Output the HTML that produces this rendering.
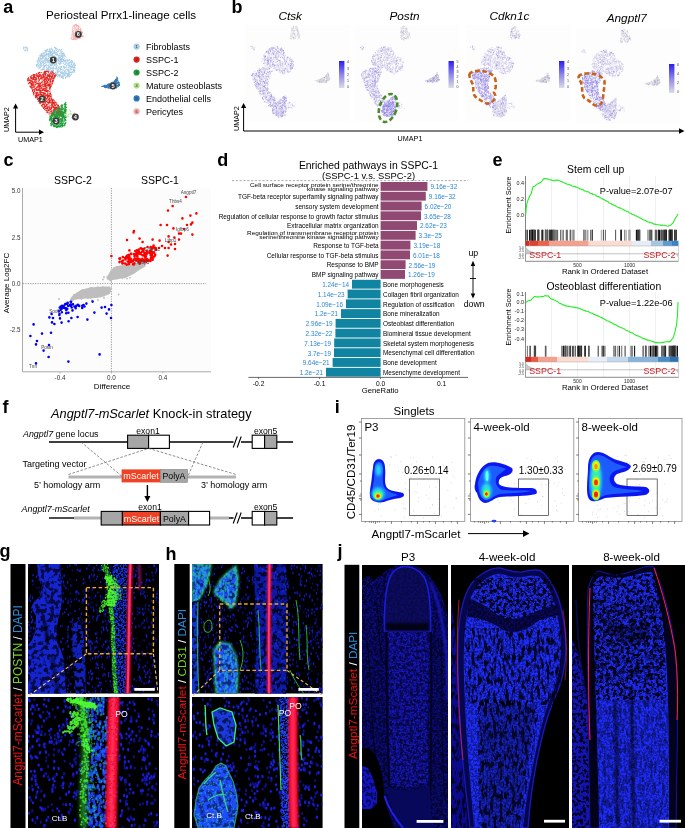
<!DOCTYPE html><html><head><meta charset="utf-8"><style>html,body{margin:0;padding:0;background:#fff;overflow:hidden;width:685px;height:828px;}svg{display:block;position:absolute;left:0;top:0;will-change:transform;} text{font-family:"Liberation Sans",sans-serif;}</style></head><body>
<svg width="685" height="828" viewBox="0 0 685 828">
<rect width="685" height="828" fill="#fff"/>
<text x="3.2" y="13.1" font-size="18" font-weight="bold">a</text>
<text x="46" y="18.5" font-size="11.6">Periosteal Prrx1-lineage cells</text>
<path d="M49.0 51.8h0M57.4 58.7h0M38.3 63.2h0M37.5 60.9h0M53.0 73.5h0M41.0 54.1h0M61.1 77.3h0M59.1 59.7h0M43.2 65.6h0M61.6 58.9h0M57.9 49.0h0M63.2 60.7h0M48.6 65.7h0M54.1 56.6h0M67.8 69.4h0M45.8 65.4h0M57.0 75.0h0M65.2 56.2h0M52.7 71.2h0M42.1 62.6h0M66.6 65.3h0M63.8 66.0h0M59.2 61.6h0M55.0 68.3h0M51.4 68.4h0M36.9 61.8h0M41.2 54.9h0M39.2 61.4h0M58.0 75.3h0M68.8 74.6h0M47.1 60.3h0M43.0 54.4h0M45.3 62.5h0M59.6 55.4h0M50.8 65.1h0M74.1 69.1h0M56.6 66.8h0M72.0 72.0h0M71.0 72.5h0M51.7 59.8h0M40.1 67.3h0M44.4 52.2h0M49.6 48.7h0M40.1 58.6h0M60.6 51.8h0M46.1 58.1h0M50.6 50.9h0M54.6 62.5h0M49.7 55.5h0M57.1 51.7h0M70.5 69.3h0M46.4 58.7h0M57.3 71.9h0M49.2 54.1h0M70.1 72.8h0M68.7 70.7h0M45.1 63.6h0M46.4 69.2h0M44.8 54.3h0M43.9 53.5h0M61.0 75.8h0M69.6 62.3h0M62.1 72.6h0M39.4 68.1h0M72.4 72.0h0M66.0 62.3h0M72.2 72.8h0M75.2 68.0h0M50.0 64.6h0M74.8 67.8h0M46.1 56.4h0M45.6 65.8h0M46.4 60.4h0M50.2 61.7h0M59.3 75.9h0M56.1 64.0h0M53.6 52.9h0M42.9 62.2h0M65.0 64.8h0M49.0 63.6h0M58.2 72.1h0M40.2 64.9h0M45.9 55.9h0M66.9 63.2h0M58.5 71.3h0M72.5 61.2h0M60.5 63.2h0M56.5 69.2h0M54.1 64.1h0M64.0 75.0h0M40.9 61.1h0M38.9 68.4h0M67.4 75.7h0M42.2 69.9h0M62.4 51.6h0M51.9 62.6h0M42.5 60.8h0M56.6 57.9h0M43.8 57.2h0M58.2 61.1h0M61.0 63.4h0M40.2 55.5h0M46.8 51.1h0M58.8 69.4h0M63.5 60.6h0M61.4 72.7h0M54.2 57.9h0M58.1 76.7h0M46.7 51.1h0M57.1 54.6h0M48.5 56.8h0M56.0 52.7h0M65.3 64.6h0M43.6 62.2h0M68.8 60.8h0M55.8 73.7h0M51.7 63.2h0M63.5 78.4h0M64.3 67.4h0M52.2 58.1h0M46.2 52.2h0M70.8 68.5h0M47.3 54.8h0M47.7 61.7h0M42.3 61.3h0M74.9 64.5h0M48.4 58.4h0M55.0 63.1h0M44.0 63.2h0M39.6 59.8h0M48.2 54.4h0M59.4 63.9h0M66.0 68.0h0M64.6 75.1h0M51.6 57.4h0M65.0 67.6h0M71.7 67.1h0M65.4 73.0h0M41.6 63.8h0M56.2 73.7h0M68.2 73.4h0M59.4 75.6h0M63.3 69.2h0M41.3 58.5h0M58.3 67.1h0M61.0 68.8h0M67.9 70.9h0M56.1 64.1h0M65.6 78.2h0M55.8 59.2h0M55.2 68.9h0M66.7 66.7h0M41.9 55.1h0M62.9 69.1h0M63.0 56.3h0M56.7 61.9h0M54.7 50.8h0M54.0 55.6h0M44.4 65.6h0M41.7 63.8h0M68.8 63.3h0M71.5 69.5h0M55.4 47.8h0M54.0 56.7h0M41.6 58.0h0M73.1 69.8h0M50.9 59.6h0M50.4 60.7h0M46.0 55.5h0M56.4 53.1h0M71.4 73.0h0M61.2 76.2h0M73.6 64.6h0M65.3 61.4h0M66.1 67.6h0M54.9 58.0h0M47.9 70.6h0M62.2 56.6h0M58.3 59.6h0M55.9 54.0h0M54.0 51.5h0M49.7 49.9h0M45.6 55.3h0M58.8 75.4h0M66.0 60.2h0M52.6 63.8h0M51.1 57.8h0M56.1 67.1h0M46.8 55.0h0M52.0 61.3h0M71.8 62.1h0M69.0 74.4h0M56.9 68.8h0M73.7 70.1h0M61.9 71.5h0M54.3 64.6h0M61.8 56.7h0M41.1 55.1h0M61.5 69.4h0M57.0 65.7h0M51.5 54.2h0M48.1 61.7h0M74.4 67.6h0M71.4 62.2h0M45.4 54.9h0M74.4 69.5h0M55.9 68.6h0M52.8 55.2h0M62.7 76.6h0M49.5 60.5h0M63.3 53.3h0M67.9 70.7h0M56.2 53.6h0M55.8 53.0h0M44.9 60.3h0M62.6 77.4h0M41.9 59.6h0M38.4 59.6h0M62.6 59.1h0M51.0 57.6h0M47.2 58.2h0M68.9 60.8h0M38.0 62.2h0M43.7 58.7h0M52.4 73.0h0M65.9 75.8h0M49.6 55.7h0M74.3 66.7h0M46.5 69.9h0M48.7 55.8h0M72.7 67.3h0M45.4 62.2h0M51.5 55.0h0M53.2 62.8h0M68.1 70.6h0M68.9 71.7h0M60.3 57.5h0M48.8 58.6h0M37.4 64.7h0M46.6 49.7h0M39.9 63.0h0M64.4 61.3h0M45.4 60.3h0M60.8 68.6h0M65.9 74.1h0M58.7 58.9h0M45.9 54.9h0M59.1 57.4h0M56.3 54.4h0M68.3 67.9h0M55.0 73.2h0M69.6 76.3h0M74.9 65.7h0M70.6 61.4h0M59.8 66.8h0M44.7 58.8h0M41.7 53.5h0M46.2 66.2h0M62.1 53.5h0M63.1 52.9h0M48.5 53.5h0M67.8 64.5h0M51.8 64.6h0M61.6 49.9h0M42.5 69.3h0M52.4 56.1h0M48.5 65.1h0M50.3 60.3h0M50.6 53.3h0M53.0 73.3h0M54.4 52.2h0M36.6 64.6h0M61.6 76.1h0M39.6 66.9h0M50.8 63.1h0M41.8 56.1h0M40.4 62.7h0M55.3 48.7h0M72.2 66.9h0M44.7 59.8h0M56.7 59.3h0M40.9 54.9h0M65.0 75.7h0M37.6 65.0h0M60.0 64.6h0M61.1 56.8h0M52.8 65.6h0M53.0 68.1h0M53.9 61.0h0M36.9 66.8h0M55.6 54.5h0M66.5 72.0h0M54.3 52.7h0M54.9 50.4h0M41.1 60.8h0M39.7 61.1h0M56.4 48.3h0M61.5 49.6h0M65.3 71.9h0M56.5 48.7h0M56.2 59.1h0M65.3 73.1h0M67.5 76.8h0M38.6 58.2h0M44.3 55.4h0M56.2 57.2h0M63.2 75.7h0M40.6 64.0h0M61.5 58.5h0M70.9 64.8h0M59.2 75.2h0M61.2 59.6h0M75.6 65.5h0M50.4 71.5h0M53.7 52.7h0M59.4 68.2h0M60.6 60.8h0M56.5 75.7h0M41.3 54.3h0M40.3 58.4h0M45.0 65.7h0M59.6 53.5h0M61.0 62.2h0M45.7 51.8h0M39.8 67.4h0M70.9 72.0h0M52.1 55.5h0M58.5 58.2h0M61.8 61.2h0M73.5 70.5h0M37.8 64.0h0M52.2 54.6h0M36.5 64.6h0M44.0 66.5h0M56.3 67.5h0M48.4 56.6h0M67.3 69.9h0M65.8 61.9h0M65.7 61.5h0M45.0 50.4h0M49.4 71.0h0M63.8 74.1h0M64.5 55.5h0M58.2 61.0h0M67.5 63.7h0M46.6 67.5h0M46.4 54.6h0M65.8 77.2h0M61.2 69.2h0M62.6 78.3h0M54.8 73.9h0M63.9 74.4h0M53.5 70.2h0M58.8 56.8h0M44.5 66.9h0M49.8 51.5h0M63.7 67.3h0M63.9 70.6h0M38.6 65.9h0M68.8 75.5h0M69.9 73.0h0M61.4 73.4h0M61.3 56.2h0M48.8 60.6h0M47.3 69.9h0M50.7 57.3h0M70.1 66.8h0M37.2 60.2h0M53.5 71.7h0M49.9 69.5h0M57.5 53.9h0M55.7 72.5h0M43.4 62.8h0M47.3 53.9h0M64.0 62.9h0M40.4 67.4h0M63.9 72.2h0M61.1 58.4h0M52.1 59.6h0M44.2 55.4h0M72.0 63.0h0M45.3 61.7h0M57.3 71.1h0M66.1 67.7h0M49.9 57.5h0M62.5 70.7h0M42.8 61.0h0M66.9 65.5h0M41.0 61.8h0M43.7 56.6h0M64.1 74.0h0M45.9 57.5h0M56.9 52.1h0M49.1 53.1h0M75.0 70.3h0M40.1 59.3h0M65.3 60.9h0M43.8 67.4h0M51.5 48.1h0M52.0 72.3h0M63.7 63.0h0M61.3 61.8h0M41.7 66.3h0M52.2 70.7h0M72.3 60.8h0M59.0 71.0h0M52.8 54.3h0M64.9 75.2h0M67.0 69.4h0M70.1 68.7h0M61.7 61.5h0M48.5 67.1h0M39.9 60.4h0M67.3 69.8h0M61.2 55.0h0M52.9 61.6h0M60.9 60.1h0M63.0 76.8h0M43.3 67.9h0M67.1 59.4h0M37.5 64.4h0M73.6 63.6h0M40.0 65.4h0M57.6 70.0h0M56.5 67.5h0M69.2 63.7h0M44.4 68.9h0M51.7 71.4h0M50.2 48.8h0M47.0 59.8h0M52.8 69.3h0M50.1 55.5h0M45.0 70.7h0M73.6 63.9h0M51.7 53.8h0M68.4 67.3h0M54.8 65.0h0M50.1 67.4h0M68.7 73.1h0M54.7 56.4h0M57.9 51.0h0M51.0 55.1h0M53.0 52.9h0M47.2 54.8h0M48.1 62.3h0M53.1 67.4h0M62.4 58.6h0M72.2 72.1h0M62.2 55.0h0M49.9 51.9h0M72.2 72.3h0M60.3 72.0h0M62.7 75.6h0M67.5 73.8h0M43.9 69.2h0M57.2 70.7h0M58.2 55.5h0M45.4 51.5h0M55.7 48.9h0M54.7 51.6h0M55.7 62.9h0M57.6 74.6h0M54.7 65.0h0M62.6 73.9h0M51.0 60.4h0M61.5 67.4h0M37.1 66.5h0M63.3 76.8h0M56.4 62.5h0M64.7 67.0h0M50.6 62.2h0M57.0 71.7h0M44.4 60.9h0M52.9 64.7h0M69.1 59.9h0M56.1 55.7h0M62.2 72.3h0M49.2 57.1h0M48.0 65.8h0M61.4 72.1h0M71.4 64.5h0M72.9 66.5h0M62.3 72.2h0M72.4 66.6h0M60.7 67.1h0M63.9 66.1h0M63.2 53.8h0M62.7 61.7h0M67.0 76.3h0M62.2 58.8h0M68.9 72.2h0M58.5 55.3h0M48.1 60.5h0M48.7 60.8h0M61.7 76.9h0M38.2 65.2h0M68.4 65.4h0M72.7 61.3h0M59.7 77.0h0M52.5 50.3h0M61.8 53.8h0M64.5 74.4h0M61.1 69.7h0M48.4 70.3h0M55.5 48.9h0M50.7 65.4h0M53.5 68.7h0M50.5 67.6h0M61.2 60.4h0M51.4 72.2h0M73.8 72.1h0M58.7 56.4h0M64.1 73.5h0M49.3 66.4h0M60.0 56.9h0M51.1 68.9h0M60.1 75.7h0M52.9 65.8h0M68.6 75.4h0M68.5 74.8h0M58.9 55.8h0M70.0 72.8h0M63.4 76.2h0M49.9 49.7h0M58.1 72.5h0M60.3 68.7h0M54.6 53.6h0M46.2 71.0h0M67.7 61.7h0M59.2 75.7h0M71.4 63.7h0M55.1 65.9h0M43.6 53.2h0M43.2 69.4h0M50.5 65.1h0M52.1 63.6h0M40.2 67.2h0M59.9 58.0h0M70.6 62.6h0M58.7 55.4h0M67.2 60.6h0M73.9 71.6h0M44.0 52.8h0M58.3 74.9h0M59.9 59.7h0M46.3 65.1h0M61.6 77.6h0M62.8 59.6h0M53.9 52.1h0M46.2 58.3h0M67.5 69.7h0M66.2 77.1h0M63.1 56.6h0M59.7 71.3h0M40.2 57.4h0M46.3 51.0h0M55.3 52.4h0M45.5 51.6h0M70.7 75.4h0M41.6 61.3h0M69.7 67.1h0M54.1 57.9h0M68.9 62.3h0M61.1 51.6h0M64.5 64.7h0M46.7 60.2h0M42.2 55.7h0M42.7 62.7h0M62.7 53.8h0M55.1 56.2h0M46.3 53.5h0M39.9 56.3h0M65.1 56.4h0M69.3 63.9h0M43.4 60.9h0M58.9 51.4h0M60.3 62.9h0M47.0 53.6h0M60.5 69.6h0M68.5 65.7h0M65.3 60.1h0M69.7 74.7h0M55.7 47.5h0M72.4 62.3h0M50.7 52.2h0M50.8 66.0h0M53.8 63.5h0M40.8 69.9h0M68.7 74.7h0M48.8 69.8h0M51.3 71.0h0M74.2 62.8h0M56.5 64.0h0M64.0 53.2h0M36.7 66.2h0M59.1 63.7h0M70.8 69.9h0M55.7 63.0h0M47.2 50.9h0M52.2 51.4h0M59.7 74.6h0M41.9 65.3h0M69.0 77.0h0M51.5 60.5h0M69.6 63.8h0M45.6 57.7h0M68.2 76.2h0M68.6 74.1h0M38.1 63.6h0M46.0 60.5h0M61.3 58.7h0M57.2 49.2h0M53.3 63.2h0M74.8 71.9h0M73.5 67.3h0M68.4 75.3h0M61.7 55.5h0M63.1 55.7h0M57.7 76.6h0M60.9 55.0h0M56.8 60.9h0M48.2 67.7h0M40.8 66.0h0M74.2 63.4h0M46.7 61.9h0M57.4 51.7h0M47.7 60.0h0M47.5 54.8h0M39.5 64.5h0M69.6 66.5h0M58.8 67.8h0M44.0 69.7h0M54.4 64.5h0M60.5 62.0h0M48.4 54.8h0M44.9 63.4h0M51.3 65.7h0M58.3 62.7h0M70.9 61.1h0M38.5 59.4h0M53.6 70.5h0M74.4 70.6h0M42.2 57.8h0M50.1 68.6h0M60.7 74.2h0M68.8 63.6h0M65.6 70.8h0M66.4 62.2h0M67.4 69.7h0M66.6 65.7h0M58.9 60.4h0M67.3 74.9h0M60.3 59.1h0M54.1 61.7h0M64.9 56.4h0M51.6 64.8h0M51.4 57.3h0M67.5 74.2h0M56.0 61.2h0M43.4 56.7h0M41.8 65.4h0M59.3 49.8h0M69.7 73.8h0M58.6 62.9h0M72.8 71.8h0M56.7 63.6h0M63.4 59.5h0M50.3 66.0h0M63.1 63.8h0M40.0 59.0h0M52.0 65.0h0M59.0 75.2h0M53.6 67.0h0M57.2 73.1h0M42.8 57.2h0M56.5 50.5h0M71.8 69.1h0M71.5 60.5h0M42.3 56.3h0M56.5 63.2h0M43.5 52.8h0M61.2 66.3h0M52.5 72.2h0M48.3 69.1h0M69.7 65.8h0M62.7 53.3h0M55.9 64.7h0M46.6 67.7h0M59.0 60.2h0M56.9 73.3h0M60.5 72.8h0M64.6 58.3h0M42.8 55.5h0M59.3 58.2h0M54.0 59.3h0M53.6 66.8h0M45.7 59.5h0M55.4 72.4h0M45.7 52.6h0M50.3 53.0h0M58.5 50.7h0M57.4 59.3h0M52.1 49.1h0M50.0 54.8h0M43.6 56.1h0M62.6 57.9h0M42.2 69.6h0M39.7 55.6h0M53.7 73.8h0M50.1 70.1h0M56.2 54.3h0M54.1 51.2h0M64.3 55.3h0M72.0 65.8h0M50.7 54.9h0M60.3 53.8h0M56.5 64.4h0M51.4 68.0h0M58.7 56.9h0M51.6 49.8h0M48.8 68.2h0M40.4 65.0h0M50.5 63.0h0M47.9 49.1h0M48.5 54.2h0M41.0 69.9h0M47.3 59.9h0M72.4 71.8h0M71.3 74.6h0M41.3 55.8h0M62.5 58.2h0M52.5 68.1h0M64.0 54.9h0M61.2 52.8h0M65.4 69.8h0M42.5 53.3h0M48.1 59.2h0M61.5 52.7h0M69.6 65.2h0M64.7 55.2h0M53.4 68.9h0M69.4 71.8h0M70.2 66.4h0M63.8 59.6h0M65.9 73.5h0M47.2 49.9h0M73.2 69.1h0M65.5 73.6h0M61.1 61.5h0M53.1 63.4h0M64.1 72.8h0M46.4 64.5h0M74.8 67.4h0M57.8 55.0h0M38.4 58.5h0M52.5 53.4h0M48.4 51.4h0M64.3 68.5h0M45.5 54.7h0M56.6 61.2h0M41.7 65.0h0M57.9 71.3h0M42.8 68.3h0M59.9 61.8h0M66.6 73.6h0M40.6 56.3h0M50.4 53.6h0M43.9 69.5h0M53.9 50.6h0M49.0 62.0h0M50.5 52.4h0M75.2 65.0h0M40.4 62.6h0M53.4 53.1h0M72.8 67.6h0M61.1 76.9h0M62.1 55.0h0M45.8 51.4h0M43.4 67.4h0M69.8 76.7h0M69.2 70.8h0M49.1 52.9h0M50.7 64.6h0M58.7 67.1h0M68.8 69.6h0M55.8 63.0h0M42.3 56.6h0M59.2 49.6h0M53.6 53.1h0M69.6 74.4h0M67.5 60.6h0M47.3 68.2h0M56.6 60.5h0M49.5 61.0h0M62.6 73.4h0M47.8 61.2h0M58.5 58.1h0M48.9 61.7h0M74.5 66.8h0M63.1 66.5h0M47.9 65.3h0M61.9 56.6h0M63.1 61.3h0M39.4 68.1h0M50.9 65.6h0M52.7 64.0h0M58.6 59.7h0M71.6 64.5h0M46.1 50.0h0M57.2 55.0h0M55.6 64.7h0M45.1 65.3h0M40.5 63.4h0M59.5 49.6h0M52.3 49.4h0M58.0 69.9h0M51.7 52.5h0M74.4 65.0h0M45.5 58.9h0M36.6 66.0h0M44.5 56.6h0M64.3 60.6h0M71.5 66.9h0M70.9 65.0h0M49.7 71.4h0M63.2 73.4h0M40.9 58.9h0M65.5 77.3h0M60.2 50.2h0M58.0 72.7h0M63.0 55.1h0M43.7 61.3h0M69.5 65.6h0M43.4 64.7h0M47.6 69.0h0M51.2 51.6h0M71.0 64.2h0M63.6 72.9h0M49.7 51.8h0M56.1 74.9h0M63.2 59.6h0M55.0 52.1h0M69.8 59.6h0M70.9 66.5h0M39.0 57.5h0M42.8 58.6h0M54.7 65.5h0M51.5 58.3h0M36.2 65.5h0M62.8 55.7h0M46.9 63.0h0M46.5 65.2h0M58.4 71.7h0M70.9 71.8h0M61.3 67.3h0M50.5 56.0h0M67.8 74.9h0M73.5 68.8h0M48.2 71.4h0M65.6 63.3h0M61.4 58.2h0M58.0 60.0h0M38.4 57.8h0M55.3 58.8h0M45.7 54.5h0M50.0 51.3h0M54.1 61.3h0M58.7 56.7h0M48.1 56.9h0M65.1 64.6h0M72.8 65.7h0M50.3 71.8h0M38.7 62.5h0M42.6 55.6h0M64.2 54.0h0M52.0 53.4h0M60.1 74.7h0M61.9 53.3h0M65.4 77.8h0M60.0 49.5h0M68.4 75.0h0M49.6 51.4h0M43.5 64.2h0M71.0 67.5h0M49.1 71.0h0M62.0 60.0h0M63.2 57.8h0M38.3 60.3h0M37.8 67.0h0M49.4 62.8h0M59.9 55.2h0M54.5 47.4h0M73.0 65.1h0M60.6 70.2h0M49.2 50.0h0M68.6 60.5h0M57.5 65.8h0M58.2 68.0h0M60.1 57.6h0M64.5 71.4h0" stroke="#a6cbe3" stroke-width="1.1" stroke-linecap="round" fill="none"/>
<path d="M27.4 50.9h0M25.2 47.4h0M25.7 50.7h0M25.3 49.3h0M27.4 47.8h0M25.9 46.9h0M27.2 50.6h0M26.5 47.7h0M27.6 48.3h0M24.8 50.3h0M24.9 50.6h0M23.6 47.3h0M23.8 48.2h0M23.6 47.0h0M27.3 49.2h0M23.5 48.8h0M27.3 50.1h0M24.0 47.7h0M25.4 50.5h0M26.2 48.3h0" stroke="#a6cbe3" stroke-width="1.1" stroke-linecap="round" fill="none"/>
<path d="M78.8 38.1h0M73.8 38.2h0M75.9 36.5h0M75.0 24.6h0M72.5 39.6h0M71.1 38.6h0M73.0 35.8h0M75.6 38.7h0M80.7 38.1h0M74.2 36.7h0M77.8 27.9h0M76.8 25.9h0M75.3 38.1h0M72.6 31.9h0M72.8 31.0h0M73.4 35.0h0M73.0 35.9h0M77.8 26.0h0M75.8 32.0h0M73.9 39.5h0M82.9 35.8h0M74.7 27.0h0M74.6 25.3h0M76.5 33.0h0M75.9 24.4h0M80.3 34.5h0M78.3 32.9h0M82.8 35.5h0M76.4 29.2h0M76.7 39.6h0M76.2 30.3h0M76.5 26.5h0M79.2 38.8h0M74.4 33.9h0M76.1 28.0h0M73.7 26.0h0M82.4 36.6h0M80.4 29.3h0M79.7 32.9h0M75.3 39.6h0M82.5 32.3h0M74.2 34.1h0M81.0 30.2h0M80.6 30.4h0M78.1 33.9h0M80.1 29.3h0M79.5 32.8h0M74.0 33.9h0M74.6 38.6h0M77.4 35.6h0M78.0 31.7h0M74.0 26.4h0M78.1 32.5h0M73.3 37.2h0M77.2 34.3h0M76.1 37.3h0M73.1 28.2h0M72.4 29.8h0M81.8 32.4h0M77.1 25.6h0M80.4 31.3h0M77.5 36.8h0M80.2 30.0h0M78.0 28.0h0M76.0 29.6h0M76.1 24.5h0M73.7 33.2h0M80.7 28.5h0M75.4 28.0h0M79.6 37.8h0M73.7 30.9h0M81.7 34.0h0M76.0 24.9h0M77.0 30.0h0M80.6 28.9h0M76.5 34.4h0M76.2 33.3h0M76.0 34.7h0M75.4 25.3h0M81.2 30.2h0M78.1 32.0h0M83.2 36.2h0M77.2 31.5h0M77.4 38.3h0M76.9 32.0h0M77.9 37.2h0M80.1 35.9h0M76.4 24.8h0M80.2 33.0h0M81.4 36.4h0M72.6 27.7h0M72.0 37.1h0M81.2 33.1h0M71.7 35.0h0M80.6 31.8h0M71.7 35.1h0M76.6 33.4h0M75.5 32.4h0M74.7 28.3h0M75.2 28.2h0M82.6 33.0h0M77.9 30.8h0M82.7 36.9h0M78.2 30.1h0M77.3 31.9h0M78.9 30.0h0M78.2 30.7h0M78.6 29.3h0M74.7 36.8h0M74.9 35.4h0M81.8 33.6h0M77.1 39.0h0M77.0 38.1h0M79.0 27.0h0M81.8 32.1h0M80.1 34.9h0M75.0 27.5h0M76.6 34.6h0M74.5 38.5h0M71.8 35.2h0M71.6 37.4h0M75.0 27.9h0M78.9 29.2h0M78.6 26.6h0M76.3 24.7h0M76.1 34.3h0M74.0 32.8h0M72.3 31.5h0M80.8 31.0h0M74.9 29.7h0M81.1 32.0h0M77.5 37.9h0M79.1 32.7h0M74.7 38.3h0M75.6 39.1h0M75.5 31.3h0M74.3 35.9h0M73.4 36.6h0M75.0 25.3h0M78.5 25.7h0M78.4 36.7h0M79.0 31.5h0M72.3 34.4h0M72.8 33.3h0M75.8 30.1h0M80.0 26.8h0M73.3 39.1h0M75.5 37.5h0M73.0 25.7h0M77.7 32.7h0M72.6 31.6h0M73.2 32.7h0M77.8 30.0h0M73.7 30.6h0M73.7 26.2h0M74.2 38.0h0M77.8 38.3h0M71.2 39.1h0M77.6 36.7h0M78.7 35.1h0M74.1 36.1h0M73.1 28.4h0M78.0 28.8h0M78.8 27.9h0M79.0 36.6h0M74.3 33.7h0M79.3 35.1h0M81.9 31.5h0M76.5 25.6h0M74.3 35.8h0" stroke="#f6a9a9" stroke-width="1.1" stroke-linecap="round" fill="none"/>
<path d="M115.8 87.4h0M115.3 84.1h0M117.1 85.9h0M119.3 84.6h0M116.7 87.7h0M118.2 85.4h0M116.8 86.1h0M116.7 85.9h0M117.5 80.1h0M119.3 82.9h0M105.8 86.6h0M110.4 87.4h0M114.0 85.0h0M108.4 85.9h0M116.1 84.7h0M113.4 86.5h0M116.9 86.0h0M116.4 81.5h0M112.5 82.0h0M107.7 86.6h0M114.3 81.8h0M113.6 86.2h0M101.8 86.4h0M105.3 87.2h0M112.6 87.2h0M119.2 82.6h0M116.8 78.4h0M109.6 86.2h0M117.4 82.7h0M108.2 87.6h0M118.0 84.5h0M109.4 88.0h0M107.9 84.4h0M110.9 84.6h0M118.2 82.5h0M102.1 86.5h0M114.0 83.2h0M109.5 85.5h0M117.9 85.2h0M108.5 85.5h0M115.5 80.0h0M119.6 84.3h0M116.3 84.6h0M108.2 88.1h0M114.5 84.8h0M111.9 86.4h0M116.1 80.7h0M117.7 78.4h0M104.9 87.4h0M109.6 86.5h0M113.1 85.8h0M115.4 82.1h0M111.6 84.5h0M115.3 79.8h0M107.9 87.5h0M116.7 83.3h0M107.7 87.8h0M115.3 84.6h0M108.8 86.2h0M113.3 88.1h0M113.0 84.8h0M115.7 81.2h0M118.9 85.4h0M116.3 80.7h0M104.5 87.0h0M111.1 82.8h0M113.7 87.3h0M110.5 86.7h0M113.7 83.4h0M106.2 86.6h0M116.0 86.6h0M115.3 82.5h0M115.1 86.4h0M113.3 87.0h0M114.4 83.8h0M112.5 86.4h0M113.8 88.2h0M116.2 80.8h0M116.9 80.4h0M111.5 86.2h0M105.1 86.0h0M105.0 86.6h0M116.4 82.9h0M113.0 85.2h0M110.7 83.6h0M105.3 86.9h0M109.6 84.7h0M114.5 82.0h0M104.7 85.3h0M111.6 84.9h0M119.5 85.5h0M114.7 85.1h0M114.7 84.1h0M107.7 87.3h0M116.3 82.0h0M103.9 85.8h0M110.0 88.4h0M118.3 86.0h0M110.0 86.4h0M111.7 82.6h0M114.5 87.8h0M114.9 81.1h0M116.4 86.6h0M116.8 85.9h0M117.9 82.9h0M112.9 87.1h0M110.2 84.2h0M118.2 81.1h0M109.7 83.5h0M113.1 85.0h0M113.8 85.1h0M114.1 82.2h0M116.0 86.4h0M113.0 85.4h0M105.6 87.7h0M118.7 84.2h0M119.5 85.0h0M104.6 86.2h0M103.0 85.9h0M111.6 86.4h0M110.5 83.9h0M112.3 86.1h0M116.8 86.2h0M114.9 86.7h0M117.1 77.7h0M112.5 88.2h0M114.2 83.7h0M108.7 83.8h0M113.3 87.5h0M114.9 86.1h0M118.3 86.5h0M113.9 86.7h0M109.2 87.0h0M109.4 85.0h0M119.6 84.3h0M118.7 85.6h0M115.3 79.8h0M107.2 85.7h0M115.7 87.2h0M116.1 82.9h0M103.0 86.4h0M111.1 84.3h0M111.2 87.8h0M108.7 87.5h0M114.1 88.1h0M106.5 87.4h0M114.1 84.8h0M115.2 85.5h0M119.3 84.2h0M112.2 84.4h0M112.4 84.8h0M119.4 84.8h0M106.2 85.7h0M114.1 81.8h0M116.8 76.9h0M116.7 79.2h0M117.2 86.1h0M113.5 83.5h0M113.4 83.3h0M107.9 85.2h0M103.6 86.0h0M105.7 86.1h0M115.5 79.2h0M113.2 82.2h0M113.6 86.5h0M109.7 85.0h0M118.8 83.2h0M115.1 83.3h0M117.3 77.8h0M118.9 82.8h0M117.4 79.0h0M118.6 82.0h0M113.4 82.7h0M115.1 82.9h0M112.5 84.3h0M103.8 86.1h0M119.0 85.4h0M117.3 80.9h0M104.6 85.5h0M112.1 87.8h0M108.6 84.6h0M110.7 87.9h0M110.3 88.4h0M116.8 78.9h0M107.5 84.5h0M104.1 86.4h0M111.7 85.0h0M110.9 83.5h0M108.8 87.2h0M113.6 86.8h0M117.1 86.2h0M113.4 82.7h0M113.5 83.5h0M116.2 87.3h0M111.0 84.6h0M112.9 82.2h0M113.8 86.1h0M113.9 85.0h0M108.8 88.0h0M115.0 80.8h0M113.6 85.7h0M118.9 83.4h0M107.8 85.0h0M108.0 88.0h0M115.6 86.5h0M113.2 84.1h0M114.4 88.1h0M104.7 85.7h0M116.6 83.7h0M117.1 87.0h0M106.0 85.0h0M112.9 84.9h0M106.0 86.0h0M114.8 80.6h0M118.7 83.2h0M114.2 81.1h0M116.1 86.1h0M116.3 86.0h0M113.6 83.3h0M111.1 85.2h0M113.2 84.8h0M112.7 87.3h0M115.7 86.4h0M114.6 88.0h0M116.1 80.2h0M107.0 85.2h0M114.6 82.9h0M114.5 85.7h0M109.7 84.1h0M115.6 81.7h0M116.8 78.5h0M104.3 85.7h0M105.9 85.4h0M110.0 88.0h0M109.8 85.1h0M103.0 86.3h0M117.2 80.4h0M104.3 85.4h0M108.9 86.4h0M117.4 83.4h0M112.5 87.3h0M117.1 86.3h0M105.3 87.4h0M108.8 84.1h0M117.9 85.6h0M105.6 87.5h0M114.8 85.6h0M116.4 79.5h0M117.0 78.1h0M116.6 80.6h0M117.0 86.7h0M118.8 85.4h0M113.9 84.3h0M107.4 85.9h0M115.9 86.9h0M116.1 79.2h0M116.2 87.9h0M118.0 82.1h0M118.1 85.3h0M106.9 87.0h0" stroke="#2f78b8" stroke-width="1.1" stroke-linecap="round" fill="none"/>
<path d="M47.1 75.9h0M47.6 109.1h0M45.1 93.3h0M50.3 80.6h0M39.7 87.7h0M42.1 104.0h0M42.0 75.2h0M45.3 108.7h0M42.2 88.5h0M51.8 113.8h0M34.1 84.9h0M44.5 101.7h0M53.6 110.9h0M58.5 114.9h0M46.6 77.6h0M49.1 108.0h0M41.8 98.7h0M36.1 83.7h0M41.7 94.6h0M43.4 75.2h0M52.1 105.4h0M35.3 82.8h0M45.1 79.1h0M48.1 112.6h0M52.2 105.5h0M51.9 103.7h0M54.9 102.2h0M35.6 80.1h0M32.6 89.9h0M48.6 84.9h0M32.7 81.1h0M30.0 79.9h0M38.1 94.2h0M33.4 93.1h0M43.5 80.1h0M47.7 77.7h0M51.5 115.5h0M41.1 87.3h0M41.9 87.2h0M47.0 71.3h0M56.7 104.5h0M39.4 100.0h0M42.1 84.7h0M46.4 101.5h0M52.7 114.7h0M32.1 87.8h0M56.8 107.4h0M47.7 102.2h0M46.2 89.5h0M33.4 76.3h0M58.4 107.8h0M43.8 93.8h0M39.2 95.5h0M43.7 86.3h0M40.5 99.0h0M40.0 88.8h0M45.9 83.7h0M27.8 79.9h0M32.1 81.5h0M29.0 83.1h0M52.7 104.1h0M58.9 114.6h0M42.2 79.9h0M53.2 110.5h0M40.5 75.3h0M57.6 105.7h0M51.8 100.0h0M30.9 78.5h0M42.2 89.0h0M35.9 81.7h0M51.7 79.1h0M33.3 78.0h0M50.8 72.5h0M47.1 91.8h0M38.8 89.2h0M60.0 110.5h0M32.0 79.1h0M40.4 102.8h0M41.5 101.8h0M46.9 104.5h0M60.4 113.7h0M48.5 85.6h0M40.2 83.4h0M58.6 107.4h0M54.6 108.8h0M44.1 83.7h0M47.1 112.7h0M47.5 90.7h0M54.2 75.7h0M36.7 76.2h0M52.4 82.8h0M52.6 100.8h0M52.3 80.9h0M49.9 83.8h0M41.9 97.3h0M55.3 105.9h0M43.5 76.5h0M53.2 77.7h0M50.8 73.5h0M52.9 77.0h0M49.3 88.3h0M43.3 92.6h0M52.2 104.5h0M33.5 77.3h0M33.5 94.0h0M38.8 78.5h0M49.1 95.5h0M55.2 102.4h0M53.1 81.7h0M60.7 113.5h0M46.4 89.6h0M32.9 77.3h0M43.5 93.7h0M36.4 87.9h0M46.4 106.0h0M47.6 78.5h0M46.2 85.4h0M28.0 80.4h0M31.3 84.1h0M49.0 96.9h0M49.2 96.0h0M39.6 98.8h0M46.4 80.5h0M44.8 76.4h0M50.9 113.6h0M52.0 71.1h0M46.9 71.4h0M47.6 108.9h0M27.5 80.3h0M45.0 85.9h0M51.4 74.1h0M56.1 116.1h0M36.5 77.8h0M39.7 101.4h0M49.9 78.4h0M35.9 77.5h0M32.5 77.9h0M47.6 107.8h0M47.1 96.8h0M41.4 96.0h0M41.8 81.9h0M40.6 86.4h0M50.5 109.4h0M42.8 94.1h0M29.9 86.3h0M41.8 85.2h0M35.6 78.1h0M37.7 85.9h0M42.0 78.6h0M38.7 75.7h0M53.0 104.0h0M44.9 78.7h0M50.1 75.2h0M34.8 89.3h0M33.9 75.0h0M38.7 83.2h0M50.5 81.2h0M41.0 102.7h0M42.1 78.2h0M44.1 79.9h0M50.4 93.8h0M59.7 108.5h0M43.6 77.5h0M43.9 76.8h0M51.0 103.1h0M55.0 76.2h0M38.3 73.5h0M47.4 104.3h0M52.1 76.3h0M40.3 101.9h0M58.8 107.2h0M33.9 94.9h0M43.9 86.5h0M40.1 94.5h0M47.6 81.2h0M36.7 94.1h0M44.6 90.3h0M50.2 79.5h0M45.6 83.7h0M54.0 103.4h0M44.9 88.3h0M37.2 89.5h0M51.8 108.7h0M43.9 104.6h0M34.5 91.8h0M39.5 85.1h0M52.7 80.5h0M49.9 102.1h0M49.2 102.9h0M36.5 73.8h0M39.6 72.5h0M38.8 76.0h0M54.8 104.9h0M44.1 88.0h0M36.4 93.4h0M51.9 112.2h0M56.7 110.9h0M42.4 90.4h0M33.4 78.3h0M56.8 112.0h0M42.0 79.8h0M42.4 89.3h0M47.8 82.7h0M48.9 79.7h0M48.4 84.5h0M47.5 97.4h0M38.3 72.7h0M38.4 100.6h0M48.1 94.5h0M31.3 80.8h0M37.9 90.2h0M40.2 72.7h0M54.9 108.3h0M54.2 109.7h0M46.2 88.8h0M55.0 75.8h0M39.9 90.9h0M44.8 84.3h0M44.9 93.7h0M39.5 86.4h0M48.5 96.9h0M36.9 74.9h0M45.6 86.1h0M38.9 90.2h0M41.1 78.5h0M50.2 101.6h0M42.6 89.7h0M28.0 81.1h0M50.6 93.9h0M43.5 80.1h0M51.3 82.9h0M49.6 77.3h0M48.5 78.9h0M44.8 85.4h0M46.3 77.2h0M43.9 99.4h0M31.7 85.2h0M50.8 96.1h0M48.6 106.9h0M47.0 81.2h0M46.8 105.6h0M39.7 91.6h0M60.9 108.8h0M49.8 75.9h0M48.4 72.5h0M59.7 115.7h0M52.5 83.3h0M51.1 95.5h0M48.8 76.6h0M32.6 84.5h0M58.7 111.0h0M59.4 108.3h0M52.6 81.5h0M46.3 99.2h0M34.8 81.0h0M44.8 94.1h0M53.1 111.3h0M39.5 80.6h0M50.0 89.7h0M45.4 78.1h0M44.7 107.2h0M30.3 83.7h0M49.2 93.2h0M40.2 97.6h0M34.6 91.1h0M46.3 98.7h0M48.9 76.8h0M57.2 107.2h0M50.7 108.5h0M42.3 102.0h0M44.8 77.9h0M40.6 77.8h0M33.6 92.9h0M45.8 91.2h0M44.6 109.5h0M45.8 81.0h0M52.4 81.5h0M47.0 100.8h0M40.0 93.1h0M51.2 78.1h0M46.3 104.7h0M35.7 74.9h0M35.8 75.0h0M44.1 82.5h0M37.5 92.2h0M52.3 76.2h0M38.5 76.0h0M51.4 106.9h0M40.7 85.4h0M44.9 91.3h0M42.3 106.4h0M33.2 89.7h0M50.1 96.7h0M43.1 97.4h0M35.6 96.6h0M48.9 100.1h0M31.6 84.8h0M51.9 104.5h0M50.0 101.3h0M38.4 98.5h0M38.8 76.9h0M50.5 84.2h0M46.1 108.2h0M39.9 79.3h0M40.8 94.1h0M41.5 76.6h0M45.3 84.8h0M42.2 81.5h0M49.6 109.3h0M36.8 76.0h0M42.4 106.1h0M36.7 78.0h0M45.2 90.6h0M59.8 112.3h0M35.3 96.8h0M41.6 72.6h0M37.6 98.0h0M51.9 73.9h0M34.8 74.7h0M30.2 79.9h0M45.1 77.3h0M35.8 82.1h0M53.0 75.5h0M47.9 110.7h0M51.3 98.0h0M52.2 83.8h0M44.4 79.6h0M42.3 84.0h0M47.5 84.8h0M44.4 81.5h0M44.6 104.1h0M40.1 90.0h0M61.3 112.1h0M48.4 80.4h0M33.1 82.9h0M48.6 79.9h0M43.2 103.8h0M49.7 102.6h0M28.5 79.8h0M41.9 88.2h0M51.4 105.1h0M49.8 89.5h0M46.9 94.7h0M53.0 103.9h0M59.9 109.3h0M37.9 87.9h0M55.0 109.8h0M33.0 78.2h0M46.9 80.8h0M38.8 75.7h0M37.6 83.3h0M42.2 88.5h0M47.4 94.2h0M35.6 84.2h0M61.6 111.8h0M55.3 103.0h0M46.2 108.4h0M36.3 89.4h0M47.1 106.8h0M49.0 98.6h0M59.3 108.4h0M46.8 86.0h0M30.6 86.3h0M51.7 113.8h0M49.6 101.5h0M59.8 106.8h0M42.6 92.2h0M50.9 112.1h0M31.5 77.2h0M44.3 86.4h0M49.1 79.0h0M35.3 85.0h0M44.2 89.2h0M49.6 94.2h0M38.3 98.9h0M51.4 115.4h0M47.3 71.6h0M40.4 83.0h0M48.7 74.0h0M46.0 88.3h0M44.2 89.6h0M57.5 116.4h0M53.5 73.1h0M55.9 112.2h0M35.7 97.5h0M40.3 84.6h0M38.6 96.0h0M43.1 96.4h0M52.4 115.6h0M48.8 93.0h0M49.2 95.5h0M51.7 114.6h0M49.7 107.8h0M35.3 88.5h0M45.5 98.9h0M38.4 98.0h0M45.1 88.7h0M54.1 114.0h0M40.9 96.2h0M38.5 78.2h0M31.7 85.0h0M51.5 97.7h0M44.8 77.6h0M55.7 108.8h0M53.8 106.6h0M49.2 109.3h0M56.2 113.4h0M51.0 110.0h0M46.8 83.7h0M35.8 96.0h0M51.4 102.0h0M30.4 84.0h0M30.7 87.1h0M29.9 82.4h0M50.2 111.2h0M41.3 91.7h0M52.0 107.1h0M45.6 103.2h0M31.5 88.7h0M37.3 84.0h0M52.9 80.9h0M38.4 84.0h0M43.8 88.5h0M59.3 114.2h0M42.7 97.1h0M36.1 75.7h0M44.6 106.3h0M32.5 90.9h0M52.9 113.5h0M50.1 85.2h0M45.0 84.2h0M42.6 92.5h0M58.9 112.7h0M56.7 108.7h0M43.4 89.9h0M52.6 75.1h0M40.1 90.1h0M47.2 112.0h0M39.8 75.9h0M47.4 91.6h0M39.3 90.2h0M47.7 96.0h0M41.9 82.5h0M38.0 93.7h0M46.7 80.5h0M28.9 78.3h0M45.8 95.5h0M50.4 102.7h0M49.9 81.3h0M48.9 83.8h0M42.6 81.7h0M33.5 79.3h0M49.9 89.1h0M46.7 79.8h0M45.6 100.4h0M30.5 86.4h0M57.4 107.0h0M47.1 108.5h0M46.1 88.9h0M46.3 105.8h0M44.1 72.7h0M53.7 100.3h0M42.5 104.7h0M50.4 80.5h0M45.7 98.5h0M52.5 80.1h0M37.9 86.8h0M30.4 87.0h0M32.2 75.4h0M35.8 94.7h0M53.2 103.0h0M46.6 82.7h0M60.2 115.0h0M38.2 80.1h0M34.4 76.4h0M39.9 76.5h0M33.3 82.5h0M47.2 91.5h0M37.7 95.2h0M54.1 104.3h0M43.6 86.2h0M48.3 75.5h0M59.4 111.8h0M35.3 95.6h0M44.4 101.6h0M28.4 83.6h0M31.1 77.8h0M45.5 79.0h0M54.8 75.4h0M48.8 110.6h0M31.4 81.0h0M54.1 105.5h0M48.0 75.6h0M54.4 104.3h0M41.4 105.5h0M43.5 108.4h0M37.5 96.1h0M61.1 114.6h0M51.6 104.5h0M48.2 71.7h0M47.8 108.5h0M28.4 77.3h0M34.3 77.7h0M47.4 77.0h0M56.4 104.7h0M44.3 93.6h0M55.1 77.0h0M36.3 82.0h0M43.1 100.8h0M46.9 111.9h0M44.9 94.6h0M38.0 76.7h0M41.6 72.6h0M52.5 105.9h0M47.8 106.7h0M32.9 86.8h0M55.8 108.0h0M34.4 75.9h0M52.3 105.3h0M49.7 106.9h0M45.1 96.9h0M50.0 98.1h0M44.3 105.8h0M47.0 76.9h0M41.9 90.4h0M42.1 96.8h0M39.7 89.0h0M41.9 88.1h0M40.8 91.6h0M47.7 87.9h0M57.6 114.2h0M37.0 92.4h0M38.3 73.7h0M58.2 109.5h0M35.4 82.7h0M51.4 107.6h0M43.4 88.8h0M57.2 110.5h0M43.1 77.7h0M50.3 92.8h0M58.2 113.9h0M48.6 75.6h0M47.6 90.4h0M52.6 76.6h0M35.0 86.8h0M47.1 85.9h0M48.2 76.1h0M41.4 99.7h0M49.3 86.8h0M46.6 78.9h0M37.7 99.4h0M35.9 98.0h0M32.5 83.1h0M32.8 79.8h0M31.6 80.8h0M38.6 89.2h0M43.6 89.2h0M54.1 112.5h0M45.4 102.4h0M40.3 83.5h0M39.6 103.1h0M43.1 95.2h0M34.2 79.1h0M46.0 71.1h0M29.4 83.0h0M46.3 86.0h0M35.7 84.4h0M36.8 86.9h0M54.7 107.3h0M51.4 111.7h0M49.9 76.2h0M28.6 78.6h0M36.0 95.3h0M42.0 82.1h0M38.9 73.1h0M49.9 87.4h0M30.5 80.1h0M55.2 116.0h0M49.5 102.4h0M36.9 83.5h0M39.2 79.6h0M35.7 78.6h0M49.0 101.2h0M44.9 79.3h0M33.1 82.1h0M45.0 92.9h0M46.4 104.4h0M54.4 76.9h0M51.1 76.0h0M51.0 107.5h0M41.3 78.1h0M50.1 85.7h0M31.7 78.6h0M41.1 76.8h0M40.5 96.4h0M46.3 89.6h0M55.0 75.0h0M57.3 113.4h0M31.1 82.7h0M38.3 89.7h0M45.8 75.6h0M51.7 107.6h0M54.9 111.5h0M38.1 77.7h0M53.7 102.9h0M40.0 86.8h0M38.9 85.8h0M45.0 105.3h0M57.2 106.0h0M46.4 87.7h0M30.0 80.0h0M46.4 95.8h0M41.4 96.6h0M30.6 77.4h0M50.5 100.5h0M55.2 102.9h0M54.3 78.0h0M45.6 106.4h0M58.5 105.4h0M40.9 93.0h0M54.4 102.3h0M44.0 107.7h0M46.7 108.0h0M38.3 83.0h0M42.7 74.6h0M58.8 109.6h0M46.6 91.4h0M37.8 98.7h0M31.3 86.9h0M61.5 109.4h0M36.6 73.6h0M45.5 84.8h0M50.6 96.8h0M47.9 84.8h0M52.7 102.7h0M43.2 84.2h0M48.6 79.6h0M57.1 111.4h0M56.9 108.5h0M44.1 79.1h0M39.2 98.5h0M38.5 85.0h0M47.6 109.0h0M52.7 116.3h0M46.6 87.6h0M60.1 111.3h0M39.9 97.8h0M49.8 75.4h0M43.1 107.6h0M60.9 113.6h0M45.6 83.6h0M52.6 101.8h0M46.6 110.0h0M47.1 77.7h0M33.5 89.9h0M47.7 90.7h0M52.0 77.1h0M57.2 111.6h0M42.1 81.9h0M34.3 74.5h0M51.3 76.0h0M34.8 91.2h0M38.1 92.9h0M32.7 89.5h0M51.5 85.9h0M50.4 88.0h0M43.5 102.5h0M48.3 90.5h0M33.5 92.3h0M38.5 81.2h0M49.1 105.0h0M49.8 110.9h0M34.1 86.9h0M37.7 92.9h0M53.1 100.0h0M49.1 80.3h0M48.7 95.9h0M44.5 72.7h0M37.5 99.0h0M55.3 76.0h0M45.3 90.4h0M59.2 113.2h0M52.8 103.2h0M49.1 85.4h0M45.6 71.9h0M38.9 87.0h0M58.6 108.5h0M55.3 107.3h0M54.7 76.6h0M56.5 109.1h0M45.1 81.8h0M54.0 107.9h0M54.1 113.6h0M38.4 86.7h0M42.2 76.9h0M41.5 105.2h0M51.6 111.8h0M41.3 97.1h0M37.9 76.7h0M52.6 99.3h0M40.8 83.4h0M49.1 113.9h0M33.0 83.2h0M44.8 73.7h0M37.6 95.8h0M47.2 100.3h0M47.5 107.1h0M31.4 76.1h0M44.3 71.3h0M36.1 88.6h0M36.1 82.2h0M38.3 90.1h0M39.6 85.9h0M44.5 96.8h0M31.1 85.7h0M48.6 102.0h0M49.0 99.5h0M40.2 74.2h0M57.3 112.6h0M33.0 86.9h0M55.7 109.3h0M36.1 97.4h0M50.6 81.7h0M40.4 75.6h0M31.8 83.8h0M49.4 100.3h0M45.4 110.3h0M53.3 80.6h0M45.7 78.8h0M35.5 77.8h0M30.1 81.1h0M47.7 95.4h0M46.8 98.7h0M45.5 86.6h0M41.8 95.9h0M56.4 116.4h0M52.1 100.4h0M60.6 115.6h0M46.9 91.2h0M44.1 90.6h0M51.7 104.3h0M50.4 93.8h0M39.5 72.2h0M43.5 95.5h0M37.8 75.8h0M43.9 74.2h0M33.0 91.4h0M39.2 94.0h0M45.6 88.9h0M36.8 87.2h0M44.3 107.6h0M34.2 88.0h0M41.0 88.7h0M49.5 98.4h0M45.7 97.8h0M40.1 100.6h0M39.9 83.7h0M36.5 93.4h0M54.4 103.8h0M54.8 76.4h0M36.0 77.9h0M44.4 73.3h0M47.1 110.7h0M43.4 76.0h0M48.3 110.6h0M32.8 82.0h0M47.4 92.2h0M43.5 77.5h0M59.9 113.4h0M40.6 91.7h0M45.1 107.1h0M33.5 83.9h0M48.4 75.4h0M52.1 72.6h0M45.1 95.8h0M42.6 86.1h0M56.1 102.8h0M31.2 75.9h0M28.8 83.1h0M60.9 110.8h0M31.1 80.9h0M48.8 110.5h0M48.3 71.3h0M48.2 99.2h0M31.0 81.2h0M49.9 74.7h0M30.7 82.5h0M47.3 82.0h0M46.8 110.4h0M39.9 91.0h0M49.3 79.3h0M47.4 85.8h0M43.6 103.8h0M38.0 98.6h0M49.0 84.3h0M36.0 94.5h0M45.6 81.3h0M39.4 82.7h0M56.3 112.5h0M50.8 86.5h0M42.4 102.4h0M32.6 87.8h0M54.5 102.3h0M47.5 75.7h0M34.6 82.8h0M43.4 94.8h0M36.8 92.4h0M44.8 92.9h0M51.5 98.5h0M49.8 94.0h0M59.4 110.8h0M49.6 108.1h0M51.7 71.3h0M47.2 79.4h0M38.6 77.9h0M43.2 73.1h0M50.0 100.7h0M58.7 106.3h0M44.2 74.7h0M51.6 79.0h0M38.4 101.5h0M36.6 90.3h0M52.0 81.5h0M50.0 74.1h0M37.7 74.9h0M54.2 73.2h0M51.6 99.6h0M43.9 101.6h0M45.3 79.4h0M51.3 76.9h0M46.9 94.5h0M40.4 96.4h0M49.8 98.8h0M53.5 109.6h0M35.9 89.9h0M39.7 74.5h0M44.1 96.1h0M39.5 102.6h0M45.7 93.9h0M36.1 81.3h0M50.5 86.7h0M59.8 112.5h0M45.0 75.8h0M39.6 74.4h0M40.6 90.6h0M48.3 95.2h0M57.4 112.2h0M54.3 100.8h0M49.9 74.4h0M39.7 92.7h0M49.2 73.8h0M46.6 105.0h0M60.9 109.0h0M54.7 114.6h0M55.9 108.1h0M49.0 101.8h0M33.2 86.6h0M39.6 88.9h0M49.1 91.2h0M36.7 95.2h0M43.7 77.5h0M32.1 83.0h0M41.8 105.7h0M42.2 90.2h0M41.1 95.0h0M33.7 77.1h0M46.2 87.2h0M52.2 72.8h0M50.7 87.8h0M42.2 85.6h0M45.7 83.9h0M51.8 84.4h0M43.0 96.6h0M52.1 101.0h0M42.0 75.0h0M30.9 77.7h0M33.4 79.4h0M50.2 86.7h0M35.6 79.4h0M47.2 82.6h0M55.4 102.1h0M42.0 99.0h0M50.0 91.3h0M49.4 75.1h0M54.1 110.8h0M40.1 88.1h0M45.0 82.6h0M34.3 76.9h0M51.0 94.4h0M60.5 115.3h0M57.6 114.4h0M48.7 91.1h0M41.9 77.7h0M46.2 83.6h0M47.1 111.3h0M37.3 97.5h0M46.4 86.0h0M45.3 108.6h0M34.1 79.5h0M46.5 90.3h0M44.7 73.0h0M39.1 84.1h0M48.1 96.4h0M52.7 78.5h0M46.8 71.8h0M27.8 78.6h0M49.9 99.2h0M45.3 71.6h0M34.6 89.7h0M48.6 103.7h0M58.3 109.0h0M60.9 114.7h0M50.8 109.6h0M49.9 95.8h0M34.9 77.2h0M53.4 102.2h0M41.4 98.4h0M44.8 95.8h0M43.2 89.9h0M51.2 76.1h0M51.2 113.7h0M39.4 75.5h0M57.8 110.8h0M38.7 94.7h0M40.7 90.3h0M34.8 93.2h0M50.2 93.7h0M37.1 96.1h0M29.2 80.4h0M45.1 72.9h0M36.5 94.5h0M33.1 85.1h0M49.7 75.1h0M46.2 85.2h0M53.1 99.3h0M33.4 79.5h0M51.6 108.3h0M36.9 92.5h0M53.0 106.2h0M40.1 92.8h0M45.6 101.7h0M32.6 85.4h0M56.7 116.3h0M53.7 78.4h0M31.3 87.4h0M59.1 112.2h0M46.8 95.2h0M32.9 85.8h0M34.7 80.0h0M48.5 85.9h0M56.0 75.0h0M49.1 82.0h0M31.9 84.8h0M49.1 96.1h0M43.7 92.9h0M53.2 74.4h0M44.9 82.9h0M47.6 82.9h0M34.2 81.7h0M57.8 104.8h0M36.4 96.5h0M49.1 76.2h0M45.2 93.8h0M50.5 84.3h0M51.9 110.6h0M55.1 102.6h0M55.1 116.7h0M52.7 101.8h0M41.0 93.9h0M44.8 80.9h0M56.6 103.1h0M51.1 94.5h0M47.1 101.7h0M43.4 74.6h0M54.9 110.9h0M40.0 91.7h0M50.8 76.1h0M50.7 79.8h0M45.4 74.5h0M56.1 107.2h0M47.3 102.8h0M38.9 76.9h0M46.7 77.2h0M35.4 92.9h0M42.7 77.2h0M53.2 107.6h0M38.0 95.9h0M37.8 90.4h0M38.0 101.0h0M47.9 107.1h0M54.2 102.0h0M40.9 92.0h0M45.8 98.1h0M36.6 79.5h0M57.2 116.0h0M29.3 82.5h0M44.6 71.7h0M35.9 92.8h0M50.9 78.1h0M31.3 86.2h0M30.2 76.6h0M55.2 109.8h0M49.8 84.8h0M55.7 74.7h0M53.4 73.2h0M50.5 81.6h0M43.7 80.8h0M51.2 99.6h0M47.7 93.6h0M36.7 94.7h0M52.2 80.6h0M44.8 97.8h0M47.3 92.2h0M44.8 102.7h0M54.4 102.3h0M31.2 82.9h0M38.0 87.3h0M44.2 84.5h0M40.0 103.2h0M41.5 87.1h0M43.2 104.5h0M58.3 113.2h0M53.8 79.1h0M34.0 86.7h0M33.2 92.9h0M41.4 82.4h0M51.0 86.1h0M53.4 111.4h0M37.3 83.1h0M51.4 77.7h0M46.2 73.4h0M36.9 90.5h0M47.7 74.6h0M55.4 105.5h0M33.3 82.1h0M29.8 79.7h0M31.9 88.5h0M55.2 75.5h0M53.7 80.1h0M36.8 80.7h0M56.8 103.3h0M52.2 102.5h0M49.4 103.0h0M45.2 100.9h0M45.0 106.4h0M44.1 72.5h0M46.2 90.0h0M38.7 89.1h0M34.7 85.3h0M53.1 111.7h0M53.1 106.9h0M40.6 78.7h0M49.9 86.9h0M50.2 105.8h0M46.9 105.6h0M47.3 98.5h0M33.6 75.2h0M51.7 104.4h0M50.3 82.7h0M44.0 106.3h0M49.4 112.8h0M45.7 74.4h0M41.7 101.7h0M44.8 107.6h0M34.3 77.7h0M34.7 90.3h0M51.7 114.1h0M41.9 101.2h0M55.3 76.3h0M37.5 95.2h0M45.4 72.4h0M41.2 75.2h0M43.8 88.1h0M33.3 74.4h0M54.2 76.2h0M45.9 87.5h0M48.1 82.8h0M42.3 95.2h0M40.3 97.0h0M44.7 105.7h0M55.4 104.9h0M40.3 103.7h0M27.6 79.9h0M33.1 87.2h0M52.8 72.0h0M60.3 114.7h0M48.5 109.7h0M54.3 100.8h0M54.2 77.9h0M48.2 102.6h0M55.7 115.2h0M41.6 92.5h0M36.8 79.0h0M58.4 112.2h0M35.5 97.0h0M38.9 90.3h0M60.5 115.0h0M45.4 96.9h0M44.0 106.1h0M51.3 96.2h0" stroke="#e3211c" stroke-width="1.1" stroke-linecap="round" fill="none"/>
<path d="M65.7 113.7h0M64.8 111.4h0M65.8 113.5h0M64.8 114.9h0M67.0 111.7h0M72.3 117.4h0M71.6 113.9h0M69.5 110.1h0M68.6 114.2h0M68.4 116.8h0M74.5 116.4h0M70.4 114.0h0M70.4 113.6h0M76.4 117.4h0M69.3 114.0h0M65.4 116.0h0M70.7 111.3h0M66.5 113.8h0M67.5 116.3h0M64.2 111.9h0M68.0 116.8h0M65.3 115.4h0M75.5 117.8h0M70.3 111.7h0M65.6 111.9h0M73.6 114.6h0M65.7 112.3h0M73.8 113.8h0M76.5 117.8h0M66.7 112.0h0M66.5 115.0h0M71.7 114.1h0M74.1 114.2h0M68.1 115.3h0M70.3 111.1h0M73.7 113.5h0M74.9 115.4h0M71.7 117.8h0M74.4 112.7h0M76.1 115.3h0" stroke="#b2df8a" stroke-width="1.1" stroke-linecap="round" fill="none"/>
<path d="M66.1 117.8h0M62.4 117.5h0M62.4 113.7h0M51.2 116.5h0M64.8 118.1h0M62.5 123.2h0M56.9 113.7h0M56.8 111.3h0M63.0 125.0h0M54.4 120.5h0M61.3 122.2h0M61.9 110.3h0M62.7 123.9h0M51.5 125.7h0M56.8 109.1h0M55.8 115.7h0M58.5 109.7h0M50.1 118.4h0M61.9 120.1h0M56.1 124.3h0M58.4 107.9h0M64.9 103.8h0M60.8 115.2h0M58.7 123.9h0M60.5 126.5h0M61.3 125.8h0M51.1 123.4h0M54.8 125.9h0M62.6 112.2h0M58.4 122.3h0M50.0 116.0h0M59.2 120.7h0M55.2 117.8h0M62.2 111.9h0M61.3 125.5h0M55.6 115.7h0M57.7 123.8h0M56.1 119.0h0M58.1 121.0h0M55.9 116.9h0M59.6 113.9h0M55.1 118.9h0M52.1 114.6h0M53.9 116.7h0M61.4 115.5h0M62.5 118.2h0M50.5 119.1h0M57.7 121.7h0M65.9 111.1h0M64.3 108.0h0M63.8 113.6h0M57.2 114.9h0M61.5 118.3h0M65.8 109.4h0M54.3 117.0h0M55.7 126.6h0M57.0 109.4h0M61.1 125.0h0M55.5 120.9h0M56.6 118.7h0M51.4 117.9h0M64.9 125.0h0M65.2 120.1h0M62.3 122.7h0M60.2 111.5h0M54.9 123.1h0M56.7 113.5h0M54.6 120.8h0M64.4 112.4h0M56.6 122.9h0M61.7 123.5h0M58.6 112.1h0M65.8 102.4h0M55.5 122.4h0M61.1 119.5h0M64.0 121.8h0M57.6 116.6h0M63.5 114.9h0M57.6 114.6h0M62.3 121.1h0M55.0 122.2h0M55.8 119.5h0M55.8 125.4h0M65.9 122.2h0M55.9 111.1h0M56.8 117.7h0M65.7 103.7h0M65.0 116.9h0M61.9 121.6h0M64.4 124.8h0M62.0 107.7h0M58.0 115.4h0M55.6 114.7h0M57.2 127.5h0M65.4 106.6h0M62.9 111.9h0M59.8 116.6h0M62.3 109.8h0M61.2 111.6h0M63.1 114.8h0M65.1 115.6h0M60.6 123.6h0M65.0 112.0h0M62.1 123.6h0M55.5 112.9h0M55.6 110.9h0M56.4 124.0h0M63.2 116.5h0M60.6 109.8h0M62.8 124.7h0M55.9 115.0h0M64.3 118.7h0M57.0 118.6h0M55.4 117.0h0M52.3 116.1h0M62.3 111.4h0M62.4 121.5h0M64.2 116.3h0M59.4 119.8h0M58.9 125.6h0M60.1 112.6h0M60.2 112.7h0M59.3 123.6h0M51.4 124.0h0M53.8 115.8h0M65.9 106.5h0M54.2 111.7h0M60.5 111.2h0M61.1 105.9h0M49.8 117.1h0M62.0 105.5h0M49.9 119.4h0M61.4 106.2h0M64.8 125.7h0M62.6 118.6h0M59.5 115.3h0M60.8 114.9h0M56.2 123.8h0M54.4 112.5h0M61.2 127.1h0M55.2 113.3h0M55.4 122.5h0M52.4 114.4h0M54.1 117.0h0M62.9 105.0h0M60.6 119.6h0M65.1 124.7h0M63.2 112.2h0M57.3 126.7h0M52.5 124.0h0M54.4 114.7h0M49.9 120.0h0M58.3 122.8h0M62.0 121.3h0M65.9 120.7h0M57.9 111.4h0M50.4 116.4h0M62.9 105.1h0M50.8 119.8h0M57.5 122.6h0M56.4 127.5h0M64.7 110.4h0M58.7 117.3h0M57.1 123.3h0M61.7 123.3h0M53.6 115.1h0M58.8 117.2h0M64.4 116.5h0M62.3 121.2h0M60.2 125.8h0M51.9 118.5h0M58.7 113.8h0M58.5 108.6h0M52.0 114.1h0M51.9 121.1h0M64.8 110.4h0M50.5 118.9h0M62.6 114.6h0M65.0 105.8h0M62.0 125.6h0M65.1 124.1h0M56.9 115.3h0M64.3 111.9h0M65.7 110.0h0M61.4 113.3h0M54.2 126.7h0M56.6 127.3h0M65.2 104.0h0M63.2 117.5h0M54.1 123.7h0M56.7 127.6h0M59.0 126.5h0M65.7 111.8h0M61.4 120.9h0M61.4 121.8h0M50.2 116.1h0M50.9 124.0h0M62.2 113.1h0M52.3 113.1h0M59.9 124.4h0M65.1 110.4h0M49.4 119.3h0M61.4 118.8h0M63.5 123.1h0M60.3 123.4h0M52.0 118.7h0M54.5 126.4h0M54.0 114.6h0M58.1 126.4h0M54.5 125.2h0M62.0 116.8h0M62.5 116.2h0M60.6 111.0h0M56.0 123.4h0M64.1 121.4h0M57.0 115.9h0M65.2 103.2h0M51.1 119.1h0M52.5 121.6h0M61.4 106.3h0M63.4 114.3h0M55.7 120.3h0M62.1 107.5h0M65.8 104.8h0M60.4 118.7h0M52.6 118.3h0M58.9 118.0h0M52.3 114.4h0M64.0 118.1h0M64.8 103.4h0M57.6 115.3h0M50.9 123.9h0M57.2 109.6h0M50.5 123.5h0M62.7 107.1h0M54.7 115.5h0M62.5 115.2h0M51.4 119.5h0M51.3 125.4h0M59.0 117.5h0M55.6 121.2h0M63.1 120.1h0M52.3 114.0h0M65.5 106.5h0M55.3 118.0h0M61.4 114.0h0M58.5 123.9h0M50.7 117.6h0M54.7 121.6h0M61.9 112.8h0M51.7 121.9h0M61.6 116.7h0M62.4 126.7h0M53.4 119.9h0M63.5 108.9h0M65.3 110.2h0M66.2 117.1h0M63.1 111.6h0M57.2 117.3h0M63.5 112.8h0M65.2 107.6h0M49.9 116.8h0M60.2 112.3h0M63.4 116.2h0M51.9 124.1h0M51.4 117.5h0M55.8 119.5h0M64.7 123.6h0M62.7 109.2h0M54.9 115.6h0M64.2 104.6h0M65.0 119.4h0M59.7 112.6h0M55.9 112.6h0M61.9 113.5h0M61.8 124.8h0M65.9 107.0h0M63.7 112.5h0M56.7 117.6h0M54.2 124.9h0M62.5 108.7h0M56.3 112.8h0M61.8 109.4h0M55.4 115.1h0M53.3 113.2h0M62.5 115.1h0M59.3 108.0h0M56.0 116.5h0M64.7 103.7h0M65.3 104.5h0M59.0 116.2h0M56.4 118.3h0M64.9 110.3h0M64.8 117.6h0M62.6 112.1h0M54.8 119.9h0M59.2 125.7h0M61.4 125.6h0M57.4 122.5h0M51.0 118.6h0M54.9 120.0h0M53.8 120.8h0M61.8 125.7h0M63.6 108.7h0M61.9 114.7h0M53.1 121.5h0M57.3 124.9h0M63.5 115.9h0M56.2 115.9h0M51.7 117.1h0M53.9 111.9h0M57.4 109.5h0M52.1 119.3h0M55.6 114.7h0M65.3 104.6h0M59.3 118.2h0M57.0 125.1h0M63.0 114.5h0M63.7 113.3h0M56.0 118.6h0M49.7 118.8h0M56.5 124.3h0M53.7 115.8h0M55.2 116.4h0M56.0 110.9h0M65.6 120.0h0M57.4 111.5h0M64.6 111.5h0M61.2 106.6h0M58.8 109.0h0M65.4 111.5h0M66.2 116.7h0M55.1 116.3h0M65.8 120.0h0M63.8 116.7h0M64.0 118.6h0M60.7 109.9h0M62.7 115.7h0M62.9 119.6h0M64.1 120.1h0M55.9 126.8h0M65.3 119.5h0M56.8 115.0h0M64.0 117.5h0M57.4 122.9h0M53.5 117.8h0M55.4 117.8h0M65.2 112.7h0M64.0 114.2h0M65.1 103.2h0M54.8 114.3h0M59.3 107.8h0M60.6 118.6h0M54.0 121.4h0M63.6 122.7h0M64.3 118.4h0M59.9 113.1h0M63.8 115.9h0M55.3 114.9h0M61.1 123.7h0M56.3 121.9h0M51.4 115.1h0M61.3 115.9h0M61.7 106.3h0M59.8 115.6h0M62.0 104.9h0M64.7 106.8h0M62.0 111.8h0M61.6 120.2h0M56.4 126.6h0M56.9 114.1h0M61.9 105.9h0M65.1 110.6h0M65.0 105.8h0M51.2 117.4h0M53.3 113.4h0M52.6 120.8h0M62.3 119.8h0M61.9 116.2h0M65.8 123.3h0M60.8 123.5h0M58.1 109.6h0M50.1 120.3h0M61.0 118.4h0M58.2 113.8h0M65.5 111.8h0M62.7 125.3h0M51.8 114.8h0M57.8 112.1h0M63.2 108.5h0M66.5 107.5h0M54.1 123.6h0M53.2 120.8h0M53.9 112.6h0M57.5 108.4h0M65.6 106.1h0M62.3 116.2h0M61.3 108.8h0M56.1 121.5h0M58.7 125.3h0M63.6 112.9h0M57.0 124.8h0M54.3 113.7h0M66.6 110.0h0M58.7 118.9h0M55.0 118.4h0M56.6 123.6h0M59.0 120.9h0M59.3 120.1h0M55.5 110.5h0M58.4 114.5h0M51.3 120.6h0M58.1 127.1h0M64.5 112.6h0M55.2 113.3h0M62.8 114.0h0M62.5 115.4h0M62.4 114.8h0M59.5 112.9h0M59.2 116.5h0M50.9 116.7h0M65.7 108.3h0M62.9 108.6h0M61.8 109.3h0M59.7 122.2h0M58.4 108.3h0M54.5 116.4h0M62.3 106.6h0M60.4 112.5h0M62.7 120.9h0M55.6 117.3h0M51.6 117.8h0M60.7 108.1h0M61.0 105.6h0M65.6 119.4h0M52.9 121.0h0M60.1 111.8h0M61.5 121.8h0M61.2 107.7h0M56.8 126.1h0M53.3 121.0h0M56.3 120.5h0M53.7 114.4h0M64.6 111.5h0M54.3 126.3h0M55.7 116.1h0M64.8 123.4h0M63.7 125.8h0M51.3 118.9h0M58.8 111.6h0M61.8 107.7h0M59.9 112.8h0M51.5 122.2h0M52.3 122.8h0M62.7 113.4h0M51.5 120.1h0M55.7 116.6h0M51.9 121.8h0M64.7 106.0h0M59.1 122.2h0M61.6 123.6h0M56.6 113.4h0M64.7 109.4h0M65.2 123.7h0M65.6 105.7h0M56.6 123.7h0M58.9 107.5h0M53.7 118.5h0M52.1 122.4h0M64.7 112.9h0M51.3 116.8h0M61.8 116.5h0M62.0 125.8h0M55.3 117.2h0M53.0 114.1h0M59.4 109.9h0M59.9 116.1h0M58.8 117.4h0M60.3 125.0h0M59.9 122.1h0M51.1 124.7h0M65.7 117.4h0M63.9 116.3h0M57.7 120.5h0M63.3 125.2h0M58.3 126.6h0M56.7 116.1h0M62.9 108.1h0M49.5 120.8h0M52.4 124.1h0M58.4 122.1h0M59.7 119.6h0M59.8 126.0h0M58.7 111.1h0M56.1 112.3h0M64.9 109.4h0M61.5 116.8h0M54.1 125.7h0M52.5 120.2h0M61.5 111.5h0M51.1 117.5h0M55.1 116.3h0M64.6 104.3h0M53.0 113.1h0M64.0 110.0h0M66.2 104.4h0M65.3 103.5h0M59.8 127.3h0M62.0 125.8h0M55.3 126.8h0M65.3 109.1h0M62.9 125.9h0M52.8 112.2h0M62.9 116.9h0M65.5 113.3h0M53.9 124.7h0M53.7 125.3h0M63.5 116.8h0M51.1 123.5h0M54.0 126.4h0M56.9 111.6h0M65.4 123.3h0M61.2 109.4h0M59.3 110.2h0M52.9 124.8h0M60.1 116.0h0M52.9 123.8h0M55.6 116.1h0M56.4 122.4h0M57.1 116.2h0M64.8 104.5h0M58.3 117.6h0M64.1 110.5h0M59.9 126.8h0M55.1 118.9h0M62.1 119.7h0M61.2 112.0h0M61.9 111.1h0M55.7 112.8h0M58.9 112.4h0M58.9 123.2h0M58.4 115.3h0M56.5 116.9h0M51.1 121.7h0M57.1 118.2h0M56.7 122.7h0M61.2 105.1h0M58.9 108.9h0M62.4 111.6h0M53.5 126.2h0M56.8 119.7h0M53.8 118.1h0M65.1 104.6h0M53.8 125.1h0M59.6 112.4h0M52.9 118.0h0M50.0 115.1h0M54.2 112.7h0M60.0 121.1h0M61.2 113.3h0M55.1 118.3h0M57.3 126.2h0M58.5 117.2h0M61.0 114.5h0M57.9 119.3h0M54.5 114.9h0M59.0 109.9h0M52.2 112.8h0M56.7 113.2h0M53.6 114.5h0M60.9 120.5h0M61.2 112.7h0M59.6 117.7h0M58.1 126.0h0M61.7 113.6h0M60.6 121.9h0M54.0 120.4h0M62.9 112.4h0M65.0 112.1h0M65.0 120.3h0M56.1 114.5h0M58.6 108.9h0M65.8 120.7h0M64.5 124.7h0M54.6 117.1h0M61.0 109.8h0M57.5 124.7h0M51.6 118.4h0M53.2 125.5h0M55.9 115.2h0M54.8 111.1h0M57.8 119.2h0M65.3 113.2h0M65.5 122.7h0M54.1 111.3h0M61.4 106.3h0M50.9 125.6h0M58.1 121.4h0M61.4 113.5h0M55.4 119.1h0" stroke="#1f9e3a" stroke-width="1.1" stroke-linecap="round" fill="none"/>
<circle cx="53.2" cy="60" r="3.4" fill="#3a3a3a"/>
<text x="53.2" y="62.0" font-size="5.6" text-anchor="middle" fill="#fff" font-weight="bold">1</text>
<circle cx="42" cy="99" r="3.4" fill="#3a3a3a"/>
<text x="42" y="101.0" font-size="5.6" text-anchor="middle" fill="#fff" font-weight="bold">2</text>
<circle cx="56" cy="121" r="3.4" fill="#3a3a3a"/>
<text x="56" y="123.0" font-size="5.6" text-anchor="middle" fill="#fff" font-weight="bold">3</text>
<circle cx="75.4" cy="117" r="3.4" fill="#3a3a3a"/>
<text x="75.4" y="119.0" font-size="5.6" text-anchor="middle" fill="#fff" font-weight="bold">4</text>
<circle cx="113" cy="86" r="3.4" fill="#3a3a3a"/>
<text x="113" y="88.0" font-size="5.6" text-anchor="middle" fill="#fff" font-weight="bold">5</text>
<circle cx="78.4" cy="34.4" r="3.4" fill="#3a3a3a"/>
<text x="78.4" y="36.4" font-size="5.6" text-anchor="middle" fill="#fff" font-weight="bold">6</text>
<circle cx="136.6" cy="46.6" r="3.1" fill="#a6cbe3"/>
<text x="136.6" y="48.1" font-size="4.0" text-anchor="middle" fill="#333">1</text>
<text x="146" y="49.800000000000004" font-size="9">Fibroblasts</text>
<circle cx="136.6" cy="59.6" r="3.1" fill="#e3211c"/>
<text x="136.6" y="61.06" font-size="4.0" text-anchor="middle" fill="#333">2</text>
<text x="146" y="62.760000000000005" font-size="9">SSPC-1</text>
<circle cx="136.6" cy="72.5" r="3.1" fill="#1f9e3a"/>
<text x="136.6" y="74.02000000000001" font-size="4.0" text-anchor="middle" fill="#333">3</text>
<text x="146" y="75.72000000000001" font-size="9">SSPC-2</text>
<circle cx="136.6" cy="85.5" r="3.1" fill="#b2df8a"/>
<text x="136.6" y="86.98" font-size="4.0" text-anchor="middle" fill="#333">4</text>
<text x="146" y="88.68" font-size="9">Mature osteoblasts</text>
<circle cx="136.6" cy="98.4" r="3.1" fill="#2f78b8"/>
<text x="136.6" y="99.94" font-size="4.0" text-anchor="middle" fill="#333">5</text>
<text x="146" y="101.64" font-size="9">Endothelial cells</text>
<circle cx="136.6" cy="111.4" r="3.1" fill="#f6a9a9"/>
<text x="136.6" y="112.9" font-size="4.0" text-anchor="middle" fill="#333">6</text>
<text x="146" y="114.60000000000001" font-size="9">Pericytes</text>
<path d="M15.6 132.2V107 M15.6 132.2H41" stroke="#000" stroke-width="1" fill="none"/>
<path d="M15.6 103.5l-2.6 5h5.2z M44 132.2l-5 -2.6v5.2z" fill="#000"/>
<text x="0" y="0" font-size="7.2" transform="translate(9.3,132) rotate(-90)">UMAP2</text>
<text x="18" y="141.8" font-size="7.2">UMAP1</text>
<text x="231.6" y="12.85" font-size="18" font-weight="bold">b</text>
<rect x="246" y="25" width="104" height="96" fill="#fdfdfd"/>
<text x="290.2" y="19.9" font-size="11.8" text-anchor="middle" font-style="italic">Ctsk</text>
<path d="M269.3 52.9h0M292.0 68.2h0M267.8 60.0h0M288.7 68.9h0M269.4 67.1h0M283.2 58.8h0M272.7 48.6h0M285.7 68.0h0M275.6 67.9h0M288.5 65.7h0M276.2 68.1h0M285.4 55.8h0M287.9 64.3h0M281.2 67.8h0M284.2 59.3h0M280.7 62.2h0M270.7 54.9h0M287.6 69.3h0M293.0 65.6h0M277.9 57.4h0M284.5 64.5h0M275.4 57.3h0M263.1 60.2h0M285.8 67.6h0M269.6 65.2h0M278.3 56.2h0M272.6 64.5h0M290.4 59.3h0M287.7 63.1h0M274.3 57.1h0M293.3 66.5h0M276.4 57.4h0M268.8 50.5h0M276.9 64.3h0M264.9 59.7h0M287.1 57.6h0M273.9 48.5h0M283.4 55.5h0M273.4 66.6h0M277.3 58.5h0M279.8 49.5h0M276.8 54.5h0M284.4 61.0h0M277.7 65.1h0M280.0 65.8h0M273.9 57.5h0M287.3 70.5h0M270.5 62.1h0M285.4 61.2h0M264.9 65.6h0M267.1 66.1h0M276.6 55.1h0M268.8 54.8h0M279.8 69.1h0M284.3 61.6h0M264.3 60.3h0M275.8 48.3h0M282.3 68.4h0M286.7 61.1h0M270.9 58.9h0M274.0 65.0h0M280.4 64.7h0M265.0 63.8h0M268.2 61.9h0M267.6 58.8h0M270.1 64.3h0M286.9 70.0h0M279.4 56.1h0M270.8 60.5h0M281.0 53.7h0M285.0 60.2h0M271.6 58.9h0M274.4 65.1h0M275.6 62.7h0M281.2 48.7h0M278.0 67.3h0M287.3 66.9h0M274.8 60.6h0M264.7 62.1h0M285.4 63.3h0M279.9 70.8h0M263.5 56.9h0M268.6 63.0h0M269.0 53.8h0M291.5 66.5h0M291.4 69.3h0M280.4 53.2h0M283.9 57.9h0M284.9 53.1h0M275.4 65.5h0M273.6 53.5h0M282.4 50.1h0M268.2 50.1h0M290.8 65.6h0M278.2 60.7h0M267.4 60.0h0M286.3 61.9h0M293.5 61.3h0M276.6 69.1h0M269.8 56.7h0M289.1 64.5h0M286.4 57.9h0M269.2 57.1h0M270.4 63.7h0M275.5 51.1h0M272.8 60.3h0M264.9 56.2h0M278.0 48.6h0M280.7 49.9h0M282.1 48.6h0M278.8 51.2h0M270.5 49.6h0M283.5 68.9h0M276.1 62.6h0M277.3 64.7h0M285.4 55.4h0M263.2 58.9h0M281.7 67.8h0M292.7 67.0h0M280.4 70.5h0M267.0 64.8h0M270.4 57.5h0M282.8 64.1h0M290.7 66.1h0M282.6 71.3h0M285.9 64.1h0M284.9 70.1h0M274.1 52.2h0M275.9 69.9h0M290.5 57.8h0M267.7 57.9h0M289.6 58.1h0M289.5 66.7h0M284.9 63.2h0M270.8 57.3h0M271.2 64.9h0M290.5 71.1h0M284.3 69.9h0M282.2 61.8h0M267.8 55.8h0M280.5 54.0h0M292.2 64.1h0M291.4 67.2h0M290.6 64.9h0M272.8 48.3h0M285.5 64.4h0M281.2 50.2h0M278.8 51.5h0M287.9 67.8h0M293.6 65.9h0M287.1 59.0h0M273.3 68.6h0M269.8 66.6h0M285.1 69.6h0M283.5 66.4h0M272.9 63.2h0M268.3 58.7h0M283.1 57.5h0M282.8 69.4h0M283.7 70.5h0M283.2 68.2h0M288.9 63.0h0M278.8 50.8h0M269.1 48.7h0M271.0 62.1h0M290.7 69.7h0M267.7 62.8h0M268.6 52.0h0M287.9 70.6h0M273.7 56.0h0M272.2 50.5h0M265.1 66.3h0M279.0 69.1h0M280.1 56.0h0M291.8 68.2h0M277.2 58.9h0M288.9 63.7h0M293.4 61.9h0M287.5 59.0h0M278.5 52.6h0M290.6 58.1h0M274.7 67.1h0M277.2 58.2h0M288.5 58.2h0M268.0 59.7h0M271.4 53.5h0M281.9 54.8h0M281.4 51.1h0M277.8 69.7h0M287.1 62.9h0M284.2 70.6h0M269.5 49.7h0M272.2 49.1h0M292.9 62.4h0M277.5 47.9h0M278.9 54.2h0M280.1 66.4h0M268.8 49.9h0M278.3 57.5h0M276.0 56.6h0M285.2 64.1h0M283.9 64.2h0M291.4 61.2h0M276.4 53.6h0M274.7 68.9h0M265.5 63.1h0M270.3 52.8h0M271.3 57.4h0M289.4 58.5h0M282.3 66.6h0M278.5 66.2h0M292.8 67.1h0M288.7 71.3h0M266.8 51.1h0M271.3 58.0h0M273.9 59.2h0M278.0 47.8h0M282.8 72.9h0M280.3 70.0h0M276.7 49.8h0M279.5 62.4h0M284.7 71.6h0M271.9 57.9h0M275.8 48.3h0M276.9 50.4h0M273.9 58.9h0M291.0 61.6h0M293.5 61.5h0M292.7 65.7h0M274.1 47.7h0M266.7 64.3h0M268.2 51.4h0M284.7 72.4h0M268.0 52.9h0M266.1 52.1h0M269.2 64.9h0M275.1 51.0h0M263.0 59.7h0M290.5 63.5h0M271.4 57.6h0M266.1 52.1h0M272.2 49.1h0M281.6 51.9h0M277.7 67.1h0M287.0 58.8h0M284.1 56.6h0M270.9 48.6h0M276.9 70.1h0M292.1 59.4h0M284.6 52.5h0M291.7 61.5h0M270.4 51.3h0M277.2 69.4h0M273.3 52.8h0M281.5 70.8h0M267.8 60.5h0M291.5 62.3h0M287.4 69.0h0M275.9 65.7h0M284.1 58.6h0M278.4 69.1h0M273.4 65.3h0M269.3 59.4h0M280.8 68.1h0M272.7 48.5h0M280.6 63.5h0M275.5 53.9h0M272.8 52.8h0M284.8 61.7h0M268.9 54.1h0M283.4 70.5h0M269.9 49.0h0M267.6 57.1h0M270.5 62.4h0M277.8 51.1h0M282.8 73.2h0M282.7 65.2h0M270.8 65.5h0M291.4 59.4h0M274.4 65.5h0M291.8 68.2h0M283.5 52.1h0M263.5 55.7h0M276.0 70.2h0M277.4 56.7h0M272.5 47.6h0M264.6 58.7h0M284.8 74.1h0M267.0 58.5h0M277.3 61.5h0M279.5 50.9h0M281.2 51.9h0M283.8 73.6h0M272.7 51.9h0M266.9 51.8h0M277.8 52.0h0M262.2 58.3h0M280.7 72.9h0M281.2 71.1h0M280.4 57.8h0M273.9 53.7h0M283.9 58.7h0M276.3 52.5h0M277.2 46.6h0M272.0 56.0h0M264.8 63.1h0M277.7 64.2h0M288.9 64.9h0M279.2 68.7h0M292.0 60.5h0M276.6 53.2h0M280.7 66.2h0M280.2 62.7h0M283.3 73.6h0M280.1 64.5h0M282.3 54.7h0M276.5 49.5h0M282.2 61.5h0M280.2 63.6h0M270.0 50.6h0M274.2 67.7h0M266.0 52.0h0M278.5 65.6h0M271.7 52.1h0M273.8 68.7h0M269.3 55.8h0M270.7 59.2h0M283.3 51.1h0M274.8 67.1h0M280.3 53.7h0M267.0 59.4h0M276.1 56.9h0M267.5 57.0h0M279.2 51.7h0M271.9 61.1h0M292.2 59.8h0M272.7 47.2h0M281.6 56.1h0M285.5 64.0h0M278.6 63.3h0M279.6 52.7h0M272.7 66.5h0M274.4 61.1h0M270.1 66.1h0M275.1 55.3h0M265.2 63.3h0M284.7 67.9h0M282.1 53.6h0M279.8 67.8h0M272.7 64.5h0M281.1 71.8h0M286.8 65.1h0M279.3 71.3h0M271.6 49.3h0M271.5 49.4h0M271.7 65.2h0M276.0 69.3h0M283.7 53.5h0M287.4 57.1h0M290.6 67.8h0M277.7 54.2h0M279.1 61.0h0M267.5 61.2h0M264.0 54.7h0M283.3 50.5h0M278.5 50.0h0M293.3 65.7h0M261.7 61.6h0M281.7 49.8h0M279.7 64.2h0M276.5 56.3h0M271.2 61.1h0M268.7 53.5h0M285.2 68.5h0M272.9 59.4h0M280.6 62.9h0M291.5 62.2h0M276.0 47.1h0M272.0 59.8h0M265.2 53.8h0M265.1 62.8h0M277.3 47.7h0M271.1 61.3h0M275.3 62.3h0M281.4 51.6h0M280.0 72.5h0M290.6 63.6h0M278.5 67.4h0M276.3 66.1h0M273.6 61.9h0M285.4 62.7h0M281.2 57.1h0M276.0 58.7h0M281.9 71.0h0M267.8 64.5h0M278.8 64.2h0M283.1 57.5h0M278.5 64.0h0M291.8 64.8h0M282.8 56.1h0M276.3 65.7h0M280.9 52.6h0M278.7 54.5h0M273.3 52.6h0" stroke="#d0cce6" stroke-width="0.8" stroke-linecap="round" fill="none"/>
<path d="M290.1 68.3h0M268.9 59.8h0M280.1 61.1h0M280.6 48.8h0M273.7 53.9h0M271.2 67.1h0M292.3 67.3h0M274.0 54.1h0M283.0 63.0h0M291.1 63.8h0M266.4 51.6h0M276.8 52.9h0M268.3 52.2h0M284.0 55.0h0M264.8 57.1h0M274.0 57.6h0M267.1 63.2h0M272.7 65.0h0M268.3 63.7h0M273.4 61.4h0M266.9 61.0h0M272.6 53.1h0M276.5 49.9h0M289.8 60.8h0M284.5 57.1h0M270.3 51.6h0M283.6 50.6h0M288.6 64.3h0M292.5 68.5h0M268.7 53.1h0M290.5 69.0h0M273.6 64.1h0M270.8 60.8h0M272.3 62.6h0M270.1 50.8h0M292.6 63.7h0M275.5 56.8h0M285.5 63.1h0M277.4 46.7h0M283.5 50.8h0M264.7 61.0h0M277.8 69.9h0M277.2 51.4h0M291.4 61.8h0M282.3 73.0h0M270.1 66.3h0M265.0 60.2h0M281.6 47.9h0M291.1 63.5h0M268.0 52.1h0M273.8 47.3h0M290.0 71.8h0M280.0 60.6h0M290.8 67.5h0M282.9 72.1h0M267.7 60.8h0M283.6 53.5h0M273.9 51.9h0M288.6 72.2h0M270.6 61.0h0M281.0 64.2h0M280.5 50.1h0M287.0 72.0h0M272.4 63.9h0M270.7 58.1h0M283.8 52.5h0M265.0 57.3h0M284.4 61.2h0M268.7 61.0h0M270.1 60.0h0M277.8 53.7h0M265.2 58.0h0M279.4 60.7h0M269.4 48.9h0M286.8 66.1h0M282.1 51.0h0M274.5 66.0h0M270.3 50.1h0M278.2 51.8h0M282.5 57.7h0M287.4 57.4h0M275.7 57.9h0M289.6 60.1h0M272.3 49.9h0M286.3 61.4h0M283.1 54.6h0M268.8 58.0h0M269.2 53.7h0M275.4 55.3h0M278.1 65.8h0M269.1 63.1h0M287.8 71.5h0M279.4 70.2h0M288.0 57.0h0M284.9 72.0h0M280.8 50.3h0M273.7 50.3h0M282.1 63.2h0M271.9 54.7h0M267.5 58.1h0M290.0 65.6h0M265.2 55.9h0M267.5 64.8h0M273.0 48.3h0M282.7 65.1h0M282.9 70.2h0M268.0 50.9h0M276.8 62.0h0M284.3 70.4h0M265.4 56.4h0M275.0 64.8h0M285.1 68.7h0M274.9 51.6h0M280.7 57.6h0M278.9 60.1h0M271.0 58.0h0M276.5 59.2h0M277.8 59.6h0M271.3 47.8h0M268.6 61.2h0M290.7 65.7h0M286.2 59.9h0M266.9 60.2h0M275.4 49.6h0M281.6 71.0h0M268.0 60.2h0M265.5 56.5h0M290.4 66.3h0M271.0 48.0h0M278.2 48.4h0M276.4 70.3h0M268.3 62.0h0M278.4 55.9h0M265.2 59.6h0M268.9 64.0h0M286.1 68.9h0M284.4 59.4h0M266.4 52.0h0M282.3 49.9h0M281.1 65.6h0M279.7 52.5h0M267.7 62.5h0M281.6 49.1h0M277.6 61.1h0M292.6 61.3h0M264.8 56.0h0M292.1 68.5h0M274.1 48.4h0M291.5 64.8h0M293.6 64.7h0M263.5 63.5h0M272.9 64.7h0M273.8 54.4h0M290.4 60.0h0" stroke="#8676e6" stroke-width="0.85" stroke-linecap="round" fill="none" stroke-opacity="0.75"/>
<path d="M254.7 48.3h0M254.9 47.5h0M252.4 48.2h0M251.0 46.4h0M253.8 49.7h0M250.8 46.7h0M252.0 48.1h0M253.1 48.0h0M253.1 48.0h0M253.7 49.2h0" stroke="#d0cce6" stroke-width="0.8" stroke-linecap="round" fill="none"/>
<path d="M254.2 49.7h0M252.1 46.4h0" stroke="#8676e6" stroke-width="0.85" stroke-linecap="round" fill="none" stroke-opacity="0.75"/>
<path d="M296.1 34.5h0M300.0 36.0h0M294.5 34.7h0M293.4 26.9h0M295.5 26.8h0M291.9 31.1h0M295.1 28.1h0M296.1 30.0h0M297.2 27.8h0M295.5 38.0h0M290.9 37.8h0M297.5 29.5h0M295.5 36.3h0M296.7 27.1h0M293.4 26.8h0M297.1 28.9h0M298.7 37.0h0M298.7 37.7h0M294.3 36.2h0M298.8 32.5h0M297.9 34.3h0M292.6 29.8h0M297.9 38.9h0M297.0 36.7h0M297.1 28.2h0M292.9 34.3h0M298.4 32.0h0M297.8 30.8h0M293.6 28.5h0M291.3 39.1h0M293.9 39.2h0M293.3 26.5h0M297.7 31.4h0M299.1 35.4h0M295.0 35.4h0M297.6 30.7h0M292.2 35.3h0M296.4 26.8h0M291.9 32.2h0M291.1 33.5h0M294.5 30.3h0M298.4 36.4h0M290.8 34.5h0M292.5 30.7h0M292.7 28.4h0M292.9 33.1h0M299.1 36.9h0M290.5 36.8h0M297.1 29.9h0M291.6 29.7h0M293.4 37.3h0M299.5 37.9h0M295.3 27.0h0M292.7 28.1h0M291.4 28.0h0M293.6 26.9h0M293.3 38.1h0M292.8 33.3h0M290.4 38.6h0M297.1 29.1h0M290.4 36.0h0M293.5 31.0h0M299.7 34.0h0M291.4 35.9h0M298.1 34.1h0M293.4 30.3h0M294.8 33.3h0M291.3 35.8h0M296.6 26.5h0M293.7 37.4h0M298.2 31.4h0M291.9 36.6h0M294.7 33.8h0M297.8 29.0h0M299.2 34.6h0M297.6 35.5h0M293.4 30.0h0M294.2 37.4h0M296.7 30.0h0M298.2 31.0h0M297.5 31.8h0M295.9 28.6h0M294.2 31.9h0M292.3 35.1h0M295.3 38.4h0M299.3 36.7h0M294.0 33.4h0M293.2 33.9h0M297.8 35.2h0M293.5 30.9h0M294.3 30.2h0M292.4 33.0h0M291.7 30.7h0M291.2 28.8h0M295.9 30.7h0M291.3 38.3h0M293.3 27.0h0M293.4 32.3h0M297.7 29.8h0M294.3 38.7h0M297.1 32.4h0M292.4 37.1h0" stroke="#cfcfd6" stroke-width="0.8" stroke-linecap="round" fill="none"/>
<path d="M293.4 37.9h0M294.7 34.2h0M298.1 33.7h0" stroke="#8676e6" stroke-width="0.85" stroke-linecap="round" fill="none" stroke-opacity="0.75"/>
<path d="M328.6 79.6h0M329.3 78.5h0M327.1 74.6h0M326.6 74.5h0M327.6 79.8h0M326.8 78.2h0M322.8 80.4h0M320.1 82.2h0M328.0 76.8h0M319.6 79.3h0M316.9 80.9h0M328.3 80.5h0M318.1 81.1h0M327.8 77.1h0M328.6 79.0h0M323.1 77.4h0M326.5 81.6h0M319.3 81.8h0M325.9 82.3h0M326.2 75.4h0M320.8 82.5h0M327.3 80.9h0M320.6 79.2h0M321.0 78.7h0M328.4 77.0h0M326.8 79.8h0M327.3 79.5h0M317.8 81.5h0M324.7 82.2h0M323.3 81.3h0M323.3 79.3h0M328.5 74.7h0M325.7 78.5h0M318.8 79.8h0M328.7 76.1h0M326.1 75.7h0M323.1 78.8h0M325.2 76.5h0M319.8 81.1h0M319.3 80.6h0M329.3 77.2h0M327.3 79.3h0M326.4 78.5h0M318.1 80.4h0M320.2 81.9h0M322.8 82.3h0M323.2 79.6h0M327.3 80.3h0M318.8 81.7h0M318.2 80.1h0M320.5 81.3h0M327.1 79.6h0M321.1 79.7h0M321.6 81.4h0M327.5 79.2h0M324.2 77.5h0M321.9 78.8h0M324.6 79.6h0M325.7 76.6h0M317.4 81.4h0M322.7 78.3h0M327.8 78.7h0M327.3 77.6h0M329.0 76.3h0M325.1 80.6h0M320.5 79.5h0M326.7 81.4h0M323.2 82.2h0M317.8 81.9h0M326.4 75.2h0M320.8 79.1h0M326.8 82.2h0M320.6 82.3h0M321.8 79.8h0M327.6 77.1h0M320.6 80.4h0M322.3 81.4h0M324.7 78.2h0M328.0 73.1h0M327.5 74.2h0M325.8 77.7h0M327.9 79.5h0M320.7 81.4h0M327.3 79.5h0M319.7 82.3h0M329.1 80.9h0M328.2 74.5h0M328.2 73.4h0M322.0 81.4h0M326.3 80.4h0M318.2 79.9h0M328.2 77.9h0M318.7 80.9h0M327.0 74.6h0M319.6 80.2h0M325.5 76.0h0M322.6 81.7h0M327.9 75.3h0M328.5 80.2h0M326.2 81.8h0M324.8 82.2h0M321.8 81.8h0M320.6 79.5h0M327.1 77.8h0M321.7 82.0h0M321.7 82.7h0M329.0 79.5h0M321.1 82.4h0M324.0 77.6h0M324.3 79.1h0M322.4 80.5h0M324.2 82.4h0M322.2 80.6h0M325.8 76.6h0M326.5 77.6h0M323.1 79.4h0M326.6 76.4h0M320.4 81.9h0M315.9 80.4h0M327.6 72.7h0M327.9 79.8h0M322.5 82.5h0M322.4 82.4h0M328.3 78.8h0M328.1 77.3h0M322.4 79.6h0M327.2 75.4h0M318.5 80.8h0M321.7 78.5h0M323.3 79.4h0M324.2 77.2h0M328.0 73.7h0M321.0 81.1h0M323.4 82.0h0M328.7 75.7h0M320.7 82.0h0M321.2 80.6h0M326.1 77.4h0M319.4 82.1h0M327.2 80.0h0M314.9 80.6h0M324.0 79.8h0M321.4 79.8h0M323.6 80.8h0M326.0 80.3h0M316.5 81.0h0M325.0 80.6h0M320.1 81.0h0M323.2 79.6h0M327.4 79.6h0M328.5 77.0h0M325.5 81.5h0M322.3 80.9h0" stroke="#cfcfd6" stroke-width="0.8" stroke-linecap="round" fill="none"/>
<path d="M326.0 82.2h0M323.9 80.4h0M326.4 80.7h0M328.4 74.9h0M319.5 81.9h0M326.2 76.4h0M324.6 77.7h0M329.8 78.8h0" stroke="#8676e6" stroke-width="0.85" stroke-linecap="round" fill="none" stroke-opacity="0.75"/>
<path d="M261.2 90.0h0M260.4 88.1h0M255.2 73.6h0M265.4 101.1h0M253.9 82.1h0M275.1 99.0h0M256.1 76.5h0M260.2 91.3h0M265.7 96.9h0M265.9 80.0h0M256.8 83.9h0M265.2 95.7h0M273.3 98.1h0M254.8 79.6h0M253.8 77.2h0M266.1 102.4h0M267.5 100.5h0M266.0 90.0h0M269.4 101.9h0M264.6 76.9h0M270.8 100.7h0M263.9 68.0h0M263.5 88.3h0M271.1 97.5h0M268.8 102.0h0M256.0 84.0h0M258.3 70.8h0M267.3 84.0h0M256.5 80.3h0M256.9 82.0h0M268.4 93.6h0M273.6 106.7h0M257.9 75.4h0M266.0 68.2h0M270.6 101.1h0M271.6 96.8h0M259.5 90.6h0M266.7 72.0h0M265.1 78.3h0M256.2 76.2h0M271.4 105.1h0M262.4 74.4h0M264.7 87.2h0M267.3 74.5h0M260.8 85.2h0M265.9 91.8h0M258.2 70.3h0M265.9 73.6h0M260.9 85.1h0M265.9 74.9h0M261.6 72.1h0M264.3 90.8h0M267.4 96.7h0M265.6 81.8h0M264.4 94.4h0M270.4 97.8h0M262.4 73.3h0M255.9 79.4h0M265.7 69.8h0M259.3 73.3h0M265.0 75.5h0M275.3 102.9h0M257.3 74.9h0M252.9 73.4h0M266.6 77.2h0M259.7 94.0h0M267.9 95.4h0M255.9 86.6h0M258.5 72.6h0M262.3 72.8h0M269.2 93.5h0M260.3 70.1h0M266.3 84.2h0M265.8 80.3h0M259.7 89.4h0M268.9 74.7h0M262.1 88.4h0M270.6 74.3h0M256.1 87.1h0M254.7 75.4h0M266.9 78.7h0M267.6 88.0h0M269.2 100.0h0M262.5 89.3h0M266.1 102.7h0M273.0 103.5h0M261.5 75.8h0M272.3 99.9h0M262.9 83.7h0M268.4 103.5h0M260.6 76.7h0M270.3 92.6h0M256.2 86.8h0M257.6 82.3h0M272.3 97.4h0M271.4 95.4h0M273.0 102.0h0M270.0 96.8h0M272.2 105.5h0M274.7 103.0h0M253.8 74.8h0M273.8 100.1h0M262.3 93.8h0M263.8 86.7h0M263.8 96.5h0M259.7 83.5h0M269.4 104.7h0M261.9 86.0h0M257.8 75.8h0M259.4 76.0h0M267.3 90.4h0M270.1 97.7h0M264.3 85.4h0M265.3 94.4h0M259.9 90.8h0M262.0 94.2h0M265.5 88.9h0M267.9 67.4h0M264.6 78.7h0M252.7 73.8h0M259.8 93.5h0M269.3 101.0h0M260.4 91.9h0M264.2 93.1h0M259.3 87.5h0M267.4 89.9h0M256.9 83.8h0M274.1 102.0h0M253.0 74.4h0M268.9 74.1h0M271.4 102.4h0M261.4 79.7h0M272.2 98.3h0M264.9 89.1h0M258.9 91.1h0M263.2 91.0h0M256.9 87.1h0M268.9 97.6h0M259.2 72.3h0M268.9 72.4h0M273.7 100.4h0M258.0 71.0h0M268.5 95.8h0M271.4 107.0h0M269.0 71.0h0M267.2 76.4h0M271.4 98.1h0M267.5 88.3h0M274.0 99.5h0M264.1 71.9h0M266.3 68.3h0M268.6 98.3h0M259.7 73.7h0M265.5 78.4h0M262.8 70.7h0M261.3 78.7h0M267.6 94.7h0M265.0 71.7h0M260.2 81.2h0M267.5 79.7h0M263.3 93.8h0M258.4 72.8h0M268.0 93.7h0M256.6 83.4h0M266.3 102.7h0M268.1 81.1h0M269.4 78.3h0M264.2 92.7h0M267.3 71.2h0M267.4 99.4h0M261.2 84.9h0M267.2 90.0h0M276.2 101.5h0M268.8 81.5h0M267.9 102.2h0M263.0 89.6h0M260.0 78.1h0M265.4 70.6h0M262.6 82.5h0M267.7 87.5h0M263.1 99.6h0M259.4 84.0h0M259.9 80.6h0M257.0 77.5h0M263.0 89.5h0M266.6 74.2h0M268.6 67.4h0M266.1 73.5h0M267.6 71.6h0M273.6 103.3h0M258.8 72.1h0M272.3 97.2h0M262.0 90.3h0M265.6 80.3h0M260.7 74.0h0M267.4 100.6h0M258.6 88.0h0M263.4 76.4h0M268.6 93.3h0M265.9 68.8h0M259.3 84.7h0M265.6 77.0h0M263.1 72.5h0M270.2 74.0h0M270.3 99.4h0M274.0 97.5h0M261.1 82.3h0M260.0 78.5h0M264.9 69.6h0M261.7 75.6h0M263.9 86.3h0M265.7 99.2h0M272.8 106.1h0M274.3 103.2h0M262.4 71.8h0M259.4 75.9h0M262.3 79.0h0M261.7 91.4h0M261.9 87.5h0M255.6 80.1h0M257.0 72.7h0M274.9 105.5h0M265.0 93.2h0M255.3 78.4h0M271.0 106.5h0M273.6 103.8h0M256.3 82.9h0M268.2 100.2h0M268.6 68.4h0M259.3 69.5h0M264.4 72.5h0M268.1 83.9h0M264.2 101.6h0M252.2 74.7h0M257.7 84.9h0M257.5 83.1h0M254.2 81.9h0M257.3 79.6h0M269.8 78.2h0M275.6 106.0h0M266.4 83.0h0M263.6 90.2h0M264.0 68.4h0M270.6 71.6h0M265.8 77.7h0M268.8 92.7h0M270.3 100.5h0M257.3 87.0h0M256.7 88.6h0M260.0 72.1h0M266.8 69.4h0M262.6 83.1h0M269.2 76.9h0M254.9 75.2h0M259.2 70.2h0M270.7 96.8h0M269.7 95.4h0M265.8 92.3h0M263.2 84.8h0M263.5 92.0h0M259.0 87.1h0M257.7 71.2h0M270.0 99.9h0M265.4 96.1h0M260.6 83.4h0M269.5 71.6h0M262.4 75.2h0M261.8 94.5h0M268.5 103.1h0M259.9 84.3h0M271.5 94.2h0M255.1 75.8h0M270.7 104.3h0M264.4 72.4h0M265.3 76.7h0M267.8 92.8h0M272.5 104.6h0M269.9 102.5h0M275.2 106.3h0M256.5 75.9h0M267.0 89.4h0M262.1 87.5h0M256.7 84.3h0M256.8 86.9h0M270.1 76.6h0M265.4 68.4h0M263.3 89.3h0M270.3 73.6h0M270.3 73.6h0M262.3 76.7h0M267.5 101.7h0M258.8 89.0h0M268.3 91.6h0M258.7 84.4h0M258.7 75.1h0M257.1 87.2h0M274.1 103.2h0M270.5 104.4h0M260.6 74.1h0M254.9 71.6h0M272.8 100.4h0M266.0 85.2h0M270.0 71.7h0M272.0 98.8h0M267.4 88.1h0M261.1 85.0h0M264.5 81.5h0M273.6 107.2h0M262.0 73.0h0M259.6 71.9h0M273.5 96.2h0M259.6 93.6h0M255.9 86.0h0M264.8 85.9h0M261.8 90.6h0M261.5 79.3h0M264.1 71.2h0M258.7 84.0h0M276.0 103.4h0M265.4 94.4h0M267.1 100.3h0M257.0 76.6h0M267.2 68.4h0M271.5 71.7h0M272.7 98.1h0M256.7 72.8h0M259.5 73.5h0M258.9 70.7h0M271.3 101.0h0M275.8 105.6h0M257.8 72.0h0M273.6 107.0h0M264.8 69.5h0M260.4 81.6h0M259.9 80.5h0M262.5 84.2h0M265.8 69.7h0M264.0 70.7h0M274.7 99.4h0M254.6 75.9h0M268.3 89.4h0M261.7 83.9h0M257.2 83.9h0M257.5 75.4h0M260.4 91.3h0M270.7 92.9h0M260.7 84.9h0M260.9 80.2h0M262.4 67.8h0M265.3 98.4h0M271.5 95.5h0M254.5 78.2h0M267.7 81.5h0M265.8 87.6h0M258.1 89.1h0M262.5 91.4h0M268.7 98.6h0M264.3 90.6h0M264.1 81.4h0M263.8 81.8h0M267.1 86.2h0M267.1 95.5h0M266.0 99.2h0M263.1 99.3h0M264.0 67.6h0M258.7 89.3h0M255.8 85.5h0M259.2 76.2h0M265.6 91.1h0M257.1 88.9h0M266.9 81.2h0M262.1 71.1h0M256.6 88.6h0M275.5 102.7h0M257.4 86.7h0M270.4 94.8h0M263.6 74.0h0M254.8 80.0h0M266.8 79.0h0M269.8 95.9h0M268.1 72.5h0M266.2 78.0h0M273.4 104.4h0M258.2 86.4h0M268.2 100.2h0M271.6 99.3h0M262.0 98.2h0M266.3 81.9h0M259.5 87.7h0M254.9 77.9h0M267.6 75.3h0M259.6 74.5h0M258.5 83.4h0M254.9 79.9h0M274.5 105.8h0M269.2 106.4h0M267.6 83.9h0M275.8 105.3h0M269.7 102.0h0M263.4 78.0h0M268.4 100.6h0M258.1 89.0h0M264.0 69.8h0M263.9 95.2h0M263.0 90.9h0M258.7 75.5h0M259.6 79.3h0M260.0 88.3h0M260.3 83.0h0M260.7 69.2h0M270.3 105.6h0M268.5 105.5h0M264.9 93.5h0M254.2 80.0h0M264.8 71.4h0M259.6 90.8h0M271.7 94.1h0M271.0 94.8h0M260.4 91.2h0M259.4 92.5h0M256.8 80.9h0M260.9 87.1h0M263.8 99.4h0M266.7 76.3h0M268.6 88.6h0M270.9 106.4h0M261.2 87.7h0M264.6 71.5h0M260.0 88.0h0M255.8 79.9h0M252.9 78.7h0M267.8 87.5h0M252.5 76.4h0M264.7 93.7h0M267.6 100.8h0M263.1 77.2h0M265.2 79.6h0M272.3 106.0h0M267.1 76.5h0M259.3 70.4h0M263.1 79.8h0M263.8 82.0h0M256.5 76.2h0M260.0 87.6h0M259.2 82.8h0M259.4 74.5h0M265.7 87.8h0M265.2 88.2h0M260.6 93.4h0M255.8 80.3h0M258.0 76.5h0M260.2 79.6h0M271.8 100.6h0M259.4 77.5h0M263.5 94.7h0M265.1 68.4h0M268.8 95.2h0M273.0 100.4h0M265.5 90.6h0M253.9 74.7h0M254.7 71.3h0M273.4 104.2h0M260.3 85.8h0M266.0 95.5h0M263.6 88.3h0M255.4 75.5h0M262.0 90.4h0M262.4 87.3h0M253.0 76.4h0M255.8 75.3h0M266.4 96.5h0M261.5 71.0h0M258.3 71.0h0M264.2 82.2h0M256.5 76.3h0M263.1 76.5h0M266.5 76.4h0M264.8 97.5h0M260.4 70.4h0M259.1 72.3h0M263.6 77.8h0M274.8 99.6h0M260.5 89.1h0M272.1 70.9h0M256.8 76.1h0M272.7 106.2h0M268.3 76.7h0M258.3 88.5h0M259.4 72.9h0M256.8 76.0h0M269.7 68.0h0M261.7 68.5h0M272.0 98.0h0M254.3 79.5h0M271.5 95.1h0M262.1 72.7h0M255.7 81.5h0M263.9 93.8h0M265.5 88.7h0M266.9 69.5h0M257.4 81.4h0M271.7 71.4h0M261.2 94.9h0M255.8 81.4h0M255.8 84.1h0M260.8 88.9h0M269.9 68.6h0M263.9 93.6h0M271.3 96.7h0M261.3 94.9h0M262.9 80.0h0M257.2 78.5h0M256.9 87.5h0M272.3 96.9h0M271.4 102.9h0M262.9 84.8h0M262.8 69.2h0" stroke="#d0cce6" stroke-width="0.8" stroke-linecap="round" fill="none"/>
<path d="M262.7 98.2h0M257.3 81.0h0M254.3 77.9h0M259.6 77.3h0M259.0 76.4h0M269.6 69.1h0M260.8 91.5h0M259.5 72.4h0M266.4 73.6h0M259.0 85.2h0M265.3 97.9h0M262.7 74.9h0M263.7 93.6h0M256.0 79.8h0M253.1 79.7h0M269.9 105.3h0M262.5 97.2h0M265.7 80.7h0M267.0 83.2h0M272.7 99.4h0M265.5 87.6h0M264.4 82.8h0M270.6 102.5h0M266.2 88.7h0M268.4 72.9h0M260.7 88.8h0M268.8 92.0h0M264.4 85.7h0M267.0 76.7h0M253.2 73.4h0M258.6 75.4h0M274.1 97.3h0M269.9 99.5h0M262.2 81.4h0M264.7 101.7h0M267.0 88.8h0M263.5 81.2h0M259.3 80.8h0M266.8 90.9h0M262.9 86.0h0M263.6 81.4h0M255.9 83.4h0M271.1 94.6h0M270.5 96.5h0M257.4 82.5h0M255.1 73.6h0M264.5 86.9h0M258.4 84.3h0M254.5 78.4h0M269.5 92.6h0M258.4 76.6h0M262.0 69.2h0M264.8 71.1h0M260.1 81.2h0M267.5 72.4h0M270.4 103.8h0M267.2 79.7h0M256.9 84.7h0M274.4 98.7h0M264.4 90.3h0M261.3 74.7h0M270.2 72.8h0M264.8 83.2h0M258.2 85.9h0M270.3 98.7h0M272.7 104.9h0M271.5 95.5h0M263.2 76.4h0M256.3 74.3h0M263.8 90.5h0M270.5 106.3h0M255.5 81.4h0M254.8 84.7h0M259.5 70.5h0M264.4 86.4h0M260.2 69.7h0M259.6 68.7h0M260.1 78.8h0M272.0 71.4h0M265.5 83.1h0M252.7 74.2h0M268.7 75.9h0M272.9 105.6h0M274.9 100.5h0M263.0 67.8h0M267.8 79.2h0M266.5 97.8h0M269.3 71.5h0M254.6 82.5h0M263.7 86.5h0M266.2 97.6h0M271.4 96.7h0M270.1 96.1h0M252.3 75.4h0M260.8 71.3h0M267.8 85.3h0M260.8 93.6h0M258.2 83.7h0M259.0 91.6h0M266.7 99.5h0M261.9 79.5h0M265.6 85.1h0M269.3 68.6h0M267.8 92.9h0M267.9 69.3h0M256.4 73.7h0M263.9 92.1h0M258.5 73.0h0M273.4 107.3h0M251.6 75.5h0M256.5 74.1h0M263.9 68.9h0M259.1 76.7h0M263.4 99.2h0M263.4 86.4h0M275.6 102.9h0M269.9 104.8h0M275.1 103.4h0M269.2 100.9h0M261.2 72.0h0M275.8 105.3h0M273.5 102.2h0M271.9 96.9h0M268.2 101.1h0M255.5 85.6h0M261.1 81.5h0M262.9 93.8h0M264.5 73.2h0M260.4 91.3h0M256.6 86.3h0M262.8 90.8h0M261.8 78.0h0M264.5 82.1h0M271.5 105.5h0M255.6 75.6h0M264.6 72.5h0M264.3 83.1h0M263.7 74.0h0M264.0 96.4h0M262.7 91.9h0M266.9 82.7h0M267.0 89.9h0M267.6 83.1h0M268.6 99.7h0M268.2 77.1h0M274.6 100.8h0M267.6 90.0h0M263.0 74.8h0M266.2 96.7h0M268.5 105.9h0M275.5 103.2h0M260.8 77.0h0M270.6 98.9h0M260.4 83.6h0M273.9 100.4h0M258.5 83.3h0M270.1 98.5h0M257.4 70.7h0M251.9 75.2h0M267.4 93.5h0M259.4 84.7h0M274.9 100.3h0M259.1 74.6h0M262.5 98.2h0M273.5 99.4h0" stroke="#8676e6" stroke-width="0.85" stroke-linecap="round" fill="none" stroke-opacity="0.75"/>
<path d="M288.5 107.8h0M290.0 102.7h0M286.8 105.9h0M288.1 103.8h0M288.2 106.0h0M288.2 104.0h0M292.5 104.4h0M292.1 106.4h0M291.9 103.9h0M289.6 107.7h0M289.0 106.5h0M289.7 103.0h0M294.1 106.7h0M290.0 107.6h0M287.9 103.7h0M292.7 107.9h0M290.3 105.4h0M290.9 104.4h0M288.9 102.2h0" stroke="#d0cce6" stroke-width="0.8" stroke-linecap="round" fill="none"/>
<path d="M288.2 107.7h0M291.2 107.7h0M289.7 102.6h0M292.6 105.4h0M294.1 105.8h0" stroke="#8676e6" stroke-width="0.85" stroke-linecap="round" fill="none" stroke-opacity="0.75"/>
<path d="M282.6 115.8h0M282.5 108.8h0M283.4 97.2h0M280.5 100.6h0M276.3 106.5h0M284.0 103.6h0M282.0 107.5h0M278.6 106.5h0M285.3 111.6h0M284.1 102.1h0M272.8 113.2h0M285.9 105.2h0M282.5 107.7h0M279.9 102.8h0M283.4 110.4h0M283.6 97.8h0M278.1 105.4h0M274.5 106.1h0M285.9 111.7h0M281.1 102.4h0M275.3 106.2h0M275.7 111.2h0M284.7 110.1h0M283.1 103.8h0M281.1 114.3h0M285.3 105.8h0M284.3 101.6h0M275.5 105.2h0M278.1 102.2h0M275.1 113.7h0M281.9 107.5h0M285.3 102.9h0M281.6 100.4h0M281.5 106.8h0M280.4 102.8h0M277.1 107.7h0M277.3 109.3h0M282.6 115.4h0M282.8 108.3h0M281.1 100.8h0M280.5 103.0h0M276.6 106.4h0M273.0 113.6h0M276.0 114.1h0M285.4 111.4h0M279.1 103.6h0M277.9 105.0h0M276.5 110.6h0M273.6 112.9h0M277.2 114.9h0M284.7 102.1h0M280.4 112.4h0M286.4 99.3h0M278.8 108.7h0M280.5 115.7h0M280.3 103.6h0M284.6 98.9h0M279.9 101.0h0M281.2 110.2h0M285.9 100.6h0M274.5 112.8h0M274.0 105.9h0M283.9 113.3h0M286.2 109.5h0M281.0 111.0h0M283.4 111.8h0M286.3 98.8h0M277.4 105.5h0M284.2 96.6h0M278.3 114.6h0M274.8 106.5h0M278.1 115.6h0M276.8 110.2h0M277.9 114.0h0M278.1 107.8h0M280.7 112.7h0M278.7 114.9h0M279.7 114.7h0M283.4 104.1h0M280.6 108.4h0M280.9 98.9h0M285.3 103.2h0M280.3 101.9h0M277.7 105.3h0M275.8 103.9h0M285.9 97.9h0M283.4 115.1h0M281.9 116.1h0M276.0 115.5h0M283.6 110.2h0M278.9 111.2h0M286.0 98.7h0M273.0 110.7h0M284.9 115.7h0M282.4 110.7h0M280.3 106.1h0M278.0 114.1h0M282.9 110.9h0M283.4 96.6h0M279.4 113.3h0M276.2 106.1h0M277.8 101.3h0M285.6 107.1h0M280.6 108.3h0M285.7 102.2h0M283.4 112.6h0M276.3 108.2h0M277.7 116.5h0M279.8 104.9h0M280.5 105.5h0M280.2 117.3h0M272.5 111.8h0M279.8 99.2h0M282.1 112.8h0M281.9 112.9h0M282.4 108.4h0M284.7 111.2h0M279.4 115.3h0M278.0 114.0h0M282.7 105.9h0M277.5 102.7h0M279.0 108.2h0M281.4 107.8h0M279.3 106.5h0M276.4 106.8h0M276.5 104.3h0M278.7 108.7h0M278.8 115.4h0M285.8 106.1h0M280.2 99.9h0M279.6 103.7h0M285.0 106.6h0M283.4 100.5h0M279.5 106.7h0M276.6 104.1h0M276.9 110.2h0M274.6 107.4h0M278.8 114.6h0M284.7 108.0h0M279.2 112.1h0M284.0 115.9h0M285.3 97.9h0M282.2 112.5h0M272.6 109.4h0M283.3 102.6h0M283.3 103.3h0M278.8 110.3h0M282.2 109.5h0M274.1 110.4h0M281.3 108.2h0M281.7 111.9h0M279.0 101.3h0M283.9 106.5h0M286.5 109.5h0M273.0 106.0h0M273.8 109.1h0M275.5 115.7h0M284.7 110.2h0M282.0 115.1h0M281.2 113.4h0M273.1 111.0h0M284.6 102.6h0M284.6 102.7h0M277.2 104.5h0M281.5 116.6h0M285.9 97.5h0M285.3 110.9h0M279.7 107.9h0M279.1 115.4h0M272.5 110.9h0M273.1 106.9h0M286.4 98.0h0M278.6 101.6h0M282.2 107.3h0M272.8 108.7h0M279.9 113.3h0M281.9 103.4h0M284.1 115.6h0M284.2 111.9h0M275.3 114.4h0M283.1 102.9h0M282.1 110.3h0M276.0 107.4h0M276.7 112.5h0M281.5 110.1h0M285.4 98.9h0M282.9 111.8h0M273.1 113.3h0M281.0 100.3h0M282.4 116.0h0M275.9 110.8h0M276.9 114.0h0M272.6 112.7h0M284.1 102.1h0M277.2 114.6h0M281.0 103.7h0M284.9 97.9h0M279.3 110.3h0M284.1 110.3h0M274.6 111.2h0M276.4 103.4h0M281.4 103.3h0M284.3 113.1h0M280.7 114.6h0M284.8 107.8h0M284.8 100.4h0M281.1 109.4h0M275.9 106.5h0M284.9 105.9h0M279.3 116.4h0M286.3 96.9h0M278.7 113.0h0M284.5 106.9h0M280.6 107.0h0M281.8 99.8h0M275.5 105.9h0M273.4 112.0h0M278.5 113.1h0M286.5 100.7h0M283.7 110.9h0M282.4 112.4h0M279.9 100.7h0M283.9 100.3h0M272.3 112.0h0M286.3 108.2h0M280.1 101.1h0M285.3 108.7h0M285.9 107.9h0M281.3 111.7h0M273.0 108.5h0M283.6 96.5h0M285.8 105.9h0M276.1 105.9h0M276.4 110.9h0M277.4 105.6h0M278.1 112.4h0M284.9 104.7h0M285.2 95.8h0M282.7 107.3h0M280.6 103.3h0M284.1 114.3h0M277.8 104.0h0M283.3 99.0h0M280.5 113.6h0M278.9 107.4h0M277.1 112.1h0M283.9 115.5h0M281.3 100.4h0M278.0 114.2h0M278.8 111.5h0M281.9 108.8h0M280.3 101.1h0M277.3 116.0h0M279.2 101.2h0M280.5 116.2h0M277.4 103.4h0M281.3 105.6h0M283.9 100.1h0M286.1 111.4h0M285.2 105.8h0M282.7 112.6h0M277.8 116.5h0M282.7 106.5h0M283.1 102.4h0M282.3 107.0h0M277.9 111.6h0M275.7 110.7h0M278.2 116.7h0M285.2 104.8h0M275.3 103.5h0M282.1 115.3h0M286.0 101.1h0M282.1 111.3h0" stroke="#d0cce6" stroke-width="0.8" stroke-linecap="round" fill="none"/>
<path d="M286.4 108.9h0M282.2 116.2h0M282.0 107.1h0M274.2 113.1h0M283.4 96.7h0M282.2 104.5h0M276.6 103.6h0M279.7 101.8h0M277.6 106.0h0M281.3 111.6h0M275.5 106.4h0M282.2 108.3h0M275.5 112.3h0M285.9 107.8h0M285.2 115.0h0M276.6 115.4h0M276.2 107.7h0M274.5 105.9h0M279.2 109.8h0M280.3 106.5h0M273.3 109.3h0M282.6 112.7h0M281.1 106.1h0M281.1 115.2h0M284.9 98.7h0M282.8 101.1h0M285.3 101.3h0M276.1 114.0h0M280.9 99.4h0M278.4 117.1h0M272.4 109.2h0M278.9 102.9h0M276.5 107.7h0M281.5 116.7h0M283.5 111.3h0M284.6 106.2h0M282.2 105.5h0M277.0 110.8h0M282.4 102.3h0M276.4 112.2h0M280.7 115.1h0M285.9 98.1h0M283.0 109.1h0M282.6 115.9h0M278.8 103.6h0M276.5 108.4h0M285.8 111.2h0M282.7 100.7h0M280.6 111.0h0M285.7 97.8h0M278.7 104.8h0M283.1 98.6h0M272.3 110.7h0M283.6 111.8h0M286.4 100.6h0M277.9 113.1h0M284.4 102.2h0M280.2 108.9h0M282.5 97.3h0M274.1 113.7h0M283.8 105.2h0M283.2 113.4h0M285.4 112.1h0M282.7 104.8h0M285.0 103.5h0M276.2 115.1h0M285.7 107.0h0M284.7 97.7h0M274.3 109.3h0M286.0 100.7h0M275.0 108.8h0M281.0 109.8h0M277.0 113.8h0M283.7 105.6h0M283.2 98.0h0M281.9 112.8h0M284.5 102.3h0M278.1 113.5h0M280.0 103.5h0M273.4 110.6h0M277.1 111.3h0M282.2 114.6h0M275.1 104.8h0M273.2 113.1h0M276.7 109.3h0M284.6 104.0h0M278.0 102.4h0M279.5 108.3h0M282.0 113.6h0M283.5 112.4h0M284.4 96.9h0M272.6 110.8h0M284.5 99.2h0M283.4 101.1h0M281.3 107.6h0M284.6 99.7h0M280.8 103.0h0M279.1 112.3h0M284.4 97.5h0" stroke="#8676e6" stroke-width="0.85" stroke-linecap="round" fill="none" stroke-opacity="0.75"/>
<rect x="339" y="61" width="5.4" height="27" fill="url(#cbgrad)"/>
<text x="347" y="63.3" font-size="3.6" fill="#444">4</text>
<text x="347" y="69.55" font-size="3.6" fill="#444">3</text>
<text x="347" y="75.8" font-size="3.6" fill="#444">2</text>
<text x="347" y="82.05" font-size="3.6" fill="#444">1</text>
<text x="347" y="88.3" font-size="3.6" fill="#444">0</text>
<rect x="355.5" y="25" width="104" height="96" fill="#fdfdfd"/>
<text x="404.5" y="19.9" font-size="11.8" text-anchor="middle" font-style="italic">Postn</text>
<path d="M392.6 67.1h0M384.6 50.1h0M384.1 49.7h0M391.4 48.1h0M373.8 62.9h0M399.8 57.5h0M394.8 61.8h0M383.4 55.2h0M388.2 60.3h0M394.5 58.9h0M386.4 51.3h0M384.2 52.7h0M385.0 64.6h0M386.6 52.6h0M398.2 71.1h0M377.5 51.3h0M383.1 59.8h0M381.9 66.1h0M384.8 54.7h0M392.4 69.6h0M396.5 71.6h0M401.2 61.7h0M385.0 49.7h0M387.1 50.6h0M380.6 51.3h0M398.0 62.8h0M384.7 56.9h0M380.6 51.6h0M391.2 49.0h0M387.3 53.2h0M396.4 62.2h0M385.7 67.6h0M400.6 58.0h0M392.2 57.1h0M383.9 50.4h0M385.8 51.4h0M372.2 62.2h0M384.3 65.4h0M381.0 54.2h0M391.8 71.8h0M385.7 67.9h0M396.4 58.5h0M373.7 64.2h0M375.2 61.2h0M391.6 59.7h0M373.3 56.7h0M386.7 54.6h0M386.5 65.4h0M383.3 53.1h0M393.9 59.8h0M399.6 69.1h0M402.7 65.4h0M373.2 59.0h0M399.3 61.4h0M397.0 68.1h0M389.3 58.0h0M389.5 71.7h0M381.8 48.1h0M388.8 49.2h0M382.7 51.2h0M372.6 57.6h0M378.5 56.0h0M384.3 51.0h0M390.4 59.9h0M373.3 59.5h0M380.5 53.4h0M387.6 54.9h0M378.9 66.7h0M381.6 55.4h0M402.9 66.1h0M396.5 63.8h0M373.9 60.7h0M387.7 49.9h0M391.1 71.8h0M378.7 59.4h0M394.5 63.0h0M376.6 65.2h0M381.6 57.7h0M387.5 68.5h0M388.1 52.0h0M386.7 62.3h0M372.5 62.7h0M389.3 64.4h0M393.0 67.6h0M373.7 55.2h0M379.8 64.1h0M379.1 61.5h0M400.3 66.8h0M376.2 62.5h0M381.4 66.0h0M390.4 69.2h0M397.4 65.8h0M381.9 65.7h0M388.5 51.9h0M397.5 70.6h0M386.2 49.3h0M400.9 61.5h0M390.1 66.6h0M389.4 63.4h0M382.2 62.3h0M378.0 65.9h0M394.2 60.1h0M395.6 61.2h0M381.2 56.6h0M382.1 51.7h0M374.8 59.7h0M375.5 59.6h0M375.2 53.1h0M387.5 69.4h0M380.9 62.1h0M394.9 72.1h0M388.6 50.1h0M372.0 62.3h0M393.7 67.4h0M387.0 52.6h0M374.4 64.6h0M379.0 49.1h0M386.5 68.3h0M381.5 61.5h0M388.6 48.4h0M389.1 50.2h0M374.2 60.7h0M387.1 58.7h0M394.8 62.0h0M377.7 61.0h0M373.8 60.4h0M391.0 53.7h0M394.7 57.2h0M385.6 67.1h0M390.8 72.7h0M401.0 68.2h0M388.3 55.7h0M386.1 59.1h0M386.9 66.9h0M397.1 65.5h0M385.3 50.2h0M391.5 70.8h0M383.3 66.0h0M383.1 47.3h0M373.6 62.6h0M399.7 69.8h0M387.3 70.2h0M390.1 70.8h0M393.2 54.6h0M387.6 54.5h0M385.6 60.8h0M372.0 61.5h0M391.0 51.0h0M393.9 58.9h0M392.6 56.0h0M387.3 68.8h0M380.5 48.9h0M380.1 64.8h0M388.1 58.2h0M389.5 55.5h0M376.8 54.5h0M400.9 60.2h0M386.5 70.8h0M396.6 60.9h0M381.5 55.1h0M393.2 54.4h0M385.2 49.6h0M378.5 56.1h0M387.3 56.2h0M391.4 59.0h0M385.4 54.9h0M383.0 59.4h0M399.2 59.4h0M398.6 65.1h0M381.6 63.4h0M372.7 64.5h0M392.5 56.2h0M380.7 61.1h0M389.4 70.1h0M397.3 57.1h0M401.7 64.8h0M380.1 50.5h0M392.9 68.1h0M397.2 60.5h0M391.5 49.7h0M398.0 66.4h0M389.7 53.8h0M390.8 47.8h0M385.1 62.1h0M393.5 61.3h0M377.9 65.4h0M381.3 67.7h0M377.8 56.0h0M390.6 69.4h0M393.6 51.4h0M395.0 69.1h0M385.2 68.3h0M381.4 48.9h0M387.6 48.3h0M399.0 67.3h0M383.9 50.4h0M387.9 48.7h0M396.1 68.8h0M373.7 55.2h0M388.2 57.1h0M395.6 64.9h0M386.1 50.6h0M397.6 63.1h0M379.4 54.3h0M384.4 58.2h0M391.1 51.1h0M390.8 64.2h0M399.1 69.2h0M396.0 62.7h0M392.2 63.2h0M382.7 48.7h0M386.1 57.4h0M381.6 57.5h0M387.1 63.5h0M395.6 66.3h0M380.2 60.6h0M389.5 54.0h0M390.1 63.2h0M385.5 53.4h0M386.4 63.6h0M402.1 64.4h0M392.4 71.3h0M372.4 58.6h0M382.1 63.6h0M389.6 64.4h0M386.1 63.9h0M389.0 63.7h0M390.4 57.3h0M395.1 60.7h0M372.6 56.8h0M373.4 58.7h0M394.9 58.0h0M384.4 53.3h0M402.1 65.5h0M390.0 50.8h0M393.2 60.5h0M375.4 62.1h0M379.2 53.2h0M381.3 67.8h0M388.3 50.3h0M392.0 50.8h0M383.6 60.0h0M378.7 50.4h0M388.1 69.0h0M382.4 64.9h0M379.9 64.5h0M393.1 59.1h0M400.0 60.1h0M381.8 51.6h0M380.4 66.1h0M373.7 63.5h0M399.0 67.2h0M374.7 65.1h0M378.5 63.6h0M386.3 60.4h0M391.7 58.0h0M396.5 63.8h0M379.2 52.1h0M376.2 58.4h0M380.6 63.7h0M375.3 56.1h0M387.7 63.4h0M388.9 64.0h0M378.7 64.0h0M384.4 63.6h0M393.2 58.5h0M386.3 60.9h0M382.1 61.6h0M390.9 69.6h0M393.9 61.8h0M398.7 67.8h0M401.3 58.9h0M376.6 63.7h0M396.5 66.7h0M388.4 68.2h0M377.7 59.6h0M389.2 54.1h0M381.4 66.8h0M388.1 66.5h0M389.2 68.6h0M385.7 48.4h0M399.8 67.1h0M393.9 52.4h0M377.0 55.0h0M383.8 60.4h0M378.9 54.4h0M377.4 52.1h0M387.1 64.3h0M386.7 49.2h0M374.8 63.1h0M394.0 53.4h0M382.6 50.3h0M386.2 54.4h0M397.7 57.5h0M384.9 56.9h0M384.2 66.9h0M382.3 61.1h0M384.6 65.6h0M378.8 52.2h0M385.5 68.1h0M373.4 64.1h0M390.7 71.1h0M396.1 60.1h0M391.0 54.1h0M378.6 50.7h0M390.4 54.6h0M384.9 65.4h0M400.7 70.1h0M393.1 62.9h0M377.2 64.7h0M396.1 68.8h0M402.3 66.6h0M384.0 65.8h0M383.2 48.7h0M380.0 67.5h0M380.4 64.6h0M378.9 59.7h0M392.3 72.5h0M375.4 60.4h0M377.9 58.7h0M373.9 62.2h0M387.9 49.8h0M386.6 58.8h0M381.8 63.8h0M402.4 62.8h0M382.2 65.8h0M388.5 63.3h0M384.1 48.9h0M373.0 56.6h0M378.0 66.3h0M390.2 49.1h0M394.9 57.7h0M390.4 54.6h0M375.8 55.7h0M392.7 60.4h0M395.4 67.5h0M376.4 54.9h0M393.8 58.2h0M384.5 50.7h0M396.4 67.0h0M391.5 71.5h0M396.3 59.7h0M396.8 73.0h0M397.8 71.3h0M389.6 48.9h0M392.7 54.2h0M377.3 53.7h0M388.3 55.0h0M383.3 60.1h0M375.8 61.3h0M390.6 61.0h0M371.5 61.0h0M398.5 68.9h0M386.2 52.3h0M374.7 64.0h0M375.4 58.8h0M392.1 64.4h0M381.1 62.8h0M400.3 67.7h0M385.7 47.4h0M392.8 72.6h0M383.8 60.1h0M386.3 49.0h0M381.6 67.4h0M395.2 70.5h0M400.5 63.9h0M401.6 66.1h0M386.9 49.5h0M383.8 46.8h0M373.3 65.0h0M389.4 61.2h0M380.8 57.0h0M388.8 70.8h0M389.2 55.7h0M375.3 60.6h0M389.3 67.5h0M382.3 50.0h0M385.5 51.6h0M383.7 52.0h0M394.8 56.1h0M390.1 68.8h0M379.4 52.5h0M374.6 64.7h0M396.5 67.5h0M394.0 62.7h0M392.8 54.9h0M380.1 48.9h0M380.9 60.6h0M401.2 70.0h0M385.9 49.1h0M375.0 63.4h0M390.9 65.6h0M398.7 60.3h0M384.2 64.5h0M391.3 51.4h0M377.5 55.6h0M396.5 63.3h0M396.6 66.6h0M395.3 61.1h0M402.2 67.0h0M387.7 63.5h0M386.9 56.0h0M392.8 69.6h0M383.6 58.0h0M380.3 48.1h0M384.6 62.0h0M385.6 66.6h0M378.4 61.5h0M374.1 56.5h0M373.9 54.4h0M396.8 59.8h0M380.7 57.9h0M385.6 50.8h0M393.1 69.2h0M378.5 50.9h0M374.9 62.5h0M389.7 63.0h0M386.3 70.0h0M385.3 59.5h0M385.5 46.5h0M384.7 52.6h0M384.3 47.5h0M384.3 56.8h0M395.2 62.8h0M390.6 68.5h0M390.0 47.8h0M384.0 57.6h0M387.6 59.9h0M396.7 67.1h0M397.3 60.9h0M390.6 57.6h0M401.3 67.8h0M388.7 64.1h0M372.0 59.8h0M375.6 55.3h0M395.4 72.2h0M374.2 56.0h0M400.2 68.6h0M384.4 60.6h0M377.0 50.7h0M381.9 60.8h0M400.2 59.4h0M383.5 65.4h0M398.0 71.8h0M382.4 54.3h0M375.7 54.8h0M389.9 69.6h0M390.8 65.0h0M391.1 63.2h0M380.2 62.3h0M381.3 57.5h0M377.1 57.8h0M378.4 66.2h0M386.1 57.9h0M390.4 52.1h0M381.4 50.3h0M391.7 71.8h0M374.6 61.1h0M388.5 63.2h0M403.0 62.6h0M402.3 68.4h0M389.8 63.0h0M385.9 53.4h0M387.3 53.5h0M384.0 48.9h0M389.0 55.0h0M385.3 56.0h0M383.7 60.7h0M381.4 63.4h0M395.7 71.2h0M384.6 62.6h0M375.7 60.8h0M379.1 56.8h0M388.8 57.2h0M378.9 61.4h0M381.3 66.4h0M389.3 58.1h0M396.4 67.1h0M391.0 71.9h0M381.3 68.2h0M397.6 60.0h0M393.8 67.3h0M392.7 70.0h0M382.7 61.1h0M387.4 67.4h0" stroke="#d0cce6" stroke-width="0.8" stroke-linecap="round" fill="none"/>
<path d="M375.4 65.1h0M381.4 47.7h0M387.7 60.1h0M387.9 58.1h0M395.9 71.0h0M371.7 60.6h0M391.4 61.7h0M390.1 55.7h0M384.3 47.1h0M387.3 65.5h0M396.7 60.6h0M377.6 54.9h0M373.2 58.7h0M375.8 63.6h0M400.8 68.8h0M377.5 62.2h0M390.8 51.7h0M392.1 51.1h0M378.6 66.8h0M380.6 59.7h0M374.2 56.3h0M390.4 71.6h0M389.6 67.2h0M387.8 54.0h0M374.5 62.7h0M381.3 57.1h0M399.1 69.0h0M381.2 55.5h0M379.2 58.2h0M388.1 49.7h0M381.3 51.3h0M387.4 65.1h0M400.3 59.9h0M401.0 66.8h0M391.9 56.9h0M378.4 58.1h0M391.2 68.9h0M378.2 58.9h0M392.2 61.7h0M372.8 56.3h0M382.7 67.6h0M379.7 67.3h0M387.2 67.2h0M387.0 57.7h0M395.4 64.2h0M389.9 63.3h0M378.2 66.7h0M398.5 63.5h0M388.5 47.9h0M380.4 57.9h0M373.0 64.7h0M382.2 53.6h0M395.2 56.0h0M371.4 60.9h0M375.3 52.4h0M383.4 47.5h0M396.7 61.5h0M375.8 64.8h0M393.6 54.1h0M382.7 65.2h0M395.2 68.8h0M397.7 71.0h0M402.3 66.9h0M382.5 49.7h0M379.8 60.9h0M396.8 64.1h0M377.8 66.2h0M398.0 57.5h0M381.1 50.6h0M403.2 62.2h0M387.8 69.9h0M394.0 74.0h0M372.6 62.9h0" stroke="#8676e6" stroke-width="0.85" stroke-linecap="round" fill="none" stroke-opacity="0.75"/>
<path d="M361.5 49.2h0M363.6 47.2h0M363.0 49.7h0M361.0 47.7h0M362.5 46.4h0M362.3 49.5h0M361.3 47.0h0M363.5 48.8h0M362.8 49.7h0" stroke="#d0cce6" stroke-width="0.8" stroke-linecap="round" fill="none"/>
<path d="M360.4 47.6h0M363.4 47.4h0M362.4 48.4h0" stroke="#8676e6" stroke-width="0.85" stroke-linecap="round" fill="none" stroke-opacity="0.75"/>
<path d="M406.6 37.5h0M402.0 35.2h0M401.8 39.6h0M402.6 26.7h0M407.1 38.4h0M401.4 31.6h0M401.4 35.8h0M409.9 35.9h0M400.5 31.9h0M404.2 31.1h0M403.3 35.7h0M406.0 38.5h0M408.1 36.9h0M406.2 29.5h0M402.1 34.9h0M406.6 29.0h0M406.6 30.0h0M406.3 34.0h0M404.1 38.0h0M410.4 37.5h0M409.3 33.7h0M404.4 31.7h0M400.6 32.1h0M404.1 26.4h0M405.8 31.4h0M406.2 38.4h0M402.6 28.4h0M402.1 38.3h0M406.0 31.3h0M405.6 36.7h0M403.6 33.3h0M404.8 37.7h0M405.9 32.6h0M403.7 39.5h0M404.5 26.6h0M407.7 31.1h0M406.8 27.8h0M402.2 33.2h0M407.4 34.3h0M404.3 37.9h0M403.5 28.5h0M400.5 35.6h0M400.3 37.4h0M404.3 34.1h0M408.0 35.2h0M401.9 36.8h0M401.2 33.9h0M406.3 28.6h0M404.2 38.6h0M406.8 38.9h0M403.0 30.0h0M401.0 27.9h0M407.4 31.6h0M401.7 30.3h0M402.5 31.5h0M408.1 34.0h0M405.4 28.2h0M405.6 30.5h0M400.3 33.0h0M404.9 28.0h0M400.7 32.3h0M405.7 28.2h0M401.0 28.3h0M409.1 35.0h0M409.2 34.5h0M405.9 32.4h0M403.2 33.2h0M401.4 39.4h0M404.7 29.3h0M401.6 38.4h0M403.3 26.4h0M406.9 33.7h0M409.5 35.3h0M409.3 35.8h0M404.0 40.0h0M406.1 29.7h0M408.8 36.8h0M402.3 32.8h0M401.5 36.8h0M407.7 35.8h0M402.3 28.0h0M405.6 32.4h0M402.4 38.9h0M406.6 32.0h0M407.4 29.0h0M406.0 35.2h0M403.9 39.6h0M401.8 29.4h0M403.8 33.4h0M403.3 27.8h0M403.1 31.4h0M403.3 26.7h0M408.4 38.6h0M401.3 36.4h0M407.4 36.8h0M407.7 32.4h0" stroke="#cfcfd6" stroke-width="0.8" stroke-linecap="round" fill="none"/>
<path d="M407.9 37.0h0M403.2 32.9h0M403.5 31.1h0M405.2 38.3h0M401.3 30.9h0M409.1 33.0h0M402.1 32.5h0M403.2 34.9h0M403.3 37.6h0" stroke="#8676e6" stroke-width="0.85" stroke-linecap="round" fill="none" stroke-opacity="0.75"/>
<path d="M432.3 81.9h0M433.5 77.0h0M438.6 80.1h0M436.3 81.6h0M434.7 76.8h0M430.6 80.0h0M434.6 77.1h0M427.1 81.7h0M431.0 79.2h0M435.4 79.1h0M438.7 78.9h0M434.5 78.6h0M436.4 78.8h0M438.1 78.0h0M436.0 76.1h0M430.1 79.0h0M438.7 80.7h0M433.0 78.8h0M428.2 81.1h0M433.5 76.9h0M433.7 77.3h0M437.5 81.6h0M430.1 80.3h0M437.0 81.9h0M437.3 81.6h0M438.0 77.5h0M437.4 74.6h0M437.2 72.4h0M428.2 80.1h0M432.0 82.2h0M436.7 73.1h0M428.2 80.1h0M435.4 77.6h0M432.3 80.1h0M438.2 75.4h0M436.1 80.3h0M437.8 75.2h0M430.8 78.4h0M428.8 80.4h0M438.0 74.7h0M438.5 77.2h0M436.5 76.5h0M427.9 82.1h0M437.3 80.5h0M438.4 78.3h0M437.4 75.6h0M434.1 79.3h0M436.0 75.0h0M428.7 79.6h0M436.6 81.7h0M429.7 81.8h0M435.3 76.0h0M428.7 81.3h0M430.0 80.8h0M434.8 79.1h0M436.1 79.0h0M437.7 79.6h0M438.6 80.2h0M432.3 80.4h0M431.6 78.4h0M429.3 81.7h0M437.0 74.0h0M430.8 81.1h0M430.7 78.9h0M437.4 80.3h0M434.1 80.9h0M436.6 75.2h0M439.7 79.6h0M439.1 78.0h0M435.1 79.5h0M437.3 81.0h0M432.9 80.4h0M438.5 75.7h0M437.0 77.8h0M435.9 76.0h0M429.6 80.2h0M432.4 78.9h0M435.1 81.4h0M428.2 81.0h0M430.2 80.1h0M438.5 76.8h0M436.4 75.6h0M436.6 78.4h0M437.7 79.1h0M436.7 74.5h0M437.5 73.0h0M436.5 80.0h0M432.5 80.2h0M434.5 78.3h0M429.2 81.1h0M426.4 80.6h0M433.4 80.1h0M437.1 79.5h0M435.8 82.0h0M436.6 79.9h0M439.4 79.8h0M438.0 79.0h0M438.1 79.0h0M435.6 79.4h0M429.5 80.5h0M436.1 81.3h0M435.0 76.0h0M436.5 76.8h0M432.3 77.6h0M434.5 80.2h0M439.4 79.9h0M429.9 82.3h0M438.4 79.1h0M431.7 81.1h0M427.7 81.5h0M435.9 82.4h0M430.1 79.3h0M437.0 72.9h0M430.4 79.1h0M438.2 78.1h0M436.9 74.5h0M426.8 80.9h0M436.6 76.8h0M437.4 75.0h0M437.6 81.2h0M432.8 82.3h0" stroke="#cfcfd6" stroke-width="0.8" stroke-linecap="round" fill="none"/>
<path d="M437.3 77.8h0M430.4 81.6h0M432.4 79.2h0M432.8 82.3h0M435.3 77.0h0M438.8 79.3h0M435.3 79.0h0M435.5 75.6h0M437.3 79.7h0M428.3 81.4h0M427.2 80.6h0M427.6 81.2h0M431.1 80.6h0M434.0 80.8h0M434.4 78.1h0M433.8 79.1h0M431.3 80.8h0M433.7 80.6h0M425.7 80.9h0M429.9 79.0h0M433.3 79.2h0M432.1 78.3h0M432.9 77.7h0M430.0 80.4h0M439.1 79.8h0M436.8 80.7h0M430.9 81.3h0M434.6 77.2h0M427.5 81.9h0M436.7 76.1h0M433.1 81.7h0M433.7 78.6h0M433.9 80.9h0M434.4 80.9h0M436.7 78.0h0M438.0 76.6h0M436.8 75.1h0M436.7 80.7h0M433.6 78.2h0M431.9 80.2h0" stroke="#8676e6" stroke-width="0.85" stroke-linecap="round" fill="none" stroke-opacity="0.75"/>
<path d="M365.5 77.6h0M368.6 80.6h0M377.1 92.3h0M375.1 83.9h0M373.4 86.6h0M370.4 75.5h0M375.7 85.7h0M366.4 76.6h0M363.6 76.1h0M378.3 103.7h0M376.9 71.8h0M382.9 99.1h0M378.1 92.5h0M369.4 76.8h0M381.2 72.5h0M367.6 74.4h0M376.3 71.9h0M378.8 90.3h0M371.7 91.7h0M382.4 102.9h0M370.2 76.6h0M375.2 82.9h0M365.8 78.2h0M376.1 97.7h0M374.8 98.2h0M376.2 71.6h0M381.6 100.2h0M365.6 75.1h0M380.4 103.2h0M379.3 105.8h0M374.4 86.5h0M384.2 101.9h0M373.1 95.5h0M378.8 104.7h0M383.5 101.4h0M364.7 85.3h0M365.3 76.6h0M366.6 83.8h0M371.1 82.7h0M372.6 81.3h0M372.1 91.3h0M378.0 76.7h0M378.5 93.3h0M370.0 81.2h0M376.9 102.9h0M377.5 72.4h0M369.9 70.7h0M379.6 105.1h0M375.5 86.0h0M376.5 77.6h0M376.2 90.5h0M378.6 104.9h0M384.9 105.3h0M379.1 96.4h0M374.3 85.6h0M370.5 82.6h0M371.2 75.5h0M376.8 104.3h0M371.6 98.2h0M371.2 91.5h0M367.7 74.0h0M368.8 85.7h0M371.2 90.1h0M376.6 96.3h0M372.9 97.5h0M376.5 100.7h0M383.9 99.6h0M373.9 99.7h0M366.9 81.1h0M365.5 74.3h0M370.4 84.6h0M369.8 80.2h0M369.8 79.0h0M378.7 100.4h0M381.9 95.0h0M373.9 81.0h0M363.6 71.5h0M374.9 103.2h0M363.0 72.2h0M369.7 87.7h0M368.4 81.9h0M379.8 97.0h0M364.8 73.6h0M365.3 84.1h0M369.4 73.2h0M373.6 81.8h0M370.0 95.2h0M365.0 84.5h0M378.3 96.9h0M375.2 68.1h0M377.5 90.0h0M375.7 78.2h0M373.7 71.0h0M384.3 101.4h0M383.5 97.2h0M374.4 95.1h0M367.9 82.2h0M370.7 86.2h0M377.7 78.2h0M375.8 86.4h0M371.7 91.8h0M379.5 99.9h0M373.8 98.2h0M379.6 96.0h0M369.6 88.7h0M375.2 71.4h0M377.7 68.5h0M374.1 85.3h0M377.4 77.7h0M372.0 74.0h0M371.8 84.0h0M370.2 89.8h0M378.4 89.2h0M379.6 75.7h0M378.1 80.1h0M365.4 81.4h0M369.7 88.5h0M376.7 77.8h0M371.5 90.5h0M378.8 104.5h0M369.6 93.6h0M379.1 92.9h0M376.0 96.2h0M379.3 102.6h0M378.4 79.1h0M376.0 103.6h0M383.8 105.6h0M378.1 93.3h0M370.3 86.4h0M377.8 67.6h0M376.3 86.8h0M378.1 98.0h0M370.5 80.1h0M379.0 71.0h0M370.7 81.8h0M373.0 71.8h0M373.1 86.0h0M375.6 85.2h0M380.5 94.2h0M383.2 107.3h0M384.7 101.8h0M373.2 91.3h0M372.9 86.3h0M363.5 74.8h0M377.3 85.9h0M376.5 99.4h0M372.9 70.9h0M380.0 69.2h0M368.4 75.2h0M375.5 67.8h0M368.1 73.0h0M372.7 78.8h0M377.3 73.2h0M371.3 72.1h0M381.5 71.9h0M371.6 92.7h0M371.5 83.4h0M374.3 98.2h0M375.5 71.0h0M373.5 75.6h0M371.4 79.7h0M379.3 75.3h0M364.0 77.5h0M376.0 69.2h0M363.2 81.5h0M378.4 91.1h0M372.3 75.3h0M379.3 68.3h0M382.7 105.1h0M375.9 73.3h0M367.3 83.4h0M375.7 84.0h0M373.5 81.8h0M376.3 91.8h0M378.5 95.5h0M379.3 78.1h0M370.3 88.4h0M366.7 76.2h0M367.2 90.0h0M377.5 77.5h0M378.4 81.4h0M363.9 71.8h0M370.7 80.4h0M377.2 68.8h0M366.7 83.3h0M374.5 86.6h0M374.5 101.7h0M367.4 89.6h0M363.0 72.1h0M374.9 68.5h0M377.1 101.1h0M384.5 106.8h0M361.8 76.2h0M372.8 87.1h0M371.6 73.2h0M377.0 70.5h0M368.3 90.4h0M375.6 102.0h0M369.4 92.1h0M378.5 68.6h0M374.7 82.6h0M368.1 85.0h0M381.8 104.7h0M373.9 84.1h0M374.0 78.0h0M376.7 93.7h0M374.1 79.9h0M374.0 95.1h0M378.7 93.2h0M369.3 80.0h0M367.7 77.6h0M371.4 72.1h0M368.7 82.1h0M382.0 99.2h0M367.9 75.2h0M372.0 87.8h0M374.7 85.6h0M375.2 99.2h0M375.9 94.8h0M384.1 104.4h0M370.8 96.2h0M372.7 72.6h0M372.7 74.8h0M363.0 73.2h0M370.1 90.5h0M374.6 81.0h0M371.1 87.2h0M363.8 77.7h0M379.0 103.6h0M376.2 99.7h0M370.6 92.2h0M377.0 72.7h0M379.3 71.1h0M380.9 95.2h0M368.6 71.7h0M370.6 68.4h0M362.3 73.4h0M375.3 81.7h0M369.9 71.0h0M382.0 101.4h0M373.9 69.8h0M382.3 97.1h0M374.2 102.2h0M374.2 69.6h0M375.8 73.8h0M380.8 73.6h0M374.7 79.1h0M374.0 93.7h0M367.3 87.8h0M373.8 73.1h0M377.4 104.6h0M375.7 103.1h0M373.1 100.3h0M375.8 79.3h0M364.4 79.6h0M365.9 72.7h0M373.8 85.4h0M375.4 101.8h0M377.0 72.7h0M375.4 74.6h0M380.5 97.6h0M378.2 78.6h0M366.9 73.1h0M371.5 74.5h0M377.7 100.0h0M374.7 84.8h0M365.0 75.9h0M374.4 75.3h0M374.5 98.5h0M373.2 78.0h0M368.8 75.4h0M369.7 87.6h0M370.7 71.2h0M371.3 70.0h0M379.7 98.9h0M376.8 87.5h0M373.2 95.6h0M373.4 86.5h0M375.7 85.0h0M380.7 101.5h0M372.3 77.6h0M379.9 76.2h0M372.3 69.7h0M365.3 70.5h0M363.3 74.4h0M369.7 74.9h0M370.0 86.4h0M373.7 95.7h0M376.1 100.8h0M367.1 71.1h0M382.3 105.0h0M369.0 82.6h0M366.1 81.5h0M378.9 78.2h0M373.1 85.0h0M372.0 77.7h0M374.8 81.0h0M367.5 74.2h0M375.8 67.7h0M380.0 94.8h0M363.1 77.9h0M377.5 88.9h0M374.8 67.8h0M377.6 91.2h0M369.5 81.8h0M369.8 77.3h0M376.1 90.3h0M371.9 97.6h0M377.9 95.5h0M372.9 73.0h0M377.2 69.7h0M375.4 83.8h0M378.2 72.4h0M374.9 95.9h0M372.9 73.7h0M371.7 74.8h0M369.6 77.6h0M378.0 90.4h0M373.3 67.9h0M362.8 75.6h0M374.2 73.8h0M374.5 91.1h0M371.8 68.9h0M384.0 104.3h0M383.2 99.1h0M367.6 83.9h0M368.0 78.0h0M374.1 94.4h0M378.6 103.9h0M367.1 83.5h0M370.8 89.4h0M378.5 79.5h0M370.6 88.6h0M363.8 73.2h0M371.3 91.7h0M381.2 104.3h0M370.0 79.1h0M381.1 106.5h0M382.1 101.8h0M364.3 72.2h0M363.3 79.6h0M376.3 96.8h0M365.6 85.5h0M365.9 85.7h0M372.1 86.7h0M375.2 76.3h0M376.6 88.8h0M366.4 89.2h0M369.8 75.7h0M378.9 73.9h0M362.8 76.1h0M369.9 92.7h0M370.4 79.4h0M377.8 78.1h0M375.2 89.9h0M376.6 91.0h0M367.5 82.6h0M379.8 95.8h0M378.1 102.3h0M376.3 82.4h0M378.3 73.4h0M380.9 70.6h0M374.5 87.8h0M374.4 94.8h0M377.5 72.8h0M372.1 96.1h0M377.7 105.9h0M377.7 104.3h0M374.5 73.9h0M379.5 104.5h0M375.7 104.5h0M368.7 83.0h0M374.3 83.2h0M375.8 72.4h0M370.2 80.7h0M377.3 75.9h0M377.0 85.6h0M362.4 77.7h0M366.9 74.4h0M365.0 78.1h0M363.7 81.4h0M365.9 87.1h0M370.5 95.0h0M361.1 75.8h0M363.7 79.2h0M375.5 80.1h0M377.4 85.7h0M384.8 101.7h0M369.3 75.7h0M367.2 76.1h0M375.8 80.6h0M376.0 94.3h0M371.3 93.9h0M372.5 85.7h0M377.0 87.8h0M379.1 105.4h0M369.2 88.0h0M374.5 78.4h0M378.5 101.1h0M384.4 102.4h0M377.1 73.6h0M370.8 94.6h0M384.8 102.6h0M377.0 81.2h0M374.3 80.6h0M379.8 96.3h0M364.7 71.6h0M374.3 99.7h0M371.4 87.0h0M379.0 105.9h0M377.2 70.4h0M381.0 72.0h0M364.6 77.6h0M376.6 69.7h0M370.5 91.6h0M366.7 78.7h0M381.0 106.9h0M364.2 78.1h0M367.1 76.7h0M383.4 101.9h0M372.6 80.9h0M365.1 81.7h0M373.2 81.7h0M379.6 105.0h0M377.6 96.3h0M373.8 77.3h0M386.0 101.9h0M378.6 94.4h0M371.0 79.7h0M377.4 79.0h0M376.9 73.9h0M366.2 71.4h0M374.1 88.8h0M374.5 102.7h0M373.7 91.6h0M380.0 74.5h0M373.7 98.1h0M381.6 95.3h0M376.1 98.9h0M372.8 84.9h0M371.0 79.8h0M378.7 72.9h0M375.6 75.1h0M373.6 72.6h0M377.3 95.2h0M369.2 91.3h0M369.3 84.0h0M368.7 73.9h0M373.4 75.8h0M384.5 106.2h0M374.0 92.2h0M371.4 91.6h0M366.8 86.7h0M381.5 104.2h0M373.4 94.8h0M371.0 86.4h0M374.1 79.2h0M385.3 100.7h0M380.3 100.4h0M383.6 98.5h0M369.3 92.3h0M369.3 70.1h0M369.1 93.5h0M374.3 99.0h0M366.1 87.3h0M362.0 76.5h0M362.3 75.0h0M373.7 96.1h0M361.9 73.6h0M373.5 86.3h0M373.8 71.2h0M366.9 76.4h0M375.3 88.5h0M377.3 95.7h0M376.0 98.6h0M367.8 74.8h0M373.3 90.7h0M376.5 70.1h0M378.5 69.7h0M374.2 68.0h0M367.4 81.6h0M375.5 91.7h0M372.5 97.0h0M374.5 93.7h0M382.3 101.4h0M372.3 70.0h0M371.6 73.2h0M363.9 73.1h0M375.9 101.2h0M372.1 68.7h0M382.9 106.1h0M379.6 92.8h0M376.9 98.8h0M374.2 87.6h0M381.9 100.6h0M370.6 87.0h0M373.9 86.0h0M368.2 70.5h0M380.0 97.9h0M378.7 73.0h0M372.1 86.5h0M377.9 70.4h0M378.3 80.7h0M374.7 97.4h0M382.2 101.1h0M368.3 89.3h0M376.5 68.8h0M367.4 85.3h0M371.7 87.8h0M379.4 70.5h0M383.2 100.6h0M378.9 71.7h0M377.8 93.3h0M370.2 74.9h0M383.1 100.6h0M373.9 77.3h0M372.4 79.1h0M367.5 89.7h0M366.3 70.6h0M365.8 80.2h0M373.9 74.5h0M372.7 83.8h0" stroke="#d0cce6" stroke-width="0.8" stroke-linecap="round" fill="none"/>
<path d="M371.2 68.3h0M379.0 74.7h0M375.1 70.8h0M368.4 74.0h0M371.8 93.1h0M367.3 87.3h0M366.4 81.3h0M367.0 90.2h0M377.5 70.7h0M372.9 89.1h0M377.7 78.9h0M368.6 90.6h0M368.5 76.2h0M377.2 72.8h0M368.6 86.0h0M372.3 81.4h0M375.1 95.4h0M385.3 106.0h0M367.4 81.8h0M361.7 74.2h0M382.9 101.9h0M378.3 69.4h0M370.6 95.0h0M374.9 81.0h0M372.7 73.6h0M372.1 89.1h0M375.8 81.9h0M371.4 86.4h0M378.9 75.7h0M374.6 72.9h0M369.8 72.0h0M374.7 85.4h0M379.0 91.6h0M373.0 94.8h0M375.3 103.1h0M374.8 91.7h0M380.4 100.9h0M384.5 107.0h0M375.1 80.4h0M362.8 78.6h0M375.7 82.2h0M361.7 75.1h0M364.9 78.5h0M372.1 85.1h0M367.8 89.6h0M372.4 69.0h0M369.3 69.7h0M365.9 85.0h0M378.0 91.7h0M377.9 75.6h0M364.4 82.8h0M384.7 99.7h0M374.0 91.1h0M378.8 100.9h0M370.4 95.7h0M371.9 83.4h0M375.0 97.2h0M370.2 84.6h0M364.8 71.5h0M365.0 82.5h0M377.2 80.8h0M375.6 96.4h0M369.4 74.6h0M365.8 77.8h0M375.6 68.4h0M372.8 91.1h0M375.2 71.7h0M384.5 104.2h0M373.2 68.7h0M382.7 100.7h0M376.7 82.1h0M376.3 92.5h0M372.5 76.6h0M375.0 86.6h0M374.6 81.1h0M370.3 68.4h0M376.6 71.9h0M379.9 100.2h0M374.0 81.7h0M378.6 74.5h0M375.6 83.9h0M375.5 92.2h0M367.8 80.5h0M385.1 104.0h0M375.3 83.0h0M364.5 79.8h0M379.0 72.5h0M383.5 104.9h0M375.1 76.7h0M374.3 95.0h0M380.3 69.3h0M380.9 72.3h0M372.7 80.6h0M375.7 93.0h0M375.5 76.6h0M366.8 87.4h0M381.5 95.9h0M373.2 90.0h0M379.3 76.6h0M373.4 89.1h0M376.2 72.0h0M377.6 81.9h0M367.8 83.9h0M384.9 106.7h0M377.6 97.4h0M372.2 75.8h0M369.9 68.9h0M381.3 98.4h0M366.6 77.1h0M365.8 85.4h0M375.5 78.1h0M373.5 77.1h0M374.9 71.1h0M374.4 71.8h0M365.1 71.2h0M381.2 104.3h0M374.8 74.7h0M373.6 69.7h0M372.4 71.8h0M370.2 85.1h0M375.2 79.2h0M376.0 101.0h0M370.9 76.2h0M375.8 90.9h0M368.5 86.8h0M377.6 106.0h0M371.9 96.7h0M373.2 93.3h0M368.3 77.2h0M379.2 97.0h0M374.3 99.4h0M375.3 71.5h0M367.0 77.5h0M374.4 84.1h0M375.8 101.2h0M374.0 87.2h0M376.4 95.5h0M376.9 104.9h0M369.9 85.4h0M378.9 97.1h0M364.3 80.6h0M366.4 85.6h0M367.5 84.9h0M372.6 83.3h0M365.9 70.1h0M372.4 93.8h0M373.1 84.0h0M374.0 94.9h0M379.8 95.5h0M376.7 97.3h0M365.5 72.9h0M384.5 102.7h0M380.1 74.3h0M376.0 97.9h0M370.3 71.1h0M377.4 88.6h0M369.2 74.0h0M365.7 87.9h0M379.1 92.6h0M379.0 72.2h0" stroke="#8676e6" stroke-width="0.85" stroke-linecap="round" fill="none" stroke-opacity="0.75"/>
<path d="M399.4 106.2h0M400.0 108.2h0M401.9 104.4h0M401.9 106.5h0M396.6 106.5h0M399.9 102.9h0M399.4 107.4h0M401.3 108.0h0M398.4 107.9h0M399.2 105.5h0M401.6 104.5h0M404.4 108.5h0M399.7 107.1h0M398.9 106.0h0M399.3 106.8h0M395.5 104.7h0M399.5 103.1h0M398.9 105.6h0" stroke="#d0cce6" stroke-width="0.8" stroke-linecap="round" fill="none"/>
<path d="M395.6 106.1h0M398.0 106.2h0M399.8 105.5h0M398.0 103.9h0M396.8 106.9h0M395.6 107.3h0" stroke="#8676e6" stroke-width="0.85" stroke-linecap="round" fill="none" stroke-opacity="0.75"/>
<path d="M384.0 113.8h0M389.1 115.6h0M383.9 115.6h0M393.6 115.6h0M387.5 101.4h0M388.5 103.7h0M383.1 110.2h0M386.3 103.0h0M391.9 111.3h0M386.9 102.5h0M395.8 110.3h0M392.0 102.2h0M385.9 108.2h0M394.2 115.5h0M382.9 112.1h0M384.8 112.1h0M382.7 111.1h0M387.3 114.5h0M385.0 105.2h0M390.8 116.3h0M394.5 103.5h0M387.6 103.4h0M390.2 115.2h0M393.2 102.6h0M384.3 108.8h0M391.8 112.8h0M383.5 114.9h0M393.5 115.4h0M394.5 112.7h0M388.1 108.7h0M382.8 108.9h0M389.0 104.3h0M386.7 110.6h0M386.2 107.0h0M394.0 106.3h0M386.4 106.0h0M384.3 109.2h0M382.8 114.4h0M391.1 105.9h0M390.7 99.3h0M392.2 105.3h0M387.8 111.9h0M393.5 108.7h0M391.8 113.8h0M391.7 107.7h0" stroke="#d0cce6" stroke-width="0.8" stroke-linecap="round" fill="none"/>
<path d="M382.7 110.4h0M388.9 106.3h0M386.2 110.0h0M393.0 103.9h0M388.4 106.5h0M393.9 102.4h0M382.2 112.3h0M389.7 101.9h0M387.9 110.5h0M388.5 102.9h0M387.1 109.7h0M389.1 113.0h0M389.3 116.3h0M395.4 96.8h0M391.2 108.9h0M382.8 108.8h0M391.9 110.6h0M390.3 102.3h0M383.5 105.6h0M391.1 107.0h0M391.5 102.7h0M384.3 108.1h0M393.7 103.2h0M383.2 109.6h0M387.4 104.6h0M394.7 99.5h0M393.1 96.5h0M385.8 105.3h0M387.6 115.3h0M395.6 110.9h0M389.2 114.5h0M394.6 106.8h0M394.2 110.1h0M389.6 103.4h0M392.5 116.3h0M389.3 100.1h0M393.9 102.3h0M389.6 103.8h0M391.4 111.3h0M386.3 116.4h0M382.3 110.3h0M391.1 109.4h0M384.8 112.9h0M386.8 111.3h0M390.4 114.7h0M386.2 115.4h0M384.8 114.0h0M393.7 110.8h0M386.4 105.0h0M395.9 100.2h0M391.6 104.6h0M392.4 99.5h0M385.9 113.9h0M383.6 112.6h0M393.9 96.4h0M387.0 108.8h0M393.7 108.2h0M388.8 101.8h0M393.6 104.8h0M392.8 103.6h0M383.8 108.5h0M386.5 114.9h0M395.2 113.2h0M385.9 105.1h0M391.6 110.9h0M395.0 105.0h0M394.2 101.5h0M387.5 105.6h0M388.7 106.5h0M384.6 113.3h0M392.1 106.8h0M392.5 99.4h0M388.6 105.3h0M386.5 105.5h0M383.4 107.7h0M391.1 107.1h0M393.1 114.1h0M391.0 105.0h0M395.2 96.1h0M384.3 109.6h0M389.6 106.5h0M387.2 106.1h0M391.6 98.8h0M390.0 105.4h0M392.9 115.7h0M387.9 106.7h0M386.3 106.6h0M384.0 106.5h0M390.6 107.8h0M386.1 109.2h0M387.9 115.9h0M387.9 101.7h0M393.7 111.5h0M392.8 109.5h0M384.6 113.5h0M387.0 111.4h0M391.9 101.3h0M388.8 110.4h0M389.1 100.7h0M394.9 95.2h0M393.4 104.4h0M388.6 106.0h0M386.7 116.0h0M394.6 96.0h0M393.0 113.9h0M394.4 111.1h0M384.2 106.1h0M390.1 109.1h0M394.5 96.3h0M394.0 106.0h0M392.5 101.2h0M388.7 111.3h0M386.0 110.3h0M389.2 107.0h0M389.9 103.9h0M392.9 97.7h0M385.0 114.8h0M393.5 108.7h0M384.6 113.0h0M394.0 111.2h0M381.9 110.7h0M392.9 104.2h0M391.1 98.2h0M395.8 108.0h0M391.0 102.8h0M385.9 104.1h0M391.5 115.9h0M392.9 97.8h0M395.0 96.7h0M382.0 110.9h0M395.4 112.3h0M383.7 106.5h0M388.5 104.5h0M387.5 115.3h0M394.1 106.3h0M383.3 114.7h0M383.6 107.0h0M389.2 106.7h0M388.7 107.4h0M394.8 110.1h0M382.3 112.4h0M391.3 103.7h0M395.6 111.7h0M389.2 100.3h0M383.5 111.7h0M392.2 114.5h0M387.1 115.8h0M384.7 115.2h0M390.3 111.6h0M391.2 109.1h0M390.7 99.1h0M392.9 98.0h0M392.5 105.5h0M390.6 114.6h0M387.5 108.0h0M390.5 114.6h0M394.7 109.5h0M386.8 109.5h0M390.9 113.8h0M390.6 103.6h0M388.6 104.0h0M395.3 112.3h0M388.7 103.1h0M384.0 110.7h0M384.9 111.8h0M392.9 108.5h0M391.8 112.1h0M384.0 113.7h0M385.8 104.5h0M387.2 113.6h0M385.8 106.6h0M388.3 106.5h0M391.8 114.4h0M388.2 112.2h0M386.8 103.1h0M391.4 100.1h0M383.0 111.5h0M388.1 102.6h0M395.4 108.0h0M386.8 106.0h0M389.2 113.9h0M386.0 112.7h0M391.8 108.6h0M391.8 114.4h0M393.3 108.6h0M387.9 106.8h0M389.4 110.2h0M387.0 112.4h0M394.2 98.3h0M391.9 104.7h0M394.1 104.8h0M387.2 116.9h0M383.9 111.0h0M391.4 113.7h0M392.8 106.5h0M388.1 114.9h0M389.6 104.4h0M387.2 107.9h0M392.6 98.1h0M388.1 109.5h0M390.7 106.1h0M384.5 115.8h0M395.5 112.4h0M390.4 110.2h0M390.4 114.4h0M390.0 109.1h0M392.7 112.3h0M395.6 95.5h0M390.3 99.2h0M393.6 113.3h0M393.9 111.0h0M390.3 111.9h0M388.2 115.6h0M391.8 103.6h0M385.2 108.3h0M388.7 100.9h0M383.6 115.1h0M395.5 102.0h0M391.1 108.8h0M392.9 111.6h0M390.7 110.0h0M394.3 107.1h0M391.4 104.7h0M393.1 105.5h0M387.4 105.4h0M392.1 112.8h0M381.7 110.5h0M389.6 114.4h0M383.4 109.6h0M387.5 101.0h0M386.2 103.8h0M387.8 102.8h0M394.6 99.1h0M394.8 107.6h0M385.8 103.2h0M393.1 102.7h0M392.6 115.3h0M389.9 100.4h0M395.3 99.9h0M389.3 108.7h0M381.6 111.4h0M392.3 101.8h0M387.2 108.2h0M385.0 109.8h0M387.2 110.7h0M384.8 103.8h0M394.7 109.1h0M388.9 113.4h0M392.0 107.0h0M391.5 97.5h0M389.0 101.7h0M384.6 108.4h0M392.6 111.7h0M392.6 107.3h0M382.0 110.9h0M386.9 106.5h0M392.7 102.1h0M382.9 107.3h0M384.1 109.2h0M390.4 112.7h0M390.2 105.3h0M393.6 110.7h0M393.8 99.3h0M390.7 108.9h0M390.1 108.8h0M385.0 113.4h0M387.1 115.4h0M394.0 111.2h0M390.6 102.4h0M389.5 103.3h0M387.4 110.2h0M384.8 106.3h0M385.4 112.5h0M385.8 113.0h0M387.6 105.7h0M394.9 96.2h0M395.5 95.6h0M388.9 108.3h0M390.2 104.7h0M382.4 106.9h0M386.3 106.7h0M387.1 112.4h0M387.2 109.0h0M385.7 115.6h0M388.8 116.4h0M387.0 101.4h0M393.1 101.3h0M393.8 113.5h0M390.1 116.0h0M389.0 105.0h0M393.8 98.0h0M389.7 112.5h0M390.3 106.6h0M395.8 102.8h0M385.9 106.0h0M391.3 114.1h0M392.6 103.0h0M384.8 113.0h0M384.2 109.6h0M390.8 102.1h0M392.4 110.6h0M387.5 109.0h0M382.8 108.1h0M388.0 104.3h0M384.5 105.4h0M392.4 103.5h0M386.7 110.7h0M394.7 107.2h0M393.6 111.6h0M392.8 97.3h0M383.4 106.4h0M389.6 112.7h0M392.4 101.7h0M389.5 106.7h0M387.1 112.2h0M392.0 112.2h0M386.5 114.5h0M390.6 105.7h0M382.9 112.2h0M384.4 113.2h0M389.2 106.0h0M388.4 109.9h0M384.4 113.0h0M391.6 115.1h0M394.2 113.5h0M391.3 112.6h0M392.8 102.2h0" stroke="#8676e6" stroke-width="0.85" stroke-linecap="round" fill="none" stroke-opacity="0.75"/>
<rect x="448.5" y="61" width="5.4" height="27" fill="url(#cbgrad)"/>
<text x="456.5" y="63.3" font-size="3.6" fill="#444">5</text>
<text x="456.5" y="68.3" font-size="3.6" fill="#444">4</text>
<text x="456.5" y="73.3" font-size="3.6" fill="#444">3</text>
<text x="456.5" y="78.3" font-size="3.6" fill="#444">2</text>
<text x="456.5" y="83.3" font-size="3.6" fill="#444">1</text>
<text x="456.5" y="88.3" font-size="3.6" fill="#444">0</text>
<rect x="466" y="25" width="104" height="96" fill="#fdfdfd"/>
<text x="509.4" y="19.9" font-size="11.8" text-anchor="middle" font-style="italic">Cdkn1c</text>
<path d="M506.7 60.7h0M504.5 70.6h0M495.7 69.4h0M490.4 49.4h0M496.1 67.3h0M507.9 71.4h0M508.3 68.7h0M511.1 58.5h0M507.1 66.7h0M485.1 56.8h0M498.0 55.6h0M502.5 58.1h0M486.8 54.3h0M504.5 58.2h0M494.1 63.6h0M500.1 47.7h0M493.2 62.8h0M506.5 68.3h0M500.1 72.2h0M500.2 56.6h0M505.4 57.9h0M506.8 71.5h0M496.9 63.4h0M513.5 63.9h0M496.4 65.9h0M490.1 55.9h0M504.8 70.9h0M488.0 50.1h0M491.7 49.7h0M499.3 62.0h0M501.7 66.0h0M505.2 57.9h0M483.5 59.1h0M499.5 62.2h0M497.7 61.9h0M485.0 60.6h0M490.9 61.1h0M495.6 66.4h0M486.6 62.8h0M499.9 63.6h0M507.6 69.8h0M496.9 52.5h0M497.8 58.7h0M498.1 57.7h0M501.4 56.5h0M489.6 51.6h0M492.3 68.2h0M496.9 49.1h0M485.8 55.6h0M498.6 66.3h0M484.4 60.4h0M485.0 53.6h0M498.5 50.6h0M506.9 71.8h0M490.0 63.6h0M491.0 66.3h0M501.9 60.2h0M506.4 59.3h0M500.8 50.7h0M508.1 66.5h0M491.7 55.7h0M490.7 64.0h0M500.4 69.0h0M485.2 65.9h0M487.6 51.2h0M497.6 67.5h0M484.4 60.4h0M509.4 69.2h0M496.7 64.0h0M492.5 55.1h0M495.6 54.0h0M487.6 62.4h0M507.3 71.7h0M510.5 66.7h0M502.7 67.6h0M497.5 57.6h0M497.8 61.7h0M499.2 59.8h0M507.8 63.7h0M488.1 60.6h0M498.9 55.5h0M483.4 61.2h0M496.3 52.2h0M502.7 52.4h0M492.5 64.8h0M502.1 61.1h0M509.5 59.3h0M491.0 51.4h0M500.2 51.5h0M498.5 66.0h0M504.7 53.7h0M489.5 62.6h0M492.7 66.5h0M498.0 50.3h0M483.8 56.5h0M504.6 54.9h0M494.7 68.8h0M503.6 67.9h0M493.1 59.9h0M502.6 52.9h0M488.7 56.0h0M501.5 54.3h0M509.4 59.7h0M501.2 51.1h0M495.7 63.7h0M505.7 55.6h0M491.5 52.4h0M485.9 54.2h0M508.8 67.1h0M500.9 68.7h0M486.4 64.5h0M500.0 51.4h0M506.5 62.5h0M486.5 57.3h0M490.6 59.3h0M492.5 66.7h0M501.1 54.2h0M490.1 49.5h0M489.5 65.5h0M511.5 63.2h0M501.6 63.2h0M490.4 53.2h0M504.2 72.3h0M501.6 64.9h0M484.7 60.4h0M485.6 65.5h0M499.0 61.3h0M490.2 60.5h0M504.6 70.9h0M512.0 65.5h0M494.2 61.4h0M492.9 68.2h0M504.5 52.7h0M500.0 62.8h0M490.9 64.2h0M498.7 57.7h0M503.7 51.4h0M510.8 60.7h0M482.7 60.2h0M498.7 63.0h0M499.3 66.9h0M500.2 72.2h0M491.6 55.7h0M498.3 64.3h0M489.8 55.2h0M484.2 57.0h0M495.3 48.8h0M499.5 56.8h0M495.8 64.4h0M485.1 58.5h0M502.3 57.8h0M490.7 59.4h0M497.8 58.9h0M493.4 50.4h0M487.5 63.8h0M491.5 56.6h0M501.5 73.3h0M502.2 57.8h0M493.8 60.2h0M494.1 49.1h0M497.7 57.7h0M499.9 61.2h0M487.0 59.2h0M506.1 63.4h0M508.8 59.4h0M510.9 68.2h0M482.1 61.7h0M504.2 62.1h0M489.4 57.5h0M488.6 52.2h0M492.5 54.7h0M484.6 65.7h0M484.6 57.8h0M492.5 49.7h0M490.6 56.9h0M490.5 59.8h0M486.2 54.1h0M484.8 63.4h0M503.1 64.0h0M495.2 61.2h0M496.4 66.4h0M504.0 58.6h0M486.5 57.2h0M504.9 56.6h0M486.2 58.7h0M505.0 72.9h0M489.4 65.0h0M490.5 55.6h0M509.6 67.7h0M499.0 52.5h0M493.4 54.0h0M500.0 51.9h0M503.7 66.0h0M496.5 47.0h0M494.2 62.3h0M506.6 60.9h0M510.4 64.8h0M497.4 69.0h0M511.9 64.8h0M504.5 69.5h0M506.5 59.4h0M497.9 53.8h0M507.9 67.7h0M495.0 58.7h0M507.0 68.5h0M487.9 55.2h0M488.0 55.8h0M488.3 50.9h0M505.3 71.4h0M483.4 59.7h0M499.6 68.9h0M495.3 49.9h0M503.1 73.7h0M508.2 65.7h0M487.7 60.0h0M485.3 61.7h0M509.3 69.3h0M493.9 54.5h0M498.9 65.1h0M499.8 68.0h0M486.9 60.2h0M487.7 50.6h0M488.0 59.3h0M489.6 56.7h0M501.0 66.8h0M492.9 50.0h0M485.2 62.2h0M499.2 71.3h0M499.6 65.3h0M509.6 63.7h0M500.8 70.2h0M504.2 52.2h0M502.5 71.1h0M493.6 58.8h0M494.6 63.0h0M501.0 52.5h0M498.1 63.5h0M509.1 58.9h0M508.5 59.0h0M502.5 59.8h0M498.5 63.0h0M485.0 60.3h0M510.6 67.0h0M497.2 55.3h0M491.4 53.9h0M500.5 57.1h0M490.1 66.6h0M495.6 64.5h0M504.9 68.4h0M510.1 71.4h0M503.4 73.4h0M496.2 61.4h0M487.9 57.1h0M498.5 48.2h0M505.1 55.7h0M509.8 70.9h0M501.4 71.2h0M490.9 55.7h0M500.7 69.7h0M498.5 53.2h0M495.1 65.6h0M506.7 60.4h0M487.0 60.5h0M507.7 71.2h0M485.0 56.6h0M502.0 73.6h0M483.8 63.2h0M488.8 64.3h0M487.8 63.8h0M489.2 48.6h0M508.9 58.6h0M497.2 57.3h0M504.3 58.1h0M504.3 68.9h0M483.6 61.3h0M493.2 59.9h0M489.8 48.8h0M497.3 49.2h0M501.5 57.3h0M484.5 53.6h0M509.2 62.4h0M493.3 52.0h0M492.2 57.7h0M511.5 69.5h0M501.1 60.7h0M484.4 59.8h0M504.5 71.1h0M503.9 62.8h0M499.1 63.5h0M502.9 54.4h0M509.4 57.6h0M509.0 62.6h0M498.6 68.9h0M510.3 67.8h0M503.0 69.9h0M501.2 48.2h0M495.1 61.9h0M501.0 68.2h0M512.2 67.5h0M490.7 52.1h0M497.0 47.0h0M499.0 53.2h0M489.7 56.8h0M503.1 61.9h0M490.7 62.5h0M494.7 57.6h0M499.9 64.5h0M503.3 70.5h0M495.0 60.0h0M510.9 66.4h0M493.6 54.0h0M492.4 61.7h0M501.3 72.4h0M502.2 62.4h0M482.1 60.0h0M496.3 61.7h0M490.7 60.7h0M502.8 68.7h0M501.9 53.4h0M502.4 54.6h0M495.4 57.3h0M495.9 65.9h0M513.5 63.8h0M489.5 60.1h0M490.0 54.8h0M503.4 55.6h0M510.1 70.7h0M486.8 64.7h0M510.1 64.5h0M491.1 47.9h0M506.5 67.3h0M505.2 73.0h0M498.4 68.7h0M495.3 58.7h0M490.5 63.3h0M487.6 59.5h0M507.9 58.4h0M498.1 54.9h0M488.3 63.1h0M497.7 48.1h0M499.0 50.7h0M503.8 56.2h0M500.7 57.4h0M504.8 55.6h0M482.6 57.1h0M508.0 67.0h0M491.1 57.9h0M494.6 51.4h0M502.4 72.4h0M489.8 58.4h0M507.7 57.7h0M490.3 64.7h0M496.7 67.0h0M506.3 67.1h0M491.0 50.9h0M486.3 54.7h0M491.0 67.9h0M498.7 57.3h0M494.4 67.2h0M498.4 47.4h0M492.1 61.9h0M486.2 55.7h0M504.9 55.4h0M504.3 63.3h0M494.1 61.5h0M500.2 50.8h0M513.8 63.7h0M499.9 59.0h0M504.1 64.1h0M494.6 57.0h0M513.4 65.0h0M505.1 69.3h0M493.8 50.3h0M496.6 53.5h0M501.5 53.7h0M491.2 65.1h0M502.0 66.2h0M499.0 57.3h0M494.8 67.9h0M501.7 51.3h0M508.6 69.6h0M511.1 64.9h0M486.6 51.7h0M489.9 59.4h0M492.4 53.7h0M487.5 63.7h0M502.0 72.5h0M483.7 64.5h0M492.7 47.6h0M504.1 56.7h0M498.3 62.5h0M507.9 57.2h0M507.5 56.7h0M491.6 49.7h0M488.3 64.9h0M501.7 48.4h0M511.9 61.3h0M501.1 54.6h0M488.8 51.0h0M510.8 67.1h0M490.9 60.6h0M488.3 53.6h0M498.5 53.0h0M506.0 56.8h0M500.0 63.1h0M485.3 60.2h0M501.4 63.5h0M497.7 65.4h0M502.8 66.0h0M507.7 67.2h0M489.5 51.1h0M498.5 54.3h0M490.2 49.9h0M499.3 68.8h0M508.1 71.0h0M503.8 51.5h0M491.1 51.8h0M487.6 54.7h0M493.7 52.4h0M498.9 56.8h0M496.8 55.5h0M510.1 67.9h0M508.1 71.9h0M494.8 59.0h0M503.0 66.6h0M506.8 67.2h0M501.8 55.7h0M498.8 62.1h0M508.2 57.6h0M505.6 69.1h0M496.3 63.3h0M495.0 60.3h0M502.1 50.9h0M510.1 69.6h0M492.7 67.8h0M484.5 56.0h0M503.9 52.5h0M496.4 51.7h0M500.1 67.1h0M485.2 65.7h0M506.3 62.2h0M497.7 65.2h0M496.8 59.1h0M497.3 69.1h0M485.2 61.8h0M490.2 65.7h0M496.3 69.0h0M506.3 60.8h0M488.7 65.7h0M496.4 54.1h0M493.5 63.6h0M491.7 49.5h0M505.6 61.6h0M509.5 67.8h0M508.4 65.2h0M490.7 60.2h0M500.4 48.4h0M487.1 59.8h0M486.7 64.4h0M500.9 72.7h0M499.5 64.8h0M506.7 59.2h0M507.8 71.0h0M504.4 53.4h0M494.6 50.9h0M506.6 58.7h0M492.1 66.6h0M501.1 66.4h0M512.8 62.8h0M495.1 63.0h0M510.1 66.6h0M502.0 62.3h0M509.6 72.2h0M496.1 55.1h0M508.1 60.7h0M511.8 62.6h0M481.7 61.8h0M509.1 69.6h0M496.1 61.5h0M509.9 65.0h0M509.6 70.3h0M499.2 53.5h0M504.8 71.6h0M488.9 50.2h0M489.1 57.8h0M483.5 64.1h0M501.6 53.9h0M485.5 62.4h0M483.9 59.2h0M511.5 66.4h0M485.3 57.5h0M487.2 63.3h0M482.5 61.3h0" stroke="#d0cce6" stroke-width="0.8" stroke-linecap="round" fill="none"/>
<path d="M487.9 55.2h0M503.1 59.6h0M510.2 58.2h0M497.1 65.8h0M497.4 55.7h0M500.4 51.8h0M503.9 68.7h0M485.7 59.9h0M492.6 50.1h0M481.7 62.7h0M488.5 60.1h0M497.4 56.2h0M484.9 63.8h0M512.4 66.5h0M505.8 73.4h0M501.2 47.9h0M483.0 64.2h0M497.1 64.4h0M502.8 53.7h0M497.3 47.2h0M503.4 73.8h0M488.9 64.7h0M491.3 57.8h0M488.6 58.9h0M498.7 51.6h0M484.6 57.5h0M500.8 58.7h0M488.9 51.8h0M502.5 58.2h0M503.2 68.6h0M512.7 66.1h0M505.3 63.2h0M496.4 65.3h0M484.6 64.8h0M502.8 65.3h0M496.5 68.5h0M498.0 49.5h0M513.7 63.3h0M490.5 52.3h0M499.0 55.9h0M485.1 57.9h0M511.1 63.2h0M490.1 61.5h0M498.6 47.2h0M503.1 52.6h0M493.4 52.4h0M510.0 62.6h0M498.0 52.8h0M493.3 52.7h0M496.8 65.1h0M498.4 57.8h0M509.2 57.9h0M500.4 51.9h0M508.2 60.1h0M488.4 63.3h0M506.2 64.7h0M499.1 47.3h0M503.9 57.5h0M496.1 65.9h0M496.5 54.5h0M502.6 54.6h0M509.7 58.4h0M512.7 67.8h0M512.5 63.4h0M497.2 62.4h0" stroke="#8676e6" stroke-width="0.85" stroke-linecap="round" fill="none" stroke-opacity="0.75"/>
<path d="M473.1 48.6h0M474.9 48.2h0M472.3 49.1h0M470.5 47.1h0M470.7 47.6h0M473.9 49.4h0M473.1 46.4h0M472.5 47.5h0M473.1 48.8h0" stroke="#d0cce6" stroke-width="0.8" stroke-linecap="round" fill="none"/>
<path d="M473.8 49.8h0M472.3 46.1h0M472.4 47.2h0" stroke="#8676e6" stroke-width="0.85" stroke-linecap="round" fill="none" stroke-opacity="0.75"/>
<path d="M516.2 37.0h0M518.8 34.5h0M516.9 32.0h0M510.6 33.9h0M511.1 31.1h0M519.3 36.1h0M515.9 27.0h0M516.8 37.1h0M513.3 33.9h0M513.7 34.1h0M516.3 35.0h0M516.8 35.4h0M514.3 27.8h0M512.3 29.5h0M514.2 38.2h0M517.5 33.0h0M518.3 34.6h0M510.6 36.9h0M511.6 38.0h0M511.3 34.1h0M511.2 32.3h0M517.3 37.7h0M514.5 31.0h0M513.3 35.5h0M518.3 37.7h0M510.6 34.2h0M513.7 28.3h0M519.3 36.1h0M512.0 39.3h0M512.1 34.2h0M512.8 36.6h0M512.0 30.2h0M514.5 28.2h0M519.3 33.6h0M512.6 28.9h0M514.7 36.0h0M514.8 38.5h0M512.0 35.6h0M515.6 38.9h0M514.9 26.9h0M513.9 35.9h0M516.3 33.7h0M515.9 38.0h0M515.5 29.8h0M515.9 37.6h0M518.1 31.4h0M515.1 27.9h0M513.9 31.2h0M516.1 34.3h0M512.0 33.4h0M515.2 37.6h0M515.8 27.6h0M515.1 37.8h0M518.3 38.1h0M518.3 35.1h0M511.2 31.4h0M518.8 31.0h0M512.8 31.5h0M512.7 27.2h0M514.4 26.5h0M515.4 30.1h0M512.6 33.5h0M514.4 26.5h0M511.3 33.3h0M515.3 28.6h0M519.0 33.2h0M514.0 31.0h0M514.6 37.3h0M519.2 37.0h0M515.9 35.7h0M515.3 35.0h0M511.6 29.1h0M517.9 29.3h0M514.1 33.1h0M512.0 30.0h0M514.4 37.0h0M514.6 35.5h0M513.0 37.0h0M517.3 34.9h0M516.8 32.3h0M511.8 29.8h0M510.8 32.2h0M517.0 30.3h0M519.2 36.4h0M518.8 31.4h0M518.5 36.0h0M516.3 31.4h0M512.6 28.8h0" stroke="#cfcfd6" stroke-width="0.8" stroke-linecap="round" fill="none"/>
<path d="M511.4 31.5h0M512.3 35.3h0M516.1 33.4h0M519.2 36.3h0M518.9 38.2h0M513.6 28.1h0M515.5 37.6h0M511.1 31.8h0M516.6 37.2h0M511.9 28.9h0M510.6 35.3h0M514.0 35.8h0M520.0 35.1h0M512.1 32.2h0M515.1 36.2h0M516.9 35.1h0M511.2 37.7h0" stroke="#8676e6" stroke-width="0.85" stroke-linecap="round" fill="none" stroke-opacity="0.75"/>
<path d="M543.0 80.3h0M548.0 79.4h0M545.3 76.4h0M544.3 80.2h0M538.2 79.9h0M546.3 81.8h0M543.7 80.6h0M543.2 82.0h0M548.6 76.4h0M544.4 81.5h0M542.4 81.1h0M544.9 81.7h0M546.8 76.8h0M547.9 73.4h0M546.1 81.8h0M547.0 75.6h0M542.2 81.6h0M549.7 78.3h0M536.6 81.5h0M547.2 74.0h0M548.0 77.0h0M546.1 79.8h0M548.8 75.2h0M542.8 80.4h0M547.4 79.0h0M545.1 79.0h0M544.5 82.6h0M540.5 79.7h0M542.6 81.0h0M540.8 81.8h0M548.2 76.0h0M536.7 80.3h0M546.3 80.4h0M540.1 82.0h0M540.9 79.9h0M547.3 73.3h0M540.3 81.2h0M547.7 77.1h0M541.1 82.2h0M542.9 81.6h0M542.4 79.3h0M546.3 81.2h0M536.3 80.9h0M537.0 80.4h0M547.8 75.5h0M544.5 79.4h0M545.8 82.1h0M548.7 80.8h0M546.0 81.4h0M547.7 73.6h0M541.2 78.9h0M542.3 78.4h0M543.2 79.1h0M541.9 78.1h0M545.2 80.3h0M544.4 77.7h0M548.7 75.8h0M540.8 81.1h0M539.5 81.7h0M545.4 81.6h0M542.4 77.8h0M548.8 76.1h0M542.2 81.8h0M546.6 81.1h0M543.6 81.1h0M545.0 78.9h0M547.4 77.6h0M542.1 78.6h0M541.2 81.4h0M544.5 79.1h0M547.3 75.6h0M548.6 79.1h0M548.1 76.6h0M546.5 77.0h0M541.5 79.5h0M540.9 80.7h0M545.7 77.0h0M542.0 82.4h0M547.6 78.0h0M544.8 81.3h0M541.6 80.9h0M549.6 77.7h0M549.6 78.6h0M544.0 77.9h0M548.2 73.5h0M539.0 81.8h0M541.7 82.4h0M547.0 74.1h0M546.9 77.0h0M546.7 78.0h0M541.8 80.8h0M540.3 80.6h0M538.2 80.7h0M549.1 77.7h0M539.0 81.4h0M545.1 76.8h0M543.4 78.9h0M540.2 80.5h0M549.3 77.8h0M549.0 75.8h0M549.0 81.0h0M546.8 76.9h0M545.3 79.8h0M539.2 80.0h0M541.0 80.8h0M543.0 80.9h0M547.4 80.7h0M547.8 76.6h0M549.0 77.6h0M544.7 77.1h0M548.7 78.4h0M542.4 82.4h0M544.7 82.1h0M538.7 80.4h0M542.3 79.2h0M547.4 77.6h0M546.0 77.6h0M538.8 81.0h0M537.1 81.2h0M543.7 81.5h0M540.6 80.6h0M540.6 80.9h0M545.4 79.5h0M548.5 81.2h0M549.7 78.2h0M543.2 80.8h0M543.7 81.4h0M545.7 80.8h0M548.8 76.9h0M537.2 80.3h0M545.0 79.6h0M540.5 80.1h0M544.1 82.3h0M546.4 76.3h0M547.8 74.8h0M549.2 79.9h0M545.5 79.0h0M547.8 81.1h0M539.9 80.5h0M536.2 80.7h0M546.6 75.5h0M549.6 80.2h0M540.8 80.2h0M546.4 78.1h0M549.3 77.3h0M546.8 79.9h0M544.7 82.1h0" stroke="#cfcfd6" stroke-width="0.8" stroke-linecap="round" fill="none"/>
<path d="M546.1 82.3h0M545.4 79.4h0M547.7 78.0h0M546.0 82.2h0M544.4 79.4h0M543.7 80.3h0M542.1 81.0h0M543.3 81.6h0M549.6 78.2h0M547.3 75.9h0M544.8 77.1h0M543.7 78.1h0M548.4 78.2h0M545.9 77.7h0" stroke="#8676e6" stroke-width="0.85" stroke-linecap="round" fill="none" stroke-opacity="0.75"/>
<path d="M489.5 97.1h0M489.6 73.0h0M481.2 76.6h0M489.1 72.7h0M478.8 73.8h0M480.7 73.5h0M486.0 83.8h0M486.2 76.9h0M481.7 88.6h0M481.7 97.0h0M475.0 74.4h0M490.7 101.9h0M480.2 68.6h0M473.4 73.1h0M488.8 103.5h0M482.3 95.9h0M484.2 84.3h0M476.3 70.5h0M488.5 91.5h0M485.6 84.2h0M487.4 97.7h0M476.0 74.3h0M483.7 85.4h0M479.7 82.5h0M487.7 77.5h0M477.0 83.6h0M477.5 74.9h0M483.9 85.2h0M488.6 69.8h0M484.8 70.5h0M477.1 87.5h0M483.5 73.4h0M483.9 84.5h0M480.9 75.0h0M485.0 97.5h0M486.3 76.9h0M480.9 89.0h0M486.7 89.2h0M484.5 96.7h0M485.5 80.0h0M480.8 77.5h0M478.8 79.7h0M476.7 72.5h0M494.7 105.9h0M479.5 72.5h0M485.8 78.6h0M484.9 97.7h0M494.8 105.5h0M486.7 91.0h0M485.5 81.3h0M477.7 90.3h0M479.1 79.0h0M486.7 98.1h0M478.0 73.8h0M482.2 88.5h0M490.8 96.9h0M476.1 74.7h0M481.3 93.4h0M490.5 95.6h0M485.7 77.0h0M477.9 90.8h0M485.8 84.8h0M481.8 94.3h0M490.3 99.6h0M495.8 102.9h0M483.6 71.0h0M484.1 99.3h0M474.4 74.4h0M483.3 79.1h0M489.5 72.3h0M484.3 68.2h0M480.8 92.9h0M482.7 86.8h0M491.2 97.7h0M481.3 70.1h0M490.0 102.2h0M481.2 83.8h0M489.2 103.6h0M488.2 95.2h0M482.8 79.6h0M488.0 98.1h0M481.9 80.1h0M486.0 81.7h0M488.7 80.8h0M478.4 82.7h0M488.5 72.4h0M488.2 73.7h0M479.0 83.2h0M482.7 86.5h0M483.8 78.4h0M488.4 76.2h0M484.8 83.6h0M487.5 85.4h0M487.6 80.8h0M481.1 68.3h0M495.1 106.2h0M480.9 73.2h0M489.3 98.9h0M484.6 76.9h0M481.7 88.0h0M494.7 102.4h0M487.8 95.0h0M490.5 107.5h0M479.2 88.7h0M482.7 74.2h0M485.2 77.1h0M487.6 68.6h0M474.1 77.6h0M472.5 77.5h0M479.2 78.6h0M477.7 77.8h0M479.0 76.1h0M481.6 87.0h0M478.0 74.3h0M484.4 72.2h0M475.3 76.4h0M486.4 94.9h0M486.9 102.1h0M478.4 72.6h0M481.5 91.4h0M485.8 85.8h0M479.8 69.1h0M483.0 90.3h0M478.9 87.6h0M490.6 107.5h0M491.1 100.4h0M491.8 95.0h0M490.9 98.5h0M481.5 97.1h0M482.7 70.9h0M486.2 71.8h0M488.1 72.8h0M482.0 95.4h0M480.5 93.8h0M491.6 96.0h0M477.6 80.8h0M486.8 92.7h0M479.3 90.2h0M486.7 96.9h0M487.1 84.0h0M479.7 91.8h0M480.7 79.4h0M483.9 84.0h0M489.7 69.8h0M486.9 74.4h0M486.9 81.7h0M481.8 96.1h0M487.9 104.7h0M477.4 86.9h0M473.6 81.2h0M480.6 93.5h0M475.3 70.9h0M483.0 82.7h0M483.7 93.1h0M485.7 94.3h0M493.1 97.4h0M477.4 83.6h0M484.6 67.5h0M491.4 72.7h0M492.6 106.9h0M490.8 100.3h0M486.6 75.0h0M487.1 80.8h0M492.9 100.1h0M480.3 89.3h0M485.5 95.4h0M481.6 76.9h0M487.0 97.3h0M490.2 71.6h0M487.3 71.0h0M476.5 87.5h0M481.1 84.0h0M483.5 96.3h0M480.2 92.9h0M481.5 79.8h0M483.4 83.2h0M478.4 89.1h0M487.3 87.8h0M482.4 91.7h0M477.4 72.2h0M483.6 72.5h0M477.9 84.4h0M483.9 84.8h0M480.2 70.7h0M488.6 71.4h0M490.7 100.6h0M477.4 89.7h0M484.8 89.1h0M478.1 87.5h0M481.4 88.7h0M485.2 90.8h0M480.8 86.4h0M478.7 71.1h0M486.3 98.3h0M477.9 84.6h0M484.0 88.4h0M481.5 83.4h0M474.2 74.5h0M483.2 85.9h0M475.7 72.5h0M489.8 100.9h0M490.1 107.2h0M479.6 80.9h0M488.9 88.8h0" stroke="#d0cce6" stroke-width="0.8" stroke-linecap="round" fill="none"/>
<path d="M486.3 95.5h0M475.3 78.5h0M480.6 83.4h0M490.3 73.5h0M476.1 78.7h0M489.2 76.4h0M482.1 85.0h0M472.9 76.5h0M486.4 80.2h0M479.6 82.9h0M489.1 69.0h0M488.1 77.8h0M486.1 95.0h0M473.9 75.0h0M489.1 71.2h0M489.1 95.3h0M486.8 98.6h0M490.2 92.8h0M477.1 71.1h0M478.7 74.6h0M489.3 105.7h0M473.0 79.2h0M478.4 92.0h0M492.9 101.6h0M491.7 71.8h0M489.0 78.2h0M485.5 91.7h0M488.3 102.4h0M490.9 72.8h0M489.2 77.3h0M482.7 96.7h0M483.4 95.6h0M492.3 102.1h0M484.2 78.6h0M478.3 83.4h0M476.9 81.9h0M480.0 90.7h0M486.5 68.6h0M474.0 76.4h0M479.4 91.0h0M473.2 78.4h0M483.0 81.2h0M495.3 100.8h0M490.5 70.7h0M486.9 99.5h0M479.7 88.2h0M474.3 74.9h0M477.8 72.3h0M480.8 93.1h0M478.6 83.4h0M474.8 77.0h0M483.2 68.1h0M484.5 72.1h0M485.4 84.5h0M482.1 96.0h0M477.9 75.6h0M489.1 70.5h0M476.6 73.7h0M478.9 77.3h0M484.9 76.5h0M479.1 89.6h0M484.2 94.2h0M492.7 107.3h0M490.5 102.7h0M478.2 75.3h0M490.3 74.4h0M479.1 84.6h0M478.9 91.1h0M485.0 88.7h0M473.7 78.2h0M481.1 69.0h0M489.6 76.4h0M491.3 71.9h0M488.2 76.5h0M492.5 102.2h0M488.2 88.4h0M479.8 93.5h0M493.0 104.0h0M489.4 75.0h0M487.8 70.9h0M475.1 73.2h0M485.7 86.7h0M480.9 76.9h0M479.1 86.4h0M488.4 67.6h0M490.5 94.0h0M493.3 101.5h0M488.4 93.3h0M479.3 71.9h0M489.4 103.3h0M476.0 83.0h0M487.6 92.0h0M485.4 87.2h0M485.3 94.9h0M491.0 94.7h0M489.1 93.4h0M479.3 69.6h0M487.1 90.2h0M481.5 81.7h0M475.4 76.5h0M482.0 75.2h0M479.4 87.4h0M492.5 102.7h0M488.9 80.7h0M482.8 70.8h0M485.8 96.2h0M487.1 103.2h0M486.4 98.3h0M476.3 71.9h0M486.4 68.3h0M478.6 79.6h0M483.1 72.3h0M494.5 98.5h0M486.7 86.8h0M483.7 71.7h0M487.5 104.0h0M481.1 73.0h0M485.2 94.4h0M485.4 82.6h0M488.5 86.8h0M486.7 88.7h0M472.4 75.7h0M473.9 72.5h0M482.9 96.4h0M484.2 74.4h0M493.2 105.7h0M472.8 75.3h0M485.1 75.0h0M484.7 99.5h0M482.7 89.6h0M484.4 87.5h0M482.8 95.7h0M478.1 91.2h0M487.8 84.5h0M489.7 72.9h0M488.7 79.2h0M473.2 72.9h0M484.7 87.2h0M489.0 105.0h0M486.5 69.7h0M479.9 90.3h0M475.4 74.9h0M488.1 92.3h0M475.9 77.6h0M488.7 92.8h0M483.5 80.8h0M490.5 98.3h0M488.0 79.6h0M490.8 73.0h0M476.1 84.6h0M494.2 100.4h0M483.0 72.5h0M495.3 100.2h0M485.4 79.1h0M476.0 86.5h0M486.1 76.5h0M475.3 73.0h0M478.4 88.0h0M476.7 80.1h0M492.5 106.4h0M476.9 88.3h0M474.2 78.3h0M479.0 87.0h0M491.1 69.3h0M485.1 83.6h0M485.0 85.4h0M481.9 81.9h0M479.1 70.1h0M482.1 75.0h0M477.5 82.8h0M480.7 81.2h0M494.3 106.2h0M484.3 87.1h0M487.6 85.6h0M488.3 88.4h0M488.6 91.2h0M486.5 104.1h0M486.8 105.2h0M489.2 74.7h0M484.4 101.3h0M494.9 105.0h0M485.5 87.1h0M486.5 80.9h0M473.1 77.3h0M477.8 77.1h0M479.6 71.5h0M490.6 94.0h0M480.8 79.6h0M480.4 80.4h0M482.2 75.3h0M481.7 93.9h0M483.0 76.9h0M489.2 96.5h0M481.3 74.9h0M491.4 73.5h0M476.0 70.8h0M484.3 76.6h0M483.0 88.7h0M477.5 77.3h0M482.6 94.3h0M482.6 84.0h0M487.8 92.3h0M484.4 71.1h0M485.9 79.6h0M476.5 87.8h0M491.5 70.8h0M484.6 77.8h0M491.2 101.0h0M489.9 76.8h0M484.6 90.1h0M484.5 88.0h0M474.7 75.5h0M482.8 94.8h0M479.9 76.6h0M483.8 89.5h0M490.2 71.1h0M488.2 86.4h0M476.3 76.2h0M477.3 79.7h0M488.6 87.0h0M488.8 71.1h0M491.6 97.3h0M479.6 78.6h0M475.1 82.9h0M481.9 84.8h0M486.8 79.9h0M485.9 81.3h0M490.3 104.5h0M486.6 94.1h0M487.1 75.2h0M486.9 89.1h0M486.2 91.0h0M480.6 71.4h0M481.0 75.6h0M496.1 105.6h0M480.7 72.8h0M481.5 79.3h0M487.9 68.4h0M485.7 90.5h0M489.7 103.2h0M481.6 76.2h0M489.3 105.8h0M485.0 79.9h0M494.3 98.8h0M488.9 96.7h0M491.0 95.8h0M488.1 87.5h0M477.7 78.1h0M476.0 77.2h0M482.4 95.6h0M488.2 87.1h0M472.2 73.3h0M486.4 90.2h0M483.1 78.3h0M479.0 78.5h0M479.0 89.3h0M482.3 92.4h0M491.0 99.5h0M487.9 96.1h0M474.2 75.7h0M487.7 88.7h0M475.2 74.3h0M483.7 69.4h0M480.5 79.5h0M490.0 74.7h0M487.5 102.8h0M484.5 92.6h0M481.4 73.7h0M480.6 83.9h0M474.1 78.2h0M493.6 98.8h0M484.1 69.8h0M489.8 96.8h0M476.7 72.5h0M493.6 103.6h0M489.4 76.6h0M472.6 75.2h0M484.9 81.1h0M478.7 88.4h0M474.6 74.0h0M479.9 76.5h0M487.5 80.8h0M479.4 74.1h0M490.9 96.7h0M493.7 107.0h0M482.4 96.4h0M475.4 72.9h0M478.2 76.9h0M487.0 82.7h0M486.5 76.2h0M478.7 74.1h0M481.7 88.8h0M484.9 76.2h0M485.5 90.9h0M484.2 82.8h0M487.7 71.1h0M487.5 85.2h0M485.9 87.4h0M494.1 105.7h0M485.1 99.3h0M485.7 84.1h0M473.3 75.3h0M477.8 85.3h0M477.9 78.8h0M480.3 87.6h0M483.9 84.1h0M474.3 75.4h0M493.7 101.0h0M486.0 100.6h0M487.1 90.2h0M485.2 93.9h0M484.5 74.3h0M481.4 73.4h0M477.9 77.2h0M483.8 70.4h0M477.9 81.1h0M485.5 102.8h0M480.4 88.4h0M483.8 82.6h0M486.1 86.5h0M489.5 101.6h0M485.5 75.0h0M482.8 86.9h0M475.7 80.7h0M490.2 95.5h0M481.2 95.7h0M485.2 84.0h0M481.4 80.1h0M486.7 74.3h0M478.7 78.0h0M483.9 69.7h0M480.1 70.5h0M474.7 78.2h0M480.9 72.6h0M480.9 81.0h0M485.1 80.7h0M488.0 78.2h0M484.6 80.7h0M483.2 98.0h0M493.0 100.9h0M480.0 77.4h0M490.5 97.4h0M478.8 70.3h0M475.6 71.0h0M488.6 98.4h0M483.8 76.4h0M480.2 73.2h0M486.4 78.8h0M487.7 79.8h0M485.6 102.6h0M487.7 77.1h0M485.9 98.4h0M485.8 80.3h0M483.6 78.4h0M475.5 81.7h0M483.3 75.0h0M484.8 102.0h0M481.6 92.8h0M478.3 85.4h0M490.9 106.6h0M483.6 79.7h0M484.7 89.1h0M482.1 73.1h0M484.3 97.0h0M480.5 75.3h0M485.4 89.6h0M487.9 83.4h0M480.2 78.5h0M492.0 70.5h0M472.8 75.6h0M491.2 99.7h0M485.4 68.8h0M478.8 81.6h0M479.4 70.6h0M490.1 103.2h0M487.1 97.6h0M486.2 71.8h0M487.2 97.0h0M483.7 95.9h0M488.3 81.5h0M472.4 75.0h0M482.7 88.0h0M478.6 70.5h0M475.8 85.0h0M481.6 76.8h0M494.0 101.6h0M483.6 95.8h0M483.9 72.2h0M492.8 95.3h0M483.6 73.6h0M485.9 78.3h0M492.2 100.8h0M495.2 105.3h0M489.8 71.7h0M491.6 102.3h0M488.3 102.5h0M484.8 90.2h0M486.2 85.7h0M493.6 103.8h0M476.6 77.4h0M488.1 74.2h0M484.1 81.4h0M484.7 85.0h0M482.2 68.6h0M489.8 103.5h0M491.3 101.8h0M495.6 102.1h0M477.6 72.2h0M488.5 75.0h0M494.7 98.2h0M484.5 71.8h0M485.3 94.9h0M489.1 71.3h0M474.6 79.4h0M486.7 92.4h0M491.5 98.2h0M478.5 74.5h0M481.9 93.7h0M482.6 79.9h0M480.6 78.9h0M490.3 71.6h0M481.9 85.2h0M478.3 87.0h0M481.7 81.0h0M487.3 102.2h0M476.6 84.3h0M487.2 75.5h0M487.2 87.7h0M492.8 98.0h0M489.6 98.6h0M480.4 79.7h0M475.8 82.5h0M480.4 73.0h0M485.8 78.2h0M478.3 69.3h0M486.4 104.0h0M481.7 96.4h0M485.2 88.6h0M484.0 93.1h0M493.0 96.8h0M482.0 78.5h0M481.6 91.4h0M484.5 75.9h0M484.3 92.0h0M486.9 80.9h0M485.1 99.6h0M477.5 72.2h0M488.4 104.3h0M481.9 81.9h0M491.0 102.3h0M484.6 68.0h0M482.9 80.1h0M485.2 98.6h0M484.1 93.2h0M480.2 95.0h0M479.9 91.2h0M476.1 75.2h0M483.8 82.4h0M485.1 91.4h0M476.0 87.7h0M487.0 103.1h0M494.0 98.6h0M479.5 92.6h0M493.1 96.3h0M473.4 78.1h0M477.9 74.5h0M485.9 86.8h0M489.2 96.9h0M476.2 71.3h0M476.4 77.3h0M481.1 82.4h0M490.8 103.5h0M482.7 76.3h0M494.1 103.5h0M481.6 79.8h0M487.9 91.7h0M487.3 103.9h0M482.2 85.5h0" stroke="#8676e6" stroke-width="0.85" stroke-linecap="round" fill="none" stroke-opacity="0.75"/>
<path d="M511.8 103.1h0M512.4 106.7h0M506.5 102.2h0M513.9 105.9h0M508.8 108.0h0M507.6 107.7h0M514.3 106.8h0M511.6 103.4h0M507.6 104.8h0M514.0 107.1h0M511.9 106.2h0M511.5 104.4h0M508.2 103.5h0M510.0 107.8h0M505.9 106.8h0M512.0 104.3h0M505.5 105.5h0M513.7 108.1h0M509.8 108.3h0M506.0 106.1h0M510.2 103.1h0M511.3 106.7h0M509.2 106.8h0" stroke="#d0cce6" stroke-width="0.8" stroke-linecap="round" fill="none"/>
<path d="M509.9 103.5h0" stroke="#8676e6" stroke-width="0.85" stroke-linecap="round" fill="none" stroke-opacity="0.75"/>
<path d="M502.5 114.7h0M495.2 109.1h0M495.2 114.6h0M501.2 115.4h0M502.9 108.9h0M496.9 107.9h0M495.6 112.2h0M499.1 104.3h0M500.4 107.1h0M501.4 107.3h0M504.4 98.3h0M504.4 111.5h0M503.7 97.0h0M505.0 103.7h0M504.5 100.3h0M502.1 108.4h0M497.8 112.9h0M505.9 100.0h0M497.2 108.3h0M502.9 111.2h0M498.1 105.4h0M496.7 109.9h0M504.1 101.4h0M499.4 104.8h0M499.0 101.0h0M501.1 98.7h0M501.0 103.2h0M497.7 104.8h0M492.7 111.5h0M493.5 110.5h0M502.5 99.1h0M506.2 98.7h0M506.5 99.3h0M500.8 112.6h0M498.8 101.2h0M496.8 113.7h0M497.7 104.3h0M505.6 95.3h0M500.3 106.6h0M505.4 105.0h0M500.2 102.2h0M498.2 111.6h0M504.9 110.7h0M499.4 108.1h0M503.3 102.6h0M499.4 106.6h0M494.9 105.8h0M502.6 98.6h0M500.7 107.2h0M501.5 116.5h0M502.4 116.5h0M496.3 106.9h0M504.5 99.3h0M503.2 108.8h0M495.1 106.7h0M505.3 104.0h0M504.5 95.8h0M495.7 113.4h0M502.4 100.8h0M496.8 106.3h0M504.0 106.1h0M501.2 109.9h0M502.2 112.8h0M501.1 111.1h0M500.3 103.2h0M499.8 113.1h0M500.0 116.5h0M504.3 99.7h0M497.2 111.0h0M504.5 115.5h0M499.4 105.8h0M492.7 109.9h0M502.0 103.8h0M500.9 115.1h0M496.2 102.8h0M499.6 101.9h0M504.9 112.7h0M502.8 107.7h0M496.8 105.8h0M502.7 114.2h0M506.3 101.1h0M498.2 113.9h0M504.2 99.3h0M497.6 101.9h0M501.7 104.3h0M500.1 116.2h0M499.5 99.7h0M501.0 103.3h0M500.9 104.0h0M503.7 104.8h0M500.3 116.8h0M493.7 111.2h0M498.7 109.3h0M493.0 111.5h0M494.3 106.7h0M504.9 110.2h0M495.2 106.4h0M502.9 114.6h0M493.4 108.4h0M494.9 116.1h0M500.3 110.3h0M500.4 104.9h0M496.0 106.2h0M503.9 111.3h0M501.6 110.2h0M501.3 104.1h0M492.8 108.7h0M502.2 111.1h0M501.3 115.3h0M501.1 105.2h0M503.1 111.6h0M502.4 97.4h0M499.3 116.3h0M497.8 114.7h0M501.1 115.5h0M501.2 98.5h0M498.1 114.0h0M498.8 111.5h0M501.7 110.5h0M501.1 110.5h0M505.5 107.8h0M495.6 111.7h0M495.5 109.7h0M495.9 105.3h0M495.8 112.3h0M496.5 113.6h0M505.6 102.8h0M497.8 108.5h0M502.2 100.4h0M497.7 114.6h0M504.6 112.2h0M493.6 114.2h0M506.3 110.1h0M496.9 114.5h0M502.4 103.0h0M504.4 106.9h0M500.4 117.0h0M506.0 112.6h0M497.5 116.0h0M500.5 100.8h0M494.8 112.4h0M505.9 96.9h0M503.8 108.9h0M496.2 107.3h0M496.5 102.7h0M504.6 105.6h0M497.1 115.6h0M503.2 115.2h0M493.5 107.6h0M502.6 113.0h0M504.5 97.9h0M497.0 103.4h0M500.4 101.6h0M496.7 105.0h0M498.6 103.3h0M498.4 109.1h0M502.0 104.9h0M503.7 104.4h0M505.7 102.1h0M500.5 108.5h0M504.1 95.7h0M499.5 111.3h0M493.3 107.1h0M505.7 111.7h0M494.1 109.4h0M502.5 101.4h0M497.3 114.2h0M501.0 117.0h0M501.5 104.3h0M503.7 105.4h0M504.0 103.5h0M506.5 110.4h0M493.1 112.6h0M504.7 104.6h0M497.4 115.2h0M498.8 114.4h0M495.9 108.1h0M504.7 96.6h0M504.1 101.8h0M500.9 113.6h0M498.6 105.9h0M498.3 116.3h0M505.9 108.3h0M504.2 110.5h0M494.2 108.6h0M503.2 115.3h0M503.5 115.0h0M501.9 100.3h0M501.7 104.5h0M501.1 108.9h0M505.0 112.7h0M502.1 110.8h0M501.9 111.7h0M499.0 111.5h0M500.3 107.4h0M499.6 113.9h0M498.9 100.7h0M494.4 109.6h0M497.1 113.8h0M495.2 111.2h0M501.7 113.2h0M502.9 113.5h0M505.4 99.2h0M500.6 104.8h0M502.7 107.8h0M496.6 112.6h0M498.3 101.2h0M502.8 107.1h0M495.4 104.8h0M505.7 110.0h0M495.1 104.3h0M502.7 113.0h0M500.1 106.7h0M504.3 114.0h0M494.7 110.3h0M503.7 112.2h0M493.0 111.0h0M503.8 108.9h0M503.7 108.7h0M502.6 112.6h0M494.3 109.8h0M495.3 108.6h0M497.8 109.7h0M500.4 113.8h0M500.2 107.1h0M497.3 107.2h0M497.1 114.1h0M498.0 108.9h0M495.8 109.1h0M496.2 111.6h0M501.3 111.8h0M502.3 99.9h0M500.2 101.9h0M505.3 99.4h0M503.8 106.7h0M498.0 115.4h0M496.9 116.5h0M496.9 110.7h0M502.0 115.3h0M506.0 111.8h0M504.7 97.5h0M503.1 105.3h0M501.9 98.3h0M502.1 100.6h0M493.8 115.7h0M494.3 109.8h0M498.8 115.0h0M505.5 106.0h0M505.0 111.4h0M500.5 107.4h0M503.8 96.6h0M502.6 99.9h0M494.6 109.3h0M505.4 114.4h0M499.6 106.5h0M500.0 100.1h0M496.5 115.1h0M496.2 104.5h0M503.2 99.5h0M495.2 103.8h0M497.3 108.0h0M500.2 111.8h0M501.0 115.8h0M502.4 113.8h0M496.0 108.7h0M504.5 95.7h0M502.5 112.8h0M503.7 99.2h0M501.8 113.9h0M506.1 111.4h0M504.6 100.8h0M505.8 110.8h0M506.1 97.6h0M499.3 116.3h0M500.8 105.7h0M497.4 101.8h0M501.4 103.1h0M504.2 100.2h0M500.3 107.6h0M500.0 106.1h0M500.3 110.5h0M500.2 113.4h0M499.5 110.6h0M504.7 105.7h0M504.5 98.3h0M498.0 101.5h0M500.2 108.2h0M502.9 99.7h0M496.5 107.9h0M504.9 105.3h0M502.8 115.2h0M498.5 105.0h0M503.2 110.0h0M494.5 115.2h0M502.9 116.2h0M500.5 108.3h0M504.8 109.8h0M496.2 108.4h0M501.5 107.1h0M492.6 108.0h0M498.8 104.0h0M498.1 108.6h0M501.2 114.2h0M500.8 104.3h0M495.1 107.9h0M499.7 115.7h0M501.4 115.8h0M502.7 104.2h0M496.0 103.4h0M504.0 105.7h0M493.9 113.0h0M497.3 107.8h0M506.0 105.1h0M497.4 107.6h0M500.1 100.4h0M501.3 112.5h0M503.2 99.7h0M495.0 104.8h0M505.2 110.1h0M501.3 113.0h0M500.3 109.9h0M497.3 115.6h0M502.7 98.2h0M501.6 99.6h0M493.4 107.5h0M501.9 102.1h0M502.7 105.8h0M500.7 109.7h0M496.5 108.2h0M500.7 107.5h0M505.3 102.4h0M497.8 103.3h0M499.7 114.4h0M494.3 115.4h0M497.2 101.5h0M501.5 102.6h0M494.7 111.4h0" stroke="#d0cce6" stroke-width="0.8" stroke-linecap="round" fill="none"/>
<path d="M504.7 111.2h0M502.2 113.1h0M502.4 106.0h0M506.6 111.0h0M502.7 98.7h0M498.8 113.4h0M504.0 115.7h0M502.0 112.4h0M502.9 109.0h0M493.6 107.4h0M506.1 103.7h0M498.3 101.9h0M503.2 99.8h0M495.0 108.0h0M501.1 104.1h0M502.8 102.4h0M505.3 95.4h0M492.9 107.4h0M503.0 102.9h0M503.0 113.9h0M504.9 109.2h0M499.7 114.3h0M504.2 98.4h0M493.5 115.0h0M503.1 97.6h0M503.6 103.6h0M494.7 112.6h0M505.0 107.7h0M497.9 111.9h0M495.5 109.6h0M498.8 111.0h0M501.4 103.4h0M506.2 100.2h0M505.3 100.8h0M498.0 106.1h0" stroke="#8676e6" stroke-width="0.85" stroke-linecap="round" fill="none" stroke-opacity="0.75"/>
<rect x="559" y="61" width="5.4" height="27" fill="url(#cbgrad)"/>
<text x="567" y="63.3" font-size="3.6" fill="#444">4</text>
<text x="567" y="69.55" font-size="3.6" fill="#444">3</text>
<text x="567" y="75.8" font-size="3.6" fill="#444">2</text>
<text x="567" y="82.05" font-size="3.6" fill="#444">1</text>
<text x="567" y="88.3" font-size="3.6" fill="#444">0</text>
<rect x="576" y="28" width="104" height="96" fill="#fdfdfd"/>
<text x="626.7" y="22.299999999999997" font-size="11.8" text-anchor="middle" font-style="italic">Angptl7</text>
<path d="M610.6 57.0h0M620.6 61.3h0M604.2 62.2h0M593.5 63.5h0M607.4 71.3h0M614.5 66.4h0M601.1 55.1h0M610.9 58.8h0M606.4 53.4h0M594.3 66.4h0M608.9 73.0h0M593.6 59.4h0M611.5 64.0h0M596.8 58.8h0M605.0 57.9h0M610.0 69.9h0M613.2 55.1h0M597.9 63.0h0M598.7 69.0h0M598.4 65.6h0M614.5 56.8h0M609.7 65.9h0M613.1 62.8h0M600.7 63.3h0M601.7 55.1h0M615.6 74.6h0M594.1 68.7h0M599.8 59.4h0M601.8 57.4h0M619.0 68.8h0M620.7 66.9h0M611.7 63.7h0M612.8 69.6h0M594.9 66.2h0M620.7 69.6h0M606.9 58.7h0M608.8 70.2h0M613.9 60.7h0M599.3 62.9h0M622.9 69.7h0M605.1 55.5h0M616.4 67.0h0M593.4 67.3h0M612.0 76.2h0M603.7 56.7h0M621.9 63.1h0M609.1 74.8h0M601.3 59.4h0M611.6 53.4h0M616.4 73.6h0M606.8 63.7h0M620.2 66.3h0M620.8 68.0h0M605.8 69.2h0M611.4 52.6h0M619.6 61.4h0M594.2 62.9h0M594.7 66.4h0M611.7 69.3h0M616.1 67.9h0M621.1 65.7h0M610.5 55.5h0M596.4 63.8h0M608.5 71.0h0M615.4 65.1h0M612.2 61.0h0M613.6 54.9h0M597.7 68.8h0M603.9 61.4h0M614.5 59.3h0M615.6 75.6h0M606.7 52.5h0M598.2 62.1h0M609.1 74.2h0M601.6 60.6h0M602.3 60.1h0M604.1 57.3h0M607.8 73.3h0M616.7 61.0h0M595.0 56.5h0M592.7 63.7h0M602.9 51.9h0M613.3 67.9h0M611.0 67.9h0M594.6 57.0h0M602.9 66.5h0M611.2 53.8h0M604.1 51.4h0M608.6 73.3h0M596.8 67.2h0M595.4 66.6h0M610.0 52.5h0M593.1 62.0h0M606.1 71.4h0M604.8 52.1h0M621.4 62.9h0M607.7 70.0h0M607.5 55.7h0M619.4 62.7h0M606.2 51.5h0M609.6 53.9h0M596.8 54.0h0M595.2 65.3h0M610.7 75.4h0M609.2 71.5h0M611.3 69.5h0M604.1 50.2h0M603.4 67.7h0M618.2 68.8h0M603.1 60.0h0M604.7 52.5h0M606.7 69.6h0M609.3 72.8h0M605.5 65.4h0M619.6 64.2h0M606.5 64.7h0M598.5 55.1h0M603.7 55.0h0M596.6 63.3h0M608.2 68.5h0M607.6 60.0h0M605.4 59.0h0M606.4 58.6h0M597.2 60.3h0M607.5 54.2h0M606.0 60.7h0M611.3 71.0h0M610.5 61.0h0M604.4 55.7h0M599.4 67.6h0M596.9 54.4h0M614.7 75.7h0M603.7 60.2h0M612.6 74.3h0M602.3 60.5h0M612.0 51.3h0M596.5 56.5h0M610.6 53.4h0M621.7 71.5h0M596.7 59.0h0M601.3 68.6h0M600.8 70.6h0M609.5 70.0h0M605.9 63.5h0M609.2 53.8h0M595.9 58.1h0M610.7 67.8h0M622.8 70.9h0M602.8 66.8h0M594.8 58.0h0M605.7 58.0h0M613.0 66.5h0M609.3 73.0h0M612.3 61.7h0M617.7 69.7h0M602.0 58.1h0M614.3 70.2h0M610.0 51.3h0M599.2 54.9h0M619.4 64.6h0M612.1 73.9h0M602.3 56.4h0M613.1 58.1h0M607.9 69.5h0M602.0 61.7h0M620.6 72.9h0M618.6 63.1h0M616.6 67.0h0M598.7 60.6h0M596.7 66.8h0M610.5 66.0h0M612.9 76.6h0M603.7 70.4h0M603.5 53.9h0M593.6 67.4h0M616.0 61.6h0M612.4 69.9h0M595.2 55.8h0M620.6 61.6h0M603.0 59.6h0M610.3 73.3h0M613.9 72.2h0M599.7 57.8h0M607.2 56.2h0M600.0 57.2h0M619.5 73.3h0M603.2 68.9h0M619.0 73.3h0M616.8 62.9h0M603.2 53.8h0M612.8 62.8h0M621.4 64.3h0M621.1 66.3h0M616.3 68.5h0M607.6 56.2h0M610.0 62.5h0M602.6 63.4h0M616.9 67.7h0M614.4 63.3h0M602.4 69.1h0M597.3 59.3h0M614.5 59.3h0M618.8 62.8h0M612.7 60.2h0M600.1 57.2h0M608.8 63.3h0M607.4 60.4h0M605.3 62.5h0M604.6 63.7h0M608.3 68.8h0M609.4 72.3h0M604.1 60.0h0M601.8 57.5h0M619.1 61.6h0M595.8 69.7h0M618.0 69.7h0M602.2 71.1h0M612.1 53.3h0M612.2 71.5h0M621.3 65.0h0M600.7 54.7h0M601.1 61.1h0M596.5 55.5h0M604.6 58.1h0M600.8 67.7h0M620.0 66.7h0M611.3 72.2h0M611.5 71.2h0M617.9 69.9h0M611.5 73.5h0M601.4 70.9h0M601.4 65.9h0M606.8 52.3h0M608.7 64.2h0M603.7 57.4h0M598.5 63.5h0M611.3 52.4h0M619.8 65.6h0M609.6 75.5h0M601.8 63.5h0M605.4 71.0h0M594.7 61.7h0M605.7 50.1h0M607.9 54.0h0M608.1 68.8h0M614.0 64.7h0M615.9 68.6h0M612.0 64.6h0M596.9 54.9h0M608.7 61.8h0M619.1 75.3h0M609.8 73.0h0M608.9 59.6h0M619.3 74.0h0M596.3 57.2h0M614.6 58.7h0M617.7 61.5h0M604.0 62.9h0M604.2 61.5h0M619.6 67.5h0M618.9 74.5h0M623.5 66.8h0M593.0 60.5h0M619.5 65.6h0M598.6 53.1h0M594.5 67.0h0M617.4 70.5h0M609.5 73.0h0M609.2 59.6h0M600.2 67.3h0M594.7 65.0h0M605.3 52.6h0M617.1 72.0h0M603.4 58.8h0M607.1 54.4h0M593.9 60.2h0M613.5 74.8h0M616.3 63.0h0M597.0 67.3h0M605.1 72.4h0M620.3 69.1h0M607.3 61.4h0M623.3 66.5h0M605.5 62.7h0M608.2 72.1h0M605.7 72.7h0M605.9 49.7h0M610.4 57.8h0M600.5 56.5h0M600.7 51.7h0M599.1 59.4h0M619.0 66.2h0M623.0 68.8h0M618.1 75.2h0M610.2 65.2h0M608.4 56.7h0M616.9 68.2h0M596.8 65.2h0M616.1 62.1h0M610.7 68.2h0M606.9 52.4h0M613.4 70.2h0M598.7 58.6h0M596.9 58.6h0M615.0 67.4h0M602.4 67.7h0M604.0 52.6h0M613.7 71.9h0M596.7 67.9h0M613.4 53.7h0M606.9 56.3h0M594.0 67.3h0M601.4 51.4h0M609.9 74.7h0M604.6 51.5h0M616.0 59.7h0M597.3 53.8h0M604.0 62.7h0M601.7 68.5h0M610.2 72.0h0M606.3 63.3h0M596.8 58.5h0M602.2 56.7h0M604.8 71.8h0M609.0 67.7h0M598.0 62.1h0M601.9 60.2h0M604.4 59.6h0M613.1 60.8h0M606.1 52.6h0M606.6 72.3h0M617.8 61.1h0M592.9 63.6h0M602.1 53.7h0M597.3 57.7h0M609.6 75.3h0M617.3 76.0h0M604.3 71.9h0M604.9 59.7h0M598.9 67.6h0M595.0 57.8h0M614.0 61.3h0M598.1 64.3h0M605.9 63.3h0M616.7 65.8h0M607.2 73.8h0M605.2 66.8h0M605.8 51.3h0M603.6 64.7h0M612.7 57.8h0M616.0 70.5h0M610.0 62.1h0M622.2 71.8h0M618.2 68.4h0M593.9 67.5h0M616.6 72.4h0M602.9 55.3h0M604.8 51.5h0M613.2 71.3h0M618.4 62.3h0M613.8 59.0h0M612.9 76.6h0M600.1 61.6h0M601.2 66.6h0M618.5 75.2h0M604.0 50.7h0M617.8 68.2h0M604.4 51.6h0M598.2 61.4h0M610.5 68.6h0M612.6 55.3h0M613.2 53.8h0M608.1 72.8h0M613.6 53.7h0M593.2 67.6h0M597.6 66.9h0M622.3 68.1h0M594.9 68.3h0M607.3 67.9h0M606.4 50.1h0M610.9 54.5h0M621.4 69.2h0M595.7 68.4h0M612.7 67.8h0M622.8 69.2h0M607.0 64.3h0M595.4 61.5h0M616.3 61.4h0M606.9 73.7h0M603.4 61.7h0M595.1 64.2h0M602.2 52.2h0M595.6 61.3h0M596.7 64.7h0M603.1 71.5h0M611.3 62.5h0M607.7 73.7h0M614.7 69.4h0M614.9 77.0h0M610.5 59.0h0M615.7 75.6h0M602.5 63.3h0M600.1 62.1h0M612.5 59.1h0M604.4 55.6h0M600.0 51.3h0M617.6 75.6h0M619.0 66.7h0M598.5 69.3h0M599.7 67.4h0M609.1 63.0h0M610.0 68.6h0M591.9 64.5h0M620.6 67.7h0M615.2 63.2h0M608.0 64.9h0M609.3 61.7h0M602.6 59.5h0M620.3 68.4h0M613.0 65.8h0M613.9 60.8h0M602.0 70.8h0M618.2 60.3h0M595.5 66.6h0M610.4 55.6h0M604.1 60.8h0M615.6 58.3h0M612.5 75.2h0M598.5 62.4h0M603.6 70.8h0M597.3 69.5h0M613.6 59.6h0M611.2 74.0h0M593.6 58.4h0M602.7 60.7h0M614.7 56.8h0M621.0 68.9h0M598.4 63.4h0M606.7 64.3h0M607.6 55.6h0M600.2 62.3h0M609.0 63.5h0M622.5 68.1h0M610.8 69.0h0M597.7 57.7h0M617.1 65.2h0M598.2 55.7h0M606.1 52.2h0M595.2 57.6h0M606.7 64.4h0M609.0 53.6h0M605.1 58.0h0M592.8 64.3h0M616.0 61.6h0M602.2 62.4h0M603.4 57.1h0M606.6 51.1h0M611.3 71.4h0M607.6 64.1h0M620.1 68.6h0M599.8 67.1h0M607.0 60.1h0M610.5 54.8h0M597.0 69.6h0M613.6 59.8h0M620.3 66.6h0M602.9 69.7h0M600.0 54.7h0M618.4 61.2h0M604.3 71.5h0M611.7 69.7h0M621.1 67.9h0M610.4 58.1h0M602.2 67.3h0M612.0 68.7h0M608.8 59.7h0M612.5 61.0h0M596.2 67.2h0M605.6 54.7h0M616.0 68.8h0M611.2 67.7h0M622.1 63.5h0M614.9 62.8h0M613.3 71.6h0M594.0 64.9h0M611.6 69.0h0M599.0 54.4h0M601.5 51.4h0M604.2 51.2h0M607.4 67.6h0M609.9 52.9h0M602.3 57.7h0M606.3 60.5h0M613.2 71.9h0M596.9 59.4h0M598.3 56.2h0M606.7 56.2h0M594.7 64.9h0M618.3 66.9h0M606.6 71.7h0" stroke="#d0cce6" stroke-width="0.8" stroke-linecap="round" fill="none"/>
<path d="M611.4 52.4h0M607.0 69.3h0M612.9 68.0h0M617.7 75.1h0M603.1 65.1h0M592.9 66.2h0M612.9 53.6h0M609.2 55.1h0M607.4 62.2h0M598.3 65.9h0M608.5 70.3h0M605.9 55.0h0M618.7 75.8h0M599.3 55.6h0M604.5 57.8h0M605.4 52.0h0M622.9 64.6h0M600.1 62.6h0M614.2 72.2h0M600.5 69.1h0M606.8 73.4h0M605.0 63.9h0M601.0 66.4h0M601.9 64.5h0M608.9 68.4h0M613.0 73.4h0M601.2 61.9h0M603.2 64.3h0M614.6 55.7h0M606.2 69.0h0M616.2 69.6h0M610.4 63.5h0M600.2 59.5h0M610.2 72.8h0M604.4 51.9h0M616.7 71.4h0M603.4 50.5h0M609.3 72.3h0M619.6 72.2h0M620.2 68.8h0M614.8 71.9h0M615.8 66.5h0M601.9 51.8h0M600.2 69.2h0M600.2 58.3h0M617.0 67.2h0M609.2 64.4h0M610.4 52.9h0M598.0 60.7h0M614.9 61.8h0M611.4 67.2h0M594.8 63.4h0M613.0 75.4h0M611.4 56.9h0M603.0 61.4h0M613.5 71.6h0M601.9 55.1h0M609.9 54.8h0" stroke="#8676e6" stroke-width="0.85" stroke-linecap="round" fill="none" stroke-opacity="0.75"/>
<path d="M585.3 52.2h0M583.4 52.1h0M584.1 50.0h0M584.1 50.3h0M584.2 52.6h0M585.2 52.5h0M584.3 50.2h0M584.4 51.3h0M582.3 51.0h0M583.6 49.7h0M582.8 50.3h0" stroke="#d0cce6" stroke-width="0.8" stroke-linecap="round" fill="none"/>
<path d="M582.0 51.9h0" stroke="#8676e6" stroke-width="0.85" stroke-linecap="round" fill="none" stroke-opacity="0.75"/>
<path d="M627.9 34.2h0M623.0 33.5h0M622.3 36.5h0M623.2 32.7h0M625.2 35.7h0M623.8 33.6h0M620.8 42.4h0M624.7 33.1h0M627.7 32.3h0M628.1 37.5h0M622.5 31.0h0M625.5 40.1h0M622.8 36.1h0M627.6 41.0h0M627.1 38.8h0M622.5 40.1h0M622.4 33.8h0M628.1 41.6h0M625.8 32.1h0M627.3 32.9h0M623.1 31.8h0M624.1 34.1h0M626.3 36.3h0M622.0 33.0h0M626.8 39.6h0M628.3 40.6h0M622.7 42.4h0M621.2 33.4h0M627.0 39.9h0M621.6 34.6h0M624.0 39.6h0M621.1 42.0h0M623.8 34.5h0M621.3 31.1h0M624.8 40.4h0M622.2 31.8h0M627.4 36.9h0M624.4 30.0h0M627.0 31.6h0M627.0 36.2h0M627.0 37.9h0M623.7 36.6h0M621.2 35.2h0M620.8 38.0h0M624.1 38.1h0M621.8 31.8h0M627.1 37.4h0M628.2 40.4h0M627.6 41.9h0M623.8 39.1h0M628.5 39.6h0M625.0 41.4h0M629.1 36.3h0M623.7 29.8h0M623.4 33.1h0M622.5 34.1h0M625.2 32.4h0M622.8 35.0h0M629.3 37.1h0M628.0 39.5h0M622.3 33.2h0M625.8 37.7h0M628.6 37.1h0M621.5 42.5h0M624.0 39.6h0M622.4 41.1h0M625.2 30.1h0M630.3 39.2h0M630.8 40.2h0M620.4 40.6h0M625.7 41.3h0M621.3 38.8h0M624.9 33.6h0M623.7 31.3h0M630.6 39.2h0M629.4 35.6h0M622.0 41.7h0M625.0 36.8h0M622.2 38.1h0M620.3 40.7h0M623.4 36.6h0M624.6 38.2h0M626.5 33.9h0M623.7 32.7h0M629.0 38.5h0M624.5 38.9h0M626.6 35.5h0M625.9 42.6h0M624.7 40.9h0M628.0 41.8h0" stroke="#cfcfd6" stroke-width="0.8" stroke-linecap="round" fill="none"/>
<path d="M627.3 31.0h0M621.2 41.1h0M627.5 36.1h0M625.7 36.8h0M629.2 38.8h0M629.4 38.9h0M623.2 31.5h0M624.2 35.5h0M621.0 38.9h0M626.6 34.9h0M629.9 38.0h0M622.0 30.3h0M622.4 30.5h0M625.4 33.8h0M627.2 41.9h0" stroke="#8676e6" stroke-width="0.85" stroke-linecap="round" fill="none" stroke-opacity="0.75"/>
<path d="M659.1 80.5h0M655.6 83.6h0M653.2 85.3h0M657.1 85.3h0M654.9 79.7h0M649.6 83.8h0M648.7 83.2h0M658.4 78.3h0M657.5 82.1h0M656.0 81.9h0M652.7 82.4h0M657.8 84.4h0M657.3 81.9h0M652.4 84.0h0M656.1 81.2h0M649.0 84.8h0M654.9 81.8h0M652.7 83.5h0M649.3 83.4h0M656.9 78.6h0M649.2 83.2h0M650.8 82.7h0M657.3 83.4h0M655.3 82.4h0M658.8 83.5h0M657.7 80.0h0M651.2 81.5h0M658.2 83.7h0M654.3 80.9h0M657.3 85.2h0M649.4 82.6h0M659.7 81.2h0M659.3 80.8h0M656.5 78.1h0M651.9 81.4h0M657.2 79.6h0M655.1 83.7h0M653.3 85.1h0M657.4 82.7h0M655.3 84.4h0M656.6 85.2h0M647.1 83.3h0M659.3 82.5h0M659.3 80.2h0M656.6 85.0h0M657.9 82.8h0M657.6 81.2h0M656.2 82.0h0M657.9 80.8h0M656.2 84.7h0M658.3 77.5h0M648.9 82.7h0M653.5 85.4h0M656.8 80.6h0M658.9 79.9h0M657.4 84.1h0M653.3 84.6h0M649.5 83.1h0M659.4 80.1h0M658.0 80.7h0M657.2 84.5h0M656.6 82.8h0M652.7 82.7h0M658.8 79.7h0M658.6 83.5h0M659.0 83.7h0M657.2 84.0h0M659.0 79.9h0M659.0 79.3h0M654.5 81.5h0M658.6 81.7h0M657.2 78.7h0M654.4 83.7h0M658.1 81.0h0M657.8 80.9h0M656.5 83.6h0M653.4 82.5h0M657.3 77.1h0M651.9 82.6h0M649.9 84.1h0M647.6 83.8h0M654.6 84.4h0M657.3 82.1h0M652.5 83.2h0M657.7 77.5h0M654.5 81.7h0M653.6 80.3h0M654.9 81.4h0M649.1 84.3h0M655.0 84.5h0M657.7 77.2h0M652.0 84.6h0M656.5 81.1h0M654.4 85.2h0M658.9 80.1h0M652.2 82.7h0M653.4 81.2h0M659.3 80.0h0M656.9 83.0h0M653.7 81.0h0M657.5 78.6h0M651.3 83.9h0M654.0 84.8h0M652.3 84.8h0M654.1 82.5h0M654.3 81.3h0M645.2 83.6h0M655.2 81.5h0M657.0 80.9h0M655.7 78.7h0M658.9 82.7h0M656.0 83.9h0M657.9 78.2h0M656.6 79.9h0M650.2 83.5h0M658.3 81.2h0M652.0 84.5h0M656.6 77.6h0M659.2 80.5h0M656.3 79.9h0M657.4 76.2h0M650.1 83.2h0M649.3 83.0h0M659.1 83.4h0M654.6 79.6h0M652.2 82.2h0M655.9 80.4h0M651.7 81.9h0M655.5 82.5h0M657.4 83.5h0M657.6 82.2h0M656.0 78.6h0M658.8 83.8h0M657.7 81.8h0M652.9 85.1h0M656.7 83.7h0M658.4 79.6h0M657.2 83.3h0M646.2 84.3h0M656.0 83.8h0M655.6 81.5h0M647.6 83.1h0M657.6 75.5h0M658.8 81.5h0M649.0 84.6h0M654.6 85.1h0M658.3 80.1h0M653.8 83.3h0" stroke="#cfcfd6" stroke-width="0.8" stroke-linecap="round" fill="none"/>
<path d="M647.9 84.5h0M657.5 80.1h0M655.1 82.1h0M655.2 80.6h0M646.2 83.3h0M660.0 82.4h0M654.6 80.2h0M655.1 81.9h0M654.2 84.2h0M648.8 84.4h0M657.2 83.9h0M657.2 77.0h0M655.1 82.9h0" stroke="#8676e6" stroke-width="0.85" stroke-linecap="round" fill="none" stroke-opacity="0.75"/>
<path d="M600.2 103.9h0M597.9 93.8h0M596.5 93.8h0M600.9 110.5h0M592.7 101.3h0M595.9 105.5h0M589.9 96.3h0M598.0 72.4h0M597.9 107.5h0M598.3 73.2h0M594.2 97.6h0M604.4 109.5h0M594.0 72.8h0M592.3 73.7h0M584.6 74.8h0M597.3 105.7h0M586.5 73.1h0M593.4 91.9h0M583.9 76.0h0M590.6 77.3h0M597.5 88.8h0M603.0 106.0h0M590.9 95.4h0M598.9 100.0h0M597.6 71.4h0M592.3 91.3h0M601.3 100.0h0M590.5 84.1h0M595.0 94.9h0M598.6 99.2h0M599.6 71.7h0M596.7 92.5h0M596.8 103.4h0M585.4 81.0h0M600.7 107.2h0M591.6 92.6h0M586.3 90.0h0M584.1 77.0h0M591.0 79.5h0M588.5 91.7h0M597.3 97.6h0M592.7 97.6h0M593.1 83.9h0M591.8 72.1h0M603.2 110.3h0M598.1 84.6h0M597.4 105.8h0M596.5 86.7h0M590.1 95.0h0M599.7 74.3h0M589.1 93.3h0M593.9 83.9h0M592.4 79.8h0M585.2 85.0h0M592.0 76.5h0M585.6 78.0h0M599.7 94.6h0M584.6 85.9h0M596.6 82.3h0M591.6 96.8h0M589.5 89.8h0M595.9 90.3h0M601.7 98.1h0M586.3 82.3h0M592.2 94.5h0M597.1 105.2h0M600.0 105.9h0M590.8 75.9h0M593.9 85.4h0M587.6 91.7h0M584.9 84.5h0M596.9 100.0h0M602.8 107.7h0M585.0 83.3h0M598.4 89.4h0M600.6 73.1h0M594.0 102.1h0M595.4 78.6h0M595.7 104.9h0M584.9 77.0h0M587.1 78.0h0M586.7 86.9h0M588.1 72.4h0M593.4 93.4h0M591.8 74.9h0M590.3 74.0h0M582.0 77.5h0M593.5 98.0h0M596.9 80.6h0M592.4 95.3h0M589.7 87.2h0M588.0 89.4h0M599.6 106.1h0M600.1 80.0h0M586.2 84.7h0M604.3 101.5h0M602.2 105.0h0M597.2 86.4h0M593.6 81.6h0M603.7 100.7h0M594.2 103.3h0M597.4 92.2h0M599.9 101.0h0M594.9 87.3h0M589.2 76.6h0M596.0 89.9h0M588.9 87.6h0M596.8 106.6h0M597.6 80.2h0M598.4 96.5h0M595.2 75.0h0M595.2 77.7h0M585.5 81.1h0M597.2 93.3h0M592.0 96.4h0M590.4 73.6h0M602.8 107.6h0M604.8 109.8h0M589.7 90.6h0M600.4 98.5h0M589.7 82.3h0M598.3 73.4h0M596.4 101.7h0M595.6 81.9h0M596.1 81.4h0M594.9 79.8h0M592.9 88.3h0M606.2 105.3h0M599.3 107.1h0M587.5 92.1h0M598.1 93.5h0M590.9 72.3h0M597.7 108.4h0M587.6 78.1h0M590.7 92.0h0M583.2 81.7h0M596.6 84.0h0M599.7 80.1h0M599.6 74.5h0M597.9 104.9h0M602.0 104.1h0M598.3 84.2h0M597.1 90.2h0M586.9 81.8h0M588.9 87.4h0M585.0 80.4h0M595.4 90.7h0M598.9 81.2h0M590.6 91.9h0M594.2 86.3h0M597.2 99.3h0M600.1 106.4h0M600.0 107.3h0M592.8 83.3h0M585.1 87.3h0M589.2 78.0h0M599.3 74.5h0M585.3 80.0h0M599.5 98.1h0M586.2 83.2h0M591.6 71.4h0M600.5 78.1h0M587.5 80.1h0M597.0 98.3h0M586.2 82.2h0M591.1 88.3h0M583.8 78.7h0M594.9 71.4h0M589.9 80.1h0M587.6 82.2h0M586.1 90.7h0M593.7 77.6h0M592.5 87.3h0M590.4 72.3h0M604.2 100.2h0M589.8 82.7h0M599.0 73.2h0M596.0 81.2h0M604.6 105.9h0M602.0 105.9h0M585.7 84.3h0M596.3 98.9h0M598.5 104.8h0M594.1 71.2h0M602.3 104.1h0M588.1 82.0h0M603.1 106.4h0M599.1 78.4h0M597.1 87.3h0M597.1 74.3h0M603.3 104.3h0M586.5 80.5h0M598.4 106.5h0M602.7 106.3h0M586.4 90.8h0M587.2 92.1h0M593.3 87.6h0M586.4 81.1h0M596.8 94.5h0M598.9 71.8h0M594.2 92.5h0M592.6 80.6h0M594.9 78.5h0M584.8 79.8h0M584.6 75.3h0M604.5 107.9h0M589.1 91.5h0M586.9 79.5h0M599.2 71.7h0" stroke="#d0cce6" stroke-width="0.8" stroke-linecap="round" fill="none"/>
<path d="M593.0 74.7h0M590.1 88.1h0M603.9 109.5h0M587.8 90.9h0M596.8 97.8h0M603.8 102.0h0M588.1 79.6h0M588.5 82.9h0M605.4 105.9h0M592.7 85.2h0M595.3 80.9h0M589.6 76.9h0M591.3 90.3h0M591.6 91.1h0M596.7 71.4h0M601.7 104.5h0M587.6 82.6h0M587.3 87.9h0M596.8 91.2h0M595.0 76.3h0M597.3 72.3h0M597.2 99.7h0M598.1 79.5h0M594.4 75.2h0M600.7 110.0h0M596.9 96.4h0M593.3 88.7h0M582.6 77.9h0M601.0 99.2h0M596.4 92.9h0M585.4 80.6h0M594.8 86.2h0M588.4 79.9h0M598.7 94.0h0M584.4 77.3h0M590.0 75.7h0M582.4 78.3h0M596.6 84.8h0M590.0 72.9h0M585.2 84.6h0M599.4 72.9h0M582.7 80.8h0M590.5 83.4h0M596.8 104.9h0M606.2 106.0h0M599.4 108.6h0M597.3 93.9h0M585.4 89.4h0M597.6 87.0h0M597.9 89.2h0M595.7 73.5h0M595.3 78.2h0M598.2 105.2h0M591.2 92.6h0M592.0 90.7h0M597.5 95.1h0M587.1 86.1h0M602.3 103.8h0M591.1 76.5h0M593.6 87.7h0M597.2 94.2h0M589.6 89.1h0M584.5 74.4h0M599.7 78.3h0M603.3 104.4h0M600.2 107.0h0M591.1 87.1h0M585.1 75.0h0M592.6 84.2h0M591.9 90.0h0M600.0 74.6h0M596.6 73.0h0M599.4 97.5h0M602.3 104.0h0M598.5 105.7h0M585.3 79.3h0M594.0 89.9h0M603.2 100.6h0M588.8 83.0h0M600.6 77.8h0M592.7 90.8h0M599.1 71.0h0M587.7 88.2h0M587.3 87.4h0M596.3 82.1h0M591.9 92.6h0M584.9 87.0h0M595.5 73.0h0M586.7 79.0h0M591.9 82.6h0M596.9 99.0h0M596.1 93.2h0M584.5 75.2h0M596.2 86.0h0M592.5 94.8h0M601.0 97.7h0M591.7 86.8h0M592.9 70.9h0M605.5 108.3h0M592.6 96.8h0M586.6 80.4h0M601.9 104.1h0M595.5 80.4h0M586.7 78.2h0M596.0 77.4h0M600.4 97.1h0M584.5 86.8h0M598.1 92.1h0M585.4 76.3h0M598.2 106.6h0M594.6 102.7h0M602.3 109.8h0M583.6 83.2h0M590.2 95.1h0M604.6 103.7h0M588.7 72.4h0M585.0 85.8h0M592.0 92.4h0M601.1 107.9h0M596.0 96.9h0M595.3 91.1h0M595.1 87.1h0M600.2 72.2h0M596.6 104.0h0M594.3 95.1h0M596.5 99.3h0M592.3 86.8h0M600.0 75.8h0M590.4 80.6h0M602.2 106.0h0M594.1 81.3h0M600.1 97.3h0M599.3 100.2h0M598.0 78.1h0M601.0 107.1h0M584.2 80.9h0M605.7 103.6h0M593.8 77.6h0M588.8 91.4h0M595.4 102.7h0M594.3 100.6h0M587.8 85.7h0M599.5 75.4h0M587.0 76.1h0M585.4 77.0h0M589.5 85.8h0M596.5 96.2h0M594.6 71.7h0M588.4 94.4h0M587.6 75.2h0M599.3 77.1h0M597.8 98.8h0M592.8 87.3h0M595.9 99.4h0M601.3 72.9h0M593.2 82.2h0M597.4 106.4h0M585.9 75.2h0M597.6 99.1h0M585.8 76.4h0M599.9 80.9h0M597.7 105.4h0M582.7 81.5h0M594.7 86.9h0M604.0 102.2h0M588.2 91.1h0M585.0 82.7h0M599.8 73.5h0M598.3 93.1h0M599.9 73.9h0M595.8 86.4h0M593.1 95.5h0M595.9 73.4h0M597.3 76.2h0M599.4 77.7h0M591.5 80.3h0M585.7 74.0h0M589.2 74.5h0M600.8 109.0h0M588.0 87.3h0M589.8 85.4h0M592.1 94.6h0M590.2 89.8h0M589.9 83.5h0M590.5 97.7h0M592.0 95.5h0M586.6 86.6h0M596.0 92.6h0M598.1 102.3h0M585.0 74.3h0M596.7 92.5h0M603.4 103.5h0M596.0 105.3h0M591.2 89.0h0M582.3 75.6h0M602.7 98.9h0M594.5 88.8h0M582.4 75.8h0M588.9 76.6h0M598.3 103.2h0M597.5 89.6h0M596.2 103.5h0M591.0 86.2h0M602.6 99.5h0M588.6 84.8h0M602.0 97.9h0M602.2 73.7h0M605.7 109.3h0M591.2 85.1h0M586.9 73.4h0M587.8 80.3h0M596.2 88.7h0M596.7 104.0h0M604.3 104.6h0M601.1 74.4h0M589.9 73.4h0M603.0 107.9h0M600.6 76.0h0M599.3 108.8h0M596.0 83.3h0M587.8 72.6h0M598.0 105.5h0M587.8 83.7h0M588.5 78.2h0M599.7 97.5h0M591.8 100.5h0M601.0 104.4h0M596.3 106.5h0M586.0 83.8h0M588.0 90.1h0M584.8 83.6h0M589.2 92.8h0M599.0 100.8h0M596.5 107.7h0M590.8 80.8h0M597.3 74.1h0M593.3 99.2h0M584.7 78.6h0M590.9 84.4h0M596.0 86.0h0M599.7 77.7h0M591.9 78.3h0M600.1 103.1h0M599.0 82.5h0M582.7 77.9h0M587.3 90.7h0M599.6 70.7h0M587.6 83.1h0M595.9 99.7h0M592.1 75.0h0M596.2 82.3h0M596.9 106.0h0M590.4 82.7h0M599.1 97.6h0M587.9 83.3h0M599.1 106.4h0M593.3 98.4h0M596.2 81.7h0M592.7 84.6h0M587.8 83.2h0M604.9 103.1h0M592.4 88.8h0M591.4 82.5h0M599.0 74.5h0M597.9 89.9h0M591.7 75.1h0M600.8 99.4h0M592.7 95.8h0M605.7 105.7h0M599.0 96.3h0M592.6 81.8h0M597.2 86.2h0M592.7 88.1h0M588.9 86.3h0M594.5 94.7h0M597.5 103.2h0M596.5 95.7h0M587.9 81.2h0M596.9 81.8h0M600.0 109.9h0M599.2 73.4h0M601.0 110.0h0M594.5 97.2h0M582.8 82.2h0M593.9 90.8h0M589.6 78.1h0M594.0 78.5h0M589.3 76.1h0M593.8 80.8h0M597.6 70.5h0M587.4 91.3h0M594.8 93.8h0M589.6 76.9h0M591.2 91.7h0M587.4 76.8h0M597.0 81.0h0M592.3 88.7h0M596.6 82.3h0M583.6 78.9h0M594.8 93.6h0M602.5 106.3h0M591.7 81.6h0M599.0 99.2h0M594.1 77.9h0M598.6 92.7h0M598.2 72.4h0M600.6 104.8h0M591.8 79.3h0M586.3 78.0h0M590.2 82.5h0M594.1 74.2h0M594.7 75.2h0M595.9 90.7h0M603.5 99.8h0M597.3 83.4h0M587.5 80.7h0M595.4 99.0h0M592.4 91.4h0M597.2 85.9h0M594.9 98.0h0M586.7 89.4h0M602.5 109.7h0M584.4 75.6h0M601.0 105.7h0M586.9 80.9h0M595.0 80.7h0M596.5 106.0h0M586.2 78.5h0M592.0 79.1h0M597.1 83.6h0M583.0 82.7h0M600.9 99.4h0M598.2 92.5h0M600.4 101.3h0M597.7 82.6h0M592.3 93.7h0M604.4 104.4h0M589.2 95.5h0M592.6 74.8h0M597.2 105.6h0M596.4 77.0h0M591.0 89.9h0M589.9 85.0h0M598.0 90.4h0M586.6 82.5h0M587.4 86.0h0M599.6 78.7h0M595.2 83.2h0M602.2 105.4h0M599.3 98.9h0M582.7 78.4h0M590.5 78.7h0M585.4 82.4h0M596.0 101.5h0M593.8 75.1h0M604.2 105.8h0M591.3 83.5h0M593.1 71.2h0M593.3 90.6h0M593.7 101.8h0M588.9 83.1h0M586.5 90.6h0M594.8 90.9h0M587.2 91.7h0M596.7 83.9h0M592.8 81.9h0M598.9 106.0h0M584.2 80.0h0M587.6 86.1h0M597.7 86.0h0M601.3 103.8h0M591.5 84.6h0M586.4 85.3h0M588.9 80.5h0M589.6 73.1h0M605.0 105.1h0M598.8 108.1h0M587.0 74.7h0M599.3 73.0h0M593.5 103.5h0M592.3 91.3h0M590.4 95.6h0M591.9 89.9h0M602.3 109.7h0M595.3 73.6h0M592.5 71.5h0M598.4 96.8h0M598.6 82.4h0M599.1 108.2h0M588.1 89.6h0M596.9 97.7h0M598.8 74.1h0M596.6 81.6h0M592.4 85.1h0M585.5 81.8h0M600.6 108.7h0M599.0 79.1h0M597.4 81.5h0M594.7 86.2h0M601.1 104.6h0M595.2 91.4h0M597.9 94.9h0M590.4 73.2h0M586.5 80.9h0M583.2 82.5h0M589.0 75.1h0M588.0 89.5h0M600.9 104.9h0M584.9 76.4h0M597.6 91.8h0M592.7 82.8h0M595.4 79.8h0M600.8 102.0h0M603.2 98.8h0M588.3 81.2h0M593.5 82.2h0M590.8 78.9h0M597.5 98.1h0M590.0 90.6h0M584.6 83.2h0M583.0 79.7h0M586.8 76.7h0M592.6 74.1h0M592.9 88.2h0M599.1 105.0h0M585.8 86.8h0M595.4 99.5h0M598.9 82.7h0M587.9 92.6h0M585.3 89.1h0M589.6 85.0h0M604.9 105.0h0M600.9 77.4h0M593.3 71.2h0M589.3 72.8h0M601.7 106.3h0M596.7 84.9h0M585.5 77.0h0M593.8 82.6h0M597.2 87.1h0M600.1 80.3h0M591.8 81.2h0M586.7 91.2h0M585.7 76.8h0M582.3 79.4h0M595.7 99.8h0M589.8 95.0h0M594.2 82.3h0M601.5 107.2h0M584.7 77.2h0M604.1 102.7h0M592.1 87.7h0M599.2 105.8h0M593.8 71.4h0M600.7 107.1h0M591.4 76.1h0M596.0 94.4h0M586.5 83.9h0M597.1 83.8h0M584.4 78.1h0M584.7 87.3h0M594.9 88.0h0M592.1 70.9h0M599.5 101.0h0M588.7 78.8h0M592.6 77.0h0M591.3 98.3h0M597.1 75.8h0M586.0 88.0h0M593.0 79.3h0M592.3 94.0h0M586.8 86.0h0M605.7 107.9h0" stroke="#8676e6" stroke-width="0.85" stroke-linecap="round" fill="none" stroke-opacity="0.75"/>
<path d="M614.9 106.0h0M622.2 107.1h0M617.3 110.8h0M624.7 111.1h0M616.0 105.6h0M621.3 108.7h0M619.6 105.1h0M623.7 107.9h0M620.3 108.3h0M621.1 107.8h0M620.0 109.6h0M620.9 107.2h0M618.4 110.6h0M623.1 110.7h0M620.5 106.0h0M617.3 109.6h0M616.1 108.9h0M618.2 106.3h0M624.1 109.0h0M619.5 110.7h0" stroke="#d0cce6" stroke-width="0.8" stroke-linecap="round" fill="none"/>
<path d="M620.6 110.1h0M619.6 110.7h0M620.2 109.8h0M622.4 107.9h0" stroke="#8676e6" stroke-width="0.85" stroke-linecap="round" fill="none" stroke-opacity="0.75"/>
<path d="M608.9 116.0h0M612.7 115.9h0M616.0 115.2h0M614.7 105.8h0M610.9 114.6h0M615.4 114.0h0M614.0 105.9h0M615.1 105.3h0M611.9 114.6h0M612.4 111.0h0M614.9 105.1h0M605.7 110.8h0M607.1 117.3h0M608.6 106.3h0M608.1 107.8h0M611.6 103.5h0M615.7 98.1h0M612.1 117.6h0M610.0 116.2h0M602.3 113.2h0M609.1 114.1h0M602.9 113.8h0M613.6 110.9h0M613.6 106.6h0M608.2 119.8h0M607.6 106.7h0M610.3 105.0h0M611.2 105.6h0M615.7 114.6h0M612.0 111.5h0M614.1 107.3h0M611.2 102.4h0M610.6 103.8h0M607.9 118.0h0M609.5 108.5h0M611.3 108.6h0M615.4 108.7h0M615.5 107.6h0M615.3 115.3h0M611.3 113.7h0M612.3 106.2h0M604.4 109.5h0M609.5 111.0h0M612.4 112.7h0M608.1 104.5h0M613.4 101.4h0M612.1 102.7h0M608.4 109.7h0M607.0 112.1h0M613.1 106.7h0M612.3 115.4h0M614.7 98.4h0M606.6 105.6h0M615.0 110.7h0M606.7 116.5h0M607.7 109.4h0M609.7 119.4h0M608.8 118.6h0M614.0 106.2h0M607.6 117.2h0M615.6 103.1h0M605.9 107.1h0M609.9 105.7h0M610.3 112.3h0M609.0 109.7h0M604.3 111.8h0M611.8 117.4h0M615.1 115.5h0M602.9 111.6h0M613.5 110.4h0M604.3 118.7h0M612.4 102.5h0M614.3 100.0h0M605.4 112.8h0M610.0 112.5h0M614.1 112.7h0M607.4 105.1h0M611.8 108.4h0M607.8 114.0h0M603.8 110.7h0M612.2 105.8h0M612.7 114.7h0M614.4 118.7h0M608.2 109.2h0M602.6 114.2h0M604.7 118.3h0M608.9 109.2h0M616.2 99.0h0M615.1 99.6h0M610.4 102.1h0M612.8 117.8h0M610.1 111.9h0M610.4 115.5h0M614.3 118.6h0M615.2 116.7h0M604.9 108.2h0M610.9 115.0h0M612.7 107.5h0M602.9 114.7h0M604.9 112.4h0M608.2 119.8h0M609.5 117.5h0M615.9 108.2h0M615.0 114.8h0M603.5 110.7h0M605.4 118.0h0M607.9 114.3h0M615.4 115.3h0M604.1 112.0h0M614.1 116.9h0M615.0 101.4h0M613.1 107.2h0M612.1 105.1h0M612.9 107.2h0M614.6 103.3h0M616.3 100.6h0M607.4 109.2h0M614.7 114.3h0M614.5 110.6h0M611.6 104.6h0M608.9 120.1h0M610.3 114.6h0M604.8 111.4h0M606.8 110.6h0M607.2 116.5h0M615.8 108.9h0M614.8 99.0h0M609.4 113.8h0M605.7 117.6h0M614.1 114.8h0M607.3 107.2h0M609.0 108.4h0M614.7 111.4h0M608.9 112.7h0M615.2 115.4h0M604.0 114.9h0M609.5 104.6h0M613.0 101.8h0M615.5 108.0h0M608.8 108.6h0M612.8 112.4h0M610.1 119.9h0M611.4 113.9h0M615.1 105.9h0M613.8 110.7h0M612.8 111.8h0M611.9 115.8h0M604.9 108.5h0M613.5 101.3h0M615.0 102.6h0M612.9 110.7h0M611.6 111.7h0M613.6 109.0h0M610.6 106.5h0M608.8 112.0h0M611.7 101.9h0M607.1 108.5h0M614.6 101.3h0M615.2 107.4h0M614.6 113.2h0M606.5 110.5h0M614.9 100.3h0M613.9 111.4h0M613.3 117.4h0M613.0 117.4h0M612.4 112.9h0M608.0 110.7h0M613.9 107.7h0M616.0 113.0h0M602.9 116.3h0M613.5 105.9h0M605.5 110.5h0M606.1 107.3h0M609.1 108.1h0M611.8 110.0h0M602.6 111.6h0M614.8 110.8h0M611.6 106.1h0M604.3 113.6h0M616.0 106.3h0M607.8 113.0h0M616.3 113.7h0M610.2 108.5h0M608.4 115.8h0M613.1 117.6h0M609.3 118.0h0M611.2 109.4h0M610.2 112.3h0M612.1 113.2h0M610.2 118.4h0M605.8 112.6h0M615.6 99.5h0M606.3 110.4h0M610.7 107.5h0M611.4 108.4h0M603.6 114.5h0M608.5 115.2h0M610.6 103.9h0M613.6 101.6h0M606.6 106.6h0M614.6 111.4h0M610.9 110.9h0M608.1 107.4h0M609.0 114.2h0M612.2 108.4h0M606.3 106.2h0M614.2 115.6h0M609.5 111.4h0M613.3 104.2h0M610.9 105.7h0M603.3 111.6h0M615.4 108.0h0M612.1 106.7h0M614.0 109.6h0M616.0 114.3h0M607.0 106.8h0M604.2 111.0h0M613.1 104.8h0M613.1 110.7h0M614.4 117.4h0M606.5 118.2h0M612.3 112.9h0M613.1 114.3h0M615.8 104.9h0M615.8 112.1h0M616.1 99.4h0M615.8 113.8h0M605.8 111.5h0M607.8 118.1h0M611.1 108.1h0M612.1 104.6h0M616.1 104.9h0M605.7 116.6h0M615.7 101.1h0M610.3 111.1h0M609.7 116.7h0M603.6 114.8h0M612.1 116.0h0M615.2 102.3h0M612.6 102.2h0M616.0 98.9h0M607.5 113.8h0M610.8 113.8h0M612.0 103.1h0M605.6 113.0h0M606.1 115.8h0M611.0 103.0h0M615.6 117.2h0M605.1 108.3h0M616.1 102.6h0M605.2 113.7h0M611.2 115.8h0M613.2 118.3h0M608.0 106.1h0M610.6 103.0h0M604.3 115.7h0M605.6 117.5h0M613.3 118.6h0M611.3 114.6h0M611.3 102.5h0M613.8 101.6h0M611.9 112.8h0M606.6 111.9h0M614.5 104.3h0M616.5 103.2h0M614.3 118.7h0M610.5 106.1h0M609.3 119.6h0M606.4 113.0h0M612.3 103.3h0M609.4 106.3h0M612.7 115.9h0M606.8 107.5h0M608.2 110.6h0M616.2 109.9h0M614.7 113.5h0M615.3 105.3h0M604.2 117.6h0M608.1 117.3h0M615.4 106.5h0M611.7 105.5h0M604.7 115.9h0M610.0 113.1h0M610.9 112.8h0M613.0 101.8h0M606.0 111.9h0M604.7 116.0h0M604.3 108.4h0M607.5 107.2h0M607.3 108.9h0M613.2 102.4h0M615.2 100.5h0M610.7 107.1h0M612.2 101.1h0M602.7 115.4h0M615.8 103.9h0M612.2 116.5h0M614.0 106.7h0M615.0 101.2h0M610.6 113.2h0M612.2 103.6h0M603.4 113.8h0M614.4 101.4h0M610.0 106.8h0M605.6 107.0h0M605.1 113.4h0M614.8 112.6h0M610.3 112.6h0M606.6 108.1h0M604.2 115.3h0M615.8 108.0h0M611.2 114.9h0M611.5 115.4h0M608.2 113.0h0M608.3 104.5h0M605.7 114.6h0M604.4 110.4h0M610.4 102.7h0M607.2 119.7h0M609.8 117.3h0M604.0 108.3h0M615.6 100.1h0M606.5 108.2h0M611.6 101.7h0M610.6 108.8h0M611.9 105.7h0M608.9 108.6h0" stroke="#d0cce6" stroke-width="0.8" stroke-linecap="round" fill="none"/>
<path d="M603.3 108.9h0M606.4 117.4h0M614.9 106.2h0M612.8 113.9h0M613.5 110.5h0M611.9 113.5h0M615.2 115.5h0M614.4 109.9h0M610.2 111.2h0M608.0 104.9h0M610.7 104.3h0M606.5 119.6h0M605.4 115.5h0M616.6 112.7h0M609.9 110.9h0M611.2 115.6h0M609.7 114.7h0M612.5 102.3h0M607.8 111.8h0M614.8 116.2h0M606.8 115.0h0M609.9 116.0h0M604.7 116.5h0M609.9 104.4h0M613.7 111.5h0M610.9 114.3h0M606.6 111.4h0M606.1 110.1h0M614.2 118.4h0M609.3 107.1h0M607.4 110.2h0M614.3 113.0h0M609.4 119.9h0M608.9 103.4h0M615.9 110.5h0M608.2 117.3h0M612.3 113.2h0M615.9 105.2h0M613.3 100.3h0M605.2 117.6h0M611.9 117.5h0M608.8 110.3h0M609.4 106.1h0M610.3 115.5h0M610.1 120.1h0" stroke="#8676e6" stroke-width="0.85" stroke-linecap="round" fill="none" stroke-opacity="0.75"/>
<rect x="669" y="64" width="5.4" height="29" fill="url(#cbgrad)"/>
<text x="677" y="66.3" font-size="3.6" fill="#444">6</text>
<text x="677" y="75.3" font-size="3.6" fill="#444">4</text>
<text x="677" y="84.3" font-size="3.6" fill="#444">2</text>
<text x="677" y="93.3" font-size="3.6" fill="#444">0</text>
<defs><linearGradient id="cbgrad" x1="0" y1="0" x2="0" y2="1"><stop offset="0" stop-color="#2a1cf0"/><stop offset="0.5" stop-color="#8e86e8"/><stop offset="1" stop-color="#dcdce4"/></linearGradient></defs>
<ellipse cx="388" cy="108" rx="8.5" ry="14.5" transform="rotate(18 388 108)" fill="none" stroke="#4a8a2a" stroke-width="2.6" stroke-dasharray="4.6 2.6"/>
<path d="M469.3 74.8 C470 72, 474 71, 478 70.8 C484 70.8, 490 72, 494 76.6 C496 79, 496 84, 495.6 87.5 C495 90, 494 91, 494 92.7 C495 94, 496 96, 495 98 C493 102, 490 103.6, 487.5 103.6 C484 103, 481 100.5, 478.8 99.2 C475 97, 473.5 95, 473.5 92 C473 89, 473.5 87, 473 85 C472 82, 470 80, 469.3 74.8Z" fill="none" stroke="#c8641a" stroke-width="2.6" stroke-dasharray="4.6 2.6"/>
<path d="M578.6 77 C579 74.5, 583 73.5, 587 73.5 C592 73.3, 598 74, 601.2 77 C604 79, 605 81, 604.5 83 C604.5 86, 604 88, 603.8 91 C603.5 94, 603 97, 602.7 100.3 C602 103, 600 105, 597.5 105.8 C594 106, 592 103.5, 590.2 101.8 C588 100, 586 99, 584.4 98.1 C582 95, 582.2 92, 582.2 90 C582 86, 581.5 84, 580.8 82 C579.5 80, 578.6 79, 578.6 77Z" fill="none" stroke="#c8641a" stroke-width="2.6" stroke-dasharray="4.6 2.6"/>
<path d="M243.6 131V106.5 M243.6 131H679" stroke="#000" stroke-width="1" fill="none"/>
<path d="M243.6 103l-2.6 5h5.2z M684.5 131l-5.5 -2.8v5.6z" fill="#000"/>
<text x="0" y="0" font-size="7.2" transform="translate(238.8,131) rotate(-90)">UMAP2</text>
<text x="410" y="141" font-size="7.2" text-anchor="middle">UMAP1</text>
<text x="3.4" y="166" font-size="18" font-weight="bold">c</text>
<text x="73" y="183.8" font-size="10.5" text-anchor="middle">SSPC-2</text>
<text x="160" y="183.8" font-size="10.5" text-anchor="middle">SSPC-1</text>
<rect x="22.5" y="188" width="188.5" height="183.5" fill="#fcfcfc"/>
<path d="M22.5 188V371.8H211" stroke="#aaa" stroke-width="1" fill="none"/>
<path d="M111.4 188V371.5 M23 283.6H206" stroke="#555" stroke-width="0.6" stroke-dasharray="1.2 1.2" fill="none"/>
<text x="20.5" y="193.40000000000003" font-size="6.3" text-anchor="end" fill="#333">5.0</text>
<text x="20.5" y="239.65000000000003" font-size="6.3" text-anchor="end" fill="#333">2.5</text>
<text x="20.5" y="285.90000000000003" font-size="6.3" text-anchor="end" fill="#333">0.0</text>
<text x="20.5" y="332.15000000000003" font-size="6.3" text-anchor="end" fill="#333">-2.5</text>
<text x="60.0" y="379.6" font-size="6.3" text-anchor="middle" fill="#333">-0.4</text>
<path d="M60.0 371.8v1.8" stroke="#aaa" stroke-width="0.8"/>
<text x="111.4" y="379.6" font-size="6.3" text-anchor="middle" fill="#333">0.0</text>
<path d="M111.4 371.8v1.8" stroke="#aaa" stroke-width="0.8"/>
<text x="162.8" y="379.6" font-size="6.3" text-anchor="middle" fill="#333">0.4</text>
<path d="M162.8 371.8v1.8" stroke="#aaa" stroke-width="0.8"/>
<text x="112" y="389" font-size="8" text-anchor="middle">Difference</text>
<text x="0" y="0" font-size="8" text-anchor="middle" transform="translate(8.5,283) rotate(-90)">Average Log2FC</text>
<path d="M107.0 279.5 L110.0 280.3 L116.0 279.4 L125.5 277.8 L133.7 273.9 L140.0 269.5 L145.0 266.8 L146.5 263.6 L143.0 262.4 L135.0 263.3 L125.5 264.4 L115.0 266.6 L111.0 270.0 L108.0 275.0Z" fill="#bebebe"/>
<path d="M69.0 302.5 L76.0 299.5 L86.0 298.5 L96.0 298.0 L104.0 296.5 L110.0 293.5 L111.2 289.0 L110.0 286.5 L104.0 286.5 L96.0 287.0 L88.0 288.0 L82.0 289.5 L76.0 293.0 L71.0 297.5Z" fill="#bebebe"/>
<path d="M118.6 277.3h0M136.9 265.4h0M118.6 268.1h0M114.7 272.8h0M123.2 266.4h0M125.1 270.4h0M131.0 272.8h0M125.8 270.1h0M114.0 273.3h0M140.6 266.8h0M135.8 270.7h0M112.5 270.2h0M126.4 265.4h0M126.9 276.0h0M137.8 267.5h0M136.2 267.5h0M110.0 275.6h0M130.5 267.4h0M119.3 276.7h0M110.1 274.2h0M124.4 270.6h0M114.4 278.3h0M135.0 263.7h0M129.0 265.5h0M112.1 272.1h0M116.6 271.2h0M109.9 280.2h0M125.9 268.8h0M118.5 272.1h0M122.9 273.7h0M133.2 264.7h0M111.7 275.4h0M112.7 274.3h0M113.8 268.2h0M130.1 271.4h0M107.4 277.9h0M111.3 280.9h0M124.1 276.4h0M140.7 264.3h0M117.0 267.1h0M138.5 265.9h0M112.5 274.9h0M115.5 272.8h0M115.7 268.2h0M125.1 277.1h0M124.6 267.2h0M113.3 278.9h0M135.3 269.5h0M113.4 278.2h0M132.8 270.0h0M124.6 266.3h0M126.0 271.1h0M140.3 264.6h0M136.8 268.1h0M112.9 273.1h0M110.9 276.0h0M111.0 275.7h0M111.8 274.1h0M132.4 265.7h0M126.5 274.3h0M133.1 269.1h0M117.8 268.8h0M120.0 268.5h0M121.9 270.4h0M116.9 278.4h0M124.2 277.4h0M129.7 268.9h0M134.1 263.5h0M110.4 276.6h0M131.0 271.5h0M132.3 269.3h0M118.9 272.7h0M124.4 271.1h0M116.8 272.6h0M113.9 270.7h0M114.3 273.8h0M118.1 271.1h0M134.6 263.5h0M110.4 279.9h0M113.9 270.7h0M140.6 266.7h0M109.8 274.6h0M129.6 272.4h0M137.3 268.3h0M107.3 277.3h0M133.8 268.2h0M137.3 264.2h0M138.0 265.5h0M134.3 266.2h0M121.4 268.8h0M115.2 270.8h0M109.9 277.7h0M135.2 268.7h0M127.8 275.3h0M111.1 272.5h0M136.8 264.6h0M122.1 267.9h0M125.1 276.3h0M116.7 273.6h0M122.3 277.8h0M136.6 266.7h0M124.4 273.3h0M137.4 268.5h0M129.3 268.9h0M118.9 269.1h0M142.2 263.9h0M111.1 280.3h0M110.3 278.9h0M127.7 265.6h0M143.9 266.2h0M110.4 275.7h0M133.7 268.4h0M119.2 274.1h0M120.5 267.3h0M142.6 266.1h0M113.2 271.6h0M131.5 269.0h0M140.1 267.9h0M117.3 272.1h0M121.0 267.8h0M110.9 279.3h0M131.0 273.2h0M119.8 270.7h0M117.5 273.4h0M115.0 268.9h0M122.5 271.6h0M121.8 268.9h0M129.1 267.3h0M129.8 264.8h0M127.9 264.7h0M134.8 264.3h0M137.3 263.9h0M135.1 270.0h0M134.5 269.5h0M138.9 265.0h0M107.4 276.6h0M133.4 270.0h0M119.2 266.7h0M135.1 268.3h0M110.0 275.9h0M98.6 294.2h0M95.2 291.4h0M78.1 296.1h0M95.0 296.2h0M103.0 293.2h0M81.3 296.1h0M79.9 296.9h0M94.8 290.6h0M100.9 293.7h0M93.0 290.5h0M97.8 295.6h0M93.8 291.3h0M77.6 293.5h0M83.0 290.6h0M91.9 289.4h0M73.5 295.8h0M86.6 296.5h0M97.9 292.7h0M82.7 295.2h0M72.2 300.9h0M90.2 297.4h0M110.3 291.2h0M100.5 296.5h0M95.8 289.7h0M72.8 297.4h0M94.9 294.9h0M108.4 287.7h0M89.8 288.8h0M104.1 291.8h0M93.8 294.0h0M84.8 293.5h0M71.7 298.3h0M100.3 295.2h0M74.2 294.6h0M91.7 292.7h0M90.1 287.9h0M105.3 290.8h0M83.2 292.8h0M97.1 287.3h0M82.1 292.9h0M107.8 290.9h0M90.0 292.4h0M90.7 297.0h0M101.0 290.8h0M105.7 290.7h0M90.5 298.1h0M75.3 297.8h0M80.3 295.9h0M69.4 301.8h0M87.0 293.2h0M105.6 288.7h0M73.8 298.3h0M79.4 295.3h0M91.9 287.6h0M81.8 298.6h0M83.0 291.9h0M102.2 292.2h0M97.3 295.5h0M101.0 295.1h0M85.7 293.5h0M109.2 288.6h0M71.1 299.7h0M95.8 294.4h0M80.1 294.8h0M105.5 291.3h0M101.5 290.7h0M87.8 293.5h0M85.1 290.7h0M81.5 298.9h0M97.5 296.9h0M97.5 289.3h0M95.6 287.9h0M85.9 295.7h0M80.4 291.5h0M87.9 298.3h0M83.4 293.3h0M102.1 291.8h0M75.7 297.3h0M103.8 290.1h0M82.4 289.9h0M108.3 290.3h0M95.9 287.9h0M86.4 295.6h0M79.7 291.8h0M81.0 295.5h0M78.0 298.2h0M88.4 296.4h0M91.6 288.2h0M87.4 296.6h0M89.7 290.9h0M99.8 288.3h0M77.2 297.3h0M99.5 290.9h0M94.1 296.5h0M92.5 289.7h0M98.0 293.6h0M78.7 293.0h0M103.5 293.6h0M93.1 292.9h0M77.1 294.3h0M82.3 293.6h0M107.8 293.7h0M87.9 297.8h0M104.1 288.8h0M109.4 292.5h0M77.9 293.9h0M100.2 291.0h0M92.2 295.2h0M102.5 287.2h0M100.6 294.6h0M82.3 296.6h0M102.9 287.2h0M106.9 291.2h0M97.5 295.1h0M93.4 290.8h0M91.2 291.1h0M81.8 296.3h0M83.3 294.4h0M108.8 291.8h0M98.1 287.3h0M104.0 277.0h0M103.0 279.5h0M118.6 294.5h0M113.0 272.0h0M111.4 289.0h0M105.0 290.0h0M59.0 299.0h0M127.0 278.5h0M130.0 277.8h0M98.0 300.0h0M92.0 300.5h0M104.0 298.0h0" stroke="#bdbdbd" stroke-width="1.8" stroke-linecap="round" fill="none"/>
<path d="M186.0 197.0h0M172.6 206.0h0M168.0 210.6h0M196.4 213.4h0M190.4 215.6h0M182.4 218.4h0M192.4 222.6h0M191.0 224.4h0M187.0 225.0h0M160.6 225.0h0M167.0 225.0h0M173.4 228.4h0M184.0 229.0h0M179.0 233.6h0M181.0 233.6h0M192.4 234.6h0M134.0 231.0h0M133.6 232.4h0M168.6 236.4h0M174.4 237.6h0M179.0 239.6h0M139.6 238.6h0M127.0 240.0h0M152.6 239.6h0M159.6 240.6h0M142.6 242.0h0M168.6 242.0h0M175.0 244.0h0M153.6 245.6h0M147.6 247.0h0M159.0 248.0h0M165.0 248.0h0M168.6 248.0h0M175.0 249.0h0M129.4 250.4h0M111.4 256.0h0M167.6 255.6h0M171.0 244.5h0M162.0 246.0h0M156.0 250.0h0M150.0 251.0h0M133.9 264.4h0M146.5 261.6h0M128.5 255.0h0M144.7 261.7h0M146.7 261.1h0M147.8 259.7h0M145.9 260.0h0M122.4 263.4h0M130.5 258.5h0M121.9 261.4h0M146.9 259.3h0M138.5 260.9h0M125.1 263.5h0M134.6 256.4h0M137.1 252.9h0M128.8 262.6h0M135.2 258.7h0M140.2 260.7h0M143.9 254.8h0M152.4 253.1h0M131.5 262.0h0M127.9 258.0h0M130.9 253.8h0M150.8 258.9h0M146.1 261.1h0M147.0 259.0h0M137.7 258.4h0M129.8 258.7h0M131.1 253.9h0M128.8 260.2h0M153.3 257.5h0M139.9 263.4h0M155.2 254.6h0M145.2 257.6h0M141.0 252.8h0M126.9 255.8h0M144.6 261.7h0M144.5 253.0h0M146.7 252.3h0M149.9 260.4h0M127.7 261.5h0M152.7 259.8h0M129.0 255.1h0M146.2 254.8h0M140.8 253.3h0M120.1 258.4h0M146.8 253.7h0M125.0 258.0h0M150.4 260.9h0M125.4 259.4h0M127.8 258.3h0M149.7 251.7h0M146.2 253.0h0M137.5 256.0h0M152.1 252.1h0M136.3 259.4h0M128.7 258.3h0M151.9 254.9h0M126.7 264.6h0M137.3 256.6h0M136.0 255.2h0M138.6 262.0h0M127.3 257.6h0M123.0 263.3h0M134.9 255.7h0M150.3 253.0h0M134.2 259.2h0M144.2 260.0h0M143.6 261.3h0M129.7 259.3h0M133.9 254.3h0M122.8 257.0h0M143.8 261.4h0M135.6 260.4h0M129.4 256.7h0M128.8 264.1h0M119.4 258.5h0M134.4 263.4h0M141.1 260.3h0M130.3 259.5h0M148.2 260.7h0M119.9 258.9h0M151.6 256.1h0M139.8 259.4h0M139.8 259.2h0M151.4 258.0h0M135.9 254.7h0M119.5 262.1h0M130.4 261.7h0M131.2 260.9h0M145.9 256.4h0M144.5 261.4h0M129.3 257.4h0M148.6 252.5h0M151.0 257.7h0M139.4 261.0h0M151.1 255.2h0M144.2 255.7h0M130.3 262.2h0M136.0 259.2h0M140.9 261.3h0M155.0 255.3h0M141.4 260.5h0M133.1 264.2h0M132.9 261.0h0M123.0 260.6h0M150.2 253.5h0M154.6 256.1h0M126.1 257.0h0M137.6 260.7h0M128.4 257.2h0M142.4 255.3h0M150.7 255.3h0M139.5 253.6h0M154.0 252.4h0M126.4 257.2h0M131.2 259.2h0M128.9 257.0h0M147.4 260.4h0M142.3 258.9h0M140.8 248.3h0M136.3 253.2h0M146.8 252.4h0M153.4 246.5h0M150.7 247.0h0M140.2 254.0h0M153.2 247.0h0M150.3 251.1h0M155.2 247.9h0M146.7 250.8h0M142.1 249.1h0M150.8 250.6h0M152.5 248.4h0M138.9 251.7h0M155.3 248.7h0M143.4 250.9h0M142.5 251.4h0M150.9 247.6h0M138.9 249.5h0M137.0 250.2h0M133.9 254.0h0M144.4 248.5h0M135.3 251.0h0M137.6 254.3h0M156.0 248.6h0" stroke="#f00" stroke-width="2.6" stroke-linecap="round" fill="none"/>
<path d="M33.6 324.4h0M30.4 336.0h0M37.0 341.0h0M36.0 344.4h0M42.0 333.6h0M51.0 332.8h0M49.0 345.0h0M43.6 350.6h0M48.6 357.0h0M36.0 363.4h0M68.4 361.6h0M99.6 354.4h0M49.4 317.4h0M52.0 322.4h0M54.4 324.0h0M53.0 318.0h0M51.6 314.0h0M60.0 318.4h0M61.6 322.6h0M68.6 321.2h0M71.4 318.0h0M77.6 317.0h0M87.4 319.6h0M94.4 312.6h0M106.6 313.6h0M111.0 318.0h0M109.0 309.4h0M105.0 307.0h0M101.6 307.6h0M111.4 305.0h0M92.6 301.6h0M86.4 303.6h0M83.6 305.0h0M82.2 307.9h0M71.1 306.0h0M70.9 304.5h0M61.2 308.5h0M67.0 303.7h0M68.0 305.8h0M68.7 305.7h0M66.3 310.3h0M62.2 305.9h0M70.9 301.7h0M71.7 307.5h0M84.5 306.5h0M63.5 307.7h0M73.0 304.2h0M68.4 312.8h0M72.5 310.4h0M59.5 314.1h0M75.7 308.2h0M74.5 306.6h0M61.8 312.3h0M58.8 311.3h0M66.2 313.3h0M61.5 308.9h0M71.0 302.0h0M60.8 309.8h0M67.3 308.7h0M76.3 305.9h0M61.9 307.2h0M69.8 305.1h0M59.4 315.0h0M65.3 304.1h0M61.0 309.0h0M71.1 304.7h0M66.0 308.2h0M64.7 308.1h0M64.3 305.6h0M82.3 305.7h0M77.9 304.7h0M67.7 302.9h0M62.7 306.1h0M59.8 307.6h0M66.8 303.5h0M59.8 307.6h0M79.2 305.9h0M60.8 306.5h0" stroke="#0000f0" stroke-width="2.6" stroke-linecap="round" fill="none"/>
<text x="188.5" y="194.2" font-size="4.6" text-anchor="middle" fill="#444">Angptl7</text>
<text x="175.5" y="203.2" font-size="4.6" text-anchor="middle" fill="#444">Thbs4</text>
<text x="182.4" y="231" font-size="4.6" text-anchor="middle" fill="#444">Igfbp6</text>
<text x="170.6" y="241.6" font-size="4.6" text-anchor="middle" fill="#444">Ltbp1</text>
<text x="152" y="251" font-size="4.6" text-anchor="middle" fill="#444">Cdkn1c</text>
<text x="143" y="263.5" font-size="4.6" text-anchor="middle" fill="#444">Igfbp5</text>
<text x="54.5" y="312.5" font-size="4.6" text-anchor="middle" fill="#444">Sox9</text>
<text x="47" y="349" font-size="4.6" text-anchor="middle" fill="#444">Postn</text>
<text x="33" y="368" font-size="4.6" text-anchor="middle" fill="#444">Tnn</text>
<text x="217.2" y="165.8" font-size="18" font-weight="bold">d</text>
<text x="368.5" y="168.8" font-size="10.4" text-anchor="middle">Enriched pathways in SSPC-1</text>
<text x="368.5" y="178.6" font-size="9.4" text-anchor="middle">(SSPC-1 v.s. SSPC-2)</text>
<path d="M232 180.6H468" stroke="#888" stroke-width="0.7" stroke-dasharray="2.2 1.6"/>
<rect x="380.6" y="182.00" width="46.8" height="8.85" fill="#8f4973"/>
<text x="0" y="0" font-size="6.45" text-anchor="end" transform="translate(378.6,186.8) scale(1,0.84)">Cell surface receptor protein serine/threonine</text>
<text x="0" y="0" font-size="6.45" text-anchor="end" transform="translate(378.6,191.4) scale(1,0.84)">kinase signaling pathway</text>
<text x="430.4" y="189.3" font-size="6.4" fill="#2b86d6">9.16e−32</text>
<rect x="380.6" y="191.78" width="45.2" height="8.85" fill="#8f4973"/>
<text x="378.6" y="198.98" font-size="6.45" text-anchor="end">TGF-beta receptor superfamily signaling pathway</text>
<text x="428.8" y="199.08" font-size="6.4" fill="#2b86d6">9.16e−32</text>
<rect x="380.6" y="201.56" width="41.0" height="8.85" fill="#8f4973"/>
<text x="378.6" y="208.76" font-size="6.45" text-anchor="end">sensory system development</text>
<text x="424.6" y="208.86" font-size="6.4" fill="#2b86d6">6.02e−20</text>
<rect x="380.6" y="211.34" width="40.4" height="8.85" fill="#8f4973"/>
<text x="378.6" y="218.54" font-size="6.45" text-anchor="end">Regulation of cellular response to growth factor stimulus</text>
<text x="424.0" y="218.64000000000001" font-size="6.4" fill="#2b86d6">3.65e−28</text>
<rect x="380.6" y="221.12" width="36.4" height="8.85" fill="#8f4973"/>
<text x="378.6" y="228.32" font-size="6.45" text-anchor="end">Extracellular matrix organization</text>
<text x="420.0" y="228.42000000000002" font-size="6.4" fill="#2b86d6">2.62e−23</text>
<rect x="380.6" y="230.90" width="35.0" height="8.85" fill="#8f4973"/>
<text x="0" y="0" font-size="6.45" text-anchor="end" transform="translate(378.6,234.9) scale(1,0.84)">Regulation of transmembrane receptor protein</text>
<text x="0" y="0" font-size="6.45" text-anchor="end" transform="translate(378.6,239.4) scale(1,0.84)">serine/threonine kinase signaling pathway</text>
<text x="418.6" y="238.20000000000002" font-size="6.4" fill="#2b86d6">3.3e−25</text>
<rect x="380.6" y="240.68" width="29.8" height="8.85" fill="#8f4973"/>
<text x="378.6" y="247.88" font-size="6.45" text-anchor="end">Response to TGF-beta</text>
<text x="413.4" y="247.98000000000002" font-size="6.4" fill="#2b86d6">3.19e−18</text>
<rect x="380.6" y="250.46" width="29.4" height="8.85" fill="#8f4973"/>
<text x="378.6" y="257.65999999999997" font-size="6.45" text-anchor="end">Cellular response to TGF-beta stimulus</text>
<text x="413.0" y="257.76" font-size="6.4" fill="#2b86d6">6.01e−18</text>
<rect x="380.6" y="260.24" width="25.0" height="8.85" fill="#8f4973"/>
<text x="378.6" y="267.44" font-size="6.45" text-anchor="end">Response to BMP</text>
<text x="408.6" y="267.54" font-size="6.4" fill="#2b86d6">2.56e−19</text>
<rect x="380.6" y="270.02" width="24.4" height="8.85" fill="#8f4973"/>
<text x="378.6" y="277.21999999999997" font-size="6.45" text-anchor="end">BMP signaling pathway</text>
<text x="408.0" y="277.32" font-size="6.4" fill="#2b86d6">1.26e−19</text>
<rect x="352.0" y="279.80" width="28.6" height="8.85" fill="#1184a2"/>
<text x="383" y="287.0" font-size="6.45">Bone morphogenesis</text>
<text x="349.0" y="287.1" font-size="6.4" text-anchor="end" fill="#2b86d6">1.24e−14</text>
<rect x="347.6" y="289.58" width="33.0" height="8.85" fill="#1184a2"/>
<text x="383" y="296.78" font-size="6.45">Collagen fibril organization</text>
<text x="344.6" y="296.88" font-size="6.4" text-anchor="end" fill="#2b86d6">1.14e−23</text>
<rect x="346.0" y="299.36" width="34.6" height="8.85" fill="#1184a2"/>
<text x="383" y="306.56" font-size="6.45">Regulation of ossification</text>
<text x="343.0" y="306.66" font-size="6.4" text-anchor="end" fill="#2b86d6">1.09e−16</text>
<rect x="341.0" y="309.14" width="39.6" height="8.85" fill="#1184a2"/>
<text x="383" y="316.34" font-size="6.45">Bone mineralization</text>
<text x="338.0" y="316.44" font-size="6.4" text-anchor="end" fill="#2b86d6">1.2e−21</text>
<rect x="335.6" y="318.92" width="45.0" height="8.85" fill="#1184a2"/>
<text x="383" y="326.11999999999995" font-size="6.45">Osteoblast differentiation</text>
<text x="332.6" y="326.21999999999997" font-size="6.4" text-anchor="end" fill="#2b86d6">2.96e−19</text>
<rect x="335.4" y="328.70" width="45.2" height="8.85" fill="#1184a2"/>
<text x="383" y="335.9" font-size="6.45">Biomineral tissue development</text>
<text x="332.4" y="336.0" font-size="6.4" text-anchor="end" fill="#2b86d6">2.32e−22</text>
<rect x="334.2" y="338.48" width="46.4" height="8.85" fill="#1184a2"/>
<text x="383" y="345.68" font-size="6.45">Skeletal system morphogenesis</text>
<text x="331.2" y="345.78000000000003" font-size="6.4" text-anchor="end" fill="#2b86d6">7.13e−19</text>
<rect x="334.0" y="348.26" width="46.6" height="8.85" fill="#1184a2"/>
<text x="383" y="355.46" font-size="6.45">Mesenchymal cell differentiation</text>
<text x="331.0" y="355.56" font-size="6.4" text-anchor="end" fill="#2b86d6">3.7e−19</text>
<rect x="332.6" y="358.04" width="48.0" height="8.85" fill="#1184a2"/>
<text x="383" y="365.23999999999995" font-size="6.45">Bone development</text>
<text x="329.6" y="365.34" font-size="6.4" text-anchor="end" fill="#2b86d6">9.64e−21</text>
<rect x="326.0" y="367.82" width="54.6" height="8.85" fill="#1184a2"/>
<text x="383" y="375.02" font-size="6.45">Mesenchyme development</text>
<text x="323.0" y="375.12" font-size="6.4" text-anchor="end" fill="#2b86d6">1.2e−21</text>
<path d="M248.4 377.4H468" stroke="#444" stroke-width="0.8"/>
<path d="M258.6 377.4v1.6" stroke="#444" stroke-width="0.8"/>
<text x="258.6" y="386.1" font-size="6.7" text-anchor="middle">-0.2</text>
<path d="M319.6 377.4v1.6" stroke="#444" stroke-width="0.8"/>
<text x="319.6" y="386.1" font-size="6.7" text-anchor="middle">-0.1</text>
<path d="M380.6 377.4v1.6" stroke="#444" stroke-width="0.8"/>
<text x="380.6" y="386.1" font-size="6.7" text-anchor="middle">0.0</text>
<path d="M441.6 377.4v1.6" stroke="#444" stroke-width="0.8"/>
<text x="441.6" y="386.1" font-size="6.7" text-anchor="middle">0.1</text>
<text x="380.2" y="392.9" font-size="7.7" text-anchor="middle">GeneRatio</text>
<text x="473.3" y="256.3" font-size="8.8" text-anchor="middle">up</text>
<path d="M473 264V296 M469.9 278.5H476" stroke="#000" stroke-width="0.9"/>
<path d="M473 260.8l-2.3 5.2h4.6z M473 298.6l-2.3 -5.2h4.6z" fill="#000"/>
<text x="474.2" y="307" font-size="8.8" text-anchor="middle">down</text>
<text x="492.5" y="165.6" font-size="18" font-weight="bold">e</text>
<text x="595.7" y="173.2" font-size="10.4" text-anchor="middle">Stem cell up</text>
<path d="M551.5 176V261" stroke="#e6e6e6" stroke-width="0.6"/>
<path d="M577.5 176V261" stroke="#e6e6e6" stroke-width="0.6"/>
<path d="M603.5 176V261" stroke="#e6e6e6" stroke-width="0.6"/>
<path d="M629.5 176V261" stroke="#e6e6e6" stroke-width="0.6"/>
<path d="M655.5 176V261" stroke="#e6e6e6" stroke-width="0.6"/>
<path d="M525.5 176V261.3H678.5" stroke="#666" stroke-width="0.8" fill="none"/>
<text x="523.9" y="184.8" font-size="5.4" text-anchor="end" fill="#222">0.4</text>
<path d="M525.5 183h-1" stroke="#666" stroke-width="0.5"/>
<text x="523.9" y="200.8" font-size="5.4" text-anchor="end" fill="#222">0.2</text>
<path d="M525.5 199h-1" stroke="#666" stroke-width="0.5"/>
<text x="523.9" y="216.8" font-size="5.4" text-anchor="end" fill="#222">0.0</text>
<path d="M525.5 215h-1" stroke="#666" stroke-width="0.5"/>
<text x="0" y="0" font-size="7.2" text-anchor="middle" transform="translate(510.8,205) rotate(-90)">Enrichment Score</text>
<path d="M552.1 229.8V240.8" stroke="rgb(77,77,77)" stroke-width="1.05"/>
<path d="M547.8 229.8V240.8" stroke="rgb(0,0,0)" stroke-width="1.05"/>
<path d="M526.0 229.8V240.8" stroke="rgb(56,56,56)" stroke-width="1.05"/>
<path d="M530.8 229.8V240.8" stroke="rgb(54,54,54)" stroke-width="1.05"/>
<path d="M531.9 229.8V240.8" stroke="rgb(7,7,7)" stroke-width="1.05"/>
<path d="M535.2 229.8V240.8" stroke="rgb(8,8,8)" stroke-width="1.05"/>
<path d="M554.0 229.8V240.8" stroke="rgb(33,33,33)" stroke-width="1.05"/>
<path d="M538.2 229.8V240.8" stroke="rgb(2,2,2)" stroke-width="1.05"/>
<path d="M533.4 229.8V240.8" stroke="rgb(67,67,67)" stroke-width="1.05"/>
<path d="M554.2 229.8V240.8" stroke="rgb(93,93,93)" stroke-width="1.05"/>
<path d="M545.7 229.8V240.8" stroke="rgb(5,5,5)" stroke-width="1.05"/>
<path d="M542.8 229.8V240.8" stroke="rgb(41,41,41)" stroke-width="1.05"/>
<path d="M549.6 229.8V240.8" stroke="rgb(71,71,71)" stroke-width="1.05"/>
<path d="M527.4 229.8V240.8" stroke="rgb(60,60,60)" stroke-width="1.05"/>
<path d="M532.6 229.8V240.8" stroke="rgb(58,58,58)" stroke-width="1.05"/>
<path d="M537.8 229.8V240.8" stroke="rgb(49,49,49)" stroke-width="1.05"/>
<path d="M534.7 229.8V240.8" stroke="rgb(7,7,7)" stroke-width="1.05"/>
<path d="M533.8 229.8V240.8" stroke="rgb(104,104,104)" stroke-width="1.05"/>
<path d="M547.4 229.8V240.8" stroke="rgb(42,42,42)" stroke-width="1.05"/>
<path d="M553.4 229.8V240.8" stroke="rgb(94,94,94)" stroke-width="1.05"/>
<path d="M546.1 229.8V240.8" stroke="rgb(77,77,77)" stroke-width="1.05"/>
<path d="M556.0 229.8V240.8" stroke="rgb(4,4,4)" stroke-width="1.05"/>
<path d="M538.3 229.8V240.8" stroke="rgb(71,71,71)" stroke-width="1.05"/>
<path d="M532.6 229.8V240.8" stroke="rgb(12,12,12)" stroke-width="1.05"/>
<path d="M557.6 229.8V240.8" stroke="rgb(91,91,91)" stroke-width="1.05"/>
<path d="M537.8 229.8V240.8" stroke="rgb(91,91,91)" stroke-width="1.05"/>
<path d="M551.7 229.8V240.8" stroke="rgb(108,108,108)" stroke-width="1.05"/>
<path d="M533.6 229.8V240.8" stroke="rgb(86,86,86)" stroke-width="1.05"/>
<path d="M551.0 229.8V240.8" stroke="rgb(37,37,37)" stroke-width="1.05"/>
<path d="M531.3 229.8V240.8" stroke="rgb(57,57,57)" stroke-width="1.05"/>
<path d="M545.5 229.8V240.8" stroke="rgb(83,83,83)" stroke-width="1.05"/>
<path d="M539.0 229.8V240.8" stroke="rgb(56,56,56)" stroke-width="1.05"/>
<path d="M550.2 229.8V240.8" stroke="rgb(16,16,16)" stroke-width="1.05"/>
<path d="M529.6 229.8V240.8" stroke="rgb(5,5,5)" stroke-width="1.05"/>
<path d="M552.0 229.8V240.8" stroke="rgb(18,18,18)" stroke-width="1.05"/>
<path d="M545.3 229.8V240.8" stroke="rgb(100,100,100)" stroke-width="1.05"/>
<path d="M542.6 229.8V240.8" stroke="rgb(30,30,30)" stroke-width="1.05"/>
<path d="M553.9 229.8V240.8" stroke="rgb(110,110,110)" stroke-width="1.05"/>
<path d="M541.5 229.8V240.8" stroke="rgb(98,98,98)" stroke-width="1.05"/>
<path d="M547.3 229.8V240.8" stroke="rgb(104,104,104)" stroke-width="1.05"/>
<path d="M570.7 229.8V240.8" stroke="rgb(22,22,22)" stroke-width="1.05"/>
<path d="M562.1 229.8V240.8" stroke="rgb(119,119,119)" stroke-width="1.05"/>
<path d="M563.5 229.8V240.8" stroke="rgb(130,130,130)" stroke-width="1.05"/>
<path d="M570.0 229.8V240.8" stroke="rgb(131,131,131)" stroke-width="1.05"/>
<path d="M573.9 229.8V240.8" stroke="rgb(74,74,74)" stroke-width="1.05"/>
<path d="M560.5 229.8V240.8" stroke="rgb(112,112,112)" stroke-width="1.05"/>
<path d="M572.8 229.8V240.8" stroke="rgb(141,141,141)" stroke-width="1.05"/>
<path d="M567.3 229.8V240.8" stroke="rgb(92,92,92)" stroke-width="1.05"/>
<path d="M566.3 229.8V240.8" stroke="rgb(82,82,82)" stroke-width="1.05"/>
<path d="M592.4 229.8V240.8" stroke="rgb(19,19,19)" stroke-width="1.05"/>
<path d="M585.8 229.8V240.8" stroke="rgb(98,98,98)" stroke-width="1.05"/>
<path d="M590.5 229.8V240.8" stroke="rgb(118,118,118)" stroke-width="1.05"/>
<path d="M583.5 229.8V240.8" stroke="rgb(129,129,129)" stroke-width="1.05"/>
<path d="M587.8 229.8V240.8" stroke="rgb(126,126,126)" stroke-width="1.05"/>
<path d="M583.9 229.8V240.8" stroke="rgb(138,138,138)" stroke-width="1.05"/>
<path d="M591.9 229.8V240.8" stroke="rgb(118,118,118)" stroke-width="1.05"/>
<path d="M584.3 229.8V240.8" stroke="rgb(135,135,135)" stroke-width="1.05"/>
<path d="M605.4 229.8V240.8" stroke="rgb(101,101,101)" stroke-width="1.05"/>
<path d="M603.4 229.8V240.8" stroke="rgb(76,76,76)" stroke-width="1.05"/>
<path d="M601.3 229.8V240.8" stroke="rgb(168,168,168)" stroke-width="1.05"/>
<path d="M615.6 229.8V240.8" stroke="rgb(87,87,87)" stroke-width="1.05"/>
<path d="M620.6 229.8V240.8" stroke="rgb(103,103,103)" stroke-width="1.05"/>
<path d="M624.6 229.8V240.8" stroke="rgb(131,131,131)" stroke-width="1.05"/>
<path d="M626.1 229.8V240.8" stroke="rgb(150,150,150)" stroke-width="1.05"/>
<path d="M629.0 229.8V240.8" stroke="rgb(114,114,114)" stroke-width="1.05"/>
<path d="M630.1 229.8V240.8" stroke="rgb(155,155,155)" stroke-width="1.05"/>
<path d="M621.4 229.8V240.8" stroke="rgb(49,49,49)" stroke-width="1.05"/>
<path d="M621.2 229.8V240.8" stroke="rgb(26,26,26)" stroke-width="1.05"/>
<path d="M639.3 229.8V240.8" stroke="rgb(41,41,41)" stroke-width="1.05"/>
<path d="M637.6 229.8V240.8" stroke="rgb(31,31,31)" stroke-width="1.05"/>
<path d="M639.6 229.8V240.8" stroke="rgb(90,90,90)" stroke-width="1.05"/>
<path d="M651.0 229.8V240.8" stroke="rgb(108,108,108)" stroke-width="1.05"/>
<path d="M649.9 229.8V240.8" stroke="rgb(53,53,53)" stroke-width="1.05"/>
<path d="M639.8 229.8V240.8" stroke="rgb(76,76,76)" stroke-width="1.05"/>
<path d="M636.4 229.8V240.8" stroke="rgb(0,0,0)" stroke-width="1.05"/>
<path d="M650.1 229.8V240.8" stroke="rgb(85,85,85)" stroke-width="1.05"/>
<path d="M648.0 229.8V240.8" stroke="rgb(100,100,100)" stroke-width="1.05"/>
<path d="M637.8 229.8V240.8" stroke="rgb(67,67,67)" stroke-width="1.05"/>
<path d="M651.8 229.8V240.8" stroke="rgb(47,47,47)" stroke-width="1.05"/>
<path d="M638.4 229.8V240.8" stroke="rgb(57,57,57)" stroke-width="1.05"/>
<path d="M676.3 229.8V240.8" stroke="rgb(25,25,25)" stroke-width="1.05"/>
<path d="M655.3 229.8V240.8" stroke="rgb(71,71,71)" stroke-width="1.05"/>
<path d="M672.3 229.8V240.8" stroke="rgb(76,76,76)" stroke-width="1.05"/>
<path d="M663.3 229.8V240.8" stroke="rgb(69,69,69)" stroke-width="1.05"/>
<path d="M665.9 229.8V240.8" stroke="rgb(98,98,98)" stroke-width="1.05"/>
<path d="M656.4 229.8V240.8" stroke="rgb(82,82,82)" stroke-width="1.05"/>
<path d="M664.9 229.8V240.8" stroke="rgb(40,40,40)" stroke-width="1.05"/>
<path d="M669.6 229.8V240.8" stroke="rgb(8,8,8)" stroke-width="1.05"/>
<path d="M662.1 229.8V240.8" stroke="rgb(26,26,26)" stroke-width="1.05"/>
<path d="M659.5 229.8V240.8" stroke="rgb(13,13,13)" stroke-width="1.05"/>
<path d="M671.5 229.8V240.8" stroke="rgb(46,46,46)" stroke-width="1.05"/>
<path d="M671.8 229.8V240.8" stroke="rgb(0,0,0)" stroke-width="1.05"/>
<path d="M658.3 229.8V240.8" stroke="rgb(64,64,64)" stroke-width="1.05"/>
<path d="M665.7 229.8V240.8" stroke="rgb(83,83,83)" stroke-width="1.05"/>
<path d="M674.6 229.8V240.8" stroke="rgb(89,89,89)" stroke-width="1.05"/>
<path d="M670.5 229.8V240.8" stroke="rgb(0,0,0)" stroke-width="1.05"/>
<path d="M661.0 229.8V240.8" stroke="rgb(10,10,10)" stroke-width="1.05"/>
<path d="M670.1 229.8V240.8" stroke="rgb(79,79,79)" stroke-width="1.05"/>
<path d="M664.2 229.8V240.8" stroke="rgb(27,27,27)" stroke-width="1.05"/>
<path d="M672.4 229.8V240.8" stroke="rgb(81,81,81)" stroke-width="1.05"/>
<path d="M665.2 229.8V240.8" stroke="rgb(42,42,42)" stroke-width="1.05"/>
<path d="M671.3 229.8V240.8" stroke="rgb(55,55,55)" stroke-width="1.05"/>
<path d="M670.5 229.8V240.8" stroke="rgb(22,22,22)" stroke-width="1.05"/>
<path d="M669.7 229.8V240.8" stroke="rgb(36,36,36)" stroke-width="1.05"/>
<path d="M668.9 229.8V240.8" stroke="rgb(79,79,79)" stroke-width="1.05"/>
<path d="M675.1 229.8V240.8" stroke="rgb(7,7,7)" stroke-width="1.05"/>
<path d="M666.4 229.8V240.8" stroke="rgb(19,19,19)" stroke-width="1.05"/>
<path d="M658.4 229.8V240.8" stroke="rgb(32,32,32)" stroke-width="1.05"/>
<rect x="525.5" y="240.8" width="4.1" height="5.2" fill="#d42a20"/>
<rect x="529.6" y="240.8" width="8.4" height="5.2" fill="#e04030"/>
<rect x="538" y="240.8" width="11.0" height="5.2" fill="#ea644c"/>
<rect x="549" y="240.8" width="39.7" height="5.2" fill="#f4a08c"/>
<rect x="588.7" y="240.8" width="43.3" height="5.2" fill="#fbdcd2"/>
<rect x="632" y="240.8" width="19.0" height="5.2" fill="#e6edf7"/>
<rect x="651" y="240.8" width="12.0" height="5.2" fill="#a6c6e2"/>
<rect x="663" y="240.8" width="9.0" height="5.2" fill="#5c9bd0"/>
<rect x="672" y="240.8" width="6.5" height="5.2" fill="#3c82c2"/>
<rect x="525.5" y="246.0" width="153.0" height="15.3" fill="none" stroke="#aaa" stroke-width="0.5"/>
<path d="M525.5 246.5 Q 529.5 253.3 545.5 253.8 L674.5 253.8 Q 677.5 254.8 678.5 258.8 L678.5 253.8 L525.5 253.8Z" fill="#c8c8c8"/>
<path d="M525.5 253.8H678.5" stroke="#999" stroke-width="0.6"/>
<text x="524.0" y="248.6" font-size="3.4" text-anchor="end" fill="#333">5.0</text>
<text x="524.0" y="252.2" font-size="3.4" text-anchor="end" fill="#333">2.5</text>
<text x="524.0" y="255.79999999999998" font-size="3.4" text-anchor="end" fill="#333">0.0</text>
<text x="524.0" y="259.4" font-size="3.4" text-anchor="end" fill="#333">-2.5</text>
<text x="529.2" y="258.2" font-size="8.9" fill="#cc2229">SSPC-1</text>
<text x="675.5" y="258.2" font-size="8.9" text-anchor="end" fill="#cc2229">SSPC-2</text>
<text x="577.5" y="267.0" font-size="5.0" text-anchor="middle" fill="#222">500</text>
<text x="629.5" y="267.0" font-size="5.0" text-anchor="middle" fill="#222">1000</text>
<text x="605" y="273.8" font-size="7.8" text-anchor="middle">Rank in Ordered Dataset</text>
<path d="M525.6 215.1 L526.3 207.3 L527.0 203.1 L528.0 200.1 L529.0 197.7 L530.0 195.4 L531.0 194.1 L532.0 190.7 L533.0 186.8 L534.0 186.3 L535.0 186.1 L536.0 185.0 L537.0 184.4 L538.0 183.7 L539.0 183.2 L540.0 182.9 L541.0 182.3 L542.0 181.0 L543.0 179.5 L544.0 178.6 L545.0 178.5 L546.0 178.6 L547.0 179.2 L548.0 178.8 L549.0 179.7 L550.0 179.7 L551.0 179.9 L552.0 180.2 L553.0 180.5 L554.0 180.9 L555.0 180.7 L556.0 179.9 L557.0 180.3 L558.0 180.1 L559.0 180.6 L560.0 181.0 L561.0 181.4 L562.0 181.8 L563.0 182.7 L564.0 182.8 L565.0 183.2 L566.0 183.4 L567.0 184.3 L568.0 184.2 L569.0 184.6 L570.0 185.1 L571.0 185.1 L572.0 186.0 L573.0 186.2 L574.0 186.4 L575.0 186.4 L576.0 187.2 L577.0 187.3 L578.0 187.8 L579.0 188.2 L580.0 189.0 L581.0 189.0 L582.0 189.7 L583.0 189.6 L584.0 190.5 L585.0 191.0 L586.0 191.5 L587.0 191.7 L588.0 191.7 L589.0 192.3 L590.0 193.1 L591.0 193.7 L592.0 193.5 L593.0 194.5 L594.0 194.7 L595.0 194.8 L596.0 195.3 L597.0 196.3 L598.0 196.5 L599.0 196.6 L600.0 197.7 L601.0 198.0 L602.0 198.5 L603.0 199.3 L604.0 199.6 L605.0 200.3 L606.0 200.7 L607.0 201.5 L608.0 201.7 L609.0 202.9 L610.0 203.3 L611.0 203.5 L612.0 204.4 L613.0 204.7 L614.0 205.3 L615.0 205.4 L616.0 206.3 L617.0 206.9 L618.0 207.3 L619.0 207.9 L620.0 207.9 L621.0 208.3 L622.0 208.9 L623.0 209.6 L624.0 209.9 L625.0 210.7 L626.0 211.0 L627.0 211.5 L628.0 211.7 L629.0 212.6 L630.0 213.3 L631.0 213.4 L632.0 214.2 L633.0 214.6 L634.0 214.7 L635.0 215.7 L636.0 215.7 L637.0 216.6 L638.0 216.7 L639.0 217.4 L640.0 217.9 L641.0 218.2 L642.0 219.2 L643.0 219.5 L644.0 220.0 L645.0 220.2 L646.0 220.7 L647.0 221.5 L648.0 222.0 L649.0 222.0 L650.0 222.7 L651.0 222.7 L652.0 222.9 L653.0 223.9 L654.0 223.8 L655.0 224.4 L656.0 224.4 L657.0 224.8 L658.0 224.8 L659.0 225.0 L660.0 224.9 L661.0 225.4 L662.0 225.1 L663.0 225.2 L664.0 225.2 L665.0 225.5 L666.0 225.7 L667.0 226.0 L668.0 226.2 L669.0 225.7 L670.0 225.6 L671.0 224.9 L672.0 223.8 L673.0 223.0 L674.0 221.1 L675.0 219.0 L676.0 217.3 L677.0 215.8 L678.0 214.0" stroke="#22ee22" stroke-width="1.1" fill="none" stroke-linejoin="round"/>
<text x="636.2" y="193.9" font-size="9.2" text-anchor="middle">P-value=2.07e-07</text>
<text x="603.8" y="290.0" font-size="10.4" text-anchor="middle">Osteoblast differentiation</text>
<path d="M551.5 292V377" stroke="#e6e6e6" stroke-width="0.6"/>
<path d="M577.5 292V377" stroke="#e6e6e6" stroke-width="0.6"/>
<path d="M603.5 292V377" stroke="#e6e6e6" stroke-width="0.6"/>
<path d="M629.5 292V377" stroke="#e6e6e6" stroke-width="0.6"/>
<path d="M655.5 292V377" stroke="#e6e6e6" stroke-width="0.6"/>
<path d="M525.5 292V377.3H678.5" stroke="#666" stroke-width="0.8" fill="none"/>
<text x="523.9" y="295.8" font-size="5.4" text-anchor="end" fill="#222">0.1</text>
<path d="M525.5 294h-1" stroke="#666" stroke-width="0.5"/>
<text x="523.9" y="304.40000000000003" font-size="5.4" text-anchor="end" fill="#222">0.0</text>
<path d="M525.5 302.6h-1" stroke="#666" stroke-width="0.5"/>
<text x="523.9" y="313.40000000000003" font-size="5.4" text-anchor="end" fill="#222">-0.1</text>
<path d="M525.5 311.6h-1" stroke="#666" stroke-width="0.5"/>
<text x="523.9" y="322.2" font-size="5.4" text-anchor="end" fill="#222">-0.2</text>
<path d="M525.5 320.4h-1" stroke="#666" stroke-width="0.5"/>
<text x="523.9" y="331.2" font-size="5.4" text-anchor="end" fill="#222">-0.3</text>
<path d="M525.5 329.4h-1" stroke="#666" stroke-width="0.5"/>
<text x="523.9" y="340.8" font-size="5.4" text-anchor="end" fill="#222">-0.4</text>
<path d="M525.5 339h-1" stroke="#666" stroke-width="0.5"/>
<text x="0" y="0" font-size="7.2" text-anchor="middle" transform="translate(510.8,317) rotate(-90)">Enrichment Score</text>
<path d="M527.4 345.8V356.8" stroke="rgb(118,118,118)" stroke-width="1.05"/>
<path d="M530.2 345.8V356.8" stroke="rgb(36,36,36)" stroke-width="1.05"/>
<path d="M529.5 345.8V356.8" stroke="rgb(140,140,140)" stroke-width="1.05"/>
<path d="M534.6 345.8V356.8" stroke="rgb(39,39,39)" stroke-width="1.05"/>
<path d="M535.6 345.8V356.8" stroke="rgb(106,106,106)" stroke-width="1.05"/>
<path d="M534.3 345.8V356.8" stroke="rgb(82,82,82)" stroke-width="1.05"/>
<path d="M535.2 345.8V356.8" stroke="rgb(52,52,52)" stroke-width="1.05"/>
<path d="M545.3 345.8V356.8" stroke="rgb(139,139,139)" stroke-width="1.05"/>
<path d="M545.9 345.8V356.8" stroke="rgb(61,61,61)" stroke-width="1.05"/>
<path d="M581.0 345.8V356.8" stroke="rgb(52,52,52)" stroke-width="1.05"/>
<path d="M580.5 345.8V356.8" stroke="rgb(124,124,124)" stroke-width="1.05"/>
<path d="M575.2 345.8V356.8" stroke="rgb(45,45,45)" stroke-width="1.05"/>
<path d="M579.0 345.8V356.8" stroke="rgb(121,121,121)" stroke-width="1.05"/>
<path d="M589.1 345.8V356.8" stroke="rgb(68,68,68)" stroke-width="1.05"/>
<path d="M563.6 345.8V356.8" stroke="rgb(10,10,10)" stroke-width="1.05"/>
<path d="M569.9 345.8V356.8" stroke="rgb(5,5,5)" stroke-width="1.05"/>
<path d="M565.5 345.8V356.8" stroke="rgb(102,102,102)" stroke-width="1.05"/>
<path d="M570.6 345.8V356.8" stroke="rgb(59,59,59)" stroke-width="1.05"/>
<path d="M572.5 345.8V356.8" stroke="rgb(74,74,74)" stroke-width="1.05"/>
<path d="M565.9 345.8V356.8" stroke="rgb(17,17,17)" stroke-width="1.05"/>
<path d="M580.0 345.8V356.8" stroke="rgb(39,39,39)" stroke-width="1.05"/>
<path d="M579.0 345.8V356.8" stroke="rgb(9,9,9)" stroke-width="1.05"/>
<path d="M581.6 345.8V356.8" stroke="rgb(76,76,76)" stroke-width="1.05"/>
<path d="M584.8 345.8V356.8" stroke="rgb(23,23,23)" stroke-width="1.05"/>
<path d="M564.8 345.8V356.8" stroke="rgb(68,68,68)" stroke-width="1.05"/>
<path d="M578.0 345.8V356.8" stroke="rgb(77,77,77)" stroke-width="1.05"/>
<path d="M581.5 345.8V356.8" stroke="rgb(51,51,51)" stroke-width="1.05"/>
<path d="M573.5 345.8V356.8" stroke="rgb(103,103,103)" stroke-width="1.05"/>
<path d="M578.5 345.8V356.8" stroke="rgb(20,20,20)" stroke-width="1.05"/>
<path d="M567.8 345.8V356.8" stroke="rgb(51,51,51)" stroke-width="1.05"/>
<path d="M562.0 345.8V356.8" stroke="rgb(39,39,39)" stroke-width="1.05"/>
<path d="M577.8 345.8V356.8" stroke="rgb(39,39,39)" stroke-width="1.05"/>
<path d="M565.8 345.8V356.8" stroke="rgb(98,98,98)" stroke-width="1.05"/>
<path d="M585.4 345.8V356.8" stroke="rgb(34,34,34)" stroke-width="1.05"/>
<path d="M588.7 345.8V356.8" stroke="rgb(72,72,72)" stroke-width="1.05"/>
<path d="M602.1 345.8V356.8" stroke="rgb(50,50,50)" stroke-width="1.05"/>
<path d="M598.2 345.8V356.8" stroke="rgb(57,57,57)" stroke-width="1.05"/>
<path d="M603.3 345.8V356.8" stroke="rgb(22,22,22)" stroke-width="1.05"/>
<path d="M604.9 345.8V356.8" stroke="rgb(78,78,78)" stroke-width="1.05"/>
<path d="M632.1 345.8V356.8" stroke="rgb(65,65,65)" stroke-width="1.05"/>
<path d="M621.4 345.8V356.8" stroke="rgb(149,149,149)" stroke-width="1.05"/>
<path d="M617.9 345.8V356.8" stroke="rgb(106,106,106)" stroke-width="1.05"/>
<path d="M619.5 345.8V356.8" stroke="rgb(51,51,51)" stroke-width="1.05"/>
<path d="M615.6 345.8V356.8" stroke="rgb(94,94,94)" stroke-width="1.05"/>
<path d="M631.0 345.8V356.8" stroke="rgb(98,98,98)" stroke-width="1.05"/>
<path d="M634.6 345.8V356.8" stroke="rgb(11,11,11)" stroke-width="1.05"/>
<path d="M621.8 345.8V356.8" stroke="rgb(138,138,138)" stroke-width="1.05"/>
<path d="M625.1 345.8V356.8" stroke="rgb(60,60,60)" stroke-width="1.05"/>
<path d="M614.0 345.8V356.8" stroke="rgb(47,47,47)" stroke-width="1.05"/>
<path d="M656.5 345.8V356.8" stroke="rgb(116,116,116)" stroke-width="1.05"/>
<path d="M653.4 345.8V356.8" stroke="rgb(30,30,30)" stroke-width="1.05"/>
<path d="M655.5 345.8V356.8" stroke="rgb(9,9,9)" stroke-width="1.05"/>
<path d="M654.9 345.8V356.8" stroke="rgb(9,9,9)" stroke-width="1.05"/>
<path d="M642.9 345.8V356.8" stroke="rgb(104,104,104)" stroke-width="1.05"/>
<path d="M656.4 345.8V356.8" stroke="rgb(34,34,34)" stroke-width="1.05"/>
<path d="M657.7 345.8V356.8" stroke="rgb(62,62,62)" stroke-width="1.05"/>
<path d="M650.5 345.8V356.8" stroke="rgb(2,2,2)" stroke-width="1.05"/>
<path d="M645.7 345.8V356.8" stroke="rgb(46,46,46)" stroke-width="1.05"/>
<path d="M643.6 345.8V356.8" stroke="rgb(116,116,116)" stroke-width="1.05"/>
<path d="M649.0 345.8V356.8" stroke="rgb(70,70,70)" stroke-width="1.05"/>
<path d="M645.9 345.8V356.8" stroke="rgb(16,16,16)" stroke-width="1.05"/>
<path d="M653.0 345.8V356.8" stroke="rgb(61,61,61)" stroke-width="1.05"/>
<path d="M651.9 345.8V356.8" stroke="rgb(57,57,57)" stroke-width="1.05"/>
<path d="M652.9 345.8V356.8" stroke="rgb(102,102,102)" stroke-width="1.05"/>
<path d="M645.7 345.8V356.8" stroke="rgb(104,104,104)" stroke-width="1.05"/>
<path d="M669.2 345.8V356.8" stroke="rgb(16,16,16)" stroke-width="1.05"/>
<path d="M665.1 345.8V356.8" stroke="rgb(45,45,45)" stroke-width="1.05"/>
<path d="M661.9 345.8V356.8" stroke="rgb(51,51,51)" stroke-width="1.05"/>
<path d="M677.5 345.8V356.8" stroke="rgb(20,20,20)" stroke-width="1.05"/>
<path d="M671.7 345.8V356.8" stroke="rgb(82,82,82)" stroke-width="1.05"/>
<path d="M674.8 345.8V356.8" stroke="rgb(74,74,74)" stroke-width="1.05"/>
<path d="M674.3 345.8V356.8" stroke="rgb(69,69,69)" stroke-width="1.05"/>
<path d="M676.0 345.8V356.8" stroke="rgb(43,43,43)" stroke-width="1.05"/>
<path d="M671.1 345.8V356.8" stroke="rgb(32,32,32)" stroke-width="1.05"/>
<path d="M675.2 345.8V356.8" stroke="rgb(15,15,15)" stroke-width="1.05"/>
<path d="M673.5 345.8V356.8" stroke="rgb(88,88,88)" stroke-width="1.05"/>
<path d="M664.9 345.8V356.8" stroke="rgb(64,64,64)" stroke-width="1.05"/>
<path d="M674.8 345.8V356.8" stroke="rgb(38,38,38)" stroke-width="1.05"/>
<path d="M664.5 345.8V356.8" stroke="rgb(70,70,70)" stroke-width="1.05"/>
<path d="M662.1 345.8V356.8" stroke="rgb(84,84,84)" stroke-width="1.05"/>
<path d="M673.0 345.8V356.8" stroke="rgb(90,90,90)" stroke-width="1.05"/>
<path d="M665.6 345.8V356.8" stroke="rgb(35,35,35)" stroke-width="1.05"/>
<path d="M675.7 345.8V356.8" stroke="rgb(90,90,90)" stroke-width="1.05"/>
<path d="M663.4 345.8V356.8" stroke="rgb(89,89,89)" stroke-width="1.05"/>
<path d="M673.1 345.8V356.8" stroke="rgb(30,30,30)" stroke-width="1.05"/>
<path d="M670.3 345.8V356.8" stroke="rgb(63,63,63)" stroke-width="1.05"/>
<path d="M672.8 345.8V356.8" stroke="rgb(29,29,29)" stroke-width="1.05"/>
<rect x="525.5" y="356.8" width="5.5" height="5.2" fill="#d42a20"/>
<rect x="531" y="356.8" width="7.0" height="5.2" fill="#e85840"/>
<rect x="538" y="356.8" width="19.0" height="5.2" fill="#f4a08c"/>
<rect x="557" y="356.8" width="31.0" height="5.2" fill="#fbdcd2"/>
<rect x="588" y="356.8" width="19.0" height="5.2" fill="#e8eef8"/>
<rect x="607" y="356.8" width="21.0" height="5.2" fill="#c4d8ee"/>
<rect x="628" y="356.8" width="30.0" height="5.2" fill="#86b4dc"/>
<rect x="658" y="356.8" width="12.0" height="5.2" fill="#4a8cc8"/>
<rect x="670" y="356.8" width="8.5" height="5.2" fill="#2e72b4"/>
<rect x="525.5" y="362.0" width="153.0" height="15.3" fill="none" stroke="#aaa" stroke-width="0.5"/>
<path d="M525.5 362.5 Q 529.5 369.3 545.5 369.8 L674.5 369.8 Q 677.5 370.8 678.5 374.8 L678.5 369.8 L525.5 369.8Z" fill="#c8c8c8"/>
<path d="M525.5 369.8H678.5" stroke="#999" stroke-width="0.6"/>
<text x="524.0" y="364.6" font-size="3.4" text-anchor="end" fill="#333">5.0</text>
<text x="524.0" y="368.20000000000005" font-size="3.4" text-anchor="end" fill="#333">2.5</text>
<text x="524.0" y="371.8" font-size="3.4" text-anchor="end" fill="#333">0.0</text>
<text x="524.0" y="375.40000000000003" font-size="3.4" text-anchor="end" fill="#333">-2.5</text>
<text x="529.2" y="374.2" font-size="8.9" fill="#cc2229">SSPC-1</text>
<text x="675.5" y="374.2" font-size="8.9" text-anchor="end" fill="#cc2229">SSPC-2</text>
<text x="577.5" y="383.0" font-size="5.0" text-anchor="middle" fill="#222">500</text>
<text x="629.5" y="383.0" font-size="5.0" text-anchor="middle" fill="#222">1000</text>
<text x="605" y="389.8" font-size="7.8" text-anchor="middle">Rank in Ordered Dataset</text>
<path d="M525.6 302.4 L526.8 301.8 L528.0 300.9 L529.0 300.8 L530.0 300.3 L531.0 300.3 L532.0 298.8 L533.0 297.8 L534.0 296.8 L535.0 296.5 L536.0 296.7 L537.0 297.1 L538.0 296.9 L539.0 297.0 L540.0 296.7 L541.0 296.8 L542.0 296.3 L543.0 296.5 L544.0 296.2 L545.0 295.6 L546.0 295.7 L547.0 296.0 L548.0 295.7 L549.0 296.8 L550.0 297.9 L551.0 298.7 L552.0 299.2 L553.0 299.4 L554.0 300.0 L555.0 300.3 L556.0 300.9 L557.0 301.3 L558.0 301.9 L559.0 302.9 L560.0 303.4 L561.0 303.7 L562.0 304.2 L563.0 305.0 L564.0 304.9 L565.0 305.7 L566.0 305.9 L567.0 306.2 L568.0 306.1 L569.0 306.4 L570.0 306.7 L571.0 306.8 L572.0 306.9 L573.0 307.2 L574.0 307.0 L575.0 307.8 L576.0 307.6 L577.0 307.8 L578.0 308.3 L579.0 308.0 L580.0 308.5 L581.0 309.2 L582.0 309.5 L583.0 310.1 L584.0 310.2 L585.0 310.5 L586.0 311.2 L587.0 311.2 L588.0 311.4 L589.0 312.0 L590.0 312.5 L591.0 312.9 L592.0 313.3 L593.0 313.7 L594.0 314.5 L595.0 314.5 L596.0 315.2 L597.0 315.9 L598.0 315.8 L599.0 316.3 L600.0 316.9 L601.0 317.6 L602.0 317.7 L603.0 318.5 L604.0 318.8 L605.0 319.6 L606.0 320.1 L607.0 320.8 L608.0 321.0 L609.0 321.2 L610.0 322.2 L611.0 322.4 L612.0 322.8 L613.0 323.8 L614.0 324.2 L615.0 324.4 L616.0 324.9 L617.0 325.5 L618.0 326.3 L619.0 326.7 L620.0 327.3 L621.0 327.5 L622.0 327.9 L623.0 328.5 L624.0 328.7 L625.0 329.6 L626.0 330.2 L627.0 330.6 L628.0 331.0 L629.0 331.2 L630.0 332.2 L631.0 332.8 L632.0 332.7 L633.0 333.2 L634.0 334.1 L635.0 334.7 L636.0 335.2 L637.0 335.8 L638.0 335.8 L639.0 336.6 L640.0 336.7 L641.0 337.2 L642.0 338.2 L643.0 338.3 L644.0 338.6 L645.0 338.9 L646.0 339.4 L647.0 340.1 L648.0 339.9 L649.0 340.3 L650.0 340.6 L651.0 341.0 L652.0 341.3 L653.0 341.6 L654.0 341.9 L655.0 342.4 L656.0 342.6 L657.0 342.4 L658.0 342.8 L659.0 342.8 L660.0 342.7 L661.0 342.6 L662.0 342.4 L663.0 342.6 L664.0 342.3 L665.0 342.0 L666.0 341.8 L667.0 341.7 L668.0 341.5 L669.0 342.0 L670.0 341.5 L671.0 340.5 L672.0 339.2 L673.0 338.3 L674.0 335.1 L675.0 331.7 L676.5 325.1 L677.5 314.7 L678.0 302.0" stroke="#22ee22" stroke-width="1.1" fill="none" stroke-linejoin="round"/>
<text x="636.2" y="306.3" font-size="9.2" text-anchor="middle">P-value=1.22e-06</text>
<text x="2.6" y="412.8" font-size="18" font-weight="bold">f</text>
<text x="51" y="417.6" font-size="12.8"><tspan font-style="italic">Angptl7-mScarlet</tspan> Knock-in strategy</text>
<text x="23" y="437.3" font-size="8.9"><tspan font-style="italic">Angptl7</tspan> gene locus</text>
<text x="22.5" y="467.4" font-size="9.0">Targeting vector</text>
<text x="34" y="488.4" font-size="9.0">5’ homology arm</text>
<text x="201" y="488.4" font-size="9.0">3’ homology arm</text>
<text x="21.6" y="511.8" font-size="8.9" font-style="italic">Angptl7-mScarlet</text>
<path d="M49 442H233.5 M241 442H293" stroke="#000" stroke-width="1.4"/>
<path d="M233.2 447.5L237.2 436.5 M237.2 447.5L241.2 436.5" stroke="#000" stroke-width="1.1"/>
<path d="M233.2 523.5L237.2 512.5 M237.2 523.5L241.2 512.5" stroke="#000" stroke-width="1.1"/>
<rect x="127.6" y="435.2" width="21" height="13.2" fill="#a6a6a6" stroke="#000" stroke-width="1.1"/>
<rect x="148.6" y="435.2" width="20.8" height="13.2" fill="#fff" stroke="#000" stroke-width="1.1"/>
<text x="148" y="434.3" font-size="8.6" text-anchor="middle">exon1</text>
<rect x="252.2" y="435.2" width="12.4" height="13.2" fill="#fff" stroke="#000" stroke-width="1.1"/>
<rect x="264.6" y="435.2" width="12.2" height="13.2" fill="#a6a6a6" stroke="#000" stroke-width="1.1"/>
<text x="265.6" y="434.3" font-size="8.6" text-anchor="middle">exon5</text>
<path d="M68.5 477H236" stroke="#b3b3b3" stroke-width="2.8"/>
<rect x="121.6" y="469.4" width="38.8" height="13" fill="#ef4123"/>
<rect x="160.4" y="469.4" width="27.2" height="13" fill="#a6a6a6" stroke="#777" stroke-width="0.5"/>
<text x="141" y="479.4" font-size="9.0" text-anchor="middle" fill="#fff">mScarlet</text>
<text x="174" y="479.4" font-size="8.8" text-anchor="middle">PolyA</text>
<path d="M81 442L121.6 476 M68.5 474.5L148.6 448.4 M148.6 448.4L236 474.5 M203 442L188 476" stroke="#666" stroke-width="0.75" stroke-dasharray="2.6 1.6" fill="none"/>
<path d="M147.4 485V497" stroke="#000" stroke-width="1.4"/>
<path d="M147.4 502l-3 -6h6z" fill="#000"/>
<path d="M49 518H74" stroke="#000" stroke-width="1.4"/>
<path d="M74 518H101 M209.6 518H229" stroke="#b3b3b3" stroke-width="2.8"/>
<path d="M229 518H233.5 M241 518H293" stroke="#000" stroke-width="1.4"/>
<rect x="101.2" y="511.4" width="21.2" height="13.6" fill="#a6a6a6" stroke="#000" stroke-width="1.1"/>
<rect x="122.4" y="511.4" width="38" height="13.6" fill="#ef4123" stroke="#000" stroke-width="1.1"/>
<rect x="160.4" y="511.4" width="28.2" height="13.6" fill="#a6a6a6" stroke="#000" stroke-width="1.1"/>
<rect x="188.6" y="511.4" width="21" height="13.6" fill="#fff" stroke="#000" stroke-width="1.1"/>
<text x="141.4" y="521.6" font-size="9.0" text-anchor="middle" fill="#fff">mScarlet</text>
<text x="174.5" y="521.8" font-size="8.8" text-anchor="middle">PolyA</text>
<text x="150" y="510.3" font-size="8.6" text-anchor="middle">exon1</text>
<rect x="252.2" y="511.4" width="12.4" height="13.6" fill="#fff" stroke="#000" stroke-width="1.1"/>
<rect x="264.6" y="511.4" width="12.2" height="13.6" fill="#a6a6a6" stroke="#000" stroke-width="1.1"/>
<text x="265.6" y="510.3" font-size="8.6" text-anchor="middle">exon5</text>
<text x="334.7" y="413" font-size="18" font-weight="bold">i</text>
<text x="414" y="414.6" font-size="11.5" text-anchor="middle">Singlets</text>
<defs><filter id="bl1" x="-20%" y="-20%" width="140%" height="140%"><feGaussianBlur stdDeviation="0.7"/></filter><filter id="bl2" x="-50%" y="-50%" width="200%" height="200%"><feGaussianBlur stdDeviation="1.6"/></filter><filter id="bl3" x="-50%" y="-50%" width="200%" height="200%"><feGaussianBlur stdDeviation="2.4"/></filter></defs>
<rect x="361.4" y="418.4" width="103.4" height="103" fill="#fff" stroke="#8c8c8c" stroke-width="0.8"/>
<path d="M361.4 422h-2.5" stroke="#222" stroke-width="0.6"/>
<path d="M361.4 438h-2.5" stroke="#222" stroke-width="0.6"/>
<path d="M361.4 455h-2.5" stroke="#222" stroke-width="0.6"/>
<path d="M361.4 474h-2.5" stroke="#222" stroke-width="0.6"/>
<path d="M361.4 481h-1.5" stroke="#222" stroke-width="0.6"/>
<path d="M361.4 494h-1.2" stroke="#222" stroke-width="0.6"/>
<path d="M361.4 496h-2.5" stroke="#222" stroke-width="0.6"/>
<path d="M361.4 498.6h-2.5" stroke="#222" stroke-width="0.6"/>
<path d="M361.4 500h-1.5" stroke="#222" stroke-width="0.6"/>
<path d="M361.4 514.4h-2.5" stroke="#222" stroke-width="0.6"/>
<path d="M365.4 521.4v1.2" stroke="#222" stroke-width="0.6"/>
<path d="M369.4 521.4v1.2" stroke="#222" stroke-width="0.6"/>
<path d="M371.4 521.4v1.5" stroke="#222" stroke-width="0.6"/>
<path d="M373.4 521.4v1.5" stroke="#222" stroke-width="0.6"/>
<path d="M375.4 521.4v2.5" stroke="#222" stroke-width="0.6"/>
<path d="M377.4 521.4v1.2" stroke="#222" stroke-width="0.6"/>
<path d="M379.4 521.4v1.2" stroke="#222" stroke-width="0.6"/>
<path d="M385.4 521.4v1.2" stroke="#222" stroke-width="0.6"/>
<path d="M391.4 521.4v2.5" stroke="#222" stroke-width="0.6"/>
<path d="M401.4 521.4v1.2" stroke="#222" stroke-width="0.6"/>
<path d="M411.4 521.4v1.2" stroke="#222" stroke-width="0.6"/>
<path d="M417.4 521.4v2.5" stroke="#222" stroke-width="0.6"/>
<path d="M423.4 521.4v1.2" stroke="#222" stroke-width="0.6"/>
<path d="M429.4 521.4v1.2" stroke="#222" stroke-width="0.6"/>
<path d="M435.4 521.4v2.5" stroke="#222" stroke-width="0.6"/>
<path d="M443.4 521.4v1.2" stroke="#222" stroke-width="0.6"/>
<path d="M451.4 521.4v1.2" stroke="#222" stroke-width="0.6"/>
<path d="M457.4 521.4v2.5" stroke="#222" stroke-width="0.6"/>
<text x="364.4" y="430.6" font-size="11.5">P3</text>
<text x="426.4" y="473.6" font-size="10.0" text-anchor="middle">0.26±0.14</text>
<rect x="409.4" y="479" width="30.2" height="36.6" fill="none" stroke="#333" stroke-width="0.7"/>
<path d="M432.6 457.2h0M437.3 481.8h0M432.5 505.2h0M438.8 517.2h0M453.0 475.1h0M378.1 466.9h0M380.2 503.6h0M428.2 475.5h0M434.3 513.3h0M391.4 457.2h0M413.6 458.3h0M416.7 461.9h0M429.4 487.1h0M396.0 455.1h0M398.6 471.3h0M387.5 492.4h0M418.9 497.4h0M439.2 477.4h0M456.0 497.9h0M456.3 498.5h0M374.9 510.9h0M411.6 464.1h0M443.2 465.1h0M415.0 491.8h0M408.3 490.2h0M447.9 490.4h0M423.7 517.7h0M404.3 517.6h0M402.8 472.5h0M439.3 503.1h0M405.4 508.4h0M417.0 492.3h0M398.6 489.3h0M382.9 486.1h0M438.3 499.1h0M405.3 488.8h0M438.8 508.8h0M403.5 504.0h0M430.4 508.3h0M429.1 498.7h0M414.7 516.5h0M413.5 510.6h0M441.4 516.7h0M405.8 483.0h0M410.8 477.6h0M405.0 509.7h0M381.1 515.6h0M418.5 501.4h0M432.6 504.4h0M453.6 508.1h0M395.1 509.8h0M444.9 506.7h0M417.5 483.8h0M404.6 475.6h0M389.8 465.2h0M390.9 456.5h0M423.9 479.5h0M451.3 482.6h0M378.3 504.0h0M426.2 495.2h0M403.9 508.3h0M378.4 509.4h0M380.6 482.5h0M435.7 487.0h0M409.1 492.2h0M400.9 461.7h0M454.1 477.3h0M451.9 462.6h0M378.8 498.8h0M410.3 457.8h0" stroke="#777" stroke-width="0.5" stroke-linecap="round" fill="none" stroke-opacity="0.7"/>
<rect x="470.4" y="418.4" width="103.4" height="103" fill="#fff" stroke="#8c8c8c" stroke-width="0.8"/>
<path d="M470.4 422h-2.5" stroke="#222" stroke-width="0.6"/>
<path d="M470.4 438h-2.5" stroke="#222" stroke-width="0.6"/>
<path d="M470.4 455h-2.5" stroke="#222" stroke-width="0.6"/>
<path d="M470.4 474h-2.5" stroke="#222" stroke-width="0.6"/>
<path d="M470.4 481h-1.5" stroke="#222" stroke-width="0.6"/>
<path d="M470.4 494h-1.2" stroke="#222" stroke-width="0.6"/>
<path d="M470.4 496h-2.5" stroke="#222" stroke-width="0.6"/>
<path d="M470.4 498.6h-2.5" stroke="#222" stroke-width="0.6"/>
<path d="M470.4 500h-1.5" stroke="#222" stroke-width="0.6"/>
<path d="M470.4 514.4h-2.5" stroke="#222" stroke-width="0.6"/>
<path d="M474.4 521.4v1.2" stroke="#222" stroke-width="0.6"/>
<path d="M478.4 521.4v1.2" stroke="#222" stroke-width="0.6"/>
<path d="M480.4 521.4v1.5" stroke="#222" stroke-width="0.6"/>
<path d="M482.4 521.4v1.5" stroke="#222" stroke-width="0.6"/>
<path d="M484.4 521.4v2.5" stroke="#222" stroke-width="0.6"/>
<path d="M486.4 521.4v1.2" stroke="#222" stroke-width="0.6"/>
<path d="M488.4 521.4v1.2" stroke="#222" stroke-width="0.6"/>
<path d="M494.4 521.4v1.2" stroke="#222" stroke-width="0.6"/>
<path d="M500.4 521.4v2.5" stroke="#222" stroke-width="0.6"/>
<path d="M510.4 521.4v1.2" stroke="#222" stroke-width="0.6"/>
<path d="M520.4 521.4v1.2" stroke="#222" stroke-width="0.6"/>
<path d="M526.4 521.4v2.5" stroke="#222" stroke-width="0.6"/>
<path d="M532.4 521.4v1.2" stroke="#222" stroke-width="0.6"/>
<path d="M538.4 521.4v1.2" stroke="#222" stroke-width="0.6"/>
<path d="M544.4 521.4v2.5" stroke="#222" stroke-width="0.6"/>
<path d="M552.4 521.4v1.2" stroke="#222" stroke-width="0.6"/>
<path d="M560.4 521.4v1.2" stroke="#222" stroke-width="0.6"/>
<path d="M566.4 521.4v2.5" stroke="#222" stroke-width="0.6"/>
<text x="473.4" y="430.6" font-size="11.5">4-week-old</text>
<text x="541" y="473.6" font-size="10.0" text-anchor="middle">1.30±0.33</text>
<rect x="518.4" y="479" width="30.2" height="36.6" fill="none" stroke="#333" stroke-width="0.7"/>
<path d="M497.8 500.2h0M491.4 458.0h0M483.8 493.3h0M557.7 456.8h0M522.0 469.3h0M541.6 484.5h0M541.9 473.5h0M557.7 461.4h0M537.9 462.6h0M548.1 468.8h0M526.8 458.3h0M531.5 460.2h0M514.7 509.2h0M516.8 495.1h0M513.9 516.8h0M500.0 470.2h0M511.6 492.5h0M500.5 471.6h0M562.3 489.0h0M512.3 472.9h0M558.9 482.1h0M514.8 483.7h0M555.1 501.0h0M517.6 488.4h0M511.0 499.4h0M561.5 466.9h0M549.5 482.9h0M498.1 480.2h0M499.1 502.4h0M540.5 499.8h0M525.8 503.6h0M506.5 468.4h0M526.7 469.1h0M497.7 474.3h0M510.5 491.7h0M506.9 459.9h0M503.4 460.0h0M542.0 487.0h0M501.7 457.8h0M564.0 495.4h0M542.4 496.5h0M521.5 514.6h0M541.4 505.6h0M557.8 511.0h0M488.6 487.2h0M489.1 486.3h0M555.3 458.8h0M556.6 505.9h0M486.9 488.6h0M556.5 510.1h0M546.0 484.8h0M522.5 492.8h0M550.7 471.5h0M528.8 499.1h0M526.0 467.4h0M554.2 483.5h0M562.7 492.8h0M532.1 491.9h0M503.9 486.0h0M539.6 492.4h0M537.5 502.3h0M543.1 478.0h0M550.2 480.4h0M535.5 489.0h0M546.7 468.6h0M513.1 501.6h0M543.0 496.5h0M565.4 469.5h0M557.0 485.8h0M561.1 503.0h0" stroke="#777" stroke-width="0.5" stroke-linecap="round" fill="none" stroke-opacity="0.7"/>
<rect x="578.6" y="418.4" width="103.4" height="103" fill="#fff" stroke="#8c8c8c" stroke-width="0.8"/>
<path d="M578.6 422h-2.5" stroke="#222" stroke-width="0.6"/>
<path d="M578.6 438h-2.5" stroke="#222" stroke-width="0.6"/>
<path d="M578.6 455h-2.5" stroke="#222" stroke-width="0.6"/>
<path d="M578.6 474h-2.5" stroke="#222" stroke-width="0.6"/>
<path d="M578.6 481h-1.5" stroke="#222" stroke-width="0.6"/>
<path d="M578.6 494h-1.2" stroke="#222" stroke-width="0.6"/>
<path d="M578.6 496h-2.5" stroke="#222" stroke-width="0.6"/>
<path d="M578.6 498.6h-2.5" stroke="#222" stroke-width="0.6"/>
<path d="M578.6 500h-1.5" stroke="#222" stroke-width="0.6"/>
<path d="M578.6 514.4h-2.5" stroke="#222" stroke-width="0.6"/>
<path d="M582.6 521.4v1.2" stroke="#222" stroke-width="0.6"/>
<path d="M586.6 521.4v1.2" stroke="#222" stroke-width="0.6"/>
<path d="M588.6 521.4v1.5" stroke="#222" stroke-width="0.6"/>
<path d="M590.6 521.4v1.5" stroke="#222" stroke-width="0.6"/>
<path d="M592.6 521.4v2.5" stroke="#222" stroke-width="0.6"/>
<path d="M594.6 521.4v1.2" stroke="#222" stroke-width="0.6"/>
<path d="M596.6 521.4v1.2" stroke="#222" stroke-width="0.6"/>
<path d="M602.6 521.4v1.2" stroke="#222" stroke-width="0.6"/>
<path d="M608.6 521.4v2.5" stroke="#222" stroke-width="0.6"/>
<path d="M618.6 521.4v1.2" stroke="#222" stroke-width="0.6"/>
<path d="M628.6 521.4v1.2" stroke="#222" stroke-width="0.6"/>
<path d="M634.6 521.4v2.5" stroke="#222" stroke-width="0.6"/>
<path d="M640.6 521.4v1.2" stroke="#222" stroke-width="0.6"/>
<path d="M646.6 521.4v1.2" stroke="#222" stroke-width="0.6"/>
<path d="M652.6 521.4v2.5" stroke="#222" stroke-width="0.6"/>
<path d="M660.6 521.4v1.2" stroke="#222" stroke-width="0.6"/>
<path d="M668.6 521.4v1.2" stroke="#222" stroke-width="0.6"/>
<path d="M674.6 521.4v2.5" stroke="#222" stroke-width="0.6"/>
<text x="581.6" y="430.6" font-size="11.5">8-week-old</text>
<text x="654.6" y="472.2" font-size="10.0" text-anchor="middle">2.69±0.79</text>
<rect x="627" y="479" width="30.2" height="36.6" fill="none" stroke="#333" stroke-width="0.7"/>
<path d="M637.1 480.0h0M593.5 458.7h0M649.1 468.5h0M605.0 500.4h0M645.7 458.5h0M644.5 517.7h0M644.6 462.3h0M666.3 468.7h0M592.3 512.3h0M617.1 456.4h0M660.7 508.5h0M614.1 508.4h0M610.3 490.8h0M669.2 455.4h0M592.5 514.9h0M624.4 511.4h0M628.1 511.4h0M606.9 516.3h0M664.9 484.2h0M620.9 494.7h0M618.5 506.3h0M647.9 471.6h0M638.0 515.1h0M642.3 461.7h0M597.6 517.5h0M639.0 498.8h0M617.0 511.8h0M640.2 474.5h0M600.4 508.9h0M638.6 514.8h0M607.7 509.1h0M671.2 458.5h0M672.4 468.9h0M648.5 511.7h0M649.4 503.0h0M597.7 494.9h0M624.1 503.8h0M657.1 493.0h0M639.5 484.5h0M647.7 469.8h0M596.1 513.9h0M626.2 478.9h0M636.3 502.4h0M602.8 471.4h0M645.0 500.5h0M629.6 463.1h0M643.8 461.9h0M629.5 501.6h0M642.5 487.0h0M652.6 500.6h0M656.0 507.8h0M625.1 503.4h0M664.1 459.5h0M590.8 475.0h0M626.6 455.3h0M669.7 472.9h0M666.8 501.6h0M665.1 502.2h0M658.4 457.4h0M668.0 463.0h0M644.5 505.4h0M609.7 464.1h0M598.8 509.6h0M619.3 514.1h0M662.6 499.5h0M667.4 499.1h0M662.4 515.8h0M657.7 461.9h0M625.0 455.6h0M597.2 505.3h0" stroke="#777" stroke-width="0.5" stroke-linecap="round" fill="none" stroke-opacity="0.7"/>
<text x="0" y="0" font-size="11.6" text-anchor="middle" transform="translate(355.3,472) rotate(-90)">CD45/CD31/Ter19</text>
<text x="416" y="537.8" font-size="11.6" text-anchor="middle">Angptl7-mScarlet</text>
<path d="M468 533.6H524" stroke="#000" stroke-width="1"/>
<path d="M529.5 533.6l-6.5 -3.4v6.8z" fill="#000"/>
<path d="M373 468 C373 462, 376 459, 379 459 C383 459, 385 463, 385 468 C386 475, 384 480, 386 486 C388 491, 395 491, 403 493 C405 495, 404 497, 400 498 C393 499, 388 500, 384 502 C379 503, 373 502, 371 499 C369 495, 370 489, 371 484 C372 478, 372 473, 373 468Z" fill="#0a18f0" filter="url(#bl1)"/>
<path d="M375 468 C375 464, 377 462, 379 462 C382 462, 383 465, 383 469 C383 476, 382 481, 384 487 C387 492, 393 493, 398 495 C393 497, 387 498, 383 500 C379 501, 375 500, 373 497 C372 492, 373 485, 374 480Z" fill="#1d5cff" filter="url(#bl1)"/>
<ellipse cx="378.5" cy="470" rx="3.0" ry="6" fill="#27d8ff" filter="url(#bl2)"/>
<ellipse cx="378" cy="494" rx="6.5" ry="6.5" fill="#20e0e8" filter="url(#bl2)"/>
<ellipse cx="378" cy="495.5" rx="4.6" ry="4.2" fill="#50ff70" filter="url(#bl1)"/>
<ellipse cx="378" cy="496" rx="3.0" ry="2.8" fill="#f0f000" filter="url(#bl1)"/>
<ellipse cx="378" cy="496" rx="1.8" ry="1.7" fill="#ff2000" filter="url(#bl1)"/>
<path d="M475 484 C476 475, 481 466, 488 463 C495 461, 505 464, 512 468 C514 471, 511 475, 505 476 C500 477, 498 480, 499 484 C502 488, 515 488, 530 488 C537 488, 538 492, 536 494 C530 496, 515 496, 500 497 C494 498, 490 503, 485 503 C480 502, 478 497, 477 493 C475 491, 474 488, 475 484Z" fill="#0a18f0" filter="url(#bl1)"/>
<path d="M478 484 C479 477, 483 469, 489 466 C495 465, 501 467, 506 469 C503 472, 498 474, 496 478 C495 483, 497 488, 502 490 C512 491, 522 490, 532 491 C522 493, 510 493, 500 494 C493 496, 490 500, 486 500 C482 499, 480 495, 479 491Z" fill="#1d5cff" filter="url(#bl1)"/>
<ellipse cx="487" cy="476" rx="2.6" ry="7" fill="#30f0ff" filter="url(#bl2)"/>
<ellipse cx="487" cy="476" rx="1.4" ry="5" fill="#60fff0" filter="url(#bl1)"/>
<ellipse cx="486.5" cy="491" rx="5.0" ry="8" fill="#20e0e8" filter="url(#bl2)"/>
<ellipse cx="486.5" cy="493.5" rx="3.4" ry="4.2" fill="#50ff70" filter="url(#bl1)"/>
<ellipse cx="486.5" cy="494" rx="2.2" ry="2.8" fill="#f0f000" filter="url(#bl1)"/>
<ellipse cx="486.4" cy="494" rx="1.4" ry="1.8" fill="#ff2000" filter="url(#bl1)"/>
<ellipse cx="494" cy="521" rx="2.5" ry="1.2" fill="#2040ff" filter="url(#bl1)"/>
<path d="M588 468 C588 458, 592 452, 598 452 C604 452, 608 456, 614 459 C622 462, 628 462, 631 466 C630 471, 623 472, 617 474 C613 477, 613 481, 617 484 C625 487, 638 486, 646 487 C651 489, 650 494, 645 495 C635 497, 620 496, 605 498 C600 500, 596 502, 592 501 C588 500, 587 495, 587 488 C587 480, 588 474, 588 468Z" fill="#0a18f0" filter="url(#bl1)"/>
<path d="M590 468 C590 460, 593 455, 598 455 C604 455, 608 459, 613 462 C619 465, 624 466, 627 467 C621 469, 615 470, 612 473 C608 477, 609 484, 614 487 C623 490, 635 489, 643 491 C633 493, 620 493, 606 495 C600 497, 596 499, 592 498 C589 496, 589 490, 589 484Z" fill="#1d5cff" filter="url(#bl1)"/>
<ellipse cx="596" cy="480" rx="5.5" ry="19" fill="#20e0e8" filter="url(#bl2)"/>
<ellipse cx="596" cy="480" rx="3.2" ry="16" fill="#40f0a0" filter="url(#bl2)"/>
<ellipse cx="596" cy="466" rx="4.2" ry="6.0" fill="#60ff60" filter="url(#bl1)"/>
<ellipse cx="596" cy="466" rx="3.0" ry="4.4" fill="#f0f000" filter="url(#bl1)"/>
<ellipse cx="596" cy="482" rx="4.2" ry="6.0" fill="#60ff60" filter="url(#bl1)"/>
<ellipse cx="596" cy="482" rx="3.0" ry="4.4" fill="#f0f000" filter="url(#bl1)"/>
<ellipse cx="596" cy="494.5" rx="4.2" ry="6.0" fill="#60ff60" filter="url(#bl1)"/>
<ellipse cx="596" cy="494.5" rx="3.0" ry="4.4" fill="#f0f000" filter="url(#bl1)"/>
<ellipse cx="596" cy="466.5" rx="1.7" ry="2.8" fill="#ff9000" filter="url(#bl1)"/>
<ellipse cx="596" cy="482.5" rx="1.9" ry="3.0" fill="#ff2a00" filter="url(#bl1)"/>
<ellipse cx="596" cy="494.5" rx="2.0" ry="3.0" fill="#ff1a00" filter="url(#bl1)"/>
<text x="-0.6" y="556.7" font-size="18" font-weight="bold">g</text>
<text x="165.6" y="559.6" font-size="18" font-weight="bold">h</text>
<defs><filter color-interpolation-filters="sRGB" id="holes" filterUnits="userSpaceOnUse" x="0" y="0" width="685" height="828"><feTurbulence type="fractalNoise" baseFrequency="0.22" numOctaves="2" seed="5" result="t"/><feColorMatrix in="t" type="matrix" values="0 0 0 0 0 0 0 0 0 0 0 0 0 0 0 8 0 0 0 -3.8" result="m"/><feComposite in="SourceGraphic" in2="m" operator="in"/></filter><filter color-interpolation-filters="sRGB" id="fine" filterUnits="userSpaceOnUse" x="0" y="0" width="685" height="828"><feTurbulence type="fractalNoise" baseFrequency="0.6" numOctaves="1" seed="9" result="t"/><feColorMatrix in="t" type="matrix" values="0 0 0 0 0 0 0 0 0 0 0 0 0 0 0 6 0 0 0 -2.6" result="m"/><feComposite in="SourceGraphic" in2="m" operator="in"/></filter><filter color-interpolation-filters="sRGB" id="soft" filterUnits="userSpaceOnUse" x="0" y="0" width="685" height="828"><feGaussianBlur stdDeviation="0.9"/></filter><filter color-interpolation-filters="sRGB" id="soft2" filterUnits="userSpaceOnUse" x="0" y="0" width="685" height="828"><feGaussianBlur stdDeviation="2"/></filter><filter color-interpolation-filters="sRGB" id="soft05" filterUnits="userSpaceOnUse" x="0" y="0" width="685" height="828"><feGaussianBlur stdDeviation="0.45"/></filter><clipPath id="cgt"><rect x="28" y="564" width="131" height="129.6"/></clipPath><clipPath id="cgb"><rect x="28" y="697" width="131" height="131"/></clipPath><clipPath id="cht"><rect x="192" y="564" width="130.6" height="129.6"/></clipPath><clipPath id="chb"><rect x="192" y="697" width="130.6" height="131"/></clipPath></defs>
<rect x="10.5" y="564" width="15.0" height="264" fill="#000"/>
<text x="0" y="0" font-size="11.95" transform="translate(22.4,785.6) rotate(-90)"><tspan fill="#f01010">Angptl7-mScarlet</tspan><tspan fill="#fff"> / </tspan><tspan fill="#7ed321">POSTN</tspan><tspan fill="#fff"> / </tspan><tspan fill="#2a90dc">DAPI</tspan></text>
<rect x="174.3" y="564" width="15.399999999999977" height="264" fill="#000"/>
<text x="0" y="0" font-size="11.8" transform="translate(186.3,779.4) rotate(-90)"><tspan fill="#f01010">Angptll7-mScarlet</tspan><tspan fill="#fff"> / </tspan><tspan fill="#7ed321">CD31</tspan><tspan fill="#fff"> / </tspan><tspan fill="#2a90dc">DAPI</tspan></text>
<g clip-path="url(#cgt)">
<rect x="28" y="564" width="131" height="130" fill="#000"/>
<path d="M78.4 641.5v1.1M134.9 587.5v1.3M91.7 679.1v0.8M50.3 610.5v0.9M43.9 621.7v1.1M87.4 609.7v0.8M33.3 609.4v0.6M85.4 668.0v0.9M151.5 611.9v1.3M52.7 654.3v0.9M65.6 598.2v0.9M69.0 667.1v1.1M36.0 645.1v1.4M51.5 604.3v0.8M45.7 596.9v1.4M98.8 651.3v0.9M155.4 661.1v0.9M89.5 641.3v1.1M97.7 664.0v1.3M127.7 580.3v0.7M38.4 564.0v1.1M109.3 656.3v0.7M130.6 604.4v1.3M112.9 625.4v1.4M112.5 673.1v0.9M82.3 674.0v1.2M100.7 691.3v0.8M111.8 618.1v0.9M49.6 636.0v0.8M52.8 667.5v1.5M44.8 681.6v1.4M129.7 564.7v1.2M62.9 690.8v1.1M133.5 688.3v0.8M69.2 665.7v1.4M86.1 630.1v1.0M114.3 582.3v0.9M113.9 664.6v0.7M123.8 668.2v1.4M129.8 686.3v0.8M51.1 578.1v1.0M112.3 661.5v1.5M58.1 675.2v1.0M53.7 570.0v0.6M43.3 639.0v0.7M108.9 647.4v1.1M79.0 659.5v1.3M134.2 678.8v1.0M108.4 620.2v0.6M115.3 570.4v0.8M132.4 685.8v0.8M96.7 619.8v0.7M29.1 649.5v1.5M50.8 657.2v0.7M123.5 610.0v0.7M90.4 649.0v1.0M124.5 586.7v1.4M67.9 688.4v0.8M144.3 670.5v1.1M115.9 653.5v1.6M30.9 646.3v0.8M80.3 569.9v1.2M134.6 618.0v0.7M39.8 664.5v1.2M135.9 657.5v1.2M108.3 646.1v1.3M76.7 681.4v0.9M31.0 627.6v0.9M153.4 664.2v1.5M41.2 642.3v0.6M89.4 575.6v1.3M107.2 656.9v1.4M74.9 663.9v1.0M116.7 659.6v1.0M60.6 608.2v0.9M154.5 687.0v0.9M122.8 638.1v1.2M59.5 606.4v1.5M34.5 602.0v0.7M92.3 673.0v1.5M143.4 690.2v1.5M132.1 652.5v1.2M44.0 663.1v1.0M89.7 653.3v1.4M50.0 692.0v0.8M42.4 616.7v0.8M113.3 652.8v1.4M97.3 576.2v0.7M34.8 690.7v0.8M88.6 639.5v1.5M87.8 635.0v1.2M73.5 646.6v1.1M152.1 572.1v0.9M110.3 680.6v1.1M99.4 654.6v1.2M119.2 624.4v0.6M121.6 581.8v0.9M101.3 569.7v0.7M115.3 658.4v1.5M146.3 573.8v0.8M92.2 589.2v0.8M44.9 672.1v1.2M89.7 621.7v0.7M144.3 619.8v1.1M63.0 648.4v1.6M131.2 632.7v0.6M80.2 693.8v0.6M114.7 639.3v1.2M103.6 644.2v0.9M51.9 609.8v0.8M46.0 570.5v0.7M39.5 674.2v1.0M35.8 628.5v1.4M151.1 656.7v1.3M47.7 570.3v0.8M57.5 596.3v0.7M96.7 640.8v1.1M101.6 631.7v0.7M58.8 653.1v0.8M60.0 652.1v1.6M103.8 674.1v1.1M96.4 663.3v0.9M107.1 573.3v1.1M39.3 639.9v1.1M43.0 623.7v1.0M98.7 678.3v0.7M101.4 688.8v0.8M133.8 642.6v0.9M78.2 648.2v1.1M32.4 619.1v1.4M119.7 606.8v0.8M59.7 574.2v1.2M60.3 682.0v1.5M138.8 664.0v1.1M106.5 627.3v1.5M68.4 614.0v1.3M119.4 671.8v1.1M59.1 671.5v1.4M151.9 632.4v1.1M28.8 631.2v1.4M97.9 591.9v0.9M116.4 612.5v1.2M114.2 631.2v1.5M58.9 666.6v1.0M90.9 647.7v1.3M39.3 607.5v1.1M127.0 604.8v1.4M136.6 583.0v1.0M59.7 660.6v1.3M127.1 595.1v0.9M146.4 579.3v1.1M79.2 600.1v1.3M109.0 584.9v0.8M38.3 640.8v1.1M104.0 652.8v0.7M105.8 578.8v0.8M130.6 691.5v1.1M92.1 642.7v1.6M149.4 680.2v1.5M39.0 600.3v1.0M134.8 597.1v1.1M49.1 679.5v1.5M117.3 613.5v0.9M85.5 589.2v1.5M145.8 674.2v0.6M113.2 656.7v1.2M95.3 633.4v0.9M123.8 665.6v1.6M72.6 619.0v1.1M109.4 575.2v1.3M85.3 621.0v1.4M38.9 686.5v1.1M135.4 586.2v0.7M80.6 660.4v1.5M67.8 628.9v1.3M145.3 676.6v1.0M77.5 569.4v0.8M104.2 673.8v0.6M139.4 666.2v1.6M39.2 623.3v1.3M154.7 565.1v1.4M60.9 641.3v1.1M71.3 601.1v1.0M62.8 613.8v0.6M125.3 601.7v0.7M63.7 686.1v1.1M39.6 636.3v1.0M143.3 593.1v0.8M128.7 597.5v0.6M75.8 676.5v1.2M32.4 580.2v1.2M118.7 633.2v0.7M96.5 578.8v0.6M134.7 650.3v1.6M113.9 569.7v0.8M57.2 568.4v1.0M67.3 640.5v1.2M58.6 578.3v0.8M101.6 656.4v0.7M115.8 593.9v0.8M28.8 621.7v0.7M50.4 665.7v0.6M70.9 683.6v0.8M98.3 685.3v1.2M105.3 613.6v1.1M139.4 608.3v1.1M153.6 564.9v1.2M110.7 595.2v1.0M70.8 584.9v0.9M127.7 670.6v0.8M69.8 565.1v0.9M62.6 637.9v0.8M113.0 598.0v1.3M119.5 680.5v0.6M64.7 612.0v0.9M120.3 589.3v1.3M81.8 650.5v1.1M98.4 667.4v1.2M132.4 647.4v1.2M46.1 624.6v1.3M56.2 565.6v1.5M46.4 565.7v1.6M78.3 648.3v1.5M74.9 564.0v0.7M66.4 608.9v0.7M120.0 665.0v0.9M40.8 637.1v0.8M41.1 580.3v1.4M89.5 576.8v1.6M89.1 577.3v0.8M124.0 635.9v1.0M76.5 579.6v0.6M84.4 686.3v1.1M78.7 593.0v0.9M120.1 581.5v0.6M134.0 592.4v1.0M114.5 564.9v1.4M40.0 663.2v0.7M149.1 605.5v0.8M103.7 628.9v1.6M153.2 595.8v1.0M122.5 574.3v1.6M59.0 589.1v1.6M89.1 683.0v1.6M33.0 688.7v0.7M79.7 639.4v1.2M92.6 673.4v1.2M68.0 602.5v1.1M125.1 642.2v1.1M90.7 670.3v1.5M84.6 597.1v1.5M148.5 681.8v1.1M136.3 654.7v1.0M63.6 658.5v0.8M68.2 645.6v1.5M147.8 652.6v0.8M49.8 619.7v1.0M68.2 626.1v1.6M64.2 575.0v1.2M136.1 570.2v0.8M128.2 575.5v0.9M151.9 622.0v1.6M70.7 691.6v0.9M93.1 569.7v1.4M100.5 595.6v1.2M76.4 690.2v1.0M113.9 644.9v1.3M55.2 594.6v1.0M102.0 564.8v1.4M71.9 638.6v1.5M83.1 582.9v0.8M52.3 652.1v1.5M135.3 575.9v0.9M94.1 567.2v1.0M128.9 617.2v1.0M100.7 581.6v0.8M139.7 612.1v0.7M114.7 637.3v0.8M38.8 625.0v0.7M43.2 580.6v0.8M95.0 646.6v1.6M89.2 597.0v0.8M76.4 564.5v0.9M96.8 678.0v0.6M156.7 596.9v1.0M74.6 686.8v1.5M129.1 578.0v0.7M44.0 631.8v0.7M127.3 599.2v1.0M140.8 593.2v1.6M107.4 629.8v1.2M55.5 571.8v1.3M93.8 609.8v1.5M55.3 565.6v1.1M88.7 672.3v0.7M101.1 682.4v0.7M110.5 579.9v1.4M108.6 672.5v1.5M141.8 582.2v0.8M145.4 597.4v0.7M40.2 610.4v0.7M139.2 585.4v0.7M58.4 656.3v1.3M53.0 667.2v1.4M65.9 587.4v1.3M142.7 608.3v1.6M73.0 623.9v1.5M52.9 575.5v1.2M119.7 689.6v0.7M93.0 616.2v0.6M80.6 643.7v1.3M36.1 681.9v0.7M75.1 610.5v1.0M157.1 593.0v1.5M31.5 621.9v1.2M153.1 579.2v0.9M113.2 683.2v1.2M36.6 617.1v0.9M147.4 672.2v1.4M47.9 670.7v0.9M114.7 688.8v1.1M86.9 631.2v1.1M85.4 636.3v1.5M91.3 673.5v0.9M28.6 680.0v1.6M56.7 623.0v1.5M48.4 570.8v0.7M110.3 595.9v1.0M88.2 603.8v1.3M68.2 635.8v1.3M67.7 581.8v1.1M31.1 687.9v0.9M77.0 665.6v1.5M36.6 632.8v1.5M130.1 610.1v1.5M57.3 588.9v1.2M56.0 624.4v1.4M108.5 675.5v1.3M77.1 591.3v1.1M123.3 616.9v1.3M123.4 690.8v0.7M140.4 677.7v1.4M111.1 592.5v1.5M146.7 635.8v1.5M78.7 617.8v1.0M154.4 609.7v1.0M111.7 579.6v1.1M69.8 656.1v1.1M108.2 611.9v1.0M63.1 600.4v1.6M96.9 633.3v0.6M97.4 616.7v0.8M149.8 676.4v1.4M115.5 626.9v1.2M82.8 631.8v1.3M135.7 626.1v1.6M49.8 573.8v1.5M124.9 670.6v0.9M108.7 652.0v1.0M109.3 621.5v1.1M83.6 600.0v1.5M83.7 599.4v0.7M63.4 581.3v1.6M84.4 650.9v1.3M145.5 665.4v0.8M95.7 690.7v1.3M114.0 588.2v0.8M86.8 567.9v1.3M72.4 628.7v1.6M46.2 669.0v1.1M51.7 656.9v0.6M36.7 606.4v0.9M96.7 564.7v0.8M54.6 639.3v0.6M78.3 618.5v0.7M76.2 664.9v0.8M33.1 692.2v1.1M75.9 591.5v0.7M127.3 570.1v1.4M113.1 591.4v1.5M130.6 645.5v1.2M30.5 600.6v1.0M154.1 688.3v1.4M109.9 569.2v0.8M40.2 677.7v1.5M32.5 597.1v1.4M36.6 604.0v1.5M83.6 578.9v0.8M88.1 683.1v0.8M42.5 672.2v1.3M61.4 580.8v1.3M82.5 599.3v1.6M40.3 641.8v1.3M84.5 674.3v1.3M106.0 609.7v0.8M87.4 682.5v0.8M129.7 643.0v1.1M102.5 663.9v1.2M146.3 634.6v1.0M34.1 693.8v1.2M102.9 621.0v1.6M138.2 668.9v0.8M36.2 629.2v1.5M35.5 632.3v1.0M149.3 626.6v1.2M31.6 611.4v1.0M42.8 590.8v0.7M80.9 668.2v1.1M60.6 625.6v0.7M33.0 574.8v1.0M143.1 666.9v1.0M75.6 674.2v0.9M103.1 626.9v1.3M49.7 664.5v0.6M50.3 584.0v1.0M68.3 685.0v1.2M90.9 641.0v1.1M52.4 658.6v0.8M149.3 579.8v1.0M84.5 660.0v1.5M56.0 647.1v1.0M76.1 626.5v0.9M109.1 571.6v1.0M57.3 605.4v0.6M92.3 677.6v1.5M114.0 598.1v1.4M32.3 621.5v0.6M144.1 627.5v0.8M133.3 638.2v1.1M56.8 691.9v0.8M45.7 644.9v1.6M76.7 590.7v1.0M105.4 640.9v1.3M37.3 667.2v0.9M95.6 595.1v1.4M102.2 666.7v1.1M92.7 657.7v1.0M39.5 578.7v1.6M64.8 683.5v1.5M31.6 616.5v1.0M141.9 652.0v1.0M48.7 659.2v1.4M80.3 682.2v1.3M132.4 622.4v1.0M96.8 637.4v1.0M43.5 668.9v0.8M102.1 610.6v0.7M44.4 570.1v1.5M123.8 686.5v0.7M29.8 681.1v1.1M123.1 622.2v0.9M127.1 636.2v0.7M144.9 595.5v0.8M97.2 617.8v1.2M99.1 614.9v1.0M156.3 570.6v1.3M37.7 690.5v1.1M38.3 692.9v1.5M126.6 593.0v0.6M156.7 569.0v0.9M98.1 656.4v1.5M45.9 649.1v1.0M45.6 634.8v1.1M81.5 613.3v1.3M143.4 613.7v1.5M49.9 613.6v1.1M88.5 691.7v0.8M56.7 634.1v1.0M49.2 655.9v1.3M135.7 574.2v1.6M34.9 606.5v1.0M144.1 682.9v1.0M111.9 668.3v1.3M36.4 576.3v0.9M53.6 635.2v0.8M95.7 656.1v1.3M99.6 681.9v0.9M107.0 648.1v1.3M117.1 642.1v1.3M62.4 664.5v1.3M59.7 682.4v1.2M50.9 670.8v0.7M67.6 692.3v0.6M102.0 565.5v0.9M71.9 621.4v0.9M30.0 684.8v1.4M132.3 613.3v1.0M101.2 567.1v1.1M40.8 608.7v0.7M53.1 566.3v0.9M79.2 570.1v1.3M98.7 569.4v1.2M94.3 574.3v1.2M77.7 672.6v1.3M139.2 676.0v1.5M29.2 624.5v0.7M90.1 645.2v1.2M46.6 584.4v0.9M130.5 634.8v1.0M33.8 627.1v1.6" stroke="#1c22f0" stroke-width="1.4" stroke-linecap="round" fill="none" stroke-opacity="0.8"/>
<path d="M155.2 637.9v1.1M65.7 642.9v0.8M139.3 577.0v0.6M58.7 576.6v0.7M151.1 644.0v1.0M42.3 610.2v1.5M89.6 678.0v0.9M60.0 564.8v1.1M61.9 660.2v0.8M70.0 621.0v1.5M131.2 605.1v0.7M116.9 682.4v0.7M68.4 669.5v0.7M131.5 626.3v1.3M54.2 576.5v0.9M125.9 672.9v0.8M30.7 594.9v1.2M142.8 612.4v1.6M115.8 676.4v0.7M57.8 645.5v0.9M61.9 651.9v0.7M121.8 618.5v1.4M139.4 626.0v1.0M46.2 649.0v1.1M138.7 612.9v0.7M81.7 682.0v1.0M100.8 597.5v0.7M88.7 642.7v1.2M156.1 568.1v0.7M97.6 685.1v1.5M134.7 686.4v1.0M68.7 679.3v1.2M137.4 613.9v1.0M148.4 586.0v1.4M48.8 589.6v1.2M30.1 635.2v1.3M82.3 622.8v1.3M82.2 601.9v1.4M119.5 640.1v0.9M60.5 580.7v0.9M122.8 643.3v1.4M34.5 622.1v0.9M89.1 691.4v0.8M152.8 575.1v1.2M85.9 593.7v1.4M148.9 669.8v1.1M44.1 677.4v1.2M124.4 662.9v0.6M128.7 656.8v1.6M89.9 603.0v0.7M107.9 593.5v0.7M148.2 608.4v1.0M146.2 682.3v1.0M116.2 601.7v1.3M62.2 625.7v0.9M84.8 627.3v1.4M86.5 640.0v1.3M49.3 580.9v0.7M65.3 677.0v1.2M61.0 587.0v1.5M31.3 646.1v1.1M157.7 590.7v0.6M116.0 632.9v0.8M79.5 608.3v1.6M85.2 668.4v1.1M138.5 568.7v0.8M110.4 683.9v0.6M39.3 587.2v0.8M105.2 583.5v1.3M28.1 676.2v1.3M86.6 645.7v1.0M34.5 680.3v1.1M49.2 647.0v0.7M36.9 587.3v0.9M71.8 663.3v0.8M50.0 634.6v1.4M40.6 581.7v1.5M72.4 570.1v1.1M35.3 627.5v1.5M146.0 581.9v0.6M60.8 674.0v1.0M56.5 654.6v0.9M37.0 601.3v1.4M102.5 598.0v0.7M89.6 564.9v0.7M36.8 693.4v1.6M55.9 588.8v0.7M96.4 604.5v1.4M59.2 693.5v0.8M80.1 637.6v1.1M43.4 616.8v1.5M90.9 606.5v1.5M35.5 607.8v1.3M45.9 571.3v1.6M137.1 607.3v1.2M29.7 626.4v0.9M49.8 649.3v0.8M91.5 573.9v1.5M35.5 622.0v1.3M56.0 621.5v1.5M97.5 615.2v0.9M88.8 564.2v1.5M107.6 605.3v0.6M38.8 568.4v0.6M46.5 658.7v1.0M97.2 609.3v0.8M155.4 572.5v0.7M129.9 619.8v1.4M148.5 627.4v0.8M57.5 667.3v0.9M71.2 638.7v0.9M68.2 599.8v1.0M157.2 689.0v0.6M139.0 644.9v1.3M126.9 687.0v0.9M73.7 670.8v1.5M97.0 662.8v1.0M61.9 578.0v0.7M93.2 650.7v1.6M144.1 639.8v1.6M55.6 673.3v1.2M50.9 610.8v1.4M102.7 675.7v1.0M101.6 626.9v0.7M69.9 579.0v0.7M105.3 652.3v1.5M88.2 615.2v1.3M135.6 656.2v1.0M146.9 646.8v1.3M92.8 617.6v1.6M100.7 684.2v1.0M44.7 605.1v1.3M66.6 664.2v0.6M133.6 568.4v1.3M74.1 653.6v1.2M36.9 676.5v1.4M95.1 641.4v1.3M42.1 670.6v0.9M41.3 653.2v1.6M36.4 643.2v0.9M45.0 585.6v0.8M55.9 567.4v1.0M37.3 574.6v0.6M84.1 593.0v1.6M44.7 671.9v1.2M59.5 670.0v1.3M62.6 648.9v1.4M94.7 647.5v1.6M56.7 680.1v0.6M113.0 593.5v1.5M84.6 686.0v0.8M47.5 651.3v0.7M34.1 682.3v1.5M137.8 571.4v0.7M91.3 653.2v1.5M70.5 593.1v0.9M152.4 665.1v1.2M150.4 581.1v0.6M134.0 576.0v0.8M157.9 597.8v0.8M145.2 626.7v1.1M111.4 649.1v1.2M132.8 688.9v1.6M149.2 643.1v1.5M28.4 566.0v1.3M54.6 581.8v1.1M70.5 612.6v1.0M118.1 646.8v0.7M52.8 601.7v1.3M58.7 645.6v0.7M150.8 672.6v1.5M85.9 628.5v1.1M48.7 571.1v1.4M114.3 621.3v1.6M91.1 597.8v1.0M94.8 691.9v0.8M42.0 671.2v0.8M58.8 614.3v0.8M82.4 619.9v1.1M111.0 675.8v0.8M118.7 576.1v1.5M111.2 652.0v1.6M83.7 666.5v1.0M46.1 639.8v1.6M67.9 637.4v0.9M113.3 619.3v1.5M51.7 688.3v1.5M28.3 686.5v0.8M72.1 676.3v1.1M30.9 643.1v1.5M67.9 671.9v1.4M134.4 663.1v1.1M143.0 589.7v1.4M28.4 629.0v0.8M104.5 668.1v1.6M96.0 667.1v1.4M74.5 648.0v0.8M30.7 673.5v1.0M85.4 691.6v1.3M54.1 681.6v1.0M124.5 586.1v1.1M104.9 571.2v1.6M97.7 642.1v0.9M95.7 632.5v1.3M50.4 656.6v0.8M77.9 674.9v1.3M82.8 631.8v0.9M77.2 692.1v1.3M47.4 575.7v1.0M106.8 623.6v1.3M78.9 690.5v0.8M128.6 643.4v0.7M115.1 657.8v1.6M145.4 584.0v1.6M54.3 654.9v1.2M106.4 639.9v0.7M107.5 649.2v1.3M80.4 617.0v0.6M137.0 655.9v0.9M48.3 614.6v1.4M133.7 656.4v1.1M147.5 595.6v0.6M30.3 614.6v0.7M30.0 596.7v1.6M87.4 644.3v1.0M67.5 657.4v1.0M42.4 598.4v1.3M141.1 591.0v1.4M71.7 649.0v1.3M40.8 643.8v1.6M29.6 597.9v0.9M93.2 587.9v1.0M34.8 607.8v1.2M63.4 592.7v1.4M105.7 590.9v1.4M102.8 646.7v1.1M146.7 617.9v1.3M42.8 621.7v1.3M109.6 640.6v0.9M44.7 571.4v0.6M155.7 617.7v1.5M61.1 577.8v1.3M45.7 689.4v1.5M126.1 688.7v1.2M117.0 590.5v0.6M138.0 611.2v0.9M29.0 564.1v1.6M105.3 620.2v1.1M120.3 693.0v1.4M51.7 570.0v1.1M141.6 681.2v1.0M92.9 691.8v1.4M105.1 615.3v1.1M66.3 677.0v0.6M154.7 630.6v1.2M112.3 569.2v0.7M33.1 632.9v1.0M63.7 673.6v1.3M69.2 682.1v1.3M121.9 625.4v1.4M39.1 577.7v0.8M145.4 604.4v1.6M35.4 684.1v1.0M49.5 685.9v1.5M136.7 567.2v0.7M50.2 611.1v1.4M124.6 689.1v1.1M130.3 610.3v1.4M144.2 591.5v1.6M139.6 608.0v1.3M41.4 638.9v1.0M61.4 684.2v1.2M110.8 577.6v0.9M80.7 681.0v1.1M43.8 690.2v0.9M131.0 626.6v1.4M141.1 624.3v0.8M44.6 678.2v1.1M105.5 674.3v1.4M55.2 573.4v0.9M28.2 663.9v1.3M116.2 662.0v1.5M59.2 607.7v0.8M107.0 690.4v1.3M136.0 637.8v0.7M74.5 634.2v1.1M105.6 590.8v0.8M60.7 669.2v1.0M144.8 612.7v0.8M107.9 616.5v0.8M88.7 590.3v0.7M118.1 582.6v1.1M139.8 679.8v1.3M138.4 577.6v1.0M38.0 604.0v1.1M62.0 568.6v1.2M84.8 672.0v0.8M94.5 580.1v1.1M39.2 624.2v1.3M105.9 680.4v1.6M70.4 598.3v1.3M84.7 665.8v0.9M152.9 655.7v0.6M111.3 685.5v1.5M68.3 588.8v0.9M64.6 585.8v1.0M76.6 633.2v0.9M89.7 586.9v1.5M51.2 641.8v1.2M58.4 679.1v0.6M55.7 633.8v0.6M122.8 626.9v1.1M156.5 684.5v1.1M32.6 690.6v1.3M29.3 598.9v0.8M63.1 601.8v1.2M72.6 624.1v1.4M41.4 687.9v1.0M152.1 624.2v1.4M147.9 671.5v1.4M43.0 578.1v1.5M124.8 692.8v1.5M74.3 598.9v1.3M104.3 609.6v1.4M95.5 658.3v0.8M88.4 642.0v1.5M124.7 572.1v1.3M112.5 688.9v1.2M110.1 564.8v1.1M44.8 692.4v1.3M126.5 693.7v0.6M155.0 597.3v0.8M92.2 602.0v0.8M125.4 632.6v1.4M132.0 640.3v1.5M125.5 606.1v1.2M124.4 622.5v0.8M153.5 659.5v0.7M88.9 629.3v1.3M113.6 573.0v0.7M57.0 639.6v1.2M142.2 622.4v1.1M128.3 635.5v1.1M33.0 583.8v1.3M43.8 657.6v1.1M28.5 600.1v1.1M88.4 623.4v0.9M46.3 625.5v1.1M106.7 640.7v1.3M136.4 659.6v1.0M36.5 680.5v1.5M112.4 571.8v1.0M99.8 570.3v0.6M56.8 692.1v0.7M89.6 676.4v1.0M49.2 611.0v1.3M77.5 688.9v1.4M88.1 693.1v0.7M58.6 566.4v1.2M97.2 612.2v0.6M67.9 632.7v1.5M63.9 584.9v1.3M33.2 604.3v1.1M150.5 681.7v1.0M116.0 655.7v1.5M91.0 651.5v1.4M77.0 688.7v1.2M143.1 622.2v1.2M145.4 607.8v1.3M139.7 585.2v1.2M62.7 576.7v1.6M93.3 607.0v1.3M76.1 593.7v1.2M134.6 662.1v1.3M78.1 648.9v1.3M29.1 634.8v0.9M102.1 645.7v0.7M44.3 637.9v1.5M128.1 564.4v0.8M123.8 602.0v1.0M126.3 608.0v0.7M76.7 597.8v1.4M79.7 634.1v1.2M101.5 631.7v1.5M142.2 651.7v1.5M57.8 576.6v0.8M148.9 610.0v1.0M147.0 620.6v1.3M142.4 654.3v1.3M149.6 669.5v0.9M90.7 580.2v1.5M128.8 669.8v1.3M140.4 692.6v1.5M116.8 625.9v1.3M39.5 621.9v1.3M140.0 659.1v1.6M50.9 566.8v0.7M75.8 644.3v0.7M57.5 685.7v1.3M63.8 674.3v1.4M71.6 627.8v1.5M49.0 688.8v1.1M57.6 683.8v0.7M70.4 605.6v0.9M81.1 682.1v1.3M61.2 669.9v0.7M145.0 665.8v0.7M84.8 581.7v1.6M123.4 630.1v1.4M114.4 656.4v0.9M140.7 679.8v0.6M77.7 666.4v0.7M143.4 587.6v0.8M152.2 687.3v1.3M117.9 566.2v1.5M136.2 680.5v0.8M51.8 654.0v1.3M136.5 688.0v1.6M111.0 566.5v0.9M58.6 678.9v0.7M88.2 591.5v0.6M41.1 628.7v1.4M145.3 671.7v1.3M85.0 650.0v1.0M51.2 632.9v1.2M128.8 567.6v1.3M53.3 637.2v1.1M29.1 639.7v1.3M51.1 633.4v1.1M82.4 658.5v1.6M100.3 599.9v1.5M99.3 684.6v1.4M35.3 671.1v1.1M116.5 621.0v1.0M39.8 591.1v1.4M109.7 692.2v1.1M28.8 678.6v0.6M120.3 569.0v0.9M44.1 658.8v1.1M67.8 637.5v0.8M43.1 673.5v0.6M156.4 600.0v1.1M138.9 625.3v1.0M156.3 639.6v1.3M96.7 666.8v1.5M44.7 581.4v0.7M57.9 596.1v1.0M94.2 597.0v1.0M95.0 687.3v1.2M100.1 638.4v0.8M106.3 582.2v1.0M38.4 567.8v1.5M90.6 659.2v1.3M151.4 600.2v1.4M42.1 659.0v0.9M83.1 590.9v0.6M154.2 642.6v0.7M104.1 612.8v1.6M92.5 686.2v1.6M132.2 576.0v1.5M68.9 600.7v0.8M138.6 666.7v1.3M44.2 658.0v1.3M54.3 590.0v1.3M53.8 575.2v1.5M42.1 592.9v1.4M33.5 580.8v0.6M116.1 606.2v1.6M40.0 648.8v1.1M93.5 575.9v1.6M78.5 661.6v0.9M70.9 585.2v0.9M53.5 573.7v1.2M56.6 693.6v1.0M55.5 606.9v1.0M120.5 573.2v0.9M57.8 609.0v1.3M85.6 642.0v0.9M119.1 664.0v0.7M148.0 579.2v1.5M71.7 667.2v1.3M96.7 646.3v1.2M59.9 692.1v1.2M149.1 566.1v1.2M53.3 585.2v0.6M114.5 642.2v1.0M115.7 574.0v0.8M30.5 630.7v1.1M145.3 654.9v1.3M55.2 629.8v1.1M158.4 601.7v1.3M102.7 577.9v1.3M72.2 619.7v1.3M122.4 678.2v1.4M105.2 597.8v0.8M77.4 591.2v0.8M115.6 614.3v1.2M70.4 605.4v1.0M67.5 566.2v1.1M147.3 661.9v1.0" stroke="#0e12a0" stroke-width="1.3" stroke-linecap="round" fill="none" stroke-opacity="0.8"/>
<path d="M37.0 564.0 L60.0 564.0 L61.0 580.0 L62.0 600.0 L60.0 612.0 L57.0 625.0 L56.0 640.0 L60.0 648.0 L64.0 660.0 L66.0 694.0 L28.0 694.0 L28.0 645.0 L32.0 640.0 L36.0 628.0 L36.0 616.0 L31.0 608.0 L34.0 602.0 L40.0 596.0 L42.0 585.0 L38.0 575.0Z" fill="#1424d0" filter="url(#soft05)"/>
<path d="M37.0 564.0 L60.0 564.0 L61.0 580.0 L62.0 600.0 L60.0 612.0 L57.0 625.0 L56.0 640.0 L60.0 648.0 L64.0 660.0 L66.0 694.0 L28.0 694.0 L28.0 645.0 L32.0 640.0 L36.0 628.0 L36.0 616.0 L31.0 608.0 L34.0 602.0 L40.0 596.0 L42.0 585.0 L38.0 575.0Z" fill="#000" filter="url(#holes)" opacity="0.7"/>
<path d="M44 620 C46 628, 48 636, 47 642" stroke="#000" stroke-width="3" fill="none" filter="url(#soft)" opacity="0.8"/>
<path d="M52 655 C54 670, 56 680, 58 694" stroke="#000" stroke-width="4" fill="none" filter="url(#soft)" opacity="0.5"/>
<path d="M73.0 624.0 L80.0 620.0 L84.0 640.0 L85.0 660.0 L86.0 694.0 L76.0 694.0 L74.0 670.0 L72.0 645.0Z" fill="#1020b8" filter="url(#soft05)"/>
<path d="M73.0 624.0 L80.0 620.0 L84.0 640.0 L85.0 660.0 L86.0 694.0 L76.0 694.0 L74.0 670.0 L72.0 645.0Z" fill="#000" filter="url(#holes)" opacity="0.95"/>
<path d="M113 564 L127 564 L126 694 L116 694 L114 640 L112 600 Z" fill="#1a3cff" filter="url(#fine)" opacity="0.9"/>
<path d="M104 564 L108 575 L111 585 L109 596 L111 610 L113 625 L113 640 L114 660 L115 680 L116 694" stroke="#30d020" stroke-width="2.8" fill="none" filter="url(#soft)" opacity="0.7"/>
<path d="M110.7 608.8h0M110.3 576.2h0M103.1 567.8h0M112.9 649.5h0M107.0 589.8h0M114.2 657.6h0M114.5 631.9h0M117.6 692.2h0M109.3 576.1h0M110.8 621.0h0M112.0 617.1h0M111.3 613.4h0M113.1 612.2h0M116.0 684.5h0M103.1 569.3h0M116.1 677.2h0M112.6 665.9h0M114.8 690.8h0M110.1 592.1h0M106.5 580.9h0M114.2 682.8h0M113.0 627.3h0M116.4 687.6h0M114.7 643.2h0M111.7 635.2h0M111.9 636.5h0M114.5 675.5h0M112.5 664.8h0M108.1 595.2h0M110.9 578.3h0M109.8 609.6h0M113.8 646.5h0M114.8 690.0h0M115.1 654.8h0M107.4 597.2h0M114.5 689.0h0M105.7 595.0h0M111.4 644.0h0M111.7 646.7h0M108.5 567.4h0M110.1 615.7h0M110.2 589.7h0M112.0 637.2h0M104.0 568.9h0M111.6 618.2h0M111.0 605.5h0M102.3 569.5h0M109.1 600.4h0M113.0 628.5h0M107.4 578.7h0M112.9 636.7h0M109.5 580.9h0M110.2 609.0h0M112.8 611.4h0M110.8 600.0h0M113.5 653.5h0M113.8 674.6h0M114.0 662.3h0M107.5 582.3h0M111.5 641.6h0M111.4 610.7h0M113.2 650.6h0M111.6 639.2h0M116.5 691.6h0M115.5 687.0h0M112.9 583.7h0M111.2 584.5h0M113.2 673.9h0M112.7 594.0h0M112.8 658.0h0M111.0 590.4h0M107.7 564.2h0M112.0 627.8h0M114.0 619.0h0M103.2 570.5h0M115.6 676.2h0M110.8 618.4h0M111.1 596.2h0M112.0 608.2h0M113.6 681.1h0M114.6 625.5h0M112.4 648.0h0M108.2 592.9h0M111.6 619.3h0M116.3 692.8h0M103.1 570.3h0M105.8 578.2h0M109.6 576.2h0M111.5 575.0h0M112.5 626.1h0M107.2 589.1h0M111.9 575.7h0M114.2 633.2h0M113.3 633.4h0M114.3 646.9h0M107.7 588.5h0M112.9 669.9h0M114.2 666.6h0M105.5 578.1h0M115.1 650.3h0M111.4 605.1h0M109.1 604.8h0M109.0 578.0h0M114.2 675.6h0M113.5 654.7h0M114.3 691.6h0M112.6 629.6h0M107.3 574.4h0M114.7 660.8h0M112.0 644.1h0M113.1 651.1h0M108.2 583.8h0M109.6 580.4h0M115.7 661.6h0M108.6 605.5h0M108.2 591.2h0M111.0 605.4h0M113.6 625.8h0M114.3 634.2h0M112.4 611.8h0M107.5 570.1h0M116.6 679.6h0M107.3 579.5h0M110.2 613.4h0M115.4 683.4h0M113.3 614.4h0M108.6 595.3h0M108.0 594.7h0M111.7 603.4h0M113.6 663.8h0M115.4 653.8h0M112.5 660.4h0M114.9 684.1h0M115.7 686.6h0M112.3 618.8h0M114.2 585.1h0M110.8 602.5h0M113.2 581.1h0M107.3 572.0h0M107.6 576.0h0M110.6 572.8h0M114.4 637.8h0M108.1 580.3h0M106.4 578.9h0M114.5 647.4h0M114.2 665.7h0M107.8 587.1h0M109.8 605.1h0M107.5 574.7h0M108.2 596.2h0M116.7 688.1h0M105.4 598.5h0M109.6 604.9h0M115.1 688.3h0M110.8 580.2h0M114.2 681.3h0M112.3 659.7h0M116.9 690.0h0M105.5 570.9h0M114.3 628.8h0M116.9 691.4h0M110.0 577.8h0M113.3 662.7h0M113.7 678.1h0M112.6 617.8h0M107.8 571.7h0M113.2 623.0h0M112.3 628.7h0M108.6 582.8h0M112.4 636.1h0M106.6 578.2h0M110.8 605.6h0M109.3 596.2h0M112.8 592.5h0M113.9 658.0h0M109.2 602.1h0M108.0 598.5h0M114.1 686.7h0M113.6 617.2h0M110.1 584.3h0M113.1 633.1h0M111.1 604.2h0M111.7 623.5h0M111.0 586.7h0M111.8 639.4h0M105.6 568.2h0M111.0 600.6h0M114.3 647.9h0M115.4 667.4h0M116.7 693.1h0M109.4 592.9h0M112.1 641.5h0M108.4 568.2h0M105.9 574.9h0M108.4 583.9h0M109.0 600.4h0M112.9 582.2h0M108.9 585.1h0M114.5 647.3h0M112.0 630.7h0M109.8 612.2h0M101.6 565.6h0M112.0 612.8h0M109.4 590.5h0M110.3 598.5h0M113.9 654.4h0M113.5 618.0h0M112.2 649.2h0M107.0 584.8h0M113.4 677.7h0M116.6 682.0h0M112.6 630.6h0M114.9 658.7h0M113.4 642.8h0M112.5 609.3h0M112.8 650.7h0M115.0 648.0h0M108.0 602.2h0M109.1 608.2h0M109.4 575.8h0M113.1 630.6h0M112.8 632.7h0M113.4 589.4h0M112.4 580.0h0M105.7 597.5h0M112.6 592.3h0M113.1 614.0h0M114.2 636.0h0M112.8 672.2h0M111.6 610.3h0M117.4 689.8h0M111.7 583.2h0M104.6 564.6h0M111.4 602.0h0M113.1 622.4h0M109.6 594.0h0M115.9 683.6h0M113.8 651.4h0M114.5 690.9h0M103.2 567.8h0M113.0 597.8h0M109.6 592.6h0M113.8 625.5h0M115.0 690.9h0M111.8 637.7h0M114.6 586.4h0M113.4 617.9h0M113.7 583.3h0M112.9 667.9h0M114.7 681.7h0M112.6 630.5h0M112.8 621.5h0M113.5 652.1h0M113.7 685.0h0M114.9 692.5h0M111.5 596.8h0M112.6 637.6h0M110.6 616.3h0M114.7 687.5h0M113.4 674.2h0M111.3 632.2h0M105.4 597.4h0M114.6 636.6h0M107.5 581.3h0M114.7 662.4h0M114.6 682.6h0M113.9 685.3h0M112.2 616.4h0M109.2 597.4h0M106.6 566.9h0M107.0 584.7h0M109.9 608.8h0M113.8 651.7h0M104.4 565.7h0M110.4 619.4h0M115.0 673.9h0M106.4 594.4h0M111.0 617.8h0M103.7 571.2h0M113.1 588.2h0M112.9 662.7h0M113.9 636.8h0M112.0 608.5h0M112.7 669.6h0M113.8 687.6h0M112.9 644.9h0M108.0 599.0h0M112.4 619.5h0M114.7 584.7h0M115.3 660.6h0M115.7 690.1h0M111.7 628.9h0M113.8 684.8h0M110.9 586.4h0M112.4 590.9h0M114.3 681.3h0M113.5 656.5h0M111.7 623.1h0M109.7 609.7h0M112.7 632.4h0M114.2 678.4h0M109.5 611.2h0M111.4 611.3h0M108.4 599.0h0M111.8 610.4h0M114.6 633.3h0M107.4 567.7h0M105.3 566.8h0M116.7 681.6h0M113.0 661.8h0M113.5 648.4h0M109.1 581.4h0M114.7 681.9h0M114.0 687.6h0M108.5 601.0h0M115.4 669.0h0M107.6 564.7h0M112.1 618.7h0M108.1 596.9h0M113.7 582.3h0" stroke="#4cff28" stroke-width="1.2" stroke-linecap="round" fill="none" stroke-opacity="0.85"/>
<path d="M104.5 606.4h0M102.3 611.4h0M103.2 606.0h0M99.5 611.2h0M105.3 605.8h0M102.9 602.0h0M104.0 604.5h0M100.3 612.3h0M101.8 603.0h0M104.4 600.5h0M103.3 607.3h0M102.7 604.7h0M105.3 601.4h0M101.4 605.7h0M106.1 602.0h0M103.0 609.2h0M103.4 600.5h0M106.4 603.8h0M104.9 603.6h0M104.3 601.1h0M99.9 607.9h0M104.8 603.6h0M104.4 605.3h0M103.4 610.5h0M100.0 609.1h0M105.6 604.2h0M107.0 603.0h0M100.2 610.4h0M104.3 602.8h0M100.6 611.8h0M99.9 611.8h0M99.8 611.2h0M102.5 607.8h0M103.2 609.6h0M102.3 601.6h0M101.3 606.2h0M102.5 606.1h0M104.7 602.6h0M103.4 606.3h0M101.1 610.6h0" stroke="#4cff28" stroke-width="1.3" stroke-linecap="round" fill="none" stroke-opacity="0.9"/>
<path d="M117.3 590.1h0M108.1 577.3h0M111.5 579.3h0M113.5 600.3h0M111.1 594.0h0M114.9 600.0h0M111.1 605.4h0M108.0 602.1h0M114.7 605.5h0M115.0 604.8h0M116.3 594.5h0M107.9 597.4h0M107.5 586.7h0M107.1 600.8h0M111.5 602.8h0M108.6 577.9h0M111.2 600.4h0M114.6 600.8h0M107.2 586.4h0M108.1 578.1h0M108.5 593.9h0M106.3 603.8h0M113.8 599.3h0M115.5 583.5h0M109.3 591.3h0M112.0 579.9h0M117.0 599.2h0M112.9 593.4h0M110.9 596.0h0M112.1 587.9h0M113.2 595.9h0M113.8 606.1h0M106.8 577.0h0M107.3 580.3h0M107.4 596.8h0M105.6 578.6h0M112.1 602.0h0M109.3 592.6h0M108.4 596.9h0M112.8 605.0h0M111.2 604.4h0M108.0 577.7h0M111.5 576.0h0M115.1 596.6h0M108.5 579.3h0M109.2 593.3h0M111.4 580.8h0M113.7 598.4h0M108.9 595.1h0M113.2 592.9h0M108.8 585.0h0M111.0 580.2h0M109.7 602.3h0M110.6 578.3h0M105.6 576.5h0M112.9 580.9h0M113.1 591.4h0M114.7 593.8h0M116.9 596.8h0M108.1 602.1h0M109.4 581.2h0M109.8 600.0h0M112.8 586.5h0M110.3 584.0h0M108.9 578.1h0M113.9 601.5h0M105.4 577.8h0M117.0 584.6h0M115.5 598.9h0M114.3 605.7h0M116.5 586.6h0M112.8 593.4h0M111.6 601.1h0M113.7 602.3h0M108.8 590.7h0M112.5 604.5h0M114.8 585.6h0M109.4 594.5h0M112.7 580.7h0M114.9 595.5h0M106.8 580.7h0M110.3 596.9h0M114.4 587.5h0M111.0 586.9h0M111.4 590.7h0M107.4 578.0h0M113.7 600.7h0M112.4 583.9h0M109.7 592.2h0M110.7 591.0h0M116.2 588.5h0M108.1 596.8h0M110.1 589.2h0M115.4 601.6h0M117.6 593.9h0M113.2 598.9h0M115.7 592.1h0M111.5 577.3h0M108.2 580.2h0M115.7 597.8h0M114.5 586.2h0M110.0 588.7h0M110.4 590.2h0M112.8 597.7h0M112.0 579.3h0M111.2 580.9h0M116.1 601.8h0M112.0 599.9h0M115.0 596.2h0M112.1 586.4h0M104.9 578.1h0M112.7 604.1h0M107.6 595.8h0M108.4 601.5h0M111.1 583.8h0M107.5 579.2h0M115.1 579.5h0M109.0 603.4h0M116.6 596.9h0M114.3 578.1h0M112.1 591.6h0M112.1 592.4h0M111.2 596.1h0M114.7 593.8h0M110.6 577.5h0M113.2 600.1h0M109.0 580.3h0M111.7 605.7h0M109.1 583.0h0M111.1 597.7h0M114.0 583.2h0M116.6 584.2h0M112.8 596.7h0M106.6 582.5h0M110.0 577.6h0M110.2 604.8h0M111.0 605.5h0M111.4 604.2h0M116.9 594.3h0M110.6 582.2h0M110.3 590.2h0M109.0 602.1h0M115.5 592.6h0M107.6 605.2h0M107.7 604.6h0M114.5 604.1h0M109.6 580.7h0M114.6 591.9h0M107.9 600.2h0M112.7 599.6h0M109.7 604.3h0M108.5 593.1h0M110.1 578.3h0M108.8 604.9h0M113.4 604.5h0M113.3 596.0h0M109.1 584.0h0M113.1 600.3h0M114.2 595.5h0M114.6 602.9h0" stroke="#50ff30" stroke-width="1.8" stroke-linecap="round" fill="none" stroke-opacity="0.9"/>
<path d="M116.1 587.5h0M118.4 596.6h0M115.0 581.8h0M118.6 594.7h0M114.4 586.0h0M119.5 586.2h0M119.7 591.0h0M114.7 587.5h0M120.4 595.8h0M117.5 589.8h0M117.4 585.2h0M117.2 581.0h0M120.9 597.4h0M117.3 585.2h0M120.7 590.4h0M116.0 585.4h0M115.8 582.7h0M116.4 599.9h0M119.7 588.5h0M116.8 596.8h0M118.0 590.9h0M120.7 591.7h0M116.6 592.9h0M120.9 595.4h0M115.7 579.7h0M114.7 583.0h0M117.2 597.8h0M118.0 586.6h0M119.1 595.1h0M118.8 585.7h0M121.0 594.2h0M115.3 588.2h0M120.7 595.9h0M115.6 586.3h0M117.2 597.3h0M118.6 596.5h0M117.2 591.6h0M113.3 580.1h0M119.1 598.6h0M120.1 599.0h0M116.4 590.3h0M116.5 584.8h0M116.3 580.1h0M118.1 595.9h0M120.0 595.6h0M114.2 585.7h0M119.3 588.7h0M116.0 595.8h0M112.6 581.1h0M118.1 589.9h0M119.2 598.9h0M117.5 589.0h0M118.7 586.7h0M116.7 588.2h0M117.9 593.7h0M120.2 594.9h0M118.0 586.3h0M116.5 595.7h0M121.6 599.3h0M118.6 596.9h0" stroke="#40d060" stroke-width="1.5" stroke-linecap="round" fill="none" stroke-opacity="0.7"/>
<path d="M130.5 564 C129.5 590, 129 620, 128.6 650 C128.2 670, 128 685, 127.6 694" stroke="#f01040" stroke-width="4" fill="none" filter="url(#soft)"/>
<path d="M130.5 564 C129.5 590, 129 620, 128.6 650 C128.2 670, 128 685, 127.6 694" stroke="#ff3a68" stroke-width="2" fill="none" filter="url(#soft05)"/>
<path d="M139 564 C140 572, 140 580, 139.5 590" stroke="#a01870" stroke-width="2.5" fill="none" filter="url(#soft)" opacity="0.8"/>
</g>
<rect x="86.4" y="587.6" width="67" height="66.2" fill="none" stroke="#f2aa28" stroke-width="1.4" stroke-dasharray="3.6 2.5"/>
<path d="M86.4 653.8L29 695.5 M153.4 653.8L158 693" stroke="#f2c060" stroke-width="1.1" stroke-dasharray="3.2 2.4" fill="none"/>
<rect x="134.3" y="688" width="20.5" height="2.8" fill="#fff"/>
<g clip-path="url(#cgb)">
<rect x="28" y="697" width="131" height="131" fill="#000"/>
<path d="M116.5 732.5v1.2M124.7 756.5v1.5M129.0 820.1v0.9M121.4 735.0v0.8M96.3 717.3v1.0M70.1 707.0v1.0M37.3 757.5v0.7M142.4 779.8v1.2M116.5 791.6v0.7M38.8 727.4v1.2M125.4 779.8v1.2M30.8 755.5v1.4M142.7 759.3v0.7M153.9 714.5v0.9M70.8 783.2v1.1M57.3 808.3v0.7M100.7 810.6v1.5M76.8 771.8v1.6M148.5 698.7v0.8M96.0 770.0v1.0M60.1 818.6v1.2M100.3 795.7v1.6M31.8 778.4v1.3M156.8 814.6v0.8M32.5 746.1v1.3M67.2 723.3v0.8M129.5 784.1v1.1M59.7 729.7v1.0M74.6 792.3v1.0M91.2 825.3v1.3M39.4 744.5v1.3M53.3 784.7v1.1M83.1 785.5v1.1M73.2 773.7v1.2M124.1 795.2v1.1M38.7 764.7v1.0M122.0 777.6v0.6M123.2 748.7v0.8M73.6 796.4v0.9M99.5 733.3v1.4M58.4 736.6v0.8M127.7 818.6v0.9M151.7 731.1v1.1M147.0 776.2v0.8M102.6 744.7v0.7M59.1 725.5v1.1M44.4 746.5v0.8M32.7 789.1v1.2M122.4 702.2v1.1M40.4 807.2v0.8M136.4 735.3v0.7M72.4 741.8v0.7M83.8 711.0v1.2M32.1 757.5v1.0M49.4 779.3v0.9M91.1 794.1v1.1M94.1 798.2v1.3M120.4 800.3v1.3M126.5 733.6v0.7M36.2 796.5v1.6M130.4 788.9v0.7M54.3 760.9v1.2M35.5 779.8v1.5M72.4 765.2v1.6M44.1 720.4v1.0M29.1 699.6v1.2M98.0 759.6v0.9M29.6 797.2v0.8M104.9 754.0v1.3M110.8 768.3v0.6M100.7 826.2v1.3M68.9 791.3v1.5M28.4 740.4v1.4M143.2 774.3v1.0M48.5 700.2v0.7M51.7 741.2v1.5M147.2 801.7v1.1M134.1 819.1v0.7M111.6 810.1v1.6M82.9 718.0v1.0M29.0 735.8v1.0M63.0 783.5v1.5M81.1 699.4v0.9M31.8 757.8v0.8M32.6 819.3v1.5M64.5 748.5v1.2M54.6 780.9v0.6M153.9 776.0v1.6M38.3 787.1v0.7M41.1 768.8v1.3M90.6 730.9v1.4M38.4 732.2v1.3M37.0 704.8v0.8M87.4 759.1v1.1M103.0 707.9v1.6M151.4 734.9v1.4M44.1 743.8v1.1M151.8 699.0v1.3M120.8 815.0v1.4M95.4 715.1v0.9M93.1 778.5v1.5M128.8 728.6v0.7M50.9 737.4v0.8M148.3 742.7v1.2M64.6 700.4v1.3M99.7 765.3v0.8M44.4 795.2v1.4M33.1 735.8v1.2M40.2 752.0v0.9M96.5 707.0v0.8M151.4 776.0v1.4M37.2 817.2v1.4M77.0 708.1v1.0M84.6 813.7v0.8M144.7 777.3v0.7M101.6 826.8v1.3M71.6 734.6v1.1M106.0 748.7v1.6M46.0 751.4v1.4M158.5 733.8v1.3M123.2 711.5v1.0M143.6 757.2v1.5M149.0 743.9v1.2M44.5 699.1v0.9M53.1 778.1v1.2M52.5 790.8v1.2M85.0 780.6v0.9M38.3 726.7v1.5M128.1 708.5v0.8M87.2 763.8v0.8M100.4 815.1v1.5M32.5 713.3v0.8M39.9 715.2v0.8M126.9 795.9v1.4M83.1 770.4v1.6M65.2 734.8v0.7M131.2 720.4v1.5M99.4 747.0v0.9M36.7 731.5v1.6M37.0 740.3v1.2M29.6 700.2v1.2M106.5 747.6v1.6M98.5 811.4v0.8M38.7 708.8v1.0M63.5 710.5v1.5M51.1 728.8v0.8M122.1 810.2v1.1M84.9 793.0v0.9M65.7 705.8v1.1M72.4 728.0v0.9M100.9 742.7v1.6M94.1 708.9v1.2M129.2 735.7v1.0M92.4 758.2v1.2M136.6 720.4v1.0M109.1 814.2v1.0M41.9 808.4v1.4M62.8 754.2v0.7M103.0 708.5v1.1M134.4 703.7v1.2M54.0 767.7v1.3M98.2 712.2v1.5M49.2 730.5v0.6M126.8 767.7v0.8M58.6 767.9v1.3M73.1 740.1v1.3M95.3 720.5v0.9M76.3 743.5v1.1M82.2 744.1v1.5M40.6 716.1v1.4M66.7 718.9v0.9M145.6 740.3v1.2M132.4 731.0v1.4M149.6 778.0v1.1M63.2 724.3v0.9M80.4 698.2v1.5M149.6 763.0v0.9M106.1 719.9v0.9M72.1 716.5v1.0M63.5 782.5v1.1M35.2 775.8v1.4M124.9 761.4v1.5M92.8 816.4v1.1M141.1 790.2v0.9M89.2 801.6v1.0M117.5 705.4v0.7M121.1 743.8v1.6M142.8 790.1v1.0M115.6 712.8v1.6M146.4 778.9v1.3M110.4 731.9v1.1M66.0 804.4v0.9M31.2 771.0v0.8M62.4 777.1v1.0M133.3 792.4v1.1M113.0 807.3v1.5M56.7 773.8v1.0M75.3 749.7v0.7M28.2 697.9v1.2M81.5 779.0v0.7M108.9 819.6v1.1M35.5 756.0v1.2M57.7 707.0v1.1M32.2 705.5v1.1M93.0 731.2v1.5M146.4 768.3v0.6M46.3 706.0v0.7M41.3 734.3v0.9M141.6 727.4v0.9M49.6 741.3v1.5M110.4 761.3v0.8M103.2 769.5v1.3M43.8 704.3v0.6M121.3 721.7v1.6M92.6 773.4v1.1M79.6 768.8v1.4M63.1 787.3v0.9M131.9 824.9v1.3M48.3 817.1v0.6M94.2 795.0v1.1M101.3 780.4v0.8M97.2 787.2v1.2M28.8 751.0v0.7M86.1 710.1v1.3M69.0 727.2v0.9M138.7 716.2v0.7M97.9 745.3v1.0M138.9 751.0v0.7M128.2 749.0v1.4M32.9 802.3v0.9M88.6 792.2v0.8M44.7 824.9v0.8M154.0 722.6v0.8M143.6 748.8v1.4M94.6 719.8v1.0M89.5 720.6v1.0M112.9 769.5v1.0M36.2 783.6v1.5M60.9 740.0v1.1M131.2 739.2v0.8M74.9 819.5v1.5M120.4 733.7v0.9M127.1 803.8v0.8M39.8 752.3v1.3M52.3 788.9v0.9M130.8 766.3v1.5M109.1 792.0v0.9M146.7 784.0v0.8M30.9 708.6v1.1M149.3 718.2v1.1M37.4 791.3v0.8M84.7 741.3v0.6M46.5 819.6v1.3M121.7 737.0v1.4M43.9 775.6v0.9M113.1 731.3v1.2M57.8 733.1v1.4M80.5 764.1v1.2M85.3 787.8v1.3M91.7 800.0v1.2M111.3 805.4v1.1M71.1 713.9v1.5M119.5 755.3v1.2M157.1 821.8v1.2M49.2 713.2v0.7M70.1 803.8v1.1M34.6 770.7v1.3M144.7 758.0v0.9M99.2 795.9v1.1M42.7 808.4v0.8M76.3 794.0v1.4M62.1 814.8v1.6M152.4 786.4v1.2M91.9 823.0v1.5M97.0 730.2v1.0M112.8 815.3v1.4M106.1 735.0v0.8M145.4 820.0v0.9M29.0 812.9v0.7M92.1 753.6v1.2M111.5 826.0v1.6M66.2 793.6v1.3M94.8 813.0v1.5M33.5 706.1v1.3M129.7 702.2v0.8M81.2 740.8v1.2M148.7 773.3v1.1M113.7 785.8v0.8M59.1 810.9v0.6M151.2 813.1v1.1M84.3 708.4v1.5M95.4 817.6v1.4M83.9 707.4v0.7M121.0 702.7v0.8M121.0 778.7v1.4M144.7 759.4v1.1M91.0 820.1v1.1M128.7 761.2v0.8M56.5 742.3v1.4M115.0 707.7v1.4" stroke="#1c22ff" stroke-width="2.2" stroke-linecap="round" fill="none" stroke-opacity="0.85"/>
<path d="M102.9 713.1v1.5M39.1 729.5v1.3M103.4 806.1v1.4M62.5 732.3v0.8M133.8 808.9v0.9M144.6 783.1v0.7M86.1 764.0v1.1M70.3 763.3v1.1M37.5 738.5v0.8M52.7 787.3v1.3M111.1 722.4v1.3M115.1 762.0v0.9M140.2 803.9v1.0M103.0 725.5v1.1M153.5 719.6v1.1M66.5 721.2v1.3M48.7 754.5v0.8M84.0 795.9v1.0M146.0 766.0v1.5M113.3 782.3v1.4M134.9 824.5v1.0M60.2 797.4v1.4M148.5 708.8v1.1M155.0 799.7v1.0M35.1 709.3v0.8M156.0 736.5v0.8M106.9 808.6v0.9M41.3 790.6v1.1M148.4 789.1v1.0M105.9 738.2v1.4M106.7 755.0v0.7M45.1 733.5v1.5M35.4 730.2v1.6M75.7 757.6v1.4M118.1 749.1v1.5M143.1 803.3v0.8M124.9 767.7v1.1M129.4 792.4v1.4M40.9 799.9v0.9M53.9 743.9v0.8M100.8 781.9v0.8M93.5 801.3v0.6M59.3 750.1v0.8M97.0 699.6v0.6M37.1 784.0v1.4M132.4 818.6v1.3M48.1 806.5v0.8M93.1 750.6v0.7M142.5 779.4v1.0M139.5 730.4v1.5M111.0 748.2v1.5M130.9 765.5v1.0M147.0 803.8v1.2M144.1 779.2v0.6M64.2 773.0v1.4M35.3 821.9v1.2M102.7 813.3v1.2M37.8 725.2v1.4M125.3 782.6v1.4M152.1 777.9v1.1M112.6 710.6v0.6M155.2 736.3v0.7M127.0 714.8v1.3M49.7 734.3v0.6M119.3 710.2v1.1M147.8 728.4v1.1M76.2 762.0v1.0M58.4 750.6v1.5M32.4 704.5v0.9M97.6 824.1v0.9M85.5 808.9v1.0M78.5 717.8v1.0M45.4 743.3v1.0M127.2 704.5v0.7M75.9 763.5v0.8M108.5 776.5v0.8M140.9 748.5v1.6M117.5 785.3v1.0M51.3 821.2v0.7M39.0 738.8v1.2M126.2 789.3v1.0M148.9 814.2v1.3M116.8 767.2v1.5M131.1 817.5v1.2M63.3 804.0v0.7M59.1 735.2v0.7M46.5 717.9v1.1M156.0 768.2v0.7M116.0 746.5v1.3M47.3 711.2v1.0M79.5 755.4v1.2M32.0 719.9v1.4M154.2 716.2v0.8M43.9 825.6v1.6M147.7 794.0v1.4M152.1 787.5v0.9M152.7 710.7v1.1M118.7 759.0v1.1M85.2 825.6v0.8M69.4 785.9v1.2M119.8 758.7v1.0M133.0 701.6v0.7M145.3 749.1v1.6M31.5 757.0v1.5M126.3 781.6v0.7M152.9 802.6v1.5M81.9 697.4v1.2M61.6 736.7v0.7M78.3 791.3v1.0M142.2 746.0v1.2M124.9 719.7v1.5M108.9 712.6v0.9M36.8 793.3v0.9M120.1 776.7v1.2M95.8 726.8v0.6M74.0 718.9v0.8M99.2 790.3v1.6M28.3 719.7v1.5M141.6 792.8v1.1M145.6 779.8v1.3M58.9 740.6v1.3M54.7 776.2v1.1M90.7 769.4v1.4M69.3 812.2v1.6M140.1 749.9v1.1M45.2 808.4v1.4M81.1 771.7v1.2M125.8 801.3v0.9M94.3 699.6v1.0M32.2 810.1v1.6M61.5 785.4v0.8M126.1 718.3v0.7M82.3 705.0v1.5M43.2 810.1v0.8M78.5 741.6v0.8M32.9 775.0v1.0M40.8 821.5v1.2M124.4 765.2v1.1M54.9 735.0v0.8M31.1 723.2v1.2M78.7 738.1v0.9M119.1 704.2v1.1M151.3 802.6v1.5M118.5 730.1v1.6M133.8 756.1v1.4M90.5 721.4v1.4M126.5 800.6v1.0M32.0 785.4v1.2M62.8 817.2v1.5M74.2 759.0v1.1M83.3 823.0v1.4M131.4 719.0v1.4M83.7 803.0v1.1M109.7 740.0v0.8M69.0 744.5v1.1M41.9 725.9v1.3M105.2 811.8v1.1M54.9 738.4v0.8M52.7 809.7v1.6M113.0 734.9v1.0M84.8 764.1v0.6M68.3 812.3v0.7M152.5 746.9v1.1M45.1 747.1v1.0M70.6 808.6v1.4M121.8 812.8v1.6M117.7 697.9v1.2M54.3 748.8v1.5M70.5 733.0v0.7M156.4 824.1v1.1M86.9 722.6v1.5M158.9 825.2v1.4M73.4 775.5v1.2M146.9 773.6v0.9M54.9 716.7v1.0M134.1 739.0v0.9M40.5 799.9v0.6M125.0 779.4v1.5M105.8 726.6v1.1M134.3 740.5v1.3M111.5 728.6v0.6M46.0 772.9v1.4M122.5 827.4v0.6M115.3 708.4v1.3M154.7 773.6v1.2M91.1 728.3v1.1M86.1 755.3v1.3M141.6 768.0v1.2M31.1 799.4v1.5M46.1 760.2v1.1M91.9 798.9v1.1M44.3 809.3v0.8M74.5 760.8v0.7M128.5 807.9v1.5M157.1 700.6v1.5M53.8 754.3v1.4M49.5 715.6v1.6M139.2 739.9v1.3M139.5 826.3v1.6M154.6 788.5v0.9M156.4 783.3v1.1M76.2 754.0v0.8M84.4 709.7v0.9M87.6 763.4v1.6M130.2 720.8v0.7M69.4 811.3v1.1M120.5 711.5v1.4M107.2 813.7v0.9M75.8 720.8v0.8M106.5 699.8v0.9M75.8 798.2v1.4M93.3 704.5v1.0M72.2 805.9v0.7M93.8 725.2v0.6M153.9 821.9v0.9M30.2 748.1v1.5M84.0 784.8v1.2M78.5 723.8v0.8M97.1 740.2v1.0M115.4 749.3v0.9M144.8 819.0v1.5M64.2 725.7v1.0M98.6 791.9v1.2M102.1 759.5v1.1M51.8 804.0v1.1M83.7 715.7v1.4M84.3 793.0v1.5M129.5 774.8v1.2M144.0 824.8v1.4M55.4 787.1v1.0M105.7 765.6v0.6M144.6 778.6v1.0M69.9 740.8v1.4M152.8 719.2v0.8M157.6 704.0v1.4M137.5 785.0v1.0M117.1 796.6v0.7M135.0 709.9v1.0M104.4 699.5v0.7M41.4 730.9v0.9M144.5 739.1v0.6M147.5 755.3v1.1M134.7 767.5v1.0M143.5 751.7v1.5M130.9 734.0v1.3M48.1 775.9v1.5M102.0 710.3v1.5M46.4 757.2v0.6M138.9 726.5v0.6M113.9 825.5v1.2M155.4 789.6v0.8M41.6 731.4v0.8M130.5 816.2v0.8M73.3 783.7v1.2M154.9 825.6v1.1M103.5 796.2v1.1M112.7 754.6v1.5M76.8 791.1v1.5M85.4 699.0v0.7M149.6 782.1v1.5M95.6 707.3v0.8M45.1 773.5v0.7M99.5 708.6v0.9M119.3 703.3v1.2M67.7 707.6v0.8M34.3 699.3v0.8M81.2 712.4v1.5M84.9 783.7v1.0M35.5 775.0v0.7M91.0 789.5v1.0M42.3 769.1v0.9M151.9 795.7v0.8M131.2 716.4v1.6M97.3 759.5v1.4M63.9 773.0v1.2M108.8 712.8v0.9M105.8 739.7v1.2M56.7 739.9v0.6M125.7 803.7v1.5M141.7 746.1v1.0M48.7 698.8v1.0M95.4 823.5v0.9M122.4 704.1v1.4M48.1 765.8v1.4M61.7 752.3v0.7M28.7 787.6v1.0M96.9 701.8v0.9M92.3 771.4v1.5M97.3 794.9v1.2M64.6 760.7v0.8M88.1 802.6v1.4M102.3 712.5v1.1M149.4 764.2v1.3M138.4 713.6v0.7M129.5 742.5v0.9M52.9 709.0v0.7M126.5 738.1v1.2M140.3 737.9v0.9M62.0 727.2v0.9M43.2 711.7v1.0" stroke="#1014b0" stroke-width="2.0" stroke-linecap="round" fill="none" stroke-opacity="0.8"/>
<path d="M89.0 797.7v1.1M103.0 705.0v1.0M92.2 792.9v1.5M100.6 704.8v1.5M94.8 736.1v1.0M99.1 733.0v1.1M106.2 727.9v0.9M86.8 706.8v1.2M86.5 742.1v0.7M104.1 817.7v0.8M105.8 722.2v0.9M94.8 771.4v1.5M99.1 754.4v1.3M102.1 819.1v1.1M92.8 719.0v1.0M105.8 770.5v1.4M97.1 822.1v1.0M94.0 808.0v1.2M105.5 781.2v1.6M86.1 801.3v1.4M88.1 737.2v1.2M103.8 773.2v1.3M99.3 808.6v1.3M89.1 705.4v1.0M98.8 809.4v0.7M103.3 749.2v1.2M89.4 785.2v1.5M86.9 768.8v1.3M88.8 747.1v0.8M101.9 825.5v0.8M89.0 794.4v1.1M90.1 785.2v1.0M106.3 751.0v0.9M99.5 758.0v1.6M86.6 751.5v0.9M97.4 745.7v1.2M88.1 785.9v0.6M91.9 761.5v1.4M101.7 709.5v1.6M106.8 724.8v0.7M104.8 819.4v0.7M97.2 743.5v0.7M90.4 821.0v1.2M99.0 805.2v1.3M89.4 700.9v1.3M100.6 799.9v0.8M99.8 702.8v1.4M103.4 701.9v1.3M97.0 814.3v1.1M99.1 725.5v1.2M105.2 761.6v1.1M99.8 707.8v1.4M89.4 715.7v0.6M98.1 786.8v0.9M91.4 731.9v0.8M94.5 803.3v1.5M105.5 781.5v0.7M95.9 749.3v1.0M91.5 810.3v1.3M89.4 795.3v1.2M93.4 748.3v0.8M91.1 730.4v0.7M93.0 751.2v1.0M92.2 710.5v1.1M97.6 757.2v1.5M87.3 807.3v0.7M106.1 802.6v1.4M90.0 816.6v1.4M91.9 774.7v0.7M90.9 735.7v0.9M90.6 822.6v1.0M101.4 818.6v1.1M94.3 707.4v1.3M98.0 777.3v1.5M105.1 749.9v1.6M102.9 709.6v1.2M88.1 736.3v0.8M102.9 752.7v1.2M89.2 807.6v1.6M99.3 757.4v1.1M100.1 780.9v1.0M86.1 807.0v0.7M95.0 809.2v0.7M102.6 738.6v0.8M94.3 750.3v0.9M103.1 704.7v1.0M88.8 803.6v1.1M89.1 823.4v1.2M99.0 809.7v0.9M86.5 816.6v1.1M93.7 800.8v1.0M98.3 747.6v0.9M91.3 788.1v0.8M88.9 773.6v0.7M95.8 757.0v1.4M102.7 697.6v1.2M94.3 762.6v1.5M92.2 785.4v1.1M97.3 796.6v1.5M106.7 735.9v0.8M103.0 786.1v1.1M88.8 730.5v1.0M87.0 786.9v1.0M103.2 751.6v0.7M99.5 704.0v1.3M101.6 705.7v0.6M100.4 821.6v1.5M103.8 771.5v0.7M100.3 721.5v1.5M104.1 766.2v1.2M104.6 806.0v1.1M100.8 750.8v1.6M96.4 824.2v0.9M87.1 716.3v0.8M105.7 776.6v0.7M103.0 792.8v1.2M104.2 750.7v0.7M90.7 810.4v1.2M92.5 712.6v1.1M91.9 819.6v0.8" stroke="#2040ff" stroke-width="2.6" stroke-linecap="round" fill="none" stroke-opacity="0.9"/>
<path d="M87.5 782.1v1.1M97.9 711.3v1.1M101.6 713.4v0.9M96.0 808.0v1.0M101.1 826.8v1.4M89.2 734.1v1.6M99.5 722.8v0.9M86.4 726.5v1.2M97.9 799.3v0.9M89.0 774.2v1.1M102.5 825.5v0.9M103.6 698.6v1.2M101.7 730.5v1.3M106.5 721.8v0.7M102.5 788.1v1.5M94.3 748.5v1.1M91.9 725.6v0.9M89.5 746.6v1.4M88.5 775.9v1.4M106.3 746.9v1.4M92.7 698.0v0.9M100.4 746.9v1.2M89.2 749.1v1.3M98.0 785.2v1.5M92.2 775.2v1.1M88.7 731.3v1.3M100.0 803.3v0.6M91.4 700.6v1.3M98.6 795.6v0.6M93.8 826.2v1.3M97.3 724.7v1.1M100.5 740.0v0.9M92.2 758.4v1.4M104.3 780.9v1.4M103.6 787.1v0.6M91.6 727.8v0.8M91.1 778.9v1.4M94.7 765.1v1.1M91.5 796.1v0.8M107.1 717.0v1.2M92.8 715.3v0.7M97.1 772.9v1.0M97.9 814.1v0.9M101.1 705.0v0.8M92.6 809.9v0.8M94.6 769.1v1.0M99.1 698.9v1.0M88.9 749.1v0.8M97.7 705.3v1.5M104.2 735.5v1.2M99.4 780.7v1.5M105.7 816.7v0.9M90.5 772.7v1.2M102.9 779.8v1.2M91.8 821.7v1.2M88.3 809.6v0.8M93.8 786.0v1.0M99.8 795.0v1.0M97.3 754.0v0.8M103.5 820.8v1.5M92.5 750.2v0.6M103.7 697.1v0.6M94.7 702.4v1.2M90.2 786.7v0.6M104.2 750.5v1.1M106.0 762.9v0.6M103.4 786.8v0.7M93.4 827.5v0.6M105.5 772.0v1.3M104.1 778.4v0.9M93.1 806.4v0.7M92.4 773.1v0.8M106.0 792.2v1.1M101.3 802.4v0.9M93.2 786.5v1.1M103.2 801.7v0.7M104.8 815.1v1.0M104.5 756.2v1.2M103.2 735.5v1.4M96.2 820.3v0.6M100.2 755.1v1.1M88.7 772.4v0.7M103.3 734.1v1.5M95.1 805.3v0.8M92.6 703.5v1.4M99.8 755.8v0.9M90.4 736.6v1.0M96.2 797.4v0.9M103.1 727.9v1.2M89.6 746.5v0.9M97.3 707.1v0.8M100.6 764.7v1.1M87.2 710.5v1.4M93.0 731.7v1.4M92.5 809.5v0.9M89.2 706.8v1.4M102.2 814.4v1.6M105.3 725.1v1.3M94.9 737.3v1.6M91.8 718.8v1.0M102.9 754.7v1.2M107.2 730.6v1.2M89.4 818.3v0.7M106.7 738.7v0.9M92.9 754.8v1.2M97.8 733.6v1.1M91.1 727.7v1.4M105.8 795.9v1.5M100.2 764.1v1.0M100.3 824.1v0.6M105.7 733.7v1.4M93.7 810.9v0.7M95.2 816.2v1.4M102.3 750.9v1.2M98.5 698.0v1.5M103.5 771.7v1.3M95.9 746.8v0.8M94.0 730.8v1.4M94.0 765.0v1.3M91.1 812.1v0.9" stroke="#1a60ff" stroke-width="2.2" stroke-linecap="round" fill="none" stroke-opacity="0.8"/>
<path d="M86.8 710.9v0.9M89.0 710.4v0.8M106.6 717.2v1.3M88.0 818.1v0.6M89.2 811.9v0.7M96.6 710.7v1.0M96.1 798.5v1.2M106.9 762.9v1.1M87.6 781.1v0.7M98.1 775.0v1.2M105.0 738.2v1.1M87.8 702.2v1.1M95.8 814.2v1.6M96.4 769.9v0.7M100.7 816.1v0.6M88.7 764.4v1.3M94.2 810.4v1.4M93.6 754.0v0.8M89.0 707.6v0.6M100.8 768.1v1.1M103.1 731.5v0.8M100.8 743.7v1.6M95.9 816.8v0.7M105.4 732.8v1.0M94.3 743.3v0.7M100.9 714.6v0.8M89.6 718.9v1.6M86.8 744.7v1.1M89.4 733.6v1.3M101.1 705.0v1.0M103.5 769.5v1.0M101.3 760.3v0.9M99.1 812.7v0.7M89.3 738.7v1.3M101.4 806.2v0.8M94.6 806.3v1.2M96.4 710.4v1.0M86.8 772.4v1.5M94.7 709.6v0.7M95.8 767.7v1.4M88.7 707.8v1.1M99.8 727.1v0.9M103.7 799.8v1.2M97.4 713.8v0.8M93.0 805.4v1.2M101.1 796.4v1.0M103.0 726.6v1.0M93.7 806.6v1.5M94.3 814.2v0.9M97.9 697.6v1.3M95.4 697.3v0.9M101.8 820.2v1.3M93.9 771.5v1.5M91.2 745.8v0.9M104.9 780.8v1.1M96.2 720.9v1.4M99.7 797.7v0.8M105.1 807.1v1.3M91.0 744.4v1.0M100.1 710.5v1.0M101.0 817.7v1.5M100.6 709.8v1.2M101.4 781.1v1.4M107.0 746.3v0.9M96.1 735.6v0.6M95.9 761.3v0.7M99.5 737.4v0.7M95.8 754.0v1.0M105.6 822.8v1.1M89.1 792.3v1.6M103.7 706.6v0.7M89.6 721.7v0.7M103.3 762.8v1.2M105.8 806.6v1.3M92.4 766.1v1.6M96.7 764.1v1.4M90.7 698.8v0.9M93.9 749.9v1.5M103.6 701.5v1.3M97.6 801.4v1.2M100.3 723.3v1.5M103.7 713.1v1.2M95.0 788.0v0.9M103.2 740.5v1.0M88.5 787.0v1.5M87.2 806.0v1.0M97.9 754.7v1.0M91.6 738.5v1.4M89.4 728.9v1.6M86.5 775.2v1.5M91.4 728.8v1.0M93.6 706.2v1.0M104.5 785.7v1.2M89.2 741.1v0.7M98.8 731.9v0.8M97.9 738.1v1.2M91.8 770.1v0.9M88.9 788.3v1.6M89.5 799.8v1.0M107.0 732.3v0.7M99.0 778.4v1.1M99.6 705.1v0.7M87.9 807.4v0.8M98.6 738.5v1.4M105.8 724.9v0.6M98.6 699.2v0.9M98.9 704.4v1.0M99.3 789.0v0.9M96.1 752.3v1.0M98.4 704.9v1.1M92.8 786.1v1.2M88.3 713.0v0.9M97.6 709.0v1.4M104.8 763.3v0.7M101.9 697.4v1.4M95.4 730.5v1.1M101.7 700.0v0.9M104.4 721.3v0.6M99.2 825.1v0.9M96.8 774.3v0.8" stroke="#20b0a0" stroke-width="1.6" stroke-linecap="round" fill="none" stroke-opacity="0.7"/>
<path d="M80 697 L83 710 L84 725 L85 740 L85 760 L84 780 L83 800 L84 828" stroke="#30c020" stroke-width="6" fill="none" filter="url(#soft2)" opacity="0.7"/>
<path d="M83.6 801.8h0M83.2 728.4h0M85.2 726.0h0M82.0 797.7h0M87.7 729.0h0M83.9 790.1h0M81.3 707.3h0M84.1 766.5h0M81.6 773.7h0M81.7 770.0h0M85.5 769.0h0M85.0 743.5h0M85.9 785.4h0M82.3 712.2h0M85.6 798.8h0M83.1 697.9h0M84.2 756.0h0M88.6 761.5h0M83.4 788.7h0M87.9 734.2h0M78.3 698.9h0M83.0 796.3h0M81.7 719.6h0M83.0 800.4h0M84.3 750.3h0M80.7 797.2h0M88.7 739.7h0M82.1 786.6h0M87.1 730.0h0M86.4 724.4h0M84.5 780.2h0M84.4 723.0h0M84.4 801.8h0M83.2 818.5h0M79.9 810.1h0M78.8 704.1h0M87.1 761.5h0M86.7 730.9h0M83.3 716.0h0M82.0 716.2h0M84.4 724.2h0M81.8 724.6h0M80.5 797.7h0M86.0 725.2h0M80.1 815.1h0M85.3 780.7h0M85.4 720.5h0M81.1 779.7h0M84.3 761.9h0M82.2 745.3h0M84.2 749.3h0M88.1 739.3h0M80.3 702.4h0M83.5 730.4h0M85.2 736.3h0M82.1 791.3h0M87.3 817.9h0M88.1 768.6h0M83.5 719.6h0M82.5 713.1h0M77.8 698.3h0M81.8 719.1h0M82.7 744.2h0M80.9 731.1h0M85.8 800.5h0M83.6 713.4h0M85.4 732.3h0M85.2 761.8h0M85.6 724.1h0M85.9 717.1h0M81.9 736.2h0M84.7 768.6h0M81.8 729.9h0M82.3 699.4h0M85.9 813.4h0M79.2 696.2h0M81.8 822.1h0M80.0 698.6h0M81.6 707.6h0M85.6 786.7h0M85.7 820.9h0M83.6 707.6h0M85.0 723.9h0M86.6 779.8h0M82.0 763.6h0M86.6 819.8h0M87.9 757.3h0M84.4 709.7h0M85.1 758.6h0M87.7 733.0h0M80.5 714.9h0M87.9 769.5h0M84.5 710.5h0M84.3 714.0h0M81.1 697.4h0M84.2 781.2h0M85.2 719.5h0M83.0 724.6h0M84.0 705.2h0M86.8 734.5h0M87.1 766.9h0M84.7 786.3h0M85.3 745.6h0M86.5 781.0h0M84.7 781.3h0M83.8 736.5h0M85.0 751.1h0M80.3 794.0h0M86.4 741.0h0M80.6 805.7h0M86.9 772.8h0M85.1 781.6h0M86.5 752.4h0M86.9 775.4h0M86.1 731.6h0M80.7 791.7h0M80.8 771.1h0M83.6 796.7h0M82.2 768.0h0M84.1 744.6h0M84.7 802.8h0M86.5 765.6h0M86.5 776.9h0M83.4 792.3h0M82.2 741.3h0M87.3 822.4h0M85.3 727.0h0M86.7 749.0h0M83.9 828.3h0M85.0 819.7h0M85.0 732.4h0M80.4 710.4h0M82.8 772.2h0M85.9 795.0h0M83.8 717.3h0M80.6 705.2h0M84.2 709.3h0M82.7 707.5h0M83.2 794.1h0M86.5 755.5h0M84.8 721.8h0M86.2 734.2h0M85.0 720.9h0M83.9 736.2h0M79.0 704.3h0M87.7 752.7h0M82.2 784.2h0M85.7 800.0h0M86.4 763.7h0M81.0 699.9h0M86.6 726.3h0M83.8 709.5h0M86.5 722.0h0M86.0 787.2h0M78.9 698.7h0M81.1 824.4h0M84.7 746.6h0M80.5 816.4h0M85.4 759.8h0M80.4 782.1h0M82.1 725.2h0M82.0 727.4h0M83.1 744.8h0M86.5 729.8h0M87.4 780.5h0M81.2 736.2h0M85.4 751.8h0M82.4 761.5h0M85.4 739.6h0M84.3 770.9h0" stroke="#48f030" stroke-width="2.0" stroke-linecap="round" fill="none" stroke-opacity="0.8"/>
<path d="M89.6 722.7h0M77.8 734.2h0M79.8 734.7h0M85.5 718.2h0M90.9 714.9h0M89.6 723.1h0M83.9 735.4h0M76.7 725.0h0M75.9 708.1h0M81.8 738.5h0M77.3 742.5h0M77.0 716.4h0M85.6 740.8h0M75.2 720.3h0M81.5 728.1h0M81.8 735.3h0M85.8 697.1h0M80.6 699.3h0M79.3 702.6h0M79.3 733.8h0M88.4 730.1h0M78.8 718.8h0M78.9 710.9h0M74.7 704.7h0M80.1 728.0h0M80.5 723.3h0M81.7 710.0h0M86.4 726.5h0M84.2 701.7h0M85.6 702.0h0M84.2 735.4h0M88.4 703.2h0M75.5 703.7h0M80.8 698.5h0M88.5 706.2h0M90.8 731.2h0M83.8 740.7h0M81.9 743.5h0M79.0 741.6h0M84.9 713.6h0M83.8 737.9h0M80.8 700.8h0M84.7 712.7h0M92.6 724.4h0M76.4 724.9h0M84.5 733.6h0M86.8 723.3h0M80.5 737.7h0M80.8 704.6h0M77.8 726.6h0M82.1 705.9h0M91.9 716.7h0M86.9 714.7h0M82.6 712.1h0M76.8 697.6h0M85.9 721.4h0M84.1 724.4h0M76.5 705.7h0M76.1 707.1h0M89.2 737.2h0M82.7 718.6h0M80.7 717.5h0M86.9 717.2h0M81.9 713.3h0M88.6 722.5h0M80.4 722.4h0M80.6 718.3h0M87.3 700.4h0M73.2 697.4h0M87.2 706.1h0M91.3 722.0h0M93.3 735.2h0M74.0 703.8h0M87.8 731.5h0M84.6 724.6h0M82.8 707.8h0M87.6 706.6h0M86.5 727.5h0M86.6 727.7h0M72.5 705.1h0M78.2 725.9h0M84.4 714.6h0M82.2 698.9h0M87.9 730.8h0M77.5 709.6h0M75.8 700.9h0M78.7 724.2h0M93.2 727.1h0M89.3 727.6h0M86.0 702.4h0M77.5 726.5h0M90.8 714.8h0M77.6 726.8h0M84.6 714.1h0M87.9 734.1h0M82.3 701.9h0M77.8 699.2h0M81.5 714.2h0M82.1 731.1h0M76.1 707.0h0M82.0 719.5h0M76.0 715.4h0M74.0 699.9h0M83.3 707.3h0M75.8 705.8h0M76.3 705.8h0M83.4 735.4h0M76.5 703.7h0M79.0 714.8h0M79.2 698.7h0M84.7 733.9h0M92.6 736.3h0M72.5 703.9h0M85.1 699.3h0M73.0 703.0h0M92.1 721.1h0M78.5 745.4h0M79.0 719.9h0M73.9 701.0h0M80.7 718.4h0" stroke="#40e030" stroke-width="1.8" stroke-linecap="round" fill="none" stroke-opacity="0.6"/>
<path d="M87.3 753.8h0M89.0 745.2h0M88.0 740.9h0M89.3 742.1h0M91.8 817.8h0M88.4 743.7h0M94.7 807.7h0M87.1 712.2h0M94.1 793.0h0M89.5 705.6h0M90.0 802.4h0M92.2 781.9h0M85.7 702.1h0M88.7 705.8h0M88.0 701.8h0M91.9 780.1h0M93.5 796.0h0M90.0 788.1h0M88.4 746.0h0M90.2 775.7h0M95.7 777.4h0M93.6 734.0h0M88.1 773.2h0M93.0 736.1h0M88.6 729.1h0M91.2 748.2h0M88.1 746.0h0M94.9 810.1h0M85.5 701.9h0M91.7 781.8h0M92.4 799.4h0M91.8 757.0h0M91.3 750.0h0M91.3 756.3h0M93.4 732.0h0M90.4 722.2h0M91.2 767.0h0M96.8 806.9h0M85.3 719.8h0M93.2 783.3h0M95.0 817.5h0M91.0 736.9h0M92.0 724.0h0M90.4 798.6h0M87.9 769.3h0M84.5 705.3h0M90.1 780.8h0M87.7 739.6h0M94.5 826.7h0M92.3 743.7h0M91.4 742.3h0M92.9 799.1h0M90.2 787.0h0M92.1 757.0h0M90.7 733.0h0M94.2 787.3h0M91.4 709.2h0M90.6 768.0h0M91.9 797.4h0M88.7 790.3h0M96.0 782.4h0M86.7 754.4h0M89.1 719.3h0M87.3 747.3h0M90.5 819.8h0M89.7 811.2h0M88.6 708.4h0M92.8 790.2h0M89.6 805.9h0M92.2 777.0h0M93.6 754.3h0M90.5 789.5h0M85.3 700.7h0M90.4 769.9h0M90.2 819.1h0M90.1 782.0h0M93.3 784.5h0M90.9 789.9h0M94.0 750.2h0M89.9 716.2h0" stroke="#40e040" stroke-width="1.4" stroke-linecap="round" fill="none" stroke-opacity="0.6"/>
<path d="M77.8 701.2h0M73.8 700.1h0M68.6 699.7h0M68.1 698.8h0M76.3 701.9h0M88.0 703.7h0M67.1 699.8h0M71.7 701.3h0M91.5 703.7h0M79.8 701.8h0M89.7 704.1h0M87.9 705.1h0M73.9 702.1h0M82.3 703.0h0M83.6 703.1h0M87.8 703.5h0M92.0 706.1h0M89.2 704.7h0M83.8 706.0h0M90.7 705.2h0M68.4 700.7h0M75.2 701.9h0M81.8 702.9h0M82.6 703.0h0M82.1 703.7h0M78.0 702.9h0M89.0 705.7h0M87.0 703.0h0M85.5 703.3h0M88.5 706.0h0M78.2 702.0h0M68.3 700.0h0M88.7 705.8h0M88.8 703.5h0M76.0 702.2h0M86.8 707.2h0M81.0 703.3h0M94.4 706.7h0M86.9 704.0h0M86.9 707.3h0M92.3 703.8h0M94.4 705.4h0M73.1 701.2h0M89.6 702.8h0M85.6 703.3h0M86.6 704.7h0M85.7 705.2h0M81.1 703.8h0M81.4 701.1h0M87.8 706.6h0M74.9 700.9h0M75.5 700.0h0M72.3 702.0h0M76.9 702.0h0M72.3 700.9h0M73.8 701.9h0M78.0 700.3h0M74.7 701.1h0M90.2 706.8h0M86.0 705.5h0M85.6 705.8h0M91.2 707.0h0M70.6 702.3h0M76.6 699.8h0M78.9 701.7h0M71.2 700.4h0M70.7 702.1h0M94.2 703.9h0M90.3 704.4h0M91.4 706.3h0M79.6 702.5h0M78.6 701.3h0M84.6 702.8h0M77.6 702.9h0M96.4 706.6h0M67.8 699.9h0M94.6 706.6h0M85.1 705.8h0M73.7 700.4h0M86.8 704.1h0M88.3 703.9h0M76.4 698.6h0M82.2 702.5h0M82.3 701.8h0M95.4 706.0h0M94.8 708.4h0M92.0 707.5h0M75.8 702.1h0M87.5 705.0h0M78.4 701.2h0M88.7 704.0h0M74.3 700.4h0M73.6 700.7h0M85.9 705.4h0M73.4 701.9h0M83.1 702.4h0M88.3 703.5h0M70.6 698.5h0M88.2 705.3h0M86.3 705.5h0M81.8 703.0h0M90.2 702.6h0M79.9 702.6h0M76.0 701.5h0M90.4 707.1h0M88.4 705.8h0M83.4 705.0h0M92.1 704.8h0M73.4 701.8h0M93.6 706.6h0" stroke="#50ff30" stroke-width="2.4" stroke-linecap="round" fill="none" stroke-opacity="0.95"/>
<path d="M71.7 731.4h0M79.1 718.2h0M77.9 722.7h0M78.0 723.0h0M70.8 722.1h0M78.1 720.4h0M77.2 714.7h0M72.9 727.5h0M71.0 722.4h0M70.2 713.3h0M66.7 731.4h0M68.2 728.0h0M76.7 725.4h0M78.0 713.2h0M74.9 719.0h0M73.7 713.0h0M73.5 726.4h0M76.8 721.3h0M70.6 722.2h0M74.2 711.8h0M76.4 715.6h0M70.7 728.3h0M76.5 722.6h0M77.2 724.1h0M72.6 727.4h0M73.9 728.0h0M67.7 726.0h0M72.3 721.3h0M80.0 720.5h0M70.6 723.6h0M76.0 726.0h0M75.0 724.1h0M63.2 732.4h0M70.4 712.2h0M77.3 712.7h0M76.2 714.9h0M74.8 721.8h0M79.8 719.7h0M74.5 720.9h0M74.6 722.1h0M72.6 714.8h0M77.8 723.7h0M77.0 719.2h0M74.5 713.6h0M75.7 718.2h0M70.6 724.2h0M77.6 714.6h0M76.4 718.7h0M68.5 727.3h0M71.7 716.8h0M79.6 718.2h0M72.8 713.9h0M75.0 712.9h0M71.8 722.9h0M77.9 717.3h0M71.7 722.7h0M74.5 713.0h0M73.7 714.0h0M77.3 723.4h0M74.9 727.1h0M70.3 712.9h0M64.9 731.4h0M69.8 732.8h0M72.5 727.6h0M77.3 722.5h0M73.6 715.0h0M77.3 718.4h0M71.0 722.9h0M73.7 716.6h0M73.2 728.8h0M73.8 723.4h0M69.8 732.4h0M71.8 723.7h0M68.5 731.4h0M73.7 726.9h0M73.3 720.1h0M69.5 729.3h0M70.4 726.5h0M77.5 717.6h0M74.9 723.4h0" stroke="#50ff30" stroke-width="2.2" stroke-linecap="round" fill="none" stroke-opacity="0.9"/>
<path d="M86.5 747.2h0M84.5 743.1h0M84.1 734.8h0M83.7 741.7h0M87.8 744.7h0M92.2 750.7h0M87.8 747.8h0M83.4 739.4h0M88.0 749.7h0M85.8 740.7h0M89.0 748.7h0M84.5 736.2h0M84.6 734.3h0M86.3 739.3h0M84.1 745.1h0M87.9 747.5h0M85.7 740.1h0M89.0 747.1h0M89.2 748.7h0M91.6 750.5h0M86.0 746.2h0M87.3 743.6h0M86.6 747.6h0M87.0 741.4h0M87.9 749.1h0M89.5 752.3h0M89.3 749.1h0M89.6 751.1h0M86.6 745.7h0M84.0 746.5h0" stroke="#50ff30" stroke-width="2.0" stroke-linecap="round" fill="none" stroke-opacity="0.9"/>
<path d="M114 697 C113 720, 112.5 745, 112 770 C111.5 790, 111.5 810, 111 828" stroke="#ff0c30" stroke-width="11" fill="none" filter="url(#soft)"/>
<path d="M114 697 C113 720, 112.5 745, 112 770 C111.5 790, 111.5 810, 111 828" stroke="#ff4878" stroke-width="2.5" fill="none" filter="url(#soft)" opacity="0.8"/>
<path d="M109.6 742.7h0M109.6 792.6h0M110.4 719.7h0M109.9 736.2h0M110.8 788.1h0M113.6 769.5h0M112.8 757.4h0M111.0 717.4h0M111.7 758.8h0M112.6 703.4h0M114.9 762.3h0M114.1 705.7h0M112.6 737.9h0M113.0 828.7h0M106.8 801.0h0M111.7 707.7h0M113.3 769.2h0M115.6 755.3h0M111.5 799.2h0M112.8 818.1h0M110.4 778.7h0M110.9 767.7h0M114.0 795.4h0M111.0 778.9h0M114.4 755.3h0M117.8 697.8h0M115.1 812.3h0M112.9 823.4h0M108.6 732.3h0M114.6 825.7h0M116.6 749.8h0M110.5 789.9h0M116.5 734.7h0M116.4 739.4h0M115.4 817.3h0M108.8 819.9h0M111.7 802.0h0M108.1 817.8h0M111.7 776.3h0M111.8 699.8h0M110.7 723.4h0M116.9 738.7h0M109.6 801.6h0M115.2 727.5h0M112.6 700.2h0M111.0 792.3h0M117.8 721.3h0M113.2 815.1h0M113.1 806.2h0M109.7 789.1h0M112.3 755.1h0M108.0 747.8h0M113.1 706.0h0M109.0 802.5h0M106.4 823.3h0M113.0 807.7h0M113.0 773.9h0M109.3 776.3h0M112.5 760.1h0M108.0 755.3h0M115.1 796.0h0M112.4 824.2h0M111.9 717.6h0M112.2 713.7h0M113.0 823.9h0M114.4 773.9h0M117.1 728.7h0M108.4 757.2h0M112.1 800.0h0M113.2 778.9h0M112.9 767.1h0M114.7 820.2h0M109.3 701.4h0M109.5 780.4h0M114.9 728.4h0M110.0 758.6h0M109.1 727.7h0M109.3 826.0h0M111.6 726.8h0M110.4 755.3h0M114.8 705.2h0M113.7 827.5h0M115.2 727.0h0M112.8 726.6h0M114.7 733.4h0M111.9 719.3h0M111.2 816.2h0M109.0 759.1h0M110.0 804.7h0M110.6 786.6h0" stroke="#ff5a8a" stroke-width="1.4" stroke-linecap="round" fill="none" stroke-opacity="0.6"/>
<path d="M117.2 792.7h0M113.1 763.7h0M115.0 723.1h0M115.1 804.1h0M112.7 701.2h0M111.6 761.8h0M113.8 733.9h0M113.0 713.1h0M115.1 810.3h0M114.1 781.1h0M115.1 704.3h0M118.4 698.9h0M115.6 814.3h0M110.7 788.4h0M108.8 811.0h0M111.9 729.4h0M115.2 822.4h0M117.9 699.7h0M111.4 705.7h0M107.7 753.7h0M109.3 733.1h0M105.7 796.3h0M109.9 767.8h0M116.5 813.4h0M112.4 764.6h0M117.9 745.6h0M106.4 751.7h0M111.0 823.1h0M114.3 706.4h0M106.9 797.6h0M111.0 795.3h0M116.7 756.9h0M117.3 742.3h0M115.3 729.3h0M108.3 781.2h0M114.7 775.4h0M111.2 783.6h0M112.2 770.4h0M108.1 724.8h0M117.5 712.2h0M109.5 780.9h0M113.0 787.2h0M110.6 716.3h0M112.6 753.3h0M109.2 785.3h0M116.3 794.9h0M109.0 772.4h0M115.4 809.4h0M113.9 761.7h0M115.5 705.1h0M107.3 721.2h0M109.9 811.4h0M108.6 770.1h0M116.6 702.7h0M116.1 761.3h0M107.1 785.3h0M109.1 706.8h0M114.3 768.6h0M106.4 810.5h0M115.7 812.0h0" stroke="#b00a30" stroke-width="1.6" stroke-linecap="round" fill="none" stroke-opacity="0.6"/>
</g>
<text x="121.5" y="717.2" font-size="8.6" text-anchor="middle" fill="#fff">PO</text>
<text x="59.5" y="821.4" font-size="8.0" text-anchor="middle" fill="#fff">Ct.B</text>
<g clip-path="url(#cht)">
<rect x="192" y="564" width="131" height="130" fill="#000"/>
<path d="M258.1 582.1v1.2M225.6 681.1v1.2M225.5 643.2v0.8M312.1 609.0v1.6M260.9 629.5v0.9M232.0 626.6v1.3M219.0 605.6v1.6M299.5 674.5v1.3M197.2 675.5v1.5M272.1 675.9v1.2M248.1 597.8v1.5M277.8 643.4v1.2M221.1 596.9v1.3M311.6 573.5v0.8M286.2 583.9v0.7M237.9 664.8v1.0M317.4 570.8v0.7M247.2 626.3v0.7M246.7 677.3v0.7M206.3 610.5v1.5M265.0 631.8v1.4M284.3 587.7v1.4M239.7 652.8v1.4M236.9 662.2v0.9M209.6 591.0v0.8M309.3 665.1v1.3M228.2 608.0v0.7M275.5 627.0v1.4M219.8 583.8v0.8M246.0 620.6v1.1M299.8 595.3v0.8M201.2 657.8v1.4M247.2 660.7v0.8M279.8 638.2v0.9M216.4 624.4v0.9M240.8 606.8v1.0M287.5 582.6v1.6M290.0 597.9v0.9M193.2 581.4v1.0M292.6 674.5v1.2M314.2 611.7v0.9M289.2 656.1v1.3M297.2 591.9v1.6M218.9 635.6v1.3M197.9 669.6v1.3M287.0 677.1v0.8M194.9 674.2v1.0M204.4 629.9v1.3M211.7 605.6v1.4M264.9 564.3v1.4M305.7 567.3v1.4M196.1 611.6v0.7M248.3 681.6v1.2M206.2 587.1v0.9M214.2 662.9v1.5M217.8 607.3v1.2M288.3 636.9v1.3M281.2 588.3v1.3M253.6 685.3v0.6M237.7 626.2v1.1M277.9 591.2v1.6M227.3 573.4v1.4M263.2 636.3v1.5M271.2 582.9v0.9M293.2 659.3v1.0M205.3 690.9v1.1M280.8 630.5v1.3M200.7 570.7v1.3M263.2 640.4v1.4M322.1 693.5v0.6M317.2 607.9v1.2M309.1 657.3v1.4M208.9 605.1v1.5M292.9 629.5v1.3M308.5 677.8v1.2M278.5 654.1v0.6M205.7 645.7v1.6M299.1 573.8v1.4M291.6 568.7v0.8M216.5 589.6v1.1M214.8 617.1v1.2M232.2 681.9v1.5M246.0 661.7v0.7M244.5 570.6v1.4M266.9 648.9v1.3M213.3 634.6v1.0M257.9 622.9v1.2M307.1 627.8v0.7M230.6 629.7v1.2M302.2 658.7v0.8M258.1 606.8v0.8M315.1 622.7v1.2M216.3 657.4v1.3M281.3 611.7v1.3M206.6 601.8v0.8M294.5 681.9v1.6M270.9 639.7v0.7M292.0 687.5v1.4M211.9 672.3v0.7M271.4 669.1v1.5M303.2 622.8v1.2M311.8 574.2v0.7M205.4 596.1v1.0M214.4 683.1v1.0M309.5 632.7v1.2M220.9 680.1v0.7M231.3 581.5v0.7M285.5 623.5v0.8M204.6 605.2v0.7M268.6 568.3v0.8M214.7 615.3v0.7M200.2 636.8v0.6M295.0 592.1v1.4M284.7 600.6v1.5M220.7 610.2v0.8M314.5 691.8v1.4M261.1 623.6v0.9M276.6 587.5v0.9M229.9 669.4v0.7M274.4 658.7v0.8M201.7 622.0v0.7M243.0 638.2v0.7M320.4 607.6v0.7M199.1 578.1v0.7M285.8 681.3v1.0M308.7 641.8v1.1M313.2 647.3v1.4M265.8 586.8v0.7M225.4 655.0v0.9M273.3 653.1v1.0M309.7 571.9v1.5M290.2 659.1v0.9M257.2 672.4v0.8M289.1 614.2v1.1M249.7 612.1v1.3M300.8 580.7v1.2M266.1 641.8v1.3M278.2 632.8v0.7M248.0 617.6v1.5M253.9 581.2v1.5M288.1 586.3v1.4M240.1 632.8v0.7M193.9 640.6v1.6M275.4 676.8v1.0M197.6 683.0v0.8M259.3 584.7v1.1M234.5 659.6v1.2M209.3 660.8v0.9M320.8 688.1v1.5M240.2 683.2v1.3M305.0 585.3v0.7M311.1 653.1v1.1M229.3 596.8v1.5M240.3 691.8v0.7M226.6 576.5v0.6M256.7 591.8v0.8M214.5 573.1v1.3M196.5 679.8v1.3M320.0 574.2v1.3M308.1 572.7v0.7M209.3 566.2v1.0M243.1 688.1v1.5M265.1 620.1v1.1M210.7 667.6v1.4M258.7 588.0v0.9M215.2 594.8v1.1M299.4 690.9v0.9M252.9 576.7v1.2M256.3 681.1v0.7M291.6 565.3v0.7M213.9 585.9v0.9M260.8 581.3v1.3M270.2 597.8v1.3M203.7 621.7v1.3M205.6 602.3v1.0M306.2 593.6v1.2M238.4 575.5v1.0M231.4 604.3v0.8M222.4 607.2v1.2M284.2 583.9v1.5M286.1 577.9v1.5M294.4 564.9v0.7M195.0 568.3v1.5M211.3 599.3v1.4M221.7 591.5v0.7M261.2 642.9v1.0M231.8 643.5v0.7M255.9 583.6v1.4M222.1 656.0v1.3M312.2 599.7v1.3M269.4 674.1v0.9M209.3 584.4v0.7M284.2 585.0v0.9M308.4 615.0v1.2M306.1 649.9v1.5M289.1 613.3v1.4M257.0 614.3v1.3M234.5 603.6v1.4M269.5 621.7v0.6M229.7 643.9v1.4M304.5 595.6v1.0M298.8 610.2v1.0M281.7 605.7v1.5M238.8 583.8v0.9M216.6 656.7v1.5M252.5 579.3v1.0M240.0 686.6v1.5M320.4 570.2v1.4M296.9 566.5v1.4M213.8 641.8v0.9M230.1 644.6v1.6M275.0 574.9v1.1M319.7 687.3v1.3M264.2 636.7v1.5M305.0 585.4v1.2M214.8 664.4v0.7M221.4 618.7v1.4M273.8 610.8v1.5M268.6 581.2v0.8M202.7 659.2v1.3M261.6 670.2v0.9M285.0 689.0v0.9M316.6 592.8v0.8M214.7 616.3v1.3M273.5 570.6v1.5M272.1 574.0v1.6M225.7 665.9v0.8M248.1 688.5v1.0M244.1 652.0v0.7M289.6 664.1v1.0M308.5 662.3v0.7M305.4 565.6v1.3M280.7 593.0v1.5M300.5 634.6v0.6M255.1 671.0v1.5M193.7 677.5v1.3M260.9 691.4v1.3M217.5 645.3v1.1M312.5 630.0v1.2M296.5 639.5v0.7M200.7 603.8v1.1M221.7 566.8v0.6M217.7 599.4v0.6M267.3 620.4v1.3M285.7 602.0v0.9M211.4 597.4v0.7M318.7 658.9v0.7M270.0 683.8v0.7M322.6 642.7v1.4M265.2 595.1v0.9M225.9 631.0v1.5M201.4 618.4v0.6M244.7 675.6v1.2M248.2 621.9v1.5M243.7 636.0v1.3M236.5 661.9v0.9M259.4 667.1v1.1M284.1 578.9v0.9M230.6 576.4v1.3M271.0 665.7v1.5M214.7 595.2v1.4M215.4 662.4v0.9M285.3 677.2v1.4M321.4 639.0v1.3M230.5 616.0v1.6M317.8 655.8v0.9M304.8 667.4v1.1M235.8 624.5v1.0M271.5 639.3v1.2M230.9 583.2v1.1M268.6 661.9v1.1M211.5 693.7v1.0M262.5 617.6v0.6M229.8 592.7v0.8M219.1 622.5v0.8M193.0 619.7v1.6M223.4 684.4v0.6M232.1 657.5v1.1M285.3 688.1v1.4M323.0 580.6v1.5M292.9 572.5v1.0M233.1 614.0v1.6M300.5 636.8v1.0M286.2 632.0v0.9M289.2 619.8v1.1M287.6 683.0v0.8M297.6 666.1v0.7M224.0 617.8v0.8M285.0 601.5v1.1M278.9 591.1v1.1M201.5 652.4v1.1M224.3 609.5v0.8M244.3 660.1v1.2M244.0 668.5v1.5M251.7 620.5v0.6M293.9 621.5v1.4M225.0 639.7v0.6M203.5 589.2v1.5M247.6 624.1v1.1M229.3 592.2v0.8M238.3 609.9v0.8M245.9 665.6v1.4M211.5 659.8v1.5M195.7 617.9v0.8M216.7 605.9v0.9M283.7 637.5v0.7M194.4 639.9v1.4M222.2 587.2v0.8M264.0 646.9v0.8M261.8 648.5v1.4M318.9 646.4v1.2M303.7 599.0v1.2M225.7 619.1v0.8M311.8 612.8v0.9M284.9 573.1v0.6M225.1 637.4v1.3M209.6 647.2v1.3M260.7 578.2v1.4M243.0 680.9v1.2M205.7 583.0v0.9M307.1 651.7v0.8M249.3 580.7v0.6M321.7 604.7v0.9M193.5 572.0v0.7M292.6 632.3v1.4M232.9 670.2v1.0M282.4 622.8v1.1M235.3 655.3v0.8M216.6 667.3v1.6M203.8 571.0v1.0M227.9 615.7v0.7M296.7 623.4v1.4M213.6 682.6v1.1M268.0 667.5v0.9M234.2 593.8v1.1M242.3 679.3v0.6M283.5 599.1v1.1M251.7 612.5v1.4M230.8 680.3v0.8M211.6 627.3v1.3M305.7 689.9v1.1M260.4 648.2v1.5M258.5 683.5v0.7M322.0 688.5v1.4M247.5 586.4v1.3M288.5 627.5v1.6M264.8 567.2v1.2M214.8 639.0v0.8M280.3 641.9v0.7M317.2 681.5v1.1M283.7 677.5v1.5M317.3 584.1v1.4M318.1 642.4v1.1M286.0 632.2v1.3M214.2 662.8v1.5M196.7 646.7v0.8M236.4 625.7v0.9M262.7 664.4v0.9M220.7 596.3v1.2M215.5 586.9v1.0M197.4 610.5v0.8M259.1 569.4v0.7M273.7 631.6v1.1M211.1 601.8v0.9M289.9 641.6v1.6M296.3 644.4v0.8M270.9 605.1v1.4M272.7 571.9v1.0M242.8 666.9v0.6M306.1 690.5v0.8M287.1 599.9v0.6M256.4 631.3v0.8M200.7 607.4v0.8M241.8 572.6v1.1M309.2 659.9v1.5M297.7 639.5v1.2M322.5 640.4v1.6M242.6 568.0v0.8M218.2 673.9v0.8M292.7 616.1v0.8M227.7 578.6v1.2M296.0 621.7v1.0M317.1 632.5v1.5M261.3 569.7v1.3M300.3 583.7v1.4M308.0 646.0v1.1M198.8 683.8v1.0M261.1 650.7v1.6M308.3 610.2v0.6M216.6 632.1v0.8M260.3 592.8v1.1M206.0 651.9v0.8M210.6 646.3v1.4M243.9 641.4v1.2M205.1 572.9v1.5M207.7 676.6v1.0M217.7 655.1v0.9M270.3 622.4v0.7M308.9 691.5v0.8M214.8 604.1v0.8M219.2 658.0v1.6M228.4 595.9v1.6M290.6 665.2v0.9M213.5 609.7v0.9M228.6 590.3v0.8M306.3 663.1v0.6M313.4 688.3v1.4M206.9 679.8v1.3M302.7 564.0v0.9M294.3 637.9v1.5M277.2 628.4v1.3M310.6 640.8v1.1M216.7 651.9v0.8M208.0 678.4v1.2M193.4 580.3v0.7M278.5 568.4v0.7M300.7 568.3v1.3M212.4 629.7v0.7M304.1 654.1v0.8M309.5 595.9v1.5M245.9 594.1v1.0M199.0 639.4v0.7M227.2 644.6v1.2M279.6 614.7v1.4M205.2 683.9v0.6M313.6 662.8v1.6M218.3 682.8v1.4M274.1 632.5v0.8M319.5 689.6v0.7M240.1 672.9v0.7M301.5 584.6v0.8M300.9 644.1v0.9M291.2 653.1v1.3M307.8 673.8v1.2M261.0 583.9v0.9M257.5 634.8v1.6M261.0 655.7v1.0M299.8 605.4v1.1M243.6 628.2v1.1M264.8 659.7v0.6M229.3 629.0v0.8M233.2 689.0v0.7M280.4 693.6v1.6M208.7 685.3v1.4M222.0 684.8v1.3M205.2 673.6v1.2M251.1 635.4v1.2M286.1 615.6v0.9M272.8 613.9v1.5M280.8 669.6v1.5M250.8 632.2v0.8M279.9 693.8v1.0M316.9 608.8v0.7M213.1 653.0v1.5M261.5 590.9v0.8M225.4 670.0v1.3M206.9 564.6v1.3M207.1 671.3v1.2M311.2 653.2v1.1M298.1 693.4v1.5M210.3 672.8v0.8M281.4 661.1v1.5M263.3 654.2v1.4M265.1 677.5v0.8M236.5 661.1v0.7M271.0 656.2v1.2M306.5 580.0v1.3M231.8 630.2v1.0M275.1 571.7v0.6M206.7 591.6v0.9M321.4 691.6v0.8M283.2 633.9v1.3M268.3 687.5v1.2M240.6 601.4v1.0M204.2 601.3v1.5M269.8 618.4v0.9M285.9 618.8v1.5M265.1 653.9v0.8M268.3 632.4v0.7M296.6 673.2v0.8" stroke="#1c22f0" stroke-width="1.4" stroke-linecap="round" fill="none" stroke-opacity="0.8"/>
<path d="M293.3 654.0v1.5M318.0 631.2v1.4M283.0 666.7v0.7M230.3 685.8v0.9M226.7 622.0v1.3M269.4 602.6v1.1M227.8 667.0v1.3M294.8 689.2v0.8M238.2 604.0v0.6M273.7 573.1v1.3M203.9 669.0v1.4M281.2 596.1v0.9M198.4 613.4v0.9M251.7 682.7v1.1M299.7 593.2v0.8M239.3 586.2v1.0M266.4 679.6v0.8M266.8 627.0v1.0M213.3 648.7v0.9M302.4 681.5v1.2M321.1 653.9v0.8M261.2 624.1v1.3M223.5 620.7v1.0M280.6 611.8v0.9M272.9 678.3v1.0M305.0 626.8v1.5M229.9 580.8v1.1M281.5 630.7v0.9M258.7 623.1v1.2M233.2 607.9v0.7M259.2 648.7v1.1M235.4 572.7v0.8M320.8 632.8v0.9M282.3 605.3v0.8M302.9 651.0v0.8M227.7 659.0v1.6M197.4 573.6v0.9M204.9 594.6v1.1M220.7 579.3v0.9M255.3 685.9v1.2M278.0 692.4v0.7M231.1 575.2v1.2M275.6 659.5v0.7M217.3 663.6v1.5M298.9 632.1v0.7M199.3 654.4v1.2M237.6 664.9v1.4M262.5 617.1v0.8M264.2 642.8v0.8M265.7 655.1v1.6M205.9 685.3v1.4M316.8 626.1v0.8M201.7 586.1v0.9M212.0 581.1v1.5M234.8 572.3v0.7M313.3 638.5v1.5M235.8 605.3v1.3M267.3 682.4v0.7M265.4 584.1v0.8M212.7 627.6v0.6M286.0 569.8v1.4M242.0 644.4v0.6M273.1 613.0v1.4M254.1 644.0v0.8M288.3 621.4v0.9M254.1 664.0v1.3M292.6 663.1v1.3M235.9 578.1v1.5M316.1 621.4v1.5M193.7 620.6v1.6M281.8 594.6v1.6M320.0 567.9v0.8M319.2 631.7v1.2M192.3 611.8v1.1M237.7 669.0v1.3M314.0 590.2v0.9M317.6 680.1v1.1M294.1 644.2v1.6M321.5 688.9v1.0M310.3 577.3v1.3M315.6 569.0v0.9M222.3 625.8v1.5M252.6 666.1v0.9M213.2 651.7v1.1M214.4 589.2v1.0M233.0 618.0v1.1M258.2 612.5v1.2M310.6 679.1v1.5M263.1 639.1v1.2M309.7 627.1v0.6M299.3 650.5v1.6M287.0 658.6v0.8M208.7 675.0v0.7M249.4 616.9v1.0M296.5 665.3v0.6M232.3 656.9v0.6M241.4 639.5v0.7M230.1 620.3v1.1M251.0 674.4v1.3M247.6 688.0v1.3M300.1 581.1v1.0M264.5 606.8v1.5M269.3 670.7v0.8M220.7 629.5v1.2M241.9 598.2v1.1M317.9 639.3v0.7M260.8 625.2v1.6M297.3 593.0v1.2M254.0 609.3v1.4M254.5 650.3v1.4M248.0 643.5v0.9M241.0 581.3v1.2M302.9 634.1v0.8M245.7 665.1v1.1M288.0 580.3v1.3M271.3 658.6v1.3M235.1 682.0v1.3M293.2 587.2v1.1M235.4 630.6v0.9M206.5 610.6v1.5M307.5 639.8v1.0M246.0 598.7v1.1M216.6 649.1v1.3M204.2 653.9v1.3M233.9 605.6v0.6M255.3 591.7v1.0M229.1 627.8v1.2M222.7 617.7v1.4M245.8 641.4v1.4M298.7 672.2v1.3M211.4 688.7v1.5M281.3 570.0v0.8M203.6 647.9v0.9M212.1 664.3v1.5M235.9 651.7v0.7M214.9 640.9v0.7M212.9 574.2v1.3M192.6 631.7v1.3M222.3 564.3v1.1M292.4 615.7v1.5M244.9 664.7v1.6M235.4 581.3v1.5M248.1 596.3v1.5M268.2 572.8v1.5M299.4 655.7v0.8M293.4 624.6v1.4M250.5 634.9v1.0M304.5 570.0v0.7M303.9 685.4v1.2M310.2 594.5v1.4M268.6 675.5v1.1M255.9 615.6v0.9M267.3 667.4v1.2M234.8 599.6v1.3M206.9 584.4v1.5M285.8 594.4v1.3M207.5 677.2v1.5M222.0 620.4v1.1M311.4 568.6v1.3M300.9 651.6v0.9M204.6 684.5v1.4M252.3 650.2v1.5M241.0 655.0v0.6M315.5 636.0v1.4M196.0 642.1v1.0M247.5 653.2v1.4M272.8 671.6v1.1M312.7 632.3v1.4M256.9 612.5v1.3M300.5 655.5v1.4M224.2 669.1v1.1M208.3 634.1v1.3M272.7 576.4v1.2M204.9 636.6v1.5M204.0 666.2v1.3M247.7 653.4v1.2M220.2 633.3v1.1M197.2 580.5v1.6M306.7 612.6v0.9M300.5 607.4v1.1M298.4 647.0v0.9M289.6 596.5v1.6M204.9 573.9v1.2M314.4 575.2v0.9M247.0 614.2v1.5M242.8 568.1v0.7M209.1 673.6v1.5M196.4 675.7v1.1M212.5 617.7v1.4M266.7 630.9v1.2M204.5 585.2v1.0M212.9 680.5v0.9M238.9 596.3v0.7M268.6 630.3v1.5M309.5 629.2v1.4M230.5 600.5v1.4M263.7 642.5v1.5M276.3 644.4v0.8M230.4 665.5v1.0M236.9 642.5v1.2M212.0 689.9v1.1M194.0 686.5v0.9M300.5 577.7v1.3M280.0 666.5v1.4M257.9 618.0v1.1M264.1 684.1v0.7M320.4 683.2v1.1M199.6 667.9v1.0M243.7 621.5v0.7M209.7 622.9v0.8M304.9 571.1v0.8M237.0 587.1v1.5M218.4 620.5v1.4M275.5 622.3v0.7M195.9 637.5v1.2M237.7 655.9v1.4M213.4 623.1v1.0M278.2 634.2v1.3M272.5 688.7v1.3M293.5 677.2v0.9M318.2 673.6v1.2M213.7 653.9v0.8M317.6 635.2v1.2M283.1 689.5v1.1M320.1 565.6v1.2M296.4 661.8v1.2M207.5 583.9v1.5M201.9 599.6v1.6M279.6 640.3v1.0M206.4 611.3v0.7M256.6 568.9v1.5M247.0 577.5v1.4M246.1 687.4v1.4M246.5 652.3v1.3M291.1 646.3v0.8M196.8 689.1v0.8M237.1 675.7v0.8M273.0 596.4v0.8M240.4 588.0v0.8M304.5 629.3v1.3M314.6 603.7v1.3M268.5 579.9v1.5M257.6 659.0v1.2M308.3 609.1v1.0M298.0 619.6v1.4M310.0 659.2v1.1M222.8 668.3v0.9M250.5 683.1v1.2M204.5 683.2v1.1M200.3 573.4v1.6M282.0 675.1v1.5M270.5 661.1v1.0M195.2 603.0v0.7M303.9 612.0v1.1M217.3 692.7v1.2M278.8 603.1v1.1M315.8 575.8v1.0M287.1 617.4v0.6M322.2 605.0v1.5M320.4 627.8v0.9M268.6 607.1v1.4M287.2 680.6v1.2M228.0 583.6v1.3M291.6 686.6v0.8M221.0 612.1v1.0M308.7 686.2v0.7M294.6 607.0v0.6M305.8 608.5v1.5M197.0 576.8v1.2M245.1 679.8v0.9M277.2 661.4v1.2M258.7 619.5v1.6M315.1 638.9v1.5M315.0 614.7v0.7M311.5 640.4v1.4M319.6 630.6v0.9M222.8 594.9v1.0M293.5 604.2v1.0M292.6 646.3v1.3M235.3 579.1v1.6M312.3 636.0v0.6M269.0 601.6v1.1M203.4 639.0v1.5M222.8 658.2v0.8M265.6 594.7v1.0M311.4 630.2v0.8M252.5 583.6v1.0M320.2 689.5v0.7M311.0 663.5v0.8M230.3 610.3v0.8M214.9 568.3v1.2M256.3 576.5v1.1M205.0 578.8v1.5M287.7 644.9v1.1M260.4 661.0v0.7M301.7 598.3v1.5M243.7 596.9v0.9M253.3 690.3v1.4M236.8 668.0v1.2M277.6 629.5v1.0M291.0 566.3v1.1M267.4 651.3v0.7M232.5 565.5v1.6M196.4 655.9v0.9M250.3 687.7v1.5M222.8 616.0v1.0M249.6 595.9v0.7M209.7 599.4v1.3M311.5 587.1v1.0M242.8 612.0v1.6M313.6 662.8v1.0M252.2 638.3v1.4M316.9 634.5v1.2M291.6 674.0v0.9M316.3 642.6v1.5M228.9 591.3v1.4M234.4 615.0v1.4M198.6 583.5v0.9M263.2 691.7v1.3M194.6 597.1v0.9M316.1 618.5v1.5M311.1 643.6v1.5M312.2 626.5v0.9M282.7 584.7v1.1M226.9 596.0v1.0M311.2 683.2v1.2M286.9 633.5v1.1M245.8 688.3v1.0M300.5 629.4v1.2M268.9 632.5v1.3M226.9 658.2v1.5M322.5 646.3v1.2M214.6 639.5v0.7M242.7 572.1v1.6M237.8 593.9v1.5M194.5 680.3v0.8M192.7 672.3v1.1M274.0 652.4v0.9M216.2 636.8v1.4M321.4 590.7v1.4M218.7 692.4v1.2M298.7 610.2v0.6M274.2 680.3v1.0M282.3 588.5v0.6M201.9 599.4v0.7M209.1 668.9v1.2M312.6 583.4v0.6M293.2 565.9v0.6M301.7 575.3v1.6M219.3 624.4v1.0M236.5 655.6v1.1M212.8 647.9v1.5M266.8 634.5v0.8M286.4 601.7v0.9M209.0 628.2v1.1M269.7 688.9v1.2M320.3 580.4v1.0M260.1 691.0v0.6M209.4 574.0v1.5M285.5 622.1v1.6M223.6 637.9v1.0M311.9 670.1v1.2M250.9 618.0v1.5M300.4 629.7v1.5M267.3 686.3v1.2M195.6 639.4v1.1M286.3 628.9v1.1M208.9 625.4v1.0M246.3 657.4v1.2M248.0 579.4v1.4M236.5 663.0v0.7M228.2 636.2v1.6M209.4 676.2v1.5M289.7 630.5v1.5M246.1 594.0v0.7M264.3 653.1v1.3M227.8 598.4v1.4M296.2 654.0v0.9M304.6 689.3v1.5M322.4 608.0v1.5M264.9 624.7v1.5M318.8 658.1v0.7M248.1 646.0v1.1M316.1 652.5v1.5M220.0 588.3v1.0M235.8 620.2v0.7M256.2 601.6v1.2M290.4 679.6v0.9M193.4 634.4v0.8M276.3 681.0v1.6M234.8 659.7v1.5M259.7 610.9v0.9M322.9 593.6v0.8M302.2 681.6v1.1M248.1 577.0v0.8M237.9 677.6v1.0M270.6 630.0v0.8M306.2 615.6v1.4M194.6 603.7v1.4M300.6 584.3v1.1M258.1 591.5v0.6M257.6 680.3v1.0M250.0 617.8v1.2M197.1 599.5v1.6M239.9 607.5v1.1M229.2 595.2v1.3M194.6 596.5v1.3M299.0 673.8v1.1M208.5 615.6v1.1M229.0 656.8v0.8M211.9 678.7v0.8M229.9 689.1v1.4M208.0 649.4v1.3M283.6 604.4v0.6M211.7 622.1v1.1M195.7 631.4v0.8M317.8 598.5v1.4M263.1 647.7v0.9M285.8 670.9v0.8M233.0 601.2v1.4M320.8 628.4v1.4M211.8 584.3v1.5M258.8 630.2v1.3M260.1 650.4v1.2M192.9 673.4v1.2M236.3 603.8v1.3M224.6 633.9v1.4M205.2 646.7v1.6M220.2 631.5v1.3M259.2 644.0v1.3M219.5 661.3v0.8M270.8 573.6v1.1M233.2 628.1v0.7M319.2 688.1v1.0M205.5 643.6v1.0M245.1 607.6v1.4M236.7 606.0v1.0M231.2 671.7v0.9M233.3 670.7v1.4M315.8 608.4v1.4M197.2 617.1v1.4M268.9 637.7v1.5M277.4 602.8v0.9M322.1 671.9v1.3M317.6 589.0v0.7M300.9 683.6v1.2M312.6 575.9v1.2M196.2 680.4v1.2M317.7 678.1v1.5M219.3 658.5v1.6M253.1 576.3v0.6M222.2 580.4v1.6M294.2 567.8v0.8M315.6 666.4v0.7M273.0 664.5v0.7M210.0 656.2v0.9M289.7 639.7v1.1M224.1 603.3v0.6M196.5 685.2v1.5M219.9 674.7v1.4M292.0 565.3v1.0M211.6 586.3v0.6M317.9 584.6v1.3M297.7 638.8v0.8M234.4 684.4v1.3M211.5 625.7v0.8M218.1 567.1v1.4M309.1 671.8v1.5M208.6 636.5v1.4M307.0 687.1v0.9M247.1 668.7v0.7M274.5 630.5v1.5M246.0 620.4v1.1M202.3 658.2v0.9M276.3 650.2v1.3M318.5 565.0v1.4M288.9 584.4v1.2M201.8 632.0v0.9M262.0 668.5v0.7M232.7 689.5v1.4" stroke="#0e12a0" stroke-width="1.3" stroke-linecap="round" fill="none" stroke-opacity="0.8"/>
<path d="M254.0 564.0 L286.0 564.0 L287.0 620.0 L286.0 694.0 L255.0 694.0 L256.0 640.0Z" fill="#0c18a8" filter="url(#soft05)"/>
<path d="M254.0 564.0 L286.0 564.0 L287.0 620.0 L286.0 694.0 L255.0 694.0 L256.0 640.0Z" fill="#000" filter="url(#holes)" opacity="0.75"/>
<path d="M284.9 637.0v1.0M266.2 650.1v0.8M259.0 656.0v1.4M263.5 630.7v0.9M286.0 688.1v1.3M266.6 617.3v0.6M263.9 679.2v0.9M267.5 687.6v1.4M274.6 575.4v1.0M275.5 572.3v0.6M260.8 681.8v0.6M276.6 644.3v1.4M259.6 626.4v1.0M263.0 671.1v1.5M278.9 642.3v1.1M257.2 566.1v1.5M258.4 634.8v1.6M278.8 631.9v0.7M257.5 598.3v1.4M275.9 571.1v1.0M256.4 564.1v1.1M271.6 631.8v1.1M269.8 689.6v1.6M260.4 685.6v1.6M256.5 612.2v0.6M273.2 677.8v0.7M275.0 658.3v0.8M268.0 588.7v1.3M260.7 669.5v0.9M273.5 577.1v0.7M262.1 684.4v1.5M273.1 604.5v1.1M260.1 671.0v1.3M277.3 645.2v0.8M268.0 624.3v1.2M262.9 662.4v0.7M266.3 660.0v0.6M274.6 577.6v0.8M269.7 668.6v0.9M276.0 663.2v0.6M257.2 680.4v1.2M267.3 586.5v1.5M280.9 684.6v1.3M258.0 673.9v1.3M274.7 646.8v1.4M269.2 620.4v0.8M276.9 639.7v1.4M278.8 611.8v1.3M285.8 663.4v1.0M278.2 654.1v1.2M266.3 570.7v0.7M270.5 683.5v1.6M258.5 598.5v0.9M258.5 648.0v1.0M266.2 616.2v1.4M258.3 668.4v1.3M260.1 685.9v1.3M285.2 611.4v1.0M257.3 661.9v1.3M262.7 569.3v1.1M284.1 583.0v0.8M285.9 588.9v0.7M286.0 589.1v0.9M267.5 584.5v1.2M281.9 688.0v1.3M275.6 682.3v0.6M267.0 615.5v0.7M286.2 671.1v0.9M279.1 597.8v1.2M271.5 690.2v1.1M272.0 668.3v1.6M269.1 583.7v1.3M267.7 636.1v1.1M261.6 679.2v0.7M285.2 585.3v0.8M263.4 652.7v1.3M259.8 592.6v0.8M268.6 665.7v1.1M280.2 671.7v1.5M285.2 642.2v1.1M283.3 585.1v0.6M267.2 685.3v1.5M279.8 668.1v1.2M255.1 578.6v0.8M279.9 631.4v1.1M283.9 690.9v0.9M281.8 660.9v1.3M266.1 590.7v1.4M268.1 689.6v0.9M280.4 677.9v0.8M282.8 626.6v1.3M285.0 570.9v1.4M268.0 606.7v1.0M274.9 618.6v0.8M285.2 577.9v0.6M277.5 600.6v1.4M282.7 591.1v0.6M255.6 607.9v1.1M270.5 675.3v1.5M283.2 640.3v0.9M284.7 678.0v0.8M282.3 652.9v0.9M282.3 621.7v0.7M274.1 630.3v1.2M283.5 660.0v0.7M274.0 616.5v1.3M267.7 606.2v0.9M265.5 579.1v0.8M272.4 632.4v0.7M262.9 682.6v1.1M278.4 591.3v1.0M275.8 642.7v1.5M276.1 687.4v1.5M284.2 584.3v1.0M277.5 573.8v1.4M262.0 645.7v0.7M265.0 674.2v1.0M257.9 600.5v0.8M266.3 613.4v1.4M255.5 665.4v1.3" stroke="#1a30e0" stroke-width="1.5" stroke-linecap="round" fill="none" stroke-opacity="0.7"/>
<path d="M192.0 564.0 L211.0 564.0 L210.0 572.0 L206.0 585.0 L201.0 596.0 L198.0 600.0 L192.0 602.0Z" fill="#1e50ff" filter="url(#soft05)"/>
<path d="M192.0 564.0 L211.0 564.0 L210.0 572.0 L206.0 585.0 L201.0 596.0 L198.0 600.0 L192.0 602.0Z" fill="#000" filter="url(#holes)" opacity="0.5"/>
<path d="M195.2 599.6v1.3M200.4 590.9v1.1M209.7 566.0v0.8M203.9 571.2v0.8M203.2 573.9v1.5M205.7 579.8v1.4M195.2 573.1v1.3M199.8 571.4v1.6M194.2 567.9v0.7M197.2 599.3v1.0M201.1 568.4v1.5M192.9 574.0v1.0M202.3 576.8v0.6M206.7 567.8v1.1M202.2 578.9v0.6M192.3 591.7v1.1M209.4 573.3v1.6M199.7 576.5v1.0M198.9 572.2v1.5M196.2 576.6v1.1M206.2 565.8v1.6M202.6 589.7v1.3M205.7 585.5v1.0M202.2 593.1v0.6M195.4 579.7v1.4M193.4 568.1v1.0M205.0 574.6v1.4M196.9 575.4v1.2M195.7 581.9v1.4M198.2 567.5v1.1M209.3 566.3v1.5M197.9 564.5v1.3M196.4 590.2v1.1M207.0 580.7v1.3M198.7 572.5v1.2M204.3 579.2v1.4M196.1 597.4v0.9M201.5 564.5v1.4M206.8 582.2v1.4M200.2 574.0v1.6M193.9 590.5v1.3M199.4 586.3v1.5M208.6 574.0v1.5M198.5 575.3v1.5M194.1 589.8v1.6M202.6 591.3v1.4M204.9 581.9v0.6M202.6 566.2v1.2M197.1 571.9v0.7M204.2 574.6v1.3M198.6 577.5v1.1M205.1 567.6v1.3M193.7 594.6v0.8M201.4 570.0v0.8M194.2 600.2v0.7M202.6 570.5v1.5M201.7 564.9v0.7M199.1 573.1v1.3M197.4 587.6v0.8M206.9 565.4v1.6M203.5 576.2v1.2M203.5 568.7v1.2M194.3 600.0v1.2M209.2 572.6v1.6M197.1 568.3v1.1M194.7 600.6v1.4M194.8 574.3v1.1M204.6 583.3v1.1M203.0 569.5v1.0M197.5 584.2v1.3M198.1 565.1v1.3M202.7 564.6v1.2M204.5 567.3v0.7M196.4 595.7v1.4M192.1 580.5v0.7M205.4 573.9v1.0M195.6 577.6v0.6M205.6 573.3v1.2M199.4 575.6v0.8M199.5 596.4v1.6M195.2 574.5v0.6M193.4 572.2v1.2M205.2 572.2v0.8M199.6 564.3v1.5M195.9 592.6v1.3M205.4 573.0v1.3M196.5 599.2v1.3M194.9 567.5v0.6M202.2 576.9v1.1M205.5 583.8v1.4" stroke="#28c8b0" stroke-width="1.8" stroke-linecap="round" fill="none" stroke-opacity="0.6"/>
<path d="M192.0 564.0 L211.0 564.0 L210.0 572.0 L206.0 585.0 L201.0 596.0 L198.0 600.0 L192.0 602.0Z" fill="none" stroke="#3ae070" stroke-width="1.6" filter="url(#soft)" opacity="0.75"/>
<path d="M214.0 592.0 L220.0 580.0 L228.0 572.0 L236.0 566.0 L238.0 578.0 L237.0 592.0 L235.0 604.0 L231.0 608.0 L224.0 601.0 L217.0 596.0Z" fill="#1e50ff" filter="url(#soft05)"/>
<path d="M214.0 592.0 L220.0 580.0 L228.0 572.0 L236.0 566.0 L238.0 578.0 L237.0 592.0 L235.0 604.0 L231.0 608.0 L224.0 601.0 L217.0 596.0Z" fill="#000" filter="url(#holes)" opacity="0.5"/>
<path d="M235.6 577.1v0.6M235.2 572.6v1.3M223.3 591.1v0.6M234.8 571.2v0.7M228.2 604.1v1.2M223.4 591.5v0.9M227.8 600.3v1.3M237.6 577.8v1.5M229.4 599.7v1.2M236.7 579.8v1.1M225.5 590.2v0.9M223.1 595.9v1.2M234.1 603.3v0.9M233.7 604.1v0.6M227.7 595.9v1.3M236.7 580.8v1.4M227.5 587.0v1.1M230.4 604.7v0.8M217.3 593.4v1.6M220.9 585.8v1.1M219.8 595.6v0.8M221.5 596.9v1.4M229.7 606.2v1.3M228.9 577.7v0.9M235.2 568.5v1.4M228.5 594.1v1.1M233.7 572.0v1.0M231.0 576.4v1.5M235.1 592.0v1.5M222.7 600.0v1.2M225.1 577.2v0.9M230.7 585.7v0.6M223.2 594.5v0.9M230.1 600.4v1.3M234.6 597.8v1.2M236.5 574.6v1.4M225.8 582.3v1.2M237.1 584.6v0.6M223.5 582.7v1.4M233.6 599.0v0.6M221.4 589.6v1.5M229.3 574.9v1.6M227.9 589.6v1.2M228.0 582.8v0.9M228.1 598.5v0.8M228.6 597.8v1.1M220.9 598.4v1.5M226.4 573.6v1.4M231.3 606.0v1.3M231.1 578.4v0.7M232.5 572.3v1.3M236.9 584.2v0.7M231.1 594.3v0.9M228.2 589.4v1.5M226.4 601.3v1.3M235.8 594.2v1.4M224.5 587.2v1.2M234.0 569.3v1.1M228.2 590.7v1.4M232.8 585.3v0.7M224.5 575.7v1.2M235.5 582.3v1.4M221.6 598.5v0.7M226.2 599.6v0.9M236.4 570.2v0.8M216.0 589.5v1.0M228.4 576.2v1.1M228.5 598.9v1.5M223.8 580.3v1.6M220.5 591.0v1.0M233.7 602.9v1.2M220.2 581.1v1.0M225.0 587.3v1.1M220.7 582.3v1.4M236.9 589.5v1.1M223.2 590.7v0.9M232.8 605.8v0.7M229.2 582.4v1.5M219.9 584.8v1.1M233.2 590.9v1.1M228.4 574.0v1.2M217.9 589.4v1.3M235.0 571.9v0.7M237.4 583.7v1.3M225.7 584.9v0.8M230.0 600.9v1.2M225.5 601.6v0.8M225.7 588.7v0.8M235.2 583.2v1.2M223.6 597.8v0.9" stroke="#28c8b0" stroke-width="1.8" stroke-linecap="round" fill="none" stroke-opacity="0.6"/>
<path d="M214.0 592.0 L220.0 580.0 L228.0 572.0 L236.0 566.0 L238.0 578.0 L237.0 592.0 L235.0 604.0 L231.0 608.0 L224.0 601.0 L217.0 596.0Z" fill="none" stroke="#3ae070" stroke-width="1.6" filter="url(#soft)" opacity="0.75"/>
<path d="M214.0 650.0 L220.0 642.0 L230.0 644.0 L236.0 656.0 L238.0 672.0 L237.0 694.0 L216.0 694.0 L215.0 676.0Z" fill="#1e50ff" filter="url(#soft05)"/>
<path d="M214.0 650.0 L220.0 642.0 L230.0 644.0 L236.0 656.0 L238.0 672.0 L237.0 694.0 L216.0 694.0 L215.0 676.0Z" fill="#000" filter="url(#holes)" opacity="0.5"/>
<path d="M224.1 688.9v0.7M217.6 691.5v1.3M217.1 647.4v1.5M217.3 645.8v0.6M223.9 660.3v0.8M226.9 691.4v0.8M225.9 688.0v1.2M214.3 655.9v1.4M226.4 685.0v0.7M215.5 677.6v1.1M233.5 691.8v1.1M235.4 662.9v1.6M233.4 670.9v1.2M224.9 650.9v1.5M232.4 666.5v1.5M234.8 685.1v0.8M226.1 657.8v1.2M237.0 684.7v1.3M223.7 656.8v1.4M222.3 668.0v1.3M228.6 671.4v0.8M230.4 657.9v0.8M229.5 661.5v1.4M234.6 674.1v1.1M230.9 656.1v0.9M231.2 654.4v1.5M234.2 693.3v1.5M224.7 679.8v1.6M225.2 673.1v1.6M217.0 682.7v1.1M232.4 686.6v1.3M224.5 676.6v1.2M226.9 676.1v0.7M215.4 681.2v1.2M232.2 680.4v1.4M218.3 644.8v1.5M220.4 681.9v1.6M218.8 646.3v1.1M219.8 673.5v0.9M220.2 688.6v0.8M232.8 665.6v1.1M231.7 663.7v1.0M221.1 646.7v1.2M228.3 662.5v1.0M227.5 685.6v1.4M227.0 654.2v1.1M234.4 673.9v0.6M225.7 656.2v1.1M234.5 675.5v1.1M236.4 687.4v1.4M227.2 674.0v1.0M237.0 678.5v1.4M215.3 671.0v1.3M230.3 689.5v1.6M225.1 665.3v1.1M223.6 655.1v1.3M223.0 671.6v0.8M228.4 653.4v0.7M217.9 686.1v1.0M229.7 645.6v1.4M226.7 668.2v0.7M227.3 678.2v1.6M221.0 684.2v1.4M219.3 650.3v1.3M221.9 666.6v1.4M227.9 654.0v0.9M226.6 650.9v1.2M232.1 680.4v0.7M233.7 657.2v1.5M216.3 688.8v1.0M231.0 660.4v1.2M222.8 661.8v0.9M236.0 659.3v0.9M221.1 656.2v1.3M224.6 690.1v1.3M220.1 642.2v1.2M226.8 693.8v0.9M230.2 670.0v0.8M235.7 681.9v1.5M233.8 679.6v1.4M227.0 671.6v0.6M215.5 658.6v1.1M231.4 673.8v1.5M234.0 690.3v0.8M236.7 680.8v1.0M219.3 645.0v1.1M226.3 685.6v1.3M230.7 651.7v0.7M228.6 649.3v0.7M234.3 675.5v1.6" stroke="#28c8b0" stroke-width="1.8" stroke-linecap="round" fill="none" stroke-opacity="0.6"/>
<path d="M214.0 650.0 L220.0 642.0 L230.0 644.0 L236.0 656.0 L238.0 672.0 L237.0 694.0 L216.0 694.0 L215.0 676.0Z" fill="none" stroke="#3ae070" stroke-width="1.6" filter="url(#soft)" opacity="0.75"/>
<path d="M192.0 602.0 L198.0 600.0 L199.0 640.0 L198.0 694.0 L192.0 694.0Z" fill="#1434d0" filter="url(#soft05)"/>
<path d="M192.0 602.0 L198.0 600.0 L199.0 640.0 L198.0 694.0 L192.0 694.0Z" fill="#000" filter="url(#holes)" opacity="0.7"/>
<path d="M198 602 C197 630, 197 660, 199 694" stroke="#30c060" stroke-width="1.1" fill="none" filter="url(#soft05)" opacity="0.8"/>
<path d="M210 620 C214 626, 212 634, 206 632 C202 628, 204 620, 210 620Z" fill="none" stroke="#30d048" stroke-width="1.0" filter="url(#soft05)" opacity="0.85"/>
<path d="M206 575 C210 580, 212 590, 208 596" fill="none" stroke="#30d048" stroke-width="1.0" filter="url(#soft05)" opacity="0.85"/>
<path d="M240 640 C244 650, 244 660, 240 670" fill="none" stroke="#30d048" stroke-width="1.0" filter="url(#soft05)" opacity="0.85"/>
<path d="M296 600 C300 620, 298 640, 300 660" fill="none" stroke="#30d048" stroke-width="1.0" filter="url(#soft05)" opacity="0.85"/>
<path d="M306 625 C308 640, 306 655, 309 670" fill="none" stroke="#30d048" stroke-width="1.0" filter="url(#soft05)" opacity="0.85"/>
<path d="M290 670 C294 680, 300 688, 304 694" fill="none" stroke="#30d048" stroke-width="1.0" filter="url(#soft05)" opacity="0.85"/>
<path d="M258 610 C260 630, 259 650, 261 670" fill="none" stroke="#30d048" stroke-width="1.0" filter="url(#soft05)" opacity="0.85"/>
<path d="M269.5 564 C269 600, 268.5 640, 269 694" stroke="#f01040" stroke-width="3.8" fill="none" filter="url(#soft)"/>
<path d="M269.5 564 C269 600, 268.5 640, 269 694" stroke="#ff3a68" stroke-width="1.8" fill="none" filter="url(#soft05)"/>
</g>
<rect x="219.7" y="604" width="67.3" height="66.4" fill="none" stroke="#f2aa28" stroke-width="1.4" stroke-dasharray="3.6 2.5"/>
<path d="M219.7 670.4L193 695.5 M287 670.4L322 695" stroke="#f2c060" stroke-width="1.1" stroke-dasharray="3.2 2.4" fill="none"/>
<rect x="298.4" y="688" width="20.4" height="2.8" fill="#fff"/>
<g clip-path="url(#chb)">
<rect x="192" y="697" width="131" height="131" fill="#000"/>
<path d="M305.9 704.2v0.7M301.8 697.6v0.8M315.6 750.8v1.1M280.9 719.4v1.6M200.0 721.8v1.5M290.8 783.0v1.1M242.5 710.4v0.6M269.8 702.1v0.8M258.6 782.1v1.5M225.9 811.8v0.7M194.2 718.3v1.3M229.9 817.0v1.5M193.3 758.7v0.9M273.9 769.3v1.0M201.5 788.7v1.0M272.6 732.0v1.5M303.4 759.1v1.4M265.4 817.2v1.4M303.2 734.0v0.7M209.8 783.9v0.8M291.9 739.0v0.9M285.3 740.0v0.9M316.5 736.8v1.2M237.6 795.3v1.2M221.4 728.1v1.5M250.5 784.4v0.9M255.6 811.9v1.0M303.3 741.5v1.2M224.6 730.3v1.4M282.3 779.5v1.3M223.5 718.8v0.7M264.4 748.7v0.8M292.2 710.7v0.7M216.8 825.6v0.8M225.8 742.5v1.0M295.6 782.6v0.9M193.7 715.7v1.0M309.9 766.1v1.0M265.7 735.3v0.6M230.3 765.3v1.4M209.8 779.5v1.1M244.8 742.1v1.5M212.1 784.6v0.8M227.4 745.0v0.7M289.4 727.1v1.1M212.2 819.5v0.7M275.9 784.3v1.0M296.8 805.0v1.0M304.4 768.6v1.4M192.2 704.7v0.7M308.9 788.4v1.5M291.6 777.1v1.1M314.9 786.0v1.5M223.1 792.1v1.2M231.9 769.1v1.6M321.1 794.7v0.8M285.8 806.5v1.1M213.3 825.4v1.1M314.4 722.9v1.6M208.5 799.5v1.6M231.6 768.4v1.6M203.2 817.4v0.9M254.3 786.5v1.1M201.5 757.6v1.4M258.1 725.3v1.0M276.3 709.7v0.9M306.6 712.3v1.2M232.8 795.7v1.4M273.9 761.2v1.3M225.2 824.5v0.8M278.6 728.4v0.8M227.8 738.0v1.1M287.5 796.4v1.0M297.7 713.1v1.4M305.1 801.9v1.2M239.7 722.8v1.2M303.6 768.6v1.5M233.6 706.5v0.8M241.0 757.7v0.7M221.2 758.5v1.4M193.2 735.1v1.4M223.9 726.6v1.5M223.5 747.2v0.7M209.1 740.5v1.3M231.3 781.9v1.5M317.7 805.2v0.6M303.9 824.5v0.8M281.6 765.6v1.4M219.7 779.7v0.8M319.1 750.7v1.5M301.9 764.6v0.7M246.5 801.4v1.6M303.4 704.2v0.8M274.7 768.7v0.6M240.9 819.7v1.3M202.4 803.7v0.7M221.0 806.1v1.5M204.7 713.2v1.1M229.0 702.0v0.9M193.7 768.6v1.5M224.3 697.1v0.8M250.7 708.7v1.0M272.9 764.6v0.9M291.6 774.1v1.2M297.3 826.0v1.0M207.4 817.9v1.4M217.6 798.1v1.6M302.7 726.0v0.8M284.9 760.6v0.9M300.3 804.2v1.1M262.7 776.1v1.0M251.6 747.6v1.3M227.3 760.3v1.2M302.6 709.6v0.9M202.5 745.7v1.4M279.8 791.9v1.4M305.3 787.5v1.4M229.7 733.3v0.9M245.7 726.8v1.0M277.8 704.3v0.7M229.4 771.1v0.7M242.6 731.7v1.5M250.1 797.0v0.8M308.5 754.3v1.3M240.7 703.8v0.7M268.0 803.8v1.1M213.4 823.2v1.0M223.3 775.1v0.7M296.0 790.8v1.3M311.0 761.6v1.5M202.7 783.5v0.7M215.5 819.7v1.5M254.6 793.1v0.7M288.1 727.1v0.8M295.6 813.3v1.1M233.0 732.2v1.5M210.9 811.8v0.9M273.0 736.2v1.3M227.8 815.6v0.9M305.0 762.9v1.0M275.6 717.9v0.7M220.7 802.4v1.2M215.5 803.4v1.1M293.2 807.7v0.9M293.9 719.7v0.9M221.8 783.8v0.8M281.0 810.2v1.3M306.7 698.4v1.6M215.9 801.2v0.8M241.6 799.5v0.7M257.9 776.1v1.3M204.6 770.1v0.7M316.5 747.7v1.6M200.6 768.8v1.2M255.0 755.7v1.0M272.7 718.7v0.9M282.5 771.9v1.3M205.5 753.3v1.0M208.3 778.7v1.0M321.1 704.9v0.9M281.1 707.2v0.7M309.6 772.1v1.4M277.0 768.0v1.2M290.0 790.2v1.0M217.7 739.5v1.3M212.3 783.8v1.0M199.9 734.0v1.3M321.4 736.6v1.3M322.6 803.7v1.3M287.5 702.4v1.2M288.5 711.3v1.5M206.4 758.5v1.3M278.9 749.6v0.8M209.9 792.8v0.9M266.4 807.7v1.2M297.2 698.0v0.7M207.8 759.4v0.8M217.9 765.1v1.1M258.9 813.8v1.6M313.3 803.6v1.2M298.9 767.9v0.8M233.6 735.1v1.1M203.1 805.3v0.9M296.7 811.8v1.1M297.6 763.5v1.0M263.4 802.3v1.6M215.8 754.3v1.6M240.5 739.1v1.5M318.6 772.0v1.5M301.0 769.5v0.8M253.1 800.2v1.5M216.5 752.8v1.2M277.0 736.4v0.7M228.0 765.5v1.5M242.6 708.7v1.2M250.1 748.6v0.9M308.4 749.3v1.3M257.3 790.9v0.6M271.4 808.0v1.6M273.5 760.0v0.9M309.2 802.1v1.4M198.1 781.0v0.6M215.7 754.6v1.1M243.2 809.9v1.0M217.8 733.2v0.8M238.4 706.4v1.5M207.6 728.5v0.7M306.2 786.4v0.7M221.0 740.2v0.9M241.8 810.2v0.7M268.7 824.5v1.3M311.2 741.8v1.2M214.5 772.3v1.5M277.0 789.2v0.7M303.2 744.7v1.6M319.2 725.8v1.2M255.1 766.3v1.4M298.7 815.8v0.7M248.7 763.8v1.3M257.2 785.1v1.5M295.7 718.7v1.0M307.1 763.0v1.0M226.1 733.7v1.3M316.8 816.6v1.3M300.2 752.9v1.0M252.3 721.2v1.2M205.9 802.8v1.2M224.5 803.9v1.5M310.1 741.7v0.9M279.5 734.8v1.1M281.8 740.7v1.0M199.3 820.1v1.5M220.8 771.0v1.3M297.6 749.7v0.9M207.7 703.6v1.5M234.3 712.4v1.4M202.9 771.5v0.8M303.5 724.8v1.0M259.9 714.0v0.9M255.8 710.5v0.7M279.5 726.1v0.8M199.3 745.2v0.9M214.2 796.5v0.6M236.7 738.2v1.0M276.4 820.9v0.9M318.2 698.1v1.2M311.3 797.5v1.0M209.0 744.1v1.2M196.5 722.0v1.0M245.2 720.2v1.5M246.7 703.6v0.6M271.4 777.8v1.1M256.9 767.5v1.0M222.4 726.0v1.4M265.9 712.9v1.2M321.7 766.0v0.6M209.4 725.2v1.4M197.8 712.5v1.2M238.8 713.5v0.7M288.1 779.2v1.0M230.1 801.4v0.9M246.9 715.5v0.9M288.1 810.5v0.6M241.8 702.2v0.8M226.2 819.0v1.6M274.4 807.5v0.9M261.3 816.9v1.1M271.2 762.4v1.6M270.8 791.0v0.7M233.7 766.2v1.5M256.5 812.0v0.9M255.1 750.7v1.4M215.6 789.9v0.8M214.3 772.7v1.1M294.5 761.0v1.1M258.1 769.0v0.7M301.4 753.8v1.2M255.0 817.6v1.0M249.6 814.6v0.6M299.6 800.7v0.9M203.5 724.1v1.5M278.9 738.8v0.7M270.5 766.5v1.1M289.8 709.3v0.8M265.8 730.6v1.2M290.6 801.4v1.3M286.3 795.3v1.3M268.9 819.0v0.8M223.0 753.5v0.9M225.2 705.5v1.0" stroke="#1c22ff" stroke-width="2.2" stroke-linecap="round" fill="none" stroke-opacity="0.85"/>
<path d="M268.5 776.9v1.3M320.4 755.2v1.1M292.3 806.0v1.3M316.7 763.6v1.3M314.4 804.9v1.1M271.2 733.6v1.2M276.4 699.4v0.6M316.6 808.5v1.1M276.3 700.4v1.0M195.8 808.0v1.2M223.3 778.3v1.5M228.7 755.6v1.6M293.1 764.5v0.7M216.6 744.1v0.9M236.6 783.7v1.1M252.8 724.5v1.4M245.6 770.1v1.2M262.1 775.6v1.3M289.6 759.8v0.9M231.0 776.5v1.0M235.2 775.5v1.1M287.6 787.8v0.9M260.9 733.1v0.7M306.7 820.4v1.0M255.8 761.3v0.7M267.1 767.6v1.2M248.7 700.1v1.2M259.9 803.9v1.3M221.8 787.5v1.5M248.9 698.9v0.7M216.2 772.9v1.5M208.1 737.3v0.7M314.2 700.1v1.5M263.7 826.5v1.2M263.8 740.9v1.5M249.3 756.9v1.4M265.9 784.1v1.2M195.7 824.3v1.3M194.1 777.6v1.0M240.6 725.1v0.9M229.0 705.7v1.3M308.2 805.5v1.1M231.6 742.9v1.3M308.1 720.5v0.8M219.1 729.5v0.8M312.4 762.6v1.1M239.4 744.9v1.4M303.5 784.5v1.3M226.4 814.3v1.3M264.3 728.7v1.1M317.1 773.0v1.3M195.1 731.5v1.5M276.3 775.7v1.1M270.0 732.7v1.2M307.4 740.3v1.5M226.5 809.7v1.5M292.7 796.0v1.0M268.6 754.1v0.9M217.9 724.6v1.1M262.0 744.4v1.2M287.0 778.4v1.2M271.5 723.5v1.0M247.3 768.6v1.3M232.2 722.6v1.3M284.1 820.1v1.1M287.3 816.7v1.6M289.7 783.4v1.2M264.4 806.6v1.4M211.8 749.9v1.3M287.4 822.8v0.6M321.7 703.9v1.3M293.7 758.9v1.0M226.3 802.3v0.7M300.3 759.1v0.7M217.8 796.6v1.6M317.1 791.6v1.5M210.5 824.9v1.1M252.7 783.1v0.7M223.8 728.3v1.5M248.1 730.8v1.6M290.7 757.0v0.8M259.9 780.7v1.1M206.8 738.7v1.0M246.1 789.5v1.5M304.6 708.1v1.3M272.5 756.1v1.2M263.4 727.0v1.0M314.9 796.4v1.0M198.4 796.8v1.1M231.1 814.1v0.7M294.6 799.5v0.8M237.7 797.8v1.0M250.8 764.1v1.0M264.7 807.2v0.7M272.6 753.5v1.1M231.2 727.4v1.4M194.1 784.0v1.0M199.2 799.7v1.3M226.9 738.2v1.1M230.2 741.4v0.9M274.9 743.4v0.8M270.3 816.6v0.6M295.0 704.9v0.7M260.3 804.3v1.2M210.9 736.6v1.4M227.9 817.7v1.4M314.9 780.2v0.8M208.1 806.3v1.4M300.4 716.6v0.7M241.2 821.9v0.9M238.6 826.6v1.1M298.9 800.2v1.2M316.3 698.6v1.3M243.1 717.7v0.9M308.4 707.0v0.8M295.3 761.5v1.6M230.8 711.4v1.1M228.3 820.4v1.5M195.5 756.4v1.0M284.6 787.9v0.9M266.2 728.4v1.4M282.7 808.4v1.0M293.8 787.6v0.7M317.6 765.0v0.9M298.5 723.3v1.5M269.7 710.4v1.3M315.3 713.8v1.3M229.7 730.3v0.9M288.4 795.7v1.1M280.4 797.3v0.8M210.3 699.1v1.3M292.4 792.1v1.1M202.9 699.1v1.2M290.9 795.4v1.4M260.3 749.7v0.8M304.7 817.9v1.6M205.0 813.7v1.0M292.8 744.4v1.3M240.2 734.6v0.8M315.6 792.9v1.0M241.0 729.1v0.6M278.6 763.1v1.3M271.4 779.9v1.3M197.9 799.2v1.2M253.6 716.3v1.0M263.5 822.5v1.5M205.8 790.4v1.2M194.1 778.3v1.5M211.8 761.3v0.7M305.1 770.0v0.9M269.2 771.5v1.4M304.7 757.7v1.2M216.7 755.1v1.6M270.8 724.2v0.8M229.4 776.6v1.0M223.3 715.8v1.4M297.8 770.4v0.8M196.2 736.7v1.5M197.0 816.0v0.7M234.5 743.6v1.4M262.7 805.3v0.7M299.8 726.9v1.3M309.1 785.8v1.0M231.0 776.7v1.3M292.1 792.1v0.6M295.3 819.4v0.9M219.6 769.6v0.9M245.7 793.7v1.2M265.0 799.0v1.5M296.7 697.2v1.1M223.0 797.1v0.8M313.2 799.6v1.2M255.8 798.2v1.0M301.5 797.5v1.3M218.4 785.0v1.3M255.8 785.1v1.6M278.0 826.3v1.2M192.0 810.0v1.2M305.4 800.9v0.9M245.0 805.1v0.8M255.9 782.9v1.4M196.6 737.8v1.5M299.8 802.1v1.3M278.6 701.3v1.2M226.6 701.1v1.1M319.7 697.2v1.3M236.7 789.7v1.0M236.8 705.3v1.0M298.9 789.7v0.9M212.2 772.1v1.3M294.0 707.2v1.5M303.7 730.4v1.4M296.4 821.8v1.1M210.5 705.0v1.4M280.6 795.1v1.0M317.7 731.2v0.7M234.5 786.6v1.2M254.3 746.6v1.5M237.0 800.7v1.4M318.6 740.2v1.1M271.3 729.5v0.9M204.7 760.3v1.6M295.5 728.8v0.7M251.9 790.3v0.7M206.4 826.8v1.0M265.3 785.5v1.4M279.5 756.3v1.2M312.6 757.0v1.0M246.5 749.0v0.9M320.3 702.2v1.1M248.1 697.3v0.6M309.0 741.0v0.7M302.2 813.3v0.8M238.6 728.5v1.1M249.4 710.1v1.3M285.1 782.2v1.1M206.4 726.2v1.1M237.4 811.8v1.6M239.5 789.0v1.5M210.1 726.8v0.8M292.4 727.1v1.4M265.3 804.3v0.6M298.1 785.4v1.6M295.3 771.0v0.7M266.8 706.2v1.6M243.8 701.1v0.8M293.2 799.5v1.4M307.6 787.1v0.7M261.8 825.6v0.6M244.6 738.8v1.5M301.4 794.8v1.0M277.0 709.7v0.9M248.1 719.9v1.4M247.6 822.5v0.8M236.5 770.7v0.7M263.6 725.4v1.5M284.1 804.2v1.3M242.6 715.3v0.7M262.6 788.4v1.3M293.5 814.3v1.6M255.4 775.6v1.2M234.8 798.2v1.1M223.2 729.5v1.1M230.6 811.8v0.9M302.2 741.3v1.0M291.4 820.8v0.7M195.6 800.1v1.3M298.0 824.5v1.5M192.3 796.0v1.4M227.2 765.5v1.2M255.4 744.1v0.8M252.6 733.2v1.2M248.9 778.0v1.4M226.1 764.7v1.4M245.2 732.3v0.8M219.1 806.5v0.8M216.9 767.0v0.7M219.8 770.9v1.0M231.5 785.0v1.3M316.9 773.0v1.4M259.0 761.4v0.7M233.0 762.8v1.0M215.4 798.8v1.4M252.4 821.2v0.6M291.3 739.2v0.8M253.8 784.1v0.9M281.1 816.3v1.3M232.5 736.8v1.4M203.7 729.9v1.4M263.5 700.0v0.7M304.7 723.2v1.2M255.9 719.5v1.2M300.4 781.3v0.8M256.1 718.2v1.2M270.8 739.6v1.4M304.1 817.8v0.9M287.4 739.5v1.6M294.0 707.6v1.3M303.9 767.3v1.1M322.4 738.2v0.8M272.1 709.0v0.9M278.8 704.2v0.8M262.3 749.4v1.4M257.1 765.2v0.6M319.3 727.1v1.3M282.8 790.9v1.3M283.1 808.0v1.1M263.1 732.5v1.4M197.0 813.7v1.2M254.8 797.7v0.8" stroke="#1014b0" stroke-width="2.0" stroke-linecap="round" fill="none" stroke-opacity="0.8"/>
<path d="M196.0 800.0 L199.0 788.0 L205.0 780.0 L211.0 774.0 L216.0 766.0 L221.0 763.0 L226.0 766.0 L229.0 773.0 L233.0 781.0 L236.0 792.0 L238.0 806.0 L236.0 818.0 L234.0 828.0 L198.0 828.0 L194.0 815.0Z" fill="#1e4cff" filter="url(#soft05)"/>
<path d="M196.0 800.0 L199.0 788.0 L205.0 780.0 L211.0 774.0 L216.0 766.0 L221.0 763.0 L226.0 766.0 L229.0 773.0 L233.0 781.0 L236.0 792.0 L238.0 806.0 L236.0 818.0 L234.0 828.0 L198.0 828.0 L194.0 815.0Z" fill="#000" filter="url(#holes)" opacity="0.45"/>
<path d="M215.6 792.1h0M203.2 788.7h0M199.9 824.9h0M202.3 802.8h0M220.5 771.1h0M232.3 820.3h0M226.7 792.4h0M215.8 810.4h0M221.8 808.3h0M222.1 791.6h0M207.4 783.5h0M215.1 825.1h0M228.1 772.5h0M205.5 785.2h0M198.9 796.6h0M197.8 797.9h0M213.1 789.7h0M209.8 785.1h0M209.5 819.1h0M214.6 769.8h0M218.1 778.5h0M217.7 818.6h0M196.9 814.5h0M223.3 783.3h0M216.5 775.2h0M199.4 825.4h0M223.5 801.2h0M231.3 785.8h0M205.9 811.2h0M211.4 785.3h0M216.2 792.1h0M202.3 799.3h0M207.0 821.2h0M208.3 791.6h0M213.8 782.6h0M221.7 818.1h0M214.8 778.1h0M198.6 815.1h0M198.5 793.2h0M219.1 816.4h0M218.1 766.3h0M220.8 784.9h0M227.2 774.3h0M201.5 825.3h0M215.2 806.4h0M216.2 783.2h0M213.1 824.4h0M213.2 820.7h0M199.0 821.7h0M220.4 768.1h0M222.1 820.3h0M220.1 807.2h0M198.0 818.2h0M236.3 800.9h0M214.9 793.1h0M215.7 792.0h0M233.5 820.7h0M237.0 808.7h0M221.0 811.8h0M207.9 824.5h0M201.4 805.1h0M235.5 813.3h0M230.6 820.7h0M217.8 767.2h0M212.1 789.3h0M200.7 818.0h0M234.4 795.5h0M224.8 767.4h0M231.2 790.2h0M220.7 789.8h0M228.1 826.8h0M226.1 786.6h0M199.9 793.2h0M216.8 787.0h0M233.7 822.0h0M211.8 800.2h0M225.4 819.2h0M231.3 793.2h0M226.3 776.4h0M224.2 779.7h0M217.7 775.6h0M214.7 813.8h0M217.8 820.6h0M209.0 777.8h0M221.5 793.7h0M213.5 794.9h0M221.7 764.1h0M235.7 813.0h0M233.6 808.7h0M233.0 817.4h0M230.0 787.0h0M233.0 814.8h0M200.5 820.1h0M214.1 773.3h0M221.4 825.7h0M207.6 810.7h0M213.5 784.3h0M223.0 810.7h0M224.0 789.1h0M220.6 817.3h0M229.6 776.3h0M199.9 816.5h0M201.5 826.6h0M202.0 819.5h0M201.4 793.1h0M202.3 809.0h0M207.5 820.3h0M227.3 776.3h0M211.8 808.7h0M204.0 783.0h0M217.3 779.9h0M219.5 822.9h0M195.3 809.6h0M212.4 818.7h0M230.1 792.8h0M225.2 777.5h0M229.4 785.5h0M217.9 805.1h0M215.4 798.6h0M226.1 799.8h0M233.8 817.8h0M208.9 785.8h0M205.1 793.1h0M216.6 812.3h0M218.2 768.3h0M208.6 778.1h0M236.2 811.6h0M219.4 784.0h0M211.4 802.0h0M220.9 795.1h0M214.9 800.6h0M219.4 774.9h0M233.6 809.6h0M235.8 800.2h0M206.4 786.9h0M214.2 815.1h0M208.8 797.0h0M208.4 823.8h0M226.8 802.8h0M209.9 780.6h0M219.0 785.1h0M204.5 785.5h0M212.0 807.1h0M208.1 800.7h0M210.4 794.6h0M199.2 819.4h0M230.9 794.6h0M214.3 810.4h0M223.2 793.3h0M200.0 823.1h0M216.8 820.0h0M220.8 816.3h0M222.1 785.5h0M197.5 814.5h0M220.4 811.4h0M206.7 818.7h0M233.8 814.6h0M199.4 818.6h0M231.6 804.7h0M226.6 786.4h0M212.2 807.9h0M228.9 826.4h0M218.4 807.5h0M215.9 793.6h0M231.2 795.4h0M228.7 799.5h0M211.0 783.0h0M220.9 780.9h0M201.9 803.8h0M208.7 801.3h0M206.5 820.0h0M213.4 796.2h0M209.8 825.8h0M230.8 796.5h0M217.1 821.2h0M196.4 819.5h0M207.1 818.2h0M228.8 822.9h0M218.2 816.1h0M226.4 795.8h0M220.2 765.2h0M203.2 786.4h0M203.5 802.8h0M213.7 795.0h0M222.7 766.9h0M222.6 812.6h0M208.5 789.4h0M224.2 777.7h0M204.6 822.3h0M226.7 770.4h0M221.2 795.4h0M199.3 803.9h0M221.9 817.5h0M214.6 807.5h0M198.9 813.3h0M217.1 822.3h0M229.5 824.3h0M200.7 803.0h0M227.7 820.5h0M202.7 786.9h0" stroke="#30d0a0" stroke-width="1.5" stroke-linecap="round" fill="none" stroke-opacity="0.55"/>
<path d="M196.0 800.0 L199.0 788.0 L205.0 780.0 L211.0 774.0 L216.0 766.0 L221.0 763.0 L226.0 766.0 L229.0 773.0 L233.0 781.0 L236.0 792.0 L238.0 806.0 L236.0 818.0 L234.0 828.0 L198.0 828.0 L194.0 815.0Z" fill="none" stroke="#40e070" stroke-width="1.2" filter="url(#soft05)" opacity="0.6"/>
<path d="M208 800 C214 796, 220 793, 226 795 M220 780 C222 790, 224 800, 228 812 M204 784 C208 778, 212 776, 216 772" stroke="#40f070" stroke-width="1.3" fill="none" filter="url(#soft05)" opacity="0.8"/>
<path d="M212.0 712.0 L220.0 708.0 L232.0 712.0 L236.0 725.0 L234.0 742.0 L226.0 746.0 L218.0 738.0 L214.0 725.0Z" fill="#1a3ae0" filter="url(#soft05)"/>
<path d="M212.0 712.0 L220.0 708.0 L232.0 712.0 L236.0 725.0 L234.0 742.0 L226.0 746.0 L218.0 738.0 L214.0 725.0Z" fill="#000" filter="url(#holes)" opacity="0.6"/>
<path d="M212.0 712.0 L220.0 708.0 L232.0 712.0 L236.0 725.0 L234.0 742.0 L226.0 746.0 L218.0 738.0 L214.0 725.0Z" fill="none" stroke="#40f070" stroke-width="1.3" filter="url(#soft05)"/>
<path d="M205 705 C206 715, 205 725, 207 735" stroke="#40f070" stroke-width="1.3" fill="none" filter="url(#soft05)"/>
<path d="M280 697 L289 697 L290 828 L282 828 Z" fill="#1a3cff" filter="url(#fine)"/>
<path d="M281.6 775.7h0M284.0 816.2h0M284.7 781.9h0M284.6 732.8h0M284.5 734.5h0M286.7 802.9h0M284.8 697.7h0M282.4 750.1h0M287.4 716.2h0M282.8 789.7h0M284.1 812.7h0M288.7 825.6h0M280.8 773.0h0M288.7 737.1h0M288.2 779.7h0M286.7 749.5h0M282.2 818.4h0M282.8 711.7h0M282.1 802.0h0M283.7 745.1h0M280.8 778.1h0M286.9 816.7h0M286.5 804.1h0M288.7 808.8h0M286.0 781.5h0M283.4 801.7h0M288.8 736.7h0M282.7 819.9h0M282.2 810.1h0M282.7 724.6h0M288.5 749.5h0M289.5 764.1h0M283.2 748.7h0M288.3 775.5h0M288.1 779.3h0M288.2 797.9h0M280.2 725.4h0M281.5 758.8h0M284.0 748.7h0M286.7 721.8h0M284.5 796.6h0M287.5 809.2h0M287.0 714.5h0M288.9 744.9h0M282.7 784.2h0M284.0 783.4h0M281.7 744.5h0M281.1 719.1h0M287.4 738.3h0M281.2 779.7h0M289.0 802.4h0M284.7 799.2h0M286.8 806.3h0M282.9 727.3h0M286.2 706.9h0M281.5 735.4h0M286.4 814.0h0M282.8 765.6h0M287.5 769.0h0M287.2 722.6h0M282.3 728.2h0M283.4 733.5h0M287.1 800.2h0M283.8 736.1h0M280.4 731.6h0M281.9 767.6h0M288.0 798.5h0M282.3 746.3h0M285.1 793.9h0M285.5 716.1h0M286.7 763.6h0M282.5 763.5h0M280.8 699.5h0M288.0 795.1h0M282.9 793.4h0M283.4 731.0h0M288.9 820.5h0M282.5 797.5h0M280.7 713.5h0M284.1 826.3h0M281.2 803.4h0M289.5 794.8h0M282.9 767.7h0M283.5 787.9h0M286.1 743.4h0M281.9 812.9h0M289.8 788.9h0M282.7 701.3h0M289.1 744.9h0M282.1 732.5h0M289.3 815.1h0M280.7 708.9h0M281.0 772.7h0M282.6 769.9h0M284.5 717.2h0M282.5 791.6h0M286.6 777.4h0M287.9 699.4h0M285.7 810.2h0M287.3 734.3h0M281.5 787.2h0M284.8 752.4h0M289.6 795.1h0M285.1 786.9h0M280.3 713.4h0M286.7 743.5h0M280.8 758.5h0M281.6 805.6h0M285.0 785.9h0M281.0 765.3h0M283.7 780.8h0M282.0 724.1h0M287.1 737.1h0M284.4 796.6h0M285.7 778.1h0M281.3 728.4h0M280.9 728.2h0M284.2 787.3h0M282.0 826.1h0M286.8 724.9h0M287.5 809.9h0M280.6 716.1h0M285.8 735.8h0M287.7 765.3h0M288.9 771.2h0M282.8 783.9h0M280.7 711.2h0M286.7 730.0h0M281.5 717.9h0M279.6 699.9h0M281.4 704.2h0M284.7 787.8h0M286.1 821.4h0M282.2 779.1h0M281.2 767.3h0M286.8 762.7h0M283.5 751.9h0M282.7 760.6h0M285.1 822.6h0M283.4 786.1h0M288.4 763.2h0M282.2 779.6h0M283.2 747.3h0M281.0 724.5h0M282.0 730.3h0M289.6 793.1h0M287.2 768.7h0M287.5 780.3h0M281.6 714.9h0M284.2 707.0h0" stroke="#2458ff" stroke-width="1.6" stroke-linecap="round" fill="none" stroke-opacity="0.85"/>
<path d="M278 705 C279 730, 280 760, 281 790" stroke="#40e060" stroke-width="1.2" fill="none" filter="url(#soft05)"/>
<path d="M300 735 C302 745, 300 752, 302 760" stroke="#40e060" stroke-width="1.4" fill="none" filter="url(#soft05)" opacity="0.8"/>
<path d="M293 697 C293 730, 292.5 770, 294 828" stroke="#ff0c30" stroke-width="9" fill="none" filter="url(#soft)"/>
<path d="M293 697 C293 730, 292.5 770, 294 828" stroke="#ff4070" stroke-width="2.5" fill="none" filter="url(#soft)" opacity="0.8"/>
</g>
<text x="285" y="715.6" font-size="8.6" text-anchor="middle" fill="#fff">PO</text>
<text x="295.4" y="709.4" font-size="8.6" text-anchor="middle" fill="#fff">PO</text>
<text x="214" y="817.8" font-size="8.0" text-anchor="middle" fill="#fff">Ct.B</text>
<text x="252.8" y="818.6" font-size="8.0" text-anchor="middle" fill="#fff">Ct.B</text>
<text x="337.5" y="556.5" font-size="18" font-weight="bold">j</text>
<text x="408" y="561.4" font-size="11.6" text-anchor="middle">P3</text>
<text x="507" y="561.4" font-size="11.6" text-anchor="middle">4-week-old</text>
<text x="631.5" y="561.4" font-size="11.6" text-anchor="middle">8-week-old</text>
<rect x="344.5" y="564.8" width="14.8" height="264" fill="#000"/>
<text x="0" y="0" font-size="11.75" transform="translate(356.5,759) rotate(-90)"><tspan fill="#f01010">Angptl7-mScarlet</tspan><tspan fill="#fff"> / </tspan><tspan fill="#2a90dc">DAPI</tspan></text>
<defs>
<clipPath id="cj1"><rect x="362" y="565" width="86" height="263"/></clipPath><clipPath id="cj2"><rect x="451" y="565" width="118" height="263"/></clipPath><clipPath id="cj3"><rect x="572" y="565" width="113" height="263"/></clipPath>
<filter color-interpolation-filters="sRGB" id="jfine" filterUnits="userSpaceOnUse" x="0" y="0" width="685" height="828"><feTurbulence type="fractalNoise" baseFrequency="0.55" numOctaves="1" seed="21" result="t"/><feColorMatrix in="t" type="matrix" values="0 0 0 0 0 0 0 0 0 0 0 0 0 0 0 6 0 0 0 -2.5" result="m"/><feComposite in="SourceGraphic" in2="m" operator="in"/></filter>
<filter color-interpolation-filters="sRGB" id="jfine2" filterUnits="userSpaceOnUse" x="0" y="0" width="685" height="828"><feTurbulence type="fractalNoise" baseFrequency="0.45" numOctaves="2" seed="33" result="t"/><feColorMatrix in="t" type="matrix" values="0 0 0 0 0 0 0 0 0 0 0 0 0 0 0 7 0 0 0 -3.0" result="m"/><feComposite in="SourceGraphic" in2="m" operator="in"/></filter>
<filter color-interpolation-filters="sRGB" id="jholes" filterUnits="userSpaceOnUse" x="0" y="0" width="685" height="828"><feTurbulence type="fractalNoise" baseFrequency="0.2" numOctaves="2" seed="8" result="t"/><feColorMatrix in="t" type="matrix" values="0 0 0 0 0 0 0 0 0 0 0 0 0 0 0 9 0 0 0 -4.5" result="m"/><feComposite in="SourceGraphic" in2="m" operator="in"/></filter>
<filter color-interpolation-filters="sRGB" id="jholes2" filterUnits="userSpaceOnUse" x="0" y="0" width="685" height="828"><feTurbulence type="fractalNoise" baseFrequency="0.3" numOctaves="2" seed="14" result="t"/><feColorMatrix in="t" type="matrix" values="0 0 0 0 0 0 0 0 0 0 0 0 0 0 0 9 0 0 0 -4.3" result="m"/><feComposite in="SourceGraphic" in2="m" operator="in"/></filter>
<filter color-interpolation-filters="sRGB" id="jholes3" filterUnits="userSpaceOnUse" x="0" y="0" width="685" height="828"><feTurbulence type="fractalNoise" baseFrequency="0.07" numOctaves="2" seed="4" result="t"/><feColorMatrix in="t" type="matrix" values="0 0 0 0 0 0 0 0 0 0 0 0 0 0 0 8 0 0 0 -4.2" result="m"/><feComposite in="SourceGraphic" in2="m" operator="in"/></filter>
<filter color-interpolation-filters="sRGB" id="jholesv" filterUnits="userSpaceOnUse" x="0" y="0" width="685" height="828"><feTurbulence type="fractalNoise" baseFrequency="0.32 0.13" numOctaves="2" seed="17" result="t"/><feColorMatrix in="t" type="matrix" values="0 0 0 0 0 0 0 0 0 0 0 0 0 0 0 8 0 0 0 -3.9" result="m"/><feComposite in="SourceGraphic" in2="m" operator="in"/></filter>
<filter color-interpolation-filters="sRGB" id="jb1" filterUnits="userSpaceOnUse" x="0" y="0" width="685" height="828"><feGaussianBlur stdDeviation="1.2"/></filter>
<filter color-interpolation-filters="sRGB" id="jb05" filterUnits="userSpaceOnUse" x="0" y="0" width="685" height="828"><feGaussianBlur stdDeviation="0.5"/></filter>
</defs>
<g clip-path="url(#cj1)">
<rect x="362" y="565" width="86" height="263" fill="#000"/>
<path d="M362.0 601.0 L366.0 594.0 L370.0 585.0 L375.0 579.0 L381.0 575.0 L387.0 570.0 L395.0 566.0 L410.0 565.0 L420.0 568.0 L428.0 574.0 L434.0 582.0 L439.0 590.0 L444.0 602.0 L448.0 618.0 L448.0 828.0 L394.0 828.0 L387.0 808.0 L384.5 795.0 L383.0 780.0 L380.0 766.0 L375.0 754.0 L368.0 748.0 L362.0 748.0Z" fill="#05054a"/>
<path d="M362.0 601.0 L366.0 594.0 L370.0 585.0 L375.0 579.0 L381.0 575.0 L387.0 570.0 L395.0 566.0 L410.0 565.0 L420.0 568.0 L428.0 574.0 L434.0 582.0 L439.0 590.0 L444.0 602.0 L448.0 618.0 L448.0 828.0 L394.0 828.0 L387.0 808.0 L384.5 795.0 L383.0 780.0 L380.0 766.0 L375.0 754.0 L368.0 748.0 L362.0 748.0Z" fill="#1616b8" filter="url(#jfine)" opacity="0.45"/>
<path d="M362.0 601.0 L366.0 594.0 L370.0 585.0 L375.0 579.0 L381.0 575.0 L387.0 570.0 L395.0 566.0 L410.0 565.0 L420.0 568.0 L428.0 574.0 L434.0 582.0 L439.0 590.0 L444.0 602.0 L448.0 618.0 L448.0 828.0 L394.0 828.0 L387.0 808.0 L384.5 795.0 L383.0 780.0 L380.0 766.0 L375.0 754.0 L368.0 748.0 L362.0 748.0Z" fill="#000" filter="url(#jholes2)" opacity="0.45"/>
<path d="M362 766 L368 768 L373 778 L377 792 L377 804 L371 809 L362 809 Z" fill="#1414c0"/>
<path d="M362 766 L368 768 L373 778 L377 792 L377 804 L371 809 L362 809 Z" fill="#000" filter="url(#jholes2)" opacity="0.5"/>
<path d="M362 580 L368 575 L374 582 L368 595 L362 596 Z" fill="#0c0c90" filter="url(#jfine)"/>
<path d="M430 582 C438 598, 444 625, 447 660 L448 700" stroke="#1c1cd8" stroke-width="2.5" fill="none" filter="url(#jb1)" opacity="0.85"/>
<path d="M384.5 631 C384 606, 385.5 586, 391 575 C395 569, 400 566.5, 405 566.5 C412 566.5, 419 570, 424 577 C429 586, 431 606, 430.5 631 Z" fill="#09094a"/>
<path d="M384.5 631 C384 606, 385.5 586, 391 575 C395 569, 400 566.5, 405 566.5 C412 566.5, 419 570, 424 577 C429 586, 431 606, 430.5 631 Z" fill="#10108a" filter="url(#jfine2)" opacity="0.35"/>
<path d="M384.5 631 C384 606, 385.5 586, 391 575 C395 569, 400 566.5, 405 566.5 C412 566.5, 419 570, 424 577 C429 586, 431 606, 430.5 631 Z" fill="none" stroke="#1c1cd8" stroke-width="1.6" filter="url(#jb05)"/>
<rect x="386" y="623" width="43" height="8" fill="#030318" filter="url(#jb1)"/>
<path d="M388 632 L429 632 L428 700 L428 783 C420 788, 398 788, 390 783 L389 700 Z" fill="#0a0a78"/>
<path d="M388 632 L429 632 L428 700 L428 783 C420 788, 398 788, 390 783 L389 700 Z" fill="#2626e8" filter="url(#jfine)" opacity="0.5"/>
<path d="M388 632 L429 632 L428 700 L428 783 C420 788, 398 788, 390 783 L389 700 Z" fill="#000" filter="url(#jholes2)" opacity="0.5"/>
<path d="M386.5 632 C386 700, 388 760, 390 800 M431 632 C432 700, 431 760, 430 800" stroke="#03031c" stroke-width="1.8" fill="none"/>
<path d="M388 786 C396 792, 420 792, 430 786 L432 828 L402 828 C395 815, 390 805, 388 795Z" fill="#08085a"/>
<path d="M384.5 796 C388 808, 395 818, 403 828" stroke="#2020e8" stroke-width="2" fill="none" filter="url(#jb05)"/>
<path d="M367 640 C372 680, 370 720, 376 760 M441 640 C443 700, 441 760, 445 800 M376 600 C380 620, 378 640, 382 660" stroke="#000" stroke-width="1.2" fill="none" opacity="0.6"/>
</g>
<rect x="416.6" y="820" width="26.8" height="2.8" fill="#fff"/>
<g clip-path="url(#cj2)">
<rect x="451" y="565" width="118" height="263" fill="#000"/>
<path d="M451 600 C454 620, 456 640, 457 660 C458 700, 462 760, 468 828 L451 828 Z" fill="#0a0a8a"/>
<path d="M451 600 C454 620, 456 640, 457 660 C458 700, 462 760, 468 828 L451 828 Z" fill="#000" filter="url(#jholesv)" opacity="0.7"/>
<path d="M466 594 C470 584, 475 578, 482 574 C488 570, 494 567.5, 500 568 C508 570, 515 573, 522 572 C530 570, 536 569, 541 571 C548 576, 555 588, 559 600 C563 614, 566 630, 566 648 C566 665, 561 685, 554 700 C547 716, 541 740, 537 760 C533 780, 530 800, 528 828 L470 828 C467 800, 463 770, 461 740 C459 705, 457 670, 458 640 C459 620, 462 604, 466 594 Z" fill="#06064a"/>
<path d="M466 594 C470 584, 475 578, 482 574 C488 570, 494 567.5, 500 568 C508 570, 515 573, 522 572 C530 570, 536 569, 541 571 C548 576, 555 588, 559 600 C563 614, 566 630, 566 648 C566 665, 561 685, 554 700 C547 716, 541 740, 537 760 C533 780, 530 800, 528 828 L470 828 C467 800, 463 770, 461 740 C459 705, 457 670, 458 640 C459 620, 462 604, 466 594 Z" fill="none" stroke="#1818b8" stroke-width="1.4"/>
<path d="M471 597 C475 588, 480 582, 487 578 C492 575, 497 573, 502 574 C509 576, 515 578, 522 577 C529 576, 535 575, 540 577 C546 583, 552 593, 555 604 C559 620, 561 635, 561 650 C561 668, 556 686, 549 702 C543 718, 538 740, 534 760 C530 780, 526 800, 523 828 L474 828 C472 800, 469 772, 467 742 C465 705, 463 672, 464 645 C465 625, 467 608, 471 597 Z" fill="#1e2cfa"/>
<path d="M471 597 C475 588, 480 582, 487 578 C492 575, 497 573, 502 574 C509 576, 515 578, 522 577 C529 576, 535 575, 540 577 C546 583, 552 593, 555 604 C559 620, 561 635, 561 650 C561 668, 556 686, 549 702 C543 718, 538 740, 534 760 C530 780, 526 800, 523 828 L474 828 C472 800, 469 772, 467 742 C465 705, 463 672, 464 645 C465 625, 467 608, 471 597 Z" fill="#000" filter="url(#jfine2)" opacity="0.4"/>
<path d="M474 578 L552 578 L556 620 L474 620 Z" fill="#000" filter="url(#jholes2)" opacity="0.85"/>
<path d="M464 628 L562 628 L560 705 L466 705 Z" fill="#000" filter="url(#jholesv)" opacity="0.8"/>
<path d="M478 700 C490 698, 520 698, 540 702 C536 730, 530 770, 520 828 L480 828 C478 790, 477 740, 478 700 Z" fill="#000" filter="url(#jholesv)" opacity="0.75"/>
<path d="M480 705 C492 703, 518 703, 536 706 C532 740, 526 780, 518 828 L482 828 C480 790, 479 740, 480 705 Z" fill="#000" opacity="0.25" filter="url(#jb1)"/>
<path d="M469 599 C480 602, 492 610, 499 616 C503 619, 508 619, 516 618.5 C526 617, 533 613, 540 610 C546 608, 551 606, 557 605 L559 615 C552 616, 545 618, 540 620 C533 624, 527 629, 520 631 C513 632.5, 507 632, 502 629 C496 625, 490 622, 484 620 C478 618, 472 617, 467 617 Z" fill="#04042a" filter="url(#jb05)"/>
<path d="M469 599 C480 602, 492 610, 499 616 C503 619, 508 619, 516 618.5 C526 617, 533 613, 540 610 C546 608, 551 606, 557 605 L559 615 C552 616, 545 618, 540 620 C533 624, 527 629, 520 631 C513 632.5, 507 632, 502 629 C496 625, 490 622, 484 620 C478 618, 472 617, 467 617 Z" fill="#0c0c80" filter="url(#jfine2)" opacity="0.5"/>
<path d="M459 600 C456 640, 457 700, 463 760" stroke="#e02040" stroke-width="0.9" fill="none" opacity="0.85"/>
<path d="M563 610 C567 640, 567 660, 565 680" stroke="#e02040" stroke-width="0.8" fill="none" opacity="0.7"/>
</g>
<rect x="544" y="819.8" width="21" height="2.8" fill="#fff"/>
<g clip-path="url(#cj3)">
<rect x="572" y="565" width="113" height="263" fill="#000"/>
<path d="M572 640 C578 650, 584 670, 587 700 L590 760 L591 828 L572 828Z" fill="#1414b0"/>
<path d="M572 640 C578 650, 584 670, 587 700 L590 760 L591 828 L572 828Z" fill="#000" filter="url(#jholes2)" opacity="0.8"/>
<path d="M576 600 C578 640, 582 680, 586 700" stroke="#0c0c70" stroke-width="2" fill="none" opacity="0.6"/>
<path d="M588 590 C590 580, 594 574, 598 571 C604 572, 610 575, 616 575 C626 574, 636 570, 644 567 C648 566, 652 566, 654 567 C660 580, 668 605, 674 640 C678 670, 678 720, 677 760 L676 828 L590 828 C589 780, 588 720, 588 680 C587 640, 587 610, 588 590 Z" fill="#03031e"/>
<path d="M588 590 C590 580, 594 574, 598 571 C604 572, 610 575, 616 575 C626 574, 636 570, 644 567 C648 566, 652 566, 654 567 C660 580, 668 605, 674 640 C678 670, 678 720, 677 760 L676 828 L590 828 C589 780, 588 720, 588 680 C587 640, 587 610, 588 590 Z" fill="none" stroke="#1414a0" stroke-width="1"/>
<path d="M593 585 C596 578, 600 576, 604 576 C612 578, 620 578, 630 576 C638 574, 646 572, 652 572 C657 588, 662 610, 665 640 C668 680, 669 730, 669 770 L669 828 L599 828 C598 780, 597 720, 595 680 C594 640, 593 610, 593 585 Z" fill="#1e2cfa"/>
<path d="M593 585 C596 578, 600 576, 604 576 C612 578, 620 578, 630 576 C638 574, 646 572, 652 572 C657 588, 662 610, 665 640 C668 680, 669 730, 669 770 L669 828 L599 828 C598 780, 597 720, 595 680 C594 640, 593 610, 593 585 Z" fill="#000" filter="url(#jfine2)" opacity="0.35"/>
<path d="M592 574 L664 574 L666 700 L592 700 Z" fill="#000" filter="url(#jholes2)" opacity="0.85"/>
<path d="M592 600 L664 600 L666 680 L592 680 Z" fill="#000" filter="url(#jholes)" opacity="0.5"/>
<path d="M608 612 C615 625, 630 632, 650 622 L648 640 C632 648, 614 640, 606 628 Z" fill="#000" filter="url(#jb1)" opacity="0.35"/>
<path d="M592 700 L668 700 L668 828 L592 828 Z" fill="#000" filter="url(#jholesv)" opacity="0.35"/>
<path d="M615 700 C617 740, 616 780, 618 828 M631 690 C633 740, 632 790, 634 828" stroke="#000" stroke-width="3.5" fill="none" opacity="0.55" filter="url(#jb1)"/>
<path d="M590 588 C588 640, 588 690, 590 740" stroke="#ff2040" stroke-width="1" fill="none"/>
<path d="M654 568 C662 590, 670 620, 675 650 C678 675, 678 700, 677 720" stroke="#ff2040" stroke-width="1" fill="none"/>
</g>
<rect x="659.5" y="819.8" width="21.5" height="2.8" fill="#fff"/>
</svg></body></html>
